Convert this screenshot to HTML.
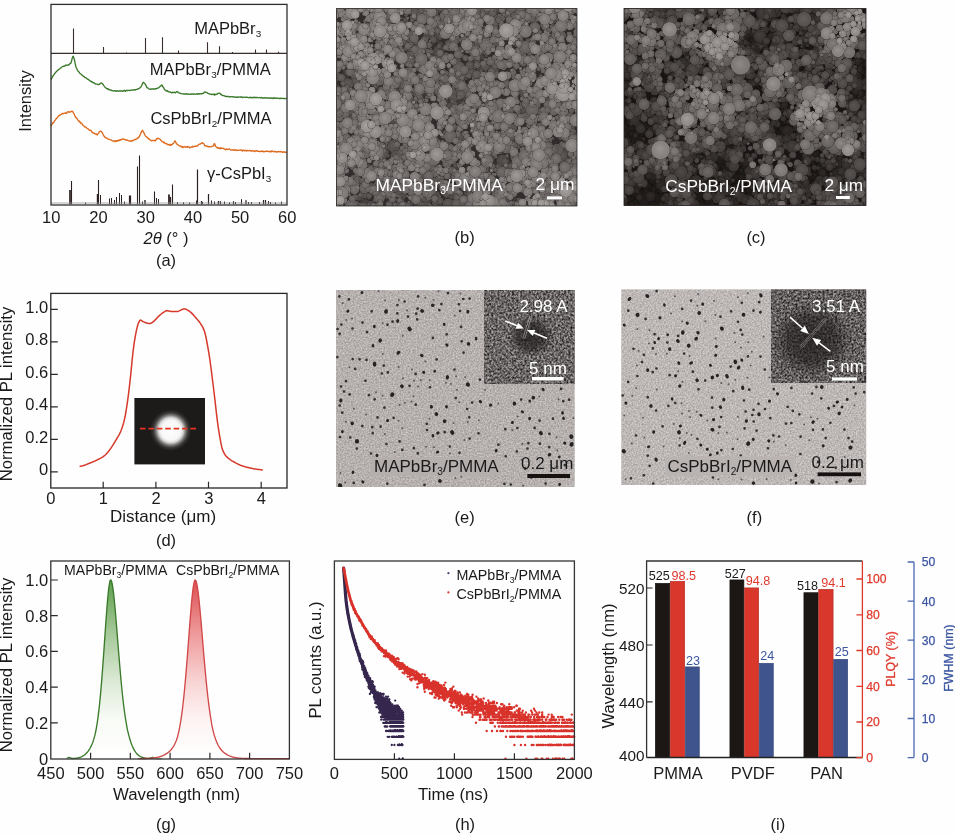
<!DOCTYPE html>
<html lang="en"><head><meta charset="utf-8"><title>Figure</title>
<style>html,body{margin:0;padding:0;background:#fefefe;overflow:hidden}svg{display:block}</style></head>
<body>
<svg width="955" height="835" viewBox="0 0 955 835" font-family='"Liberation Sans", Arial, sans-serif'>
<rect width="955" height="835" fill="#fefefe"/>
<g opacity="0.999">
<g id="a">
<path d="M73.5,53.4V28.5M103.5,53.4V47M145.5,53.4V38M162.5,53.4V37.3M178.5,53.4V50.4M207.5,53.4V42.2M219.5,53.4V46.2M232.5,53.4V52M255.5,53.4V49.5M266.5,53.4V49.5M278.5,53.4V51.8M126.5,53.4V52.4" stroke="#3a2e2c" stroke-width="1.1" fill="none"/>
<path d="M100.5,204.2V195M109.5,204.2V198.5M111.5,204.2V198M114.5,204.2V200M116.5,204.2V197M119.5,204.2V193M121.5,204.2V195M124.5,204.2V201.5M142.5,204.2V201.5M156.5,204.2V198M158.5,204.2V199M177.5,204.2V202M196.5,204.2V200.5M202.5,204.2V201.8M211.5,204.2V200.5M214.5,204.2V201.5M220.5,204.2V201.2M224.5,204.2V201.5M235.5,204.2V202M241.5,204.2V199.2M248.5,204.2V202M251.5,204.2V202M259.5,204.2V202M268.5,204.2V201M270.5,204.2V202M281.5,204.2V201.6M85.5,204.2V202.5M183.5,204.2V202.3M189.5,204.2V202.5M229.5,204.2V202.3M275.5,204.2V202.4" stroke="#2a2120" stroke-width="1.0" fill="none"/>
<path d="M71.5,204.2V181M98.5,204.2V180M137.5,204.2V166.4M139.5,204.2V155.4M154.5,204.2V191.6M172.5,204.2V184.4" stroke="#2a2120" stroke-width="1.1" fill="none"/>
<path d="M129.5,204.2V195.6M130.5,204.2V195.6M170.5,204.2V197M197.5,204.2V169.6M201.5,204.2V201M208.5,204.2V194M233.5,204.2V201.3M263.5,204.2V200M265.5,204.2V200" stroke="#2a2120" stroke-width="1.2" fill="none"/>
<path d="M246,204.2V200.3" stroke="#2a2120" stroke-width="1.3" fill="none"/>
<path d="M145,204.2V200M218.5,204.2V201" stroke="#2a2120" stroke-width="1.4" fill="none"/>
<path d="M97.6,204.2V194" stroke="#2a2120" stroke-width="1.6" fill="none"/>
<path d="M70,204.2V190" stroke="#2a2120" stroke-width="1.7" fill="none"/>
<path d="M169,204.2V194.6" stroke="#2a2120" stroke-width="1.8" fill="none"/>
<path d="M51.0,203H287.0" stroke="#9a9696" stroke-width="0.8"/>
<path d="M51,79.6 51.6,78.6 52.2,77.4 52.8,76 53.4,75.6 54,74.6 54.6,73.6 55.2,73 55.8,72.3 56.4,71.6 57,71 57.6,70.6 58.2,69.8 58.8,69.4 59.4,68.9 60,68.6 60.6,68.1 61.2,67.5 61.8,67 62.4,66.7 63,66.5 63.6,66.2 64.2,66.3 64.8,66.1 65.4,65.1 66,65.1 66.6,65.3 67.2,65.1 67.8,65 68.4,64.8 69,65 69.6,63.9 70.2,63.5 70.8,63.3 71.4,61.5 72,59.1 72.6,57 73.2,56.2 73.8,57.6 74.4,59.7 75,62.7 75.6,65.5 76.2,67.5 76.8,68.7 77.4,70.1 78,71 78.6,71.8 79.2,72.3 79.8,73.2 80.4,73.8 81,74.2 81.6,74.5 82.2,75.3 82.8,75.6 83.4,76.4 84,76.4 84.6,77.3 85.2,77.6 85.8,77.7 86.4,78.3 87,78.8 87.6,79.3 88.2,79.4 88.8,79.8 89.4,80.5 90,80.7 90.6,81.2 91.2,81.7 91.8,81.5 92.4,82.3 93,82.8 93.6,82.7 94.2,82.9 94.8,83.6 95.4,83.7 96,84.2 96.6,84.1 97.2,84.1 97.8,84.5 98.4,84.4 99,84.5 99.6,84.2 100.2,83.5 100.8,83 101.4,83 102,83.3 102.6,83.8 103.2,84.7 103.8,85.6 104.4,86.4 105,87.2 105.6,87.7 106.2,88.1 106.8,88.5 107.4,89.1 108,88.7 108.6,89.5 109.2,89.8 109.8,89.6 110.4,90.2 111,90.1 111.6,90.6 112.2,90.5 112.8,90.8 113.4,91 114,90.9 114.6,90.7 115.2,90.6 115.8,91.4 116.4,91 117,90.8 117.6,91 118.2,91 118.8,91.2 119.4,91 120,91 120.6,90.8 121.2,91.1 121.8,90.8 122.4,91.1 123,91.3 123.6,90.6 124.2,90.3 124.8,91 125.4,91.3 126,90.5 126.6,90.4 127.2,90.7 127.8,90.3 128.4,90.4 129,90.3 129.6,90.5 130.2,90.3 130.8,90.4 131.4,90.2 132,90 132.6,90.1 133.2,89.9 133.8,90 134.4,89.7 135,89.6 135.6,90 136.2,89.5 136.8,89.4 137.4,89.3 138,88.9 138.6,88.6 139.2,88.5 139.8,88 140.4,87.1 141,86.8 141.6,85.7 142.2,84.3 142.8,82.9 143.4,82.2 144,82.9 144.6,83.2 145.2,84.3 145.8,85 146.4,86.7 147,87.7 147.6,87.9 148.2,88.2 148.8,88.8 149.4,89.1 150,89.1 150.6,89.4 151.2,89 151.8,88.9 152.4,89 153,89 153.6,89 154.2,89 154.8,89 155.4,88.6 156,89 156.6,88.5 157.2,88.1 157.8,88.2 158.4,88.1 159,87.4 159.6,86.9 160.2,86.1 160.8,86.2 161.4,85.2 162,85 162.6,86.1 163.2,87.3 163.8,88 164.4,89.3 165,89.9 165.6,90.7 166.2,91 166.8,90.5 167.4,91.3 168,91.1 168.6,91.9 169.2,91.9 169.8,92.1 170.4,91.9 171,92.7 171.6,92.8 172.2,92.2 172.8,92.6 173.4,92.4 174,92.5 174.6,92.2 175.2,92.9 175.8,92.3 176.4,92.1 177,91.6 177.6,91.7 178.2,92.5 178.8,92.8 179.4,93.1 180,93.1 180.6,93.5 181.2,93.6 181.8,93.7 182.4,93.8 183,93.8 183.6,94.1 184.2,93.9 184.8,94 185.4,93.9 186,94 186.6,93.8 187.2,94.3 187.8,93.9 188.4,94 189,94.3 189.6,94.3 190.2,94.1 190.8,93.8 191.4,94.3 192,94.2 192.6,93.9 193.2,94.3 193.8,94 194.4,93.9 195,94.1 195.6,94.1 196.2,94.1 196.8,93.7 197.4,94.4 198,93.9 198.6,93.6 199.2,94.1 199.8,93.8 200.4,93.9 201,93.7 201.6,93.7 202.2,93.7 202.8,93.4 203.4,93.4 204,92.6 204.6,92 205.2,92 205.8,92.3 206.4,92.4 207,92.6 207.6,93.3 208.2,93.3 208.8,93.7 209.4,94.1 210,93.9 210.6,94.3 211.2,94.3 211.8,94.6 212.4,94.2 213,94.3 213.6,94.6 214.2,94 214.8,95.2 215.4,94.3 216,94.2 216.6,94.5 217.2,94.1 217.8,93.3 218.4,93.4 219,93.2 219.6,93.1 220.2,93.7 220.8,94.5 221.4,94.5 222,95.2 222.6,95.5 223.2,95.6 223.8,95.6 224.4,96 225,96 225.6,96.5 226.2,96.4 226.8,96.6 227.4,96.5 228,96.6 228.6,96.4 229.2,96.8 229.8,97 230.4,96.6 231,96.6 231.6,96.7 232.2,96.7 232.8,96.7 233.4,96.9 234,96.9 234.6,97.3 235.2,97 235.8,97.1 236.4,97.3 237,97 237.6,97.4 238.2,97 238.8,97 239.4,97.1 240,97.2 240.6,96.9 241.2,97.2 241.8,96.9 242.4,97.6 243,97.3 243.6,97.2 244.2,97.1 244.8,97.3 245.4,97.3 246,97.2 246.6,97.2 247.2,97.4 247.8,97.3 248.4,97.6 249,97.7 249.6,97.5 250.2,97.6 250.8,97.2 251.4,97.7 252,97.5 252.6,97.6 253.2,97.9 253.8,97.1 254.4,97.6 255,97.4 255.6,97.7 256.2,97.3 256.8,97.5 257.4,97.7 258,97.8 258.6,97.7 259.2,97.5 259.8,97.6 260.4,97.9 261,97.8 261.6,97.4 262.2,98 262.8,97.9 263.4,98 264,97.8 264.6,98 265.2,97.6 265.8,98 266.4,97.8 267,98.1 267.6,98.2 268.2,97.8 268.8,98 269.4,98 270,98.3 270.6,98.2 271.2,97.8 271.8,98.2 272.4,98.2 273,98.6 273.6,97.7 274.2,98 274.8,98.4 275.4,97.9 276,97.9 276.6,98.3 277.2,98.4 277.8,98.1 278.4,98.4 279,98.3 279.6,98.6 280.2,98.3 280.8,98.5 281.4,98.1 282,98.3 282.6,98.3 283.2,98.6 283.8,98.5 284.4,98.3 285,98.6 285.6,98.6 286.2,98.5 286.8,98.4" stroke="#3b7a2c" stroke-width="1.35" fill="none" stroke-linejoin="round"/>
<path d="M51,126.1 51.6,124.9 52.2,124 52.8,122.6 53.4,123 54,121.9 54.6,120.7 55.2,120.2 55.8,119.3 56.4,118.4 57,118.1 57.6,117.1 58.2,116.4 58.8,115.7 59.4,115.6 60,115 60.6,114.8 61.2,114.1 61.8,114 62.4,113.4 63,113.8 63.6,113.4 64.2,113.4 64.8,113.3 65.4,112.8 66,113.2 66.6,113.5 67.2,112.1 67.8,111.9 68.4,111.7 69,112.3 69.6,111.9 70.2,112 70.8,111.8 71.4,111.3 72,111.1 72.6,111.4 73.2,112.7 73.8,113.2 74.4,114.7 75,116.1 75.6,117.5 76.2,117.6 76.8,118.2 77.4,119.1 78,120.3 78.6,120.6 79.2,121.7 79.8,121.4 80.4,122.8 81,123.4 81.6,123.2 82.2,124.2 82.8,125.1 83.4,125.3 84,126.1 84.6,127 85.2,126.9 85.8,127.2 86.4,127.5 87,128.4 87.6,128.6 88.2,129.1 88.8,129.6 89.4,130.3 90,130.2 90.6,130.5 91.2,130.6 91.8,132.1 92.4,132.2 93,133 93.6,132.9 94.2,133.1 94.8,133.8 95.4,134 96,133.9 96.6,134.2 97.2,135 97.8,134.1 98.4,133.4 99,132.4 99.6,131.5 100.2,131.4 100.8,131.1 101.4,131.5 102,132.5 102.6,133.2 103.2,134.7 103.8,136.1 104.4,136.2 105,137.5 105.6,137.4 106.2,138 106.8,138.1 107.4,138.7 108,139.1 108.6,139.2 109.2,139.4 109.8,139.7 110.4,139.8 111,139.8 111.6,140.3 112.2,140.7 112.8,140.9 113.4,140.9 114,141.5 114.6,141 115.2,140.8 115.8,141.5 116.4,140.7 117,141.3 117.6,140.6 118.2,140.9 118.8,139.9 119.4,140.5 120,140 120.6,139.5 121.2,140 121.8,139.5 122.4,139.1 123,138.8 123.6,139.1 124.2,139.2 124.8,139.7 125.4,140 126,139.8 126.6,140 127.2,140.2 127.8,140.2 128.4,140.6 129,140.9 129.6,141.2 130.2,141.4 130.8,140.7 131.4,141 132,140.5 132.6,141.1 133.2,140.3 133.8,140.2 134.4,139.6 135,139.4 135.6,139.5 136.2,139 136.8,138.9 137.4,138 138,138.2 138.6,137.1 139.2,136.9 139.8,135.3 140.4,134.6 141,132.5 141.6,131.9 142.2,130.5 142.8,130.6 143.4,131.8 144,132.9 144.6,134.4 145.2,135.5 145.8,136.4 146.4,136.9 147,137.2 147.6,137.9 148.2,138.6 148.8,138.4 149.4,139.7 150,139.8 150.6,140.1 151.2,140.7 151.8,140.7 152.4,140.6 153,140.2 153.6,140.6 154.2,140.6 154.8,140.2 155.4,140.7 156,140 156.6,138.7 157.2,138.9 157.8,138.1 158.4,138.6 159,138.8 159.6,138.8 160.2,139.4 160.8,140.2 161.4,140.7 162,141.7 162.6,141.9 163.2,142 163.8,142.7 164.4,142.2 165,143.2 165.6,143.7 166.2,143.6 166.8,143.7 167.4,144.3 168,144.9 168.6,144.6 169.2,144.4 169.8,145.3 170.4,144.4 171,145.2 171.6,144.6 172.2,144.6 172.8,143.5 173.4,143.5 174,142.5 174.6,141.2 175.2,141 175.8,142.3 176.4,143.8 177,144 177.6,144.6 178.2,145 178.8,145.6 179.4,145.8 180,146 180.6,145.9 181.2,146.8 181.8,147 182.4,146.4 183,147.6 183.6,147.2 184.2,146.9 184.8,146.4 185.4,147.2 186,147.2 186.6,146.8 187.2,146.5 187.8,147.3 188.4,146.8 189,146.9 189.6,147.9 190.2,147.6 190.8,147.3 191.4,146.9 192,147.2 192.6,146.3 193.2,146.9 193.8,146.6 194.4,146.3 195,146.1 195.6,146.5 196.2,146.2 196.8,146 197.4,146 198,145.2 198.6,144.8 199.2,144.2 199.8,144.2 200.4,144.1 201,143.5 201.6,143.4 202.2,142.7 202.8,143 203.4,143.6 204,144.1 204.6,145.6 205.2,145.8 205.8,145.7 206.4,146.1 207,146.5 207.6,146.2 208.2,146.9 208.8,146.4 209.4,146.8 210,146.7 210.6,146.8 211.2,146.6 211.8,146.4 212.4,146.4 213,146.2 213.6,145.8 214.2,143.6 214.8,144 215.4,146 216,146.6 216.6,147.4 217.2,147.4 217.8,148.4 218.4,148.3 219,147.8 219.6,148.6 220.2,148.7 220.8,147.7 221.4,148.4 222,148.5 222.6,148.2 223.2,148.5 223.8,148.6 224.4,149.1 225,149.1 225.6,149.9 226.2,149 226.8,149.6 227.4,149.3 228,149.4 228.6,149.1 229.2,148.9 229.8,149.3 230.4,149.8 231,150.1 231.6,149.9 232.2,149.9 232.8,149.6 233.4,150.3 234,150.3 234.6,149.8 235.2,150 235.8,149.8 236.4,150.5 237,150.3 237.6,150.1 238.2,150.3 238.8,150.4 239.4,150.2 240,149.9 240.6,150 241.2,149.9 241.8,150.6 242.4,151.1 243,150 243.6,150.6 244.2,150.7 244.8,150.3 245.4,150.7 246,150.3 246.6,151 247.2,150.5 247.8,150.7 248.4,150.9 249,150.6 249.6,150.2 250.2,150.6 250.8,151.1 251.4,150.8 252,151 252.6,150.6 253.2,151 253.8,151.2 254.4,151 255,151.6 255.6,151 256.2,150.7 256.8,150.6 257.4,151.4 258,151.1 258.6,151.4 259.2,151.3 259.8,151.7 260.4,151.6 261,151.1 261.6,151.3 262.2,151.6 262.8,150.9 263.4,151.7 264,151.7 264.6,151.6 265.2,151.3 265.8,151.5 266.4,151.1 267,151.4 267.6,151.2 268.2,151.5 268.8,151.3 269.4,151.6 270,151.9 270.6,151.1 271.2,151.8 271.8,151 272.4,150.9 273,151.6 273.6,151.6 274.2,151.8 274.8,151.2 275.4,151.7 276,151.7 276.6,152.1 277.2,151.7 277.8,151.9 278.4,151.5 279,151.7 279.6,151.7 280.2,152 280.8,151.5 281.4,151.6 282,152 282.6,152.4 283.2,152 283.8,152 284.4,151.8 285,152.3 285.6,152.1 286.2,152.5 286.8,152.1" stroke="#de6a1c" stroke-width="1.35" fill="none" stroke-linejoin="round"/>
<path d="M51.0,53.4H287.0" stroke="#3a2e2c" stroke-width="1.2"/>
<rect x="51.0" y="4.4" width="236.0" height="200.6" fill="none" stroke="#2e2e2e" stroke-width="1.3"/>
<text x="194.2" y="33.6" font-size="16.5" fill="#1a1a1a">MAPbBr<tspan font-size="9.9" dy="3.2">3</tspan><tspan dy="-3.2">&#8203;</tspan></text>
<text x="149.7" y="75.2" font-size="16.5" fill="#1a1a1a">MAPbBr<tspan font-size="9.9" dy="3.2">3</tspan><tspan dy="-3.2">&#8203;</tspan>/PMMA</text>
<text x="150.4" y="124.2" font-size="16.5" fill="#1a1a1a">CsPbBrI<tspan font-size="9.9" dy="3.2">2</tspan><tspan dy="-3.2">&#8203;</tspan>/PMMA</text>
<text x="207" y="179.2" font-size="16.5" fill="#1a1a1a">γ-CsPbI<tspan font-size="9.9" dy="3.2">3</tspan><tspan dy="-3.2">&#8203;</tspan></text>
<text x="51.3" y="222.6" font-size="16.5" text-anchor="middle" fill="#1a1a1a">10</text>
<text x="98.5" y="222.6" font-size="16.5" text-anchor="middle" fill="#1a1a1a">20</text>
<text x="145.7" y="222.6" font-size="16.5" text-anchor="middle" fill="#1a1a1a">30</text>
<text x="192.9" y="222.6" font-size="16.5" text-anchor="middle" fill="#1a1a1a">40</text>
<text x="240.1" y="222.6" font-size="16.5" text-anchor="middle" fill="#1a1a1a">50</text>
<text x="287.3" y="222.6" font-size="16.5" text-anchor="middle" fill="#1a1a1a">60</text>
<text x="166" y="244.2" font-size="16.5" text-anchor="middle" fill="#1a1a1a"><tspan font-style="italic">2θ</tspan> (° )</text>
<text x="166" y="266.2" font-size="16.5" text-anchor="middle" fill="#1a1a1a">(a)</text>
<text transform="translate(30.5,101) rotate(-90)" font-size="16.5" text-anchor="middle" fill="#1a1a1a">Intensity</text>
</g>
<g id="d">
<defs><radialGradient id="dglow" cx="0.5" cy="0.5" r="0.5"><stop offset="0" stop-color="#ffffff"/><stop offset="0.48" stop-color="#f7f7f7"/><stop offset="0.60" stop-color="#d6d6d6"/><stop offset="0.72" stop-color="#7c7a79"/><stop offset="0.85" stop-color="#373534"/><stop offset="1" stop-color="#1d1b1a"/></radialGradient></defs>
<rect x="134.4" y="398" width="70.6" height="66.4" fill="#1d1b1a"/>
<ellipse cx="170.8" cy="430.2" rx="20.6" ry="20.8" fill="url(#dglow)"/>
<path d="M140,428.7H198.6" stroke="#e2331f" stroke-width="1.7" stroke-dasharray="5.6,2.8" fill="none"/>
<path d="M79.6,466.4 80.4,466.2 81.2,466.1 82,465.9 82.8,465.7 83.6,465.4 84.4,465.2 85.2,464.9 86,464.7 86.8,464.3 87.6,464 88.4,463.7 89.2,463.3 90,463 90.8,462.7 91.6,462.4 92.4,462 93.2,461.7 94,461.4 94.8,461 95.6,460.7 96.4,460.3 97.2,459.9 98,459.5 98.8,459.1 99.6,458.7 100.4,458.3 101.2,457.8 102,457.4 102.8,456.9 103.6,456.3 104.4,455.7 105.2,455 106,454.2 106.8,453.4 107.6,452.5 108.4,451.5 109.2,450.5 110,449.4 110.8,448.3 111.6,447.1 112.4,445.9 113.2,444.6 114,443.3 114.8,442 115.6,440.7 116.4,439.3 117.2,438 118,436.7 118.8,435.3 119.6,433.8 120.4,432.1 121.2,430.2 122,428 122.8,425.6 123.6,422.9 124.4,419.7 125.2,416 126,411.5 126.8,406.3 127.6,400.8 128.4,394.8 129.2,388.3 130,381.3 130.8,373.9 131.6,365.9 132.4,357.5 133.2,350.4 134,344.4 134.8,339.2 135.6,334.6 136.4,330.6 137.2,327.2 138,324.3 138.8,322.3 139.6,320.7 140.4,320 141.2,320.4 142,321 142.8,321.4 143.6,321.8 144.4,322.2 145.2,322.5 146,322.8 146.8,323.1 147.6,323.3 148.4,323.5 149.2,323.6 150,323.6 150.8,323.4 151.6,323 152.4,322.4 153.2,321.9 154,321.1 154.8,320.3 155.6,319.4 156.4,318.6 157.2,317.8 158,316.9 158.8,316.1 159.6,315.4 160.4,314.7 161.2,314 162,313.4 162.8,312.8 163.6,312.2 164.4,311.8 165.2,311.3 166,310.8 166.8,310.6 167.6,310.7 168.4,310.9 169.2,311 170,311.2 170.8,311.4 171.6,311.6 172.4,311.6 173.2,311.6 174,311.6 174.8,311.6 175.6,311.6 176.4,311.6 177.2,311.6 178,311.4 178.8,311.1 179.6,310.7 180.4,310.3 181.2,309.9 182,309.5 182.8,309.2 183.6,309.1 184.4,309 185.2,309.1 186,309.3 186.8,309.6 187.6,310.1 188.4,310.6 189.2,311.1 190,311.7 190.8,312.4 191.6,313.1 192.4,313.9 193.2,314.7 194,315.7 194.8,316.6 195.6,317.5 196.4,318.5 197.2,319.3 198,320.3 198.8,321.2 199.6,322.3 200.4,323.4 201.2,324.7 202,326 202.8,327.4 203.6,329.1 204.4,331.1 205.2,333.8 206,337.5 206.8,341.5 207.6,345.8 208.4,350.3 209.2,355.1 210,360.5 210.8,366.5 211.6,372.7 212.4,379.2 213.2,385.5 214,392 214.8,398.9 215.6,405.9 216.4,413 217.2,419.6 218,425.6 218.8,430.9 219.6,435.8 220.4,440.2 221.2,444.6 222,448 222.8,450.4 223.6,452.2 224.4,453.7 225.2,455 226,456 226.8,456.9 227.6,457.6 228.4,458.3 229.2,458.9 230,459.5 230.8,460.1 231.6,460.6 232.4,461.1 233.2,461.5 234,462 234.8,462.4 235.6,462.9 236.4,463.3 237.2,463.7 238,464.1 238.8,464.5 239.6,464.8 240.4,465.2 241.2,465.5 242,465.8 242.8,466 243.6,466.3 244.4,466.5 245.2,466.8 246,467 246.8,467.2 247.6,467.4 248.4,467.6 249.2,467.8 250,468 250.8,468.2 251.6,468.3 252.4,468.5 253.2,468.7 254,468.8 254.8,468.9 255.6,469.1 256.4,469.2 257.2,469.3 258,469.4 258.8,469.5 259.6,469.6 260.4,469.7 261.2,469.8 262,469.9 262.8,470" stroke="#d6392a" stroke-width="1.5" fill="none" stroke-linejoin="round"/>
<path d="M50.8,309.4h7M50.8,341.9h7M50.8,374.4h7M50.8,406.9h7M50.8,439.4h7M50.8,471.9h7M103.2,488.0v-6.2M155.9,488.0v-6.2M208.5,488.0v-6.2M261.2,488.0v-6.2" stroke="#2a2a2a" stroke-width="1.2" fill="none"/>
<rect x="50.8" y="293.4" width="236.2" height="194.6" fill="none" stroke="#262626" stroke-width="1.3"/>
<text x="48.3" y="312.8" font-size="16.5" text-anchor="end" fill="#1a1a1a">1.0</text>
<text x="48.3" y="345.3" font-size="16.5" text-anchor="end" fill="#1a1a1a">0.8</text>
<text x="48.3" y="377.8" font-size="16.5" text-anchor="end" fill="#1a1a1a">0.6</text>
<text x="48.3" y="410.3" font-size="16.5" text-anchor="end" fill="#1a1a1a">0.4</text>
<text x="48.3" y="442.8" font-size="16.5" text-anchor="end" fill="#1a1a1a">0.2</text>
<text x="48.3" y="475.3" font-size="16.5" text-anchor="end" fill="#1a1a1a">0</text>
<text x="50.8" y="504.4" font-size="16.5" text-anchor="middle" fill="#1a1a1a">0</text>
<text x="103.4" y="504.4" font-size="16.5" text-anchor="middle" fill="#1a1a1a">1</text>
<text x="156.1" y="504.4" font-size="16.5" text-anchor="middle" fill="#1a1a1a">2</text>
<text x="208.8" y="504.4" font-size="16.5" text-anchor="middle" fill="#1a1a1a">3</text>
<text x="261.4" y="504.4" font-size="16.5" text-anchor="middle" fill="#1a1a1a">4</text>
<text x="163" y="522.4" font-size="17" text-anchor="middle" fill="#1a1a1a">Distance (μm)</text>
<text x="166" y="546" font-size="16.5" text-anchor="middle" fill="#1a1a1a">(d)</text>
<text transform="translate(11.6,394) rotate(-90)" font-size="16.7" text-anchor="middle" fill="#1a1a1a">Normalized PL intensity</text>
</g>
<g id="g">
<defs><linearGradient id="gg" gradientUnits="userSpaceOnUse" x1="0" y1="580.0" x2="0" y2="758.6"><stop offset="0" stop-color="#5f9f4c"/><stop offset="0.3" stop-color="#a6c99a"/><stop offset="0.58" stop-color="#deebd8"/><stop offset="0.78" stop-color="#f8fbf6"/><stop offset="1" stop-color="#ffffff"/></linearGradient><linearGradient id="gr" gradientUnits="userSpaceOnUse" x1="0" y1="580.0" x2="0" y2="758.6"><stop offset="0" stop-color="#dc4f52"/><stop offset="0.3" stop-color="#ee9a9b"/><stop offset="0.58" stop-color="#f9d6d6"/><stop offset="0.78" stop-color="#fef3f3"/><stop offset="1" stop-color="#ffffff"/></linearGradient></defs>
<path d="M66.7,758.3 67.1,758.2 67.5,758 67.9,757.8 68.3,757.7 68.7,757.5 69.1,757.5 69.5,757.5 69.9,757.7 70.3,757.8 70.7,758 71.1,758.1 71.5,758.3 71.9,758.4 72.3,758.4 72.7,758.4 73.1,758.5 73.5,758.4 73.9,758.4 74.3,758.4 74.7,758.4 75.1,758.3 75.5,758.3 75.9,758.3 76.2,758.2 76.6,758.2 77,758.1 77.4,758 77.8,758 78.2,757.9 78.6,757.8 79,757.7 79.4,757.6 79.8,757.4 80.2,757.3 80.6,757.2 81,757 81.4,756.8 81.8,756.6 82.2,756.4 82.6,756.2 83,756 83.4,755.7 83.8,755.5 84.2,755.2 84.6,754.9 85,754.6 85.4,754.2 85.8,753.8 86.2,753.4 86.6,753 87,752.6 87.4,752.1 87.8,751.6 88.2,751.1 88.6,750.5 89,750 89.4,749.3 89.8,748.7 90.2,748 90.6,747.2 91,746.4 91.4,745.6 91.8,744.7 92.2,743.8 92.6,742.8 93,741.7 93.3,740.6 93.7,739.4 94.1,738.1 94.5,736.6 94.9,735.1 95.3,733.4 95.7,731.5 96.1,729.5 96.5,727.3 96.9,724.9 97.3,722.3 97.7,719.6 98.1,716.6 98.5,713.4 98.9,710.1 99.3,706.5 99.7,702.7 100.1,698.6 100.5,694.4 100.9,689.9 101.3,685.2 101.7,680.3 102.1,675.3 102.5,670 102.9,664.6 103.3,659.1 103.7,653.5 104.1,647.7 104.5,641.9 104.9,636.1 105.3,630.3 105.7,624.6 106.1,618.9 106.5,613.5 106.9,608.2 107.3,603.2 107.7,598.5 108.1,594.3 108.5,590.5 108.9,587.2 109.3,584.5 109.7,582.3 110,580.9 110.4,580.1 110.8,580 111.2,580.5 111.6,581.5 112,583 112.4,585 112.8,587.5 113.2,590.3 113.6,593.6 114,597.2 114.4,601.2 114.8,605.4 115.2,609.8 115.6,614.4 116,619.2 116.4,624.1 116.8,629.1 117.2,634.1 117.6,639.2 118,644.2 118.4,649.2 118.8,654.2 119.2,659.1 119.6,663.9 120,668.6 120.4,673.2 120.8,677.7 121.2,682.1 121.6,686.2 122,690.3 122.4,694.2 122.8,697.9 123.2,701.4 123.6,704.8 124,708 124.4,711.1 124.8,714 125.2,716.7 125.6,719.3 126,721.7 126.4,724 126.8,726.1 127.1,728.1 127.5,730 127.9,731.7 128.3,733.3 128.7,734.9 129.1,736.4 129.5,737.8 129.9,739.2 130.3,740.5 130.7,741.8 131.1,742.9 131.5,744 131.9,745.1 132.3,746.1 132.7,747 133.1,747.9 133.5,748.7 133.9,749.4 134.3,750.1 134.7,750.8 135.1,751.4 135.5,752 135.9,752.6 136.3,753.1 136.7,753.5 137.1,754 137.5,754.4 137.9,754.7 138.3,755.1 138.7,755.4 139.1,755.7 139.5,756 139.9,756.2 140.3,756.5 140.7,756.7 141.1,756.9 141.5,757.1 141.9,757.2 142.3,757.4 142.7,757.5 143.1,757.6 143.5,757.7 143.9,757.8 144.2,757.9 144.6,758 145,758.1 145.4,758.1 145.8,758.2 146.2,758.2 146.6,758.3 147,758.3 147.4,758.3 147.8,758.3 148.2,758.3 148.6,758.3 149,758.3 149.4,758.2 149.8,758.1 150.2,758 150.6,757.9 151,757.8 151.4,757.7 151.8,757.6 152.2,757.5 152.6,757.5 153,757.5 153.4,757.6 153.8,757.7 154.2,757.8 154.6,757.9 155,758.1 155.4,758.2 155.8,758.3 156.2,758.4 156.6,758.5 157,758.5 157.4,758.5 157.8,758.6 158.2,758.6 158.6,758.6 159,758.6 159.4,758.6 159.8,758.6 160.2,758.6 160.6,758.6 160.9,758.6 161.3,758.6 161.7,758.6 162.1,758.6L162.1,758.6L66.7,758.6Z" fill="url(#gg)" stroke="none"/>
<path d="M66.7,758.3 67.1,758.2 67.5,758 67.9,757.8 68.3,757.7 68.7,757.5 69.1,757.5 69.5,757.5 69.9,757.7 70.3,757.8 70.7,758 71.1,758.1 71.5,758.3 71.9,758.4 72.3,758.4 72.7,758.4 73.1,758.5 73.5,758.4 73.9,758.4 74.3,758.4 74.7,758.4 75.1,758.3 75.5,758.3 75.9,758.3 76.2,758.2 76.6,758.2 77,758.1 77.4,758 77.8,758 78.2,757.9 78.6,757.8 79,757.7 79.4,757.6 79.8,757.4 80.2,757.3 80.6,757.2 81,757 81.4,756.8 81.8,756.6 82.2,756.4 82.6,756.2 83,756 83.4,755.7 83.8,755.5 84.2,755.2 84.6,754.9 85,754.6 85.4,754.2 85.8,753.8 86.2,753.4 86.6,753 87,752.6 87.4,752.1 87.8,751.6 88.2,751.1 88.6,750.5 89,750 89.4,749.3 89.8,748.7 90.2,748 90.6,747.2 91,746.4 91.4,745.6 91.8,744.7 92.2,743.8 92.6,742.8 93,741.7 93.3,740.6 93.7,739.4 94.1,738.1 94.5,736.6 94.9,735.1 95.3,733.4 95.7,731.5 96.1,729.5 96.5,727.3 96.9,724.9 97.3,722.3 97.7,719.6 98.1,716.6 98.5,713.4 98.9,710.1 99.3,706.5 99.7,702.7 100.1,698.6 100.5,694.4 100.9,689.9 101.3,685.2 101.7,680.3 102.1,675.3 102.5,670 102.9,664.6 103.3,659.1 103.7,653.5 104.1,647.7 104.5,641.9 104.9,636.1 105.3,630.3 105.7,624.6 106.1,618.9 106.5,613.5 106.9,608.2 107.3,603.2 107.7,598.5 108.1,594.3 108.5,590.5 108.9,587.2 109.3,584.5 109.7,582.3 110,580.9 110.4,580.1 110.8,580 111.2,580.5 111.6,581.5 112,583 112.4,585 112.8,587.5 113.2,590.3 113.6,593.6 114,597.2 114.4,601.2 114.8,605.4 115.2,609.8 115.6,614.4 116,619.2 116.4,624.1 116.8,629.1 117.2,634.1 117.6,639.2 118,644.2 118.4,649.2 118.8,654.2 119.2,659.1 119.6,663.9 120,668.6 120.4,673.2 120.8,677.7 121.2,682.1 121.6,686.2 122,690.3 122.4,694.2 122.8,697.9 123.2,701.4 123.6,704.8 124,708 124.4,711.1 124.8,714 125.2,716.7 125.6,719.3 126,721.7 126.4,724 126.8,726.1 127.1,728.1 127.5,730 127.9,731.7 128.3,733.3 128.7,734.9 129.1,736.4 129.5,737.8 129.9,739.2 130.3,740.5 130.7,741.8 131.1,742.9 131.5,744 131.9,745.1 132.3,746.1 132.7,747 133.1,747.9 133.5,748.7 133.9,749.4 134.3,750.1 134.7,750.8 135.1,751.4 135.5,752 135.9,752.6 136.3,753.1 136.7,753.5 137.1,754 137.5,754.4 137.9,754.7 138.3,755.1 138.7,755.4 139.1,755.7 139.5,756 139.9,756.2 140.3,756.5 140.7,756.7 141.1,756.9 141.5,757.1 141.9,757.2 142.3,757.4 142.7,757.5 143.1,757.6 143.5,757.7 143.9,757.8 144.2,757.9 144.6,758 145,758.1 145.4,758.1 145.8,758.2 146.2,758.2 146.6,758.3 147,758.3 147.4,758.3 147.8,758.3 148.2,758.3 148.6,758.3 149,758.3 149.4,758.2 149.8,758.1 150.2,758 150.6,757.9 151,757.8 151.4,757.7 151.8,757.6 152.2,757.5 152.6,757.5 153,757.5 153.4,757.6 153.8,757.7 154.2,757.8 154.6,757.9 155,758.1 155.4,758.2 155.8,758.3 156.2,758.4 156.6,758.5 157,758.5 157.4,758.5 157.8,758.6 158.2,758.6 158.6,758.6 159,758.6 159.4,758.6 159.8,758.6 160.2,758.6 160.6,758.6 160.9,758.6 161.3,758.6 161.7,758.6 162.1,758.6" fill="none" stroke="#3a7a2b" stroke-width="1.35" stroke-linejoin="round"/>
<path d="M138.3,758.6 138.7,758.6 139.1,758.6 139.5,758.6 139.9,758.6 140.3,758.6 140.7,758.6 141.1,758.6 141.5,758.6 141.9,758.6 142.3,758.6 142.7,758.5 143.1,758.5 143.5,758.5 143.9,758.5 144.2,758.5 144.6,758.5 145,758.5 145.4,758.5 145.8,758.5 146.2,758.5 146.6,758.5 147,758.4 147.4,758.4 147.8,758.4 148.2,758.4 148.6,758.4 149,758.4 149.4,758.3 149.8,758.3 150.2,758.3 150.6,758.3 151,758.2 151.4,758.2 151.8,758.2 152.2,758.1 152.6,758.1 153,758 153.4,758 153.8,758 154.2,757.9 154.6,757.8 155,757.8 155.4,757.7 155.8,757.7 156.2,757.6 156.6,757.5 157,757.4 157.4,757.4 157.8,757.3 158.2,757.2 158.6,757.1 159,757 159.4,756.9 159.8,756.7 160.2,756.6 160.6,756.5 160.9,756.4 161.3,756.2 161.7,756.1 162.1,755.9 162.5,755.8 162.9,755.6 163.3,755.4 163.7,755.2 164.1,755 164.5,754.8 164.9,754.6 165.3,754.4 165.7,754.2 166.1,753.9 166.5,753.7 166.9,753.4 167.3,753.1 167.7,752.8 168.1,752.5 168.5,752.2 168.9,751.9 169.3,751.5 169.7,751.2 170.1,750.8 170.5,750.4 170.9,749.9 171.3,749.5 171.7,749 172.1,748.5 172.5,747.9 172.9,747.4 173.3,746.7 173.7,746.1 174.1,745.4 174.5,744.6 174.9,743.8 175.3,743 175.7,742 176.1,741.1 176.5,740 176.9,738.8 177.3,737.6 177.7,736.2 178,734.8 178.4,733.2 178.8,731.5 179.2,729.6 179.6,727.7 180,725.5 180.4,723.2 180.8,720.8 181.2,718.2 181.6,715.4 182,712.4 182.4,709.3 182.8,706 183.2,702.5 183.6,698.8 184,695 184.4,690.9 184.8,686.7 185.2,682.3 185.6,677.8 186,673.1 186.4,668.2 186.8,663.3 187.2,658.2 187.6,653 188,647.8 188.4,642.5 188.8,637.2 189.2,631.9 189.6,626.6 190,621.4 190.4,616.4 190.8,611.4 191.2,606.7 191.6,602.2 192,598 192.4,594.2 192.8,590.7 193.2,587.6 193.6,585 194,583 194.4,581.4 194.7,580.4 195.1,580 195.5,580.2 195.9,580.8 196.3,581.9 196.7,583.4 197.1,585.4 197.5,587.8 197.9,590.5 198.3,593.6 198.7,597.1 199.1,600.8 199.5,604.8 199.9,608.9 200.3,613.3 200.7,617.8 201.1,622.4 201.5,627.1 201.9,631.9 202.3,636.7 202.7,641.5 203.1,646.3 203.5,651 203.9,655.7 204.3,660.4 204.7,664.9 205.1,669.4 205.5,673.7 205.9,678 206.3,682.1 206.7,686.1 207.1,689.9 207.5,693.6 207.9,697.2 208.3,700.6 208.7,703.9 209.1,707 209.5,709.9 209.9,712.7 210.3,715.4 210.7,717.9 211.1,720.3 211.5,722.6 211.8,724.7 212.2,726.7 212.6,728.5 213,730.3 213.4,731.9 213.8,733.4 214.2,734.9 214.6,736.2 215,737.4 215.4,738.6 215.8,739.8 216.2,740.8 216.6,741.8 217,742.8 217.4,743.6 217.8,744.5 218.2,745.2 218.6,746 219,746.7 219.4,747.3 219.8,747.9 220.2,748.5 220.6,749 221,749.5 221.4,750 221.8,750.5 222.2,750.9 222.6,751.3 223,751.7 223.4,752.1 223.8,752.4 224.2,752.7 224.6,753.1 225,753.4 225.4,753.6 225.8,753.9 226.2,754.2 226.6,754.4 227,754.6 227.4,754.9 227.8,755.1 228.2,755.3 228.5,755.5 228.9,755.7 229.3,755.8 229.7,756 230.1,756.2 230.5,756.3 230.9,756.4 231.3,756.6 231.7,756.7 232.1,756.8 232.5,756.9 232.9,757.1 233.3,757.2 233.7,757.3 234.1,757.3 234.5,757.4 234.9,757.5 235.3,757.6 235.7,757.7 236.1,757.7 236.5,757.8 236.9,757.8 237.3,757.9 237.7,758 238.1,758 238.5,758.1 238.9,758.1 239.3,758.1 239.7,758.2 240.1,758.2 240.5,758.2 240.9,758.3 241.3,758.3 241.7,758.3 242.1,758.3 242.5,758.4 242.9,758.4 243.3,758.4 243.7,758.4 244.1,758.4 244.5,758.5 244.9,758.5 245.3,758.5 245.6,758.5 246,758.5 246.4,758.5 246.8,758.5 247.2,758.5 247.6,758.5 248,758.5 248.4,758.5 248.8,758.5 249.2,758.6 249.6,758.6 250,758.6 250.4,758.6 250.8,758.6 251.2,758.6 251.6,758.6 252,758.6 252.4,758.6 252.8,758.6 253.2,758.6 253.6,758.6 254,758.6 254.4,758.6 254.8,758.6 255.2,758.6 255.6,758.6 256,758.6 256.4,758.6 256.8,758.6 257.2,758.6 257.6,758.6 258,758.6 258.4,758.6 258.8,758.6 259.2,758.6 259.6,758.6 260,758.6 260.4,758.6 260.8,758.6 261.2,758.6 261.6,758.6 262,758.6 262.3,758.6 262.7,758.6 263.1,758.6 263.5,758.6 263.9,758.6 264.3,758.6 264.7,758.6 265.1,758.6 265.5,758.6 265.9,758.6 266.3,758.6 266.7,758.6 267.1,758.6 267.5,758.6 267.9,758.6 268.3,758.6 268.7,758.6 269.1,758.6 269.5,758.6 269.9,758.6 270.3,758.6 270.7,758.6 271.1,758.6 271.5,758.6 271.9,758.6 272.3,758.6 272.7,758.6 273.1,758.6 273.5,758.6 273.9,758.6 274.3,758.6 274.7,758.6 275.1,758.6 275.5,758.6 275.9,758.6 276.3,758.6 276.7,758.6 277.1,758.6 277.5,758.6 277.9,758.6 278.3,758.6 278.7,758.6 279.1,758.6 279.4,758.6 279.8,758.6 280.2,758.6 280.6,758.6 281,758.6 281.4,758.6 281.8,758.6 282.2,758.6 282.6,758.6 283,758.6 283.4,758.6 283.8,758.6 284.2,758.6 284.6,758.6 285,758.6 285.4,758.6 285.8,758.6 286.2,758.6 286.6,758.6 287,758.6 287.4,758.6 287.8,758.6 288.2,758.6 288.6,758.6 289,758.6 289.4,758.6L289.4,758.6L138.3,758.6Z" fill="url(#gr)" stroke="none"/>
<path d="M138.3,758.6 138.7,758.6 139.1,758.6 139.5,758.6 139.9,758.6 140.3,758.6 140.7,758.6 141.1,758.6 141.5,758.6 141.9,758.6 142.3,758.6 142.7,758.5 143.1,758.5 143.5,758.5 143.9,758.5 144.2,758.5 144.6,758.5 145,758.5 145.4,758.5 145.8,758.5 146.2,758.5 146.6,758.5 147,758.4 147.4,758.4 147.8,758.4 148.2,758.4 148.6,758.4 149,758.4 149.4,758.3 149.8,758.3 150.2,758.3 150.6,758.3 151,758.2 151.4,758.2 151.8,758.2 152.2,758.1 152.6,758.1 153,758 153.4,758 153.8,758 154.2,757.9 154.6,757.8 155,757.8 155.4,757.7 155.8,757.7 156.2,757.6 156.6,757.5 157,757.4 157.4,757.4 157.8,757.3 158.2,757.2 158.6,757.1 159,757 159.4,756.9 159.8,756.7 160.2,756.6 160.6,756.5 160.9,756.4 161.3,756.2 161.7,756.1 162.1,755.9 162.5,755.8 162.9,755.6 163.3,755.4 163.7,755.2 164.1,755 164.5,754.8 164.9,754.6 165.3,754.4 165.7,754.2 166.1,753.9 166.5,753.7 166.9,753.4 167.3,753.1 167.7,752.8 168.1,752.5 168.5,752.2 168.9,751.9 169.3,751.5 169.7,751.2 170.1,750.8 170.5,750.4 170.9,749.9 171.3,749.5 171.7,749 172.1,748.5 172.5,747.9 172.9,747.4 173.3,746.7 173.7,746.1 174.1,745.4 174.5,744.6 174.9,743.8 175.3,743 175.7,742 176.1,741.1 176.5,740 176.9,738.8 177.3,737.6 177.7,736.2 178,734.8 178.4,733.2 178.8,731.5 179.2,729.6 179.6,727.7 180,725.5 180.4,723.2 180.8,720.8 181.2,718.2 181.6,715.4 182,712.4 182.4,709.3 182.8,706 183.2,702.5 183.6,698.8 184,695 184.4,690.9 184.8,686.7 185.2,682.3 185.6,677.8 186,673.1 186.4,668.2 186.8,663.3 187.2,658.2 187.6,653 188,647.8 188.4,642.5 188.8,637.2 189.2,631.9 189.6,626.6 190,621.4 190.4,616.4 190.8,611.4 191.2,606.7 191.6,602.2 192,598 192.4,594.2 192.8,590.7 193.2,587.6 193.6,585 194,583 194.4,581.4 194.7,580.4 195.1,580 195.5,580.2 195.9,580.8 196.3,581.9 196.7,583.4 197.1,585.4 197.5,587.8 197.9,590.5 198.3,593.6 198.7,597.1 199.1,600.8 199.5,604.8 199.9,608.9 200.3,613.3 200.7,617.8 201.1,622.4 201.5,627.1 201.9,631.9 202.3,636.7 202.7,641.5 203.1,646.3 203.5,651 203.9,655.7 204.3,660.4 204.7,664.9 205.1,669.4 205.5,673.7 205.9,678 206.3,682.1 206.7,686.1 207.1,689.9 207.5,693.6 207.9,697.2 208.3,700.6 208.7,703.9 209.1,707 209.5,709.9 209.9,712.7 210.3,715.4 210.7,717.9 211.1,720.3 211.5,722.6 211.8,724.7 212.2,726.7 212.6,728.5 213,730.3 213.4,731.9 213.8,733.4 214.2,734.9 214.6,736.2 215,737.4 215.4,738.6 215.8,739.8 216.2,740.8 216.6,741.8 217,742.8 217.4,743.6 217.8,744.5 218.2,745.2 218.6,746 219,746.7 219.4,747.3 219.8,747.9 220.2,748.5 220.6,749 221,749.5 221.4,750 221.8,750.5 222.2,750.9 222.6,751.3 223,751.7 223.4,752.1 223.8,752.4 224.2,752.7 224.6,753.1 225,753.4 225.4,753.6 225.8,753.9 226.2,754.2 226.6,754.4 227,754.6 227.4,754.9 227.8,755.1 228.2,755.3 228.5,755.5 228.9,755.7 229.3,755.8 229.7,756 230.1,756.2 230.5,756.3 230.9,756.4 231.3,756.6 231.7,756.7 232.1,756.8 232.5,756.9 232.9,757.1 233.3,757.2 233.7,757.3 234.1,757.3 234.5,757.4 234.9,757.5 235.3,757.6 235.7,757.7 236.1,757.7 236.5,757.8 236.9,757.8 237.3,757.9 237.7,758 238.1,758 238.5,758.1 238.9,758.1 239.3,758.1 239.7,758.2 240.1,758.2 240.5,758.2 240.9,758.3 241.3,758.3 241.7,758.3 242.1,758.3 242.5,758.4 242.9,758.4 243.3,758.4 243.7,758.4 244.1,758.4 244.5,758.5 244.9,758.5 245.3,758.5 245.6,758.5 246,758.5 246.4,758.5 246.8,758.5 247.2,758.5 247.6,758.5 248,758.5 248.4,758.5 248.8,758.5 249.2,758.6 249.6,758.6 250,758.6 250.4,758.6 250.8,758.6 251.2,758.6 251.6,758.6 252,758.6 252.4,758.6 252.8,758.6 253.2,758.6 253.6,758.6 254,758.6 254.4,758.6 254.8,758.6 255.2,758.6 255.6,758.6 256,758.6 256.4,758.6 256.8,758.6 257.2,758.6 257.6,758.6 258,758.6 258.4,758.6 258.8,758.6 259.2,758.6 259.6,758.6 260,758.6 260.4,758.6 260.8,758.6 261.2,758.6 261.6,758.6 262,758.6 262.3,758.6 262.7,758.6 263.1,758.6 263.5,758.6 263.9,758.6 264.3,758.6 264.7,758.6 265.1,758.6 265.5,758.6 265.9,758.6 266.3,758.6 266.7,758.6 267.1,758.6 267.5,758.6 267.9,758.6 268.3,758.6 268.7,758.6 269.1,758.6 269.5,758.6 269.9,758.6 270.3,758.6 270.7,758.6 271.1,758.6 271.5,758.6 271.9,758.6 272.3,758.6 272.7,758.6 273.1,758.6 273.5,758.6 273.9,758.6 274.3,758.6 274.7,758.6 275.1,758.6 275.5,758.6 275.9,758.6 276.3,758.6 276.7,758.6 277.1,758.6 277.5,758.6 277.9,758.6 278.3,758.6 278.7,758.6 279.1,758.6 279.4,758.6 279.8,758.6 280.2,758.6 280.6,758.6 281,758.6 281.4,758.6 281.8,758.6 282.2,758.6 282.6,758.6 283,758.6 283.4,758.6 283.8,758.6 284.2,758.6 284.6,758.6 285,758.6 285.4,758.6 285.8,758.6 286.2,758.6 286.6,758.6 287,758.6 287.4,758.6 287.8,758.6 288.2,758.6 288.6,758.6 289,758.6 289.4,758.6" fill="none" stroke="#d24848" stroke-width="1.35" stroke-linejoin="round"/>
<path d="M50.8,580h7M50.8,615.7h7M50.8,651.4h7M50.8,687.1h7M50.8,722.8h7M90.6,759.0v-6.2M130.3,759.0v-6.2M170.1,759.0v-6.2M209.9,759.0v-6.2M249.6,759.0v-6.2" stroke="#2a2a2a" stroke-width="1.2" fill="none"/>
<rect x="50.8" y="561.0" width="238.6" height="198" fill="none" stroke="#333" stroke-width="1.3"/>
<text x="48.3" y="585.9" font-size="16.5" text-anchor="end" fill="#1a1a1a">1.0</text>
<text x="48.3" y="621.6" font-size="16.5" text-anchor="end" fill="#1a1a1a">0.8</text>
<text x="48.3" y="657.3" font-size="16.5" text-anchor="end" fill="#1a1a1a">0.6</text>
<text x="48.3" y="693" font-size="16.5" text-anchor="end" fill="#1a1a1a">0.4</text>
<text x="48.3" y="728.7" font-size="16.5" text-anchor="end" fill="#1a1a1a">0.2</text>
<text x="48.3" y="764.5" font-size="16.5" text-anchor="end" fill="#1a1a1a">0</text>
<text x="50.8" y="779.4" font-size="16.5" text-anchor="middle" fill="#1a1a1a">450</text>
<text x="90.6" y="779.4" font-size="16.5" text-anchor="middle" fill="#1a1a1a">500</text>
<text x="130.3" y="779.4" font-size="16.5" text-anchor="middle" fill="#1a1a1a">550</text>
<text x="170.1" y="779.4" font-size="16.5" text-anchor="middle" fill="#1a1a1a">600</text>
<text x="209.9" y="779.4" font-size="16.5" text-anchor="middle" fill="#1a1a1a">650</text>
<text x="249.6" y="779.4" font-size="16.5" text-anchor="middle" fill="#1a1a1a">700</text>
<text x="289.4" y="779.4" font-size="16.5" text-anchor="middle" fill="#1a1a1a">750</text>
<text x="176.6" y="800.4" font-size="16.8" text-anchor="middle" fill="#1a1a1a">Wavelength (nm)</text>
<text x="166" y="830" font-size="16.5" text-anchor="middle" fill="#1a1a1a">(g)</text>
<text transform="translate(11.6,665) rotate(-90)" font-size="16.7" text-anchor="middle" fill="#1a1a1a">Normalized PL intensity</text>
<text x="64" y="575.3" font-size="14.1" fill="#1a1a1a">MAPbBr<tspan font-size="8.5" dy="2.6">3</tspan><tspan dy="-2.6">&#8203;</tspan>/PMMA</text>
<text x="176" y="575.3" font-size="14.1" fill="#1a1a1a">CsPbBrI<tspan font-size="8.5" dy="2.6">2</tspan><tspan dy="-2.6">&#8203;</tspan>/PMMA</text>
</g>
<g id="h">
<path d="M343.6,568 344.1,574.7 344.6,581.4 345.1,588.7 345.6,595.6 346.1,600.9 346.6,604.9 347.1,608.5 347.6,611.7 348.1,614.6 348.6,617.3 349.1,619.8 349.6,622.1 350.1,624.5 350.6,626.7 351.1,628.8 351.6,630.8 352.1,632.7 352.6,634.6 353.1,636.3 353.6,638.1 354.1,639.8 354.6,641.4 355.1,643 355.6,644.7 356.1,646.3 356.6,648 357.1,649.6 357.6,651.1 358.1,652.7 358.6,654.2 359.1,655.7 359.6,657.2 360.1,658.7 360.6,660.1 361.1,661.5 361.6,662.9 362.1,664.3 362.6,665.6 363.1,666.9 363.6,668.3 364.1,669.5 364.6,670.8 365.1,672.1 365.6,673.3 366.1,674.5 366.6,675.7 367.1,676.9 367.6,678.1 368.1,679.2 368.6,680.4 369.1,681.5 369.6,682.7 370.1,683.8 370.6,684.9 371.1,686 371.6,687.1 372.1,688.2 372.6,689.2 373.1,690.3 373.6,691.2 374.1,692.2 374.6,693.1 375.1,694 375.6,694.9" stroke="#35264d" stroke-width="3.2" fill="none" stroke-linecap="round" stroke-linejoin="round"/>
<path d="M343.7,568.4h0M343.7,568.9h0M343.8,571.3h0M344.1,573.9h0M344.2,576.7h0M344.3,578.5h0M344.3,577h0M344.4,578.6h0M344.7,581.1h0M345.3,591.4h0M345.4,592.8h0M345.9,598.6h0M346,601.1h0M346.3,601.9h0M346.4,602.8h0M346.4,604.4h0M346.4,605.2h0M346.5,604.6h0M346.9,607.4h0M347.1,608.8h0M347.1,609.7h0M347.3,610.2h0M347.6,612h0M347.6,611.2h0M347.7,614h0M348,614.1h0M348,615h0M348.2,615.7h0M348.3,615.4h0M348.5,615.3h0M348.7,618.2h0M349.1,620.3h0M349.1,620.3h0M349.2,621h0M349.5,621.4h0M349.5,622h0M349.9,624.6h0M350.1,624h0M350.2,625.1h0M350.4,625.4h0M350.4,626.1h0M350.5,627.7h0M350.6,626.3h0M350.7,627.4h0M351,629.2h0M351.2,630.3h0M351.5,630.4h0M351.7,630.3h0M351.8,630.9h0M352.2,633.8h0M352.2,633.4h0M352.2,633.7h0M352.7,634.7h0M352.9,637.5h0M352.9,636.7h0M353,637.8h0M353.1,637.3h0M353.1,635.5h0M353.2,637.9h0M353.2,634.5h0M353.6,638.4h0M353.7,636.5h0M353.8,639.2h0M353.8,638.8h0M354.1,638.4h0M354.1,638.1h0M354.5,641.6h0M354.5,640.1h0M354.6,642.5h0M354.7,640.7h0M354.9,643.4h0M355,643.9h0M355.1,644.4h0M355.2,640.5h0M355.3,645.2h0M355.4,643.3h0M355.4,643h0M355.7,644.3h0M355.8,646.1h0M356,645.4h0M356,644.5h0M356.2,643.6h0M356.3,649.6h0M357.2,647.5h0M357.4,650.8h0M357.9,652.3h0M358.2,652.3h0M358.3,650.9h0M358.6,655.4h0M358.7,653.5h0M358.9,656.2h0M359.1,654.7h0M359.2,655.9h0M359.6,657.4h0M359.7,655.3h0M359.7,659.3h0M359.7,661h0M359.7,653.8h0M359.8,656.1h0M359.9,660.7h0M360.1,656h0M360.2,659h0M360.5,660.2h0M360.7,659h0M361,660.5h0M361.4,659.8h0M361.4,660.7h0M361.6,663.7h0M361.8,662.8h0M361.9,661.6h0M362.1,667.2h0M362.1,661.5h0M362.1,663.2h0M362.2,666.4h0M362.2,662.6h0M362.3,665.2h0M362.3,669.5h0M362.3,666h0M362.5,668.3h0M362.5,662.5h0M362.5,663.9h0M362.5,666.6h0M362.6,664.8h0M362.6,664.6h0M362.6,666.8h0M362.6,664.6h0M362.6,660.8h0M362.6,662.8h0M362.6,665.8h0M362.6,664.8h0M362.8,664.1h0M362.8,667h0M362.8,665h0M362.9,663.5h0M362.9,661.8h0M363,664.4h0M363.1,668.3h0M363.1,669.5h0M363.1,663.9h0M363.2,669.5h0M363.2,666.4h0M363.2,669h0M363.2,667.7h0M363.3,669.5h0M363.3,664.6h0M363.3,666h0M363.3,662.6h0M363.4,670.5h0M363.4,666h0M363.4,666.6h0M363.4,670.5h0M363.4,668.1h0M363.5,667.4h0M363.5,666.4h0M363.6,668.8h0M363.7,672.1h0M363.7,667.4h0M363.8,669.3h0M363.8,670.5h0M363.8,669.7h0M363.9,674.1h0M363.9,670.7h0M363.9,670.2h0M364.1,672.1h0M364.1,667h0M364.1,667.9h0M364.2,674.1h0M364.3,670h0M364.3,671h0M364.3,666.2h0M364.3,667.9h0M364.3,667.7h0M364.4,672.9h0M364.4,670.5h0M364.4,671h0M364.4,670.5h0M364.5,671h0M364.5,667.9h0M364.5,671.5h0M364.5,671.5h0M364.5,671.3h0M364.5,670.2h0M364.6,670.5h0M364.6,673.2h0M364.6,668.3h0M364.8,676h0M364.8,672.6h0M364.8,672.6h0M364.8,673.2h0M364.9,668.3h0M364.9,672.3h0M364.9,677h0M365,672.1h0M365,674.7h0M365,676h0M365.1,673.8h0M365.1,667.9h0M365.1,672.9h0M365.1,670.2h0M365.3,672.6h0M365.3,675.3h0M365.3,672.3h0M365.3,669.5h0M365.4,675.3h0M365.5,672.6h0M365.5,677.3h0M365.6,673.8h0M365.6,671.5h0M365.6,669.5h0M365.6,676h0M365.6,671h0M365.6,676.6h0M365.7,671.5h0M365.7,675.6h0M365.7,674.1h0M365.8,677.3h0M365.8,674.7h0M365.9,674.4h0M365.9,672.9h0M365.9,670.5h0M366,675.3h0M366.1,677h0M366.2,672.1h0M366.4,673.8h0M366.4,674.7h0M366.4,678.8h0M366.5,672.9h0M366.6,674.7h0M366.6,672.3h0M366.6,677.7h0M366.6,677h0M366.6,673.8h0M366.6,677.7h0M366.6,674.7h0M366.7,677.3h0M366.8,676h0M366.8,680.4h0M366.8,672.3h0M366.8,675.3h0M366.8,677h0M366.9,677h0M366.9,675.3h0M366.9,673.8h0M366.9,679.2h0M366.9,676.6h0M367,674.4h0M367,678.1h0M367,678.8h0M367.1,676h0M367.1,678.8h0M367.1,677h0M367.2,674.7h0M367.2,677.7h0M367.2,674.1h0M367.3,673.2h0M367.3,675h0M367.3,676.6h0M367.3,680.8h0M367.5,677.7h0M367.5,675.3h0M367.5,681.2h0M367.5,680h0M367.6,676.6h0M367.6,678.4h0M367.6,679.2h0M367.6,680.4h0M367.7,676h0M367.7,680h0M367.7,680h0M367.8,676.3h0M367.8,681.7h0M367.8,681.2h0M367.8,677.3h0M367.9,676.6h0M368,680h0M368,675.3h0M368,682.1h0M368,677.3h0M368,679.2h0M368,677h0M368,679.2h0M368,676.6h0M368.1,680.8h0M368.2,678.8h0M368.3,676.6h0M368.3,683h0M368.4,675.6h0M368.4,686.6h0M368.6,679.6h0M368.7,678.4h0M368.7,680.8h0M368.7,687.8h0M368.7,683.5h0M368.7,683h0M368.7,678.1h0M368.8,684h0M368.8,677.3h0M368.8,684h0M368.9,680.8h0M369,684.5h0M369,685.5h0M369,682.1h0M369.1,681.7h0M369.3,685h0M369.3,683.5h0M369.3,685h0M369.3,680h0M369.3,678.4h0M369.3,686.1h0M369.3,688.4h0M369.4,685h0M369.5,684.5h0M369.6,685.5h0M369.6,683h0M369.6,680.8h0M369.6,680.8h0M369.8,687.8h0M369.8,682.1h0M369.8,689h0M369.9,694h0M369.9,684h0M369.9,685h0M369.9,683h0M370,682.6h0M370.1,678.1h0M370.1,684h0M370.1,685.5h0M370.1,681.2h0M370.1,686.6h0M370.1,685h0M370.2,679.2h0M370.2,685.5h0M370.2,680.8h0M370.2,684h0M370.2,684.5h0M370.2,688.4h0M370.3,687.8h0M370.4,682.6h0M370.4,687.8h0M370.4,681.2h0M370.5,680.4h0M370.5,683.5h0M370.5,683h0M370.5,685.5h0M370.5,689h0M370.5,689h0M370.6,689.6h0M370.6,687.8h0M370.8,682.1h0M370.8,685h0M370.8,692.4h0M370.8,684h0M370.9,685.5h0M370.9,681.2h0M371.1,682.6h0M371.1,691.7h0M371.2,684h0M371.3,684h0M371.3,681.7h0M371.4,687.2h0M371.4,684.5h0M371.4,688.4h0M371.4,691.7h0M371.8,683.5h0M371.8,683h0M371.8,686.6h0M371.8,689h0M371.9,691.7h0M371.9,691h0M371.9,689.6h0M372,690.3h0M372.1,691.7h0M372.2,686.1h0M372.2,687.8h0M372.2,688.4h0M372.2,691.7h0M372.3,684.5h0M372.3,688.4h0M372.3,684.5h0M372.4,683h0M372.4,687.8h0M372.4,681.2h0M372.5,689.6h0M372.5,689.6h0M372.5,689h0M372.5,692.4h0M372.6,691.7h0M372.6,691h0M372.6,690.3h0M372.7,690.3h0M372.8,689h0M372.8,689h0M372.8,692.4h0M372.9,687.8h0M372.9,682.1h0M372.9,693.2h0M373,686.6h0M373,685h0M373,689.6h0M373.1,685h0M373.1,689h0M373.1,689.6h0M373.2,685.5h0M373.3,691h0M373.4,693.2h0M373.4,687.2h0M373.4,693.2h0M373.4,687.2h0M373.4,687.2h0M373.5,693.2h0M373.5,689.6h0M373.5,686.6h0M373.5,688.4h0M373.6,692.4h0M373.6,686.6h0M373.8,686.1h0M373.9,696.6h0M373.9,694h0M374,691.7h0M374,689h0M374,697.5h0M374.1,687.8h0M374.2,694h0M374.2,697.5h0M374.2,695.7h0M374.2,694h0M374.2,693.2h0M374.3,687.8h0M374.3,687.8h0M374.4,689h0M374.4,691.7h0M374.5,689.6h0M374.5,689h0M374.5,696.6h0M374.5,692.4h0M374.6,690.3h0M374.6,699.5h0M374.6,696.6h0M374.7,686.6h0M374.7,692.4h0M374.8,691h0M374.8,695.7h0M374.8,697.5h0M374.8,692.4h0M374.8,694.8h0M375,693.2h0M375,690.3h0M375.2,692.4h0M375.2,693.2h0M375.2,703h0M375.2,694.8h0M375.3,691h0M375.3,696.6h0M375.3,698.5h0M375.4,695.7h0M375.5,696.6h0M375.5,699.5h0M375.5,690.3h0M375.6,691.7h0M375.6,692.4h0M375.6,697.5h0M375.6,699.5h0M375.6,701.8h0M375.6,703h0M375.6,691.7h0M375.7,693.2h0M375.7,694h0M375.8,693.2h0M375.8,698.5h0M375.8,701.8h0M375.8,693.2h0M375.9,697.5h0M375.9,699.5h0M375.9,694.8h0M376.1,693.2h0M376.1,694h0M376.1,694.8h0M376.2,703h0M376.2,692.4h0M376.3,693.2h0M376.3,703h0M376.4,694h0M376.4,694.8h0M376.5,707.2h0M376.5,692.4h0M376.5,695.7h0M376.6,694h0M376.6,696.6h0M376.6,694.8h0M376.7,701.8h0M376.7,694h0M376.7,697.5h0M376.7,697.5h0M376.7,696.6h0M376.7,698.5h0M376.9,695.7h0M376.9,699.5h0M376.9,694.8h0M377,696.6h0M377.2,694.8h0M377.2,698.5h0M377.3,694.8h0M377.3,700.6h0M377.4,692.4h0M377.5,694h0M377.5,694.8h0M377.5,704.3h0M377.6,697.5h0M377.6,694.8h0M377.6,700.6h0M377.7,707.2h0M377.9,700.6h0M377.9,701.8h0M378,692.4h0M378,694h0M378,696.6h0M378,698.5h0M378.1,700.6h0M378.1,693.2h0M378.2,695.7h0M378.2,704.3h0M378.3,698.5h0M378.3,704.3h0M378.4,701.8h0M378.5,698.5h0M378.5,703h0M378.5,705.7h0M378.6,700.6h0M378.6,700.6h0M378.6,694.8h0M378.6,704.3h0M378.6,697.5h0M378.7,701.8h0M378.7,703h0M378.8,696.6h0M378.9,699.5h0M378.9,698.5h0M378.9,697.5h0M379,699.5h0M379,708.8h0M379.1,708.8h0M379.1,697.5h0M379.1,703h0M379.1,695.7h0M379.2,703h0M379.2,698.5h0M379.3,698.5h0M379.3,697.5h0M379.3,712.5h0M379.3,697.5h0M379.4,705.7h0M379.5,700.6h0M379.5,697.5h0M379.7,697.5h0M379.8,701.8h0M379.8,697.5h0M379.8,699.5h0M379.9,696.6h0M380,694h0M380,698.5h0M380,696.6h0M380,710.6h0M380,701.8h0M380,705.7h0M380.1,712.5h0M380.1,704.3h0M380.1,705.7h0M380.1,695.7h0M380.1,695.7h0M380.1,700.6h0M380.1,705.7h0M380.1,712.5h0M380.1,707.2h0M380.1,699.5h0M380.2,704.3h0M380.2,695.7h0M380.2,708.8h0M380.2,707.2h0M380.2,704.3h0M380.2,701.8h0M380.2,693.2h0M380.3,701.8h0M380.3,708.8h0M380.3,708.8h0M380.3,705.7h0M380.3,707.2h0M380.3,701.8h0M380.4,694.8h0M380.4,705.7h0M380.4,703h0M380.4,708.8h0M380.4,699.5h0M380.4,697.5h0M380.4,707.2h0M380.4,704.3h0M380.4,707.2h0M380.5,707.2h0M380.5,697.5h0M380.5,705.7h0M380.5,701.8h0M380.5,710.6h0M380.5,710.6h0M380.6,701.8h0M380.6,697.5h0M380.6,704.3h0M380.6,703h0M380.6,701.8h0M380.6,701.8h0M380.6,701.8h0M380.7,710.6h0M380.7,698.5h0M380.7,707.2h0M380.8,703h0M380.8,708.8h0M380.8,710.6h0M380.8,707.2h0M380.8,700.6h0M380.9,700.6h0M380.9,703h0M380.9,695.7h0M380.9,707.2h0M380.9,703h0M380.9,704.3h0M380.9,700.6h0M380.9,697.5h0M381,707.2h0M381,707.2h0M381,707.2h0M381,701.8h0M381,712.5h0M381,717h0M381,705.7h0M381,697.5h0M381.1,701.8h0M381.1,704.3h0M381.1,708.8h0M381.1,700.6h0M381.1,703h0M381.1,710.6h0M381.2,712.5h0M381.2,700.6h0M381.2,694.8h0M381.2,703h0M381.2,704.3h0M381.2,719.7h0M381.3,699.5h0M381.3,703h0M381.3,705.7h0M381.3,701.8h0M381.3,697.5h0M381.3,707.2h0M381.3,717h0M381.3,712.5h0M381.3,701.8h0M381.3,705.7h0M381.4,703h0M381.4,698.5h0M381.4,705.7h0M381.4,707.2h0M381.5,707.2h0M381.5,703h0M381.5,699.5h0M381.5,703h0M381.5,710.6h0M381.5,712.5h0M381.5,708.8h0M381.5,708.8h0M381.5,705.7h0M381.6,701.8h0M381.6,703h0M381.6,704.3h0M381.6,707.2h0M381.6,705.7h0M381.7,707.2h0M381.7,705.7h0M381.7,710.6h0M381.7,704.3h0M381.7,704.3h0M381.7,712.5h0M381.7,701.8h0M381.7,708.8h0M381.8,708.8h0M381.8,710.6h0M381.8,696.6h0M381.8,697.5h0M381.8,699.5h0M381.8,700.6h0M381.9,708.8h0M381.9,717h0M381.9,705.7h0M381.9,705.7h0M381.9,704.3h0M382,694h0M382,705.7h0M382,698.5h0M382,710.6h0M382,705.7h0M382,698.5h0M382,708.8h0M382.1,704.3h0M382.1,710.6h0M382.1,701.8h0M382.1,708.8h0M382.1,707.2h0M382.1,708.8h0M382.1,708.8h0M382.2,712.5h0M382.2,707.2h0M382.2,710.6h0M382.2,703h0M382.2,704.3h0M382.2,712.5h0M382.2,710.6h0M382.2,705.7h0M382.2,701.8h0M382.2,705.7h0M382.3,705.7h0M382.3,699.5h0M382.3,707.2h0M382.3,710.6h0M382.3,705.7h0M382.3,707.2h0M382.3,707.2h0M382.3,714.6h0M382.4,705.7h0M382.4,710.6h0M382.4,708.8h0M382.4,710.6h0M382.4,717h0M382.4,704.3h0M382.4,707.2h0M382.4,717h0M382.5,700.6h0M382.5,708.8h0M382.5,698.5h0M382.5,700.6h0M382.6,714.6h0M382.6,707.2h0M382.6,717h0M382.6,708.8h0M382.6,712.5h0M382.6,708.8h0M382.6,700.6h0M382.6,710.6h0M382.6,710.6h0M382.7,701.8h0M382.7,707.2h0M382.7,700.6h0M382.7,701.8h0M382.7,703h0M382.8,705.7h0M382.8,714.6h0M382.8,708.8h0M382.8,710.6h0M382.8,707.2h0M382.8,697.5h0M382.9,705.7h0M382.9,708.8h0M382.9,717h0M382.9,714.6h0M382.9,717h0M382.9,701.8h0M382.9,714.6h0M383,707.2h0M383,710.6h0M383,704.3h0M383.1,707.2h0M383.1,708.8h0M383.1,698.5h0M383.1,705.7h0M383.2,704.3h0M383.2,705.7h0M383.2,710.6h0M383.2,714.6h0M383.2,708.8h0M383.2,710.6h0M383.2,700.6h0M383.2,701.8h0M383.2,722.8h0M383.2,705.7h0M383.2,712.5h0M383.2,704.3h0M383.3,705.7h0M383.3,700.6h0M383.4,712.5h0M383.4,694.8h0M383.4,701.8h0M383.4,697.5h0M383.4,707.2h0M383.5,705.7h0M383.5,708.8h0M383.5,703h0M383.5,710.6h0M383.5,710.6h0M383.6,710.6h0M383.6,719.7h0M383.6,704.3h0M383.6,694h0M383.7,710.6h0M383.7,710.6h0M383.7,712.5h0M383.7,700.6h0M383.8,707.2h0M383.8,704.3h0M383.8,701.8h0M383.8,714.6h0M383.8,707.2h0M383.8,698.5h0M383.9,698.5h0M383.9,704.3h0M383.9,701.8h0M383.9,704.3h0M383.9,705.7h0M383.9,708.8h0M383.9,710.6h0M383.9,701.8h0M383.9,708.8h0M384,707.2h0M384,700.6h0M384,698.5h0M384,708.8h0M384,708.8h0M384,707.2h0M384.1,701.8h0M384.1,701.8h0M384.1,710.6h0M384.1,708.8h0M384.1,712.5h0M384.1,710.6h0M384.1,707.2h0M384.1,700.6h0M384.2,710.6h0M384.2,705.7h0M384.2,705.7h0M384.2,710.6h0M384.2,703h0M384.2,712.5h0M384.2,703h0M384.2,700.6h0M384.3,710.6h0M384.3,705.7h0M384.3,703h0M384.3,717h0M384.3,704.3h0M384.3,722.8h0M384.3,712.5h0M384.3,714.6h0M384.3,714.6h0M384.3,719.7h0M384.3,708.8h0M384.3,701.8h0M384.4,717h0M384.4,705.7h0M384.5,707.2h0M384.5,705.7h0M384.5,719.7h0M384.5,705.7h0M384.6,714.6h0M384.6,710.6h0M384.6,710.6h0M384.6,717h0M384.6,704.3h0M384.6,701.8h0M384.6,708.8h0M384.6,714.6h0M384.6,712.5h0M384.6,712.5h0M384.6,703h0M384.6,707.2h0M384.6,705.7h0M384.6,698.5h0M384.6,703h0M384.7,705.7h0M384.7,707.2h0M384.7,705.7h0M384.7,712.5h0M384.7,712.5h0M384.7,712.5h0M384.7,726.5h0M384.7,707.2h0M384.7,717h0M384.8,703h0M384.8,714.6h0M384.8,712.5h0M384.8,712.5h0M384.8,714.6h0M384.8,717h0M384.8,704.3h0M384.9,714.6h0M384.9,708.8h0M384.9,708.8h0M384.9,704.3h0M385,714.6h0M385,710.6h0M385,701.8h0M385,707.2h0M385,712.5h0M385,708.8h0M385,710.6h0M385,714.6h0M385.1,704.3h0M385.1,705.7h0M385.1,705.7h0M385.1,700.6h0M385.1,703h0M385.1,707.2h0M385.1,700.6h0M385.1,703h0M385.1,705.7h0M385.2,722.8h0M385.2,704.3h0M385.2,701.8h0M385.2,710.6h0M385.2,704.3h0M385.2,703h0M385.2,700.6h0M385.2,700.6h0M385.3,710.6h0M385.3,707.2h0M385.3,705.7h0M385.3,707.2h0M385.3,712.5h0M385.3,717h0M385.3,699.5h0M385.3,704.3h0M385.4,726.5h0M385.4,705.7h0M385.4,699.5h0M385.5,714.6h0M385.5,710.6h0M385.5,714.6h0M385.5,710.6h0M385.5,710.6h0M385.5,717h0M385.6,701.8h0M385.6,712.5h0M385.6,703h0M385.6,714.6h0M385.6,722.8h0M385.6,712.5h0M385.6,714.6h0M385.6,712.5h0M385.6,719.7h0M385.6,701.8h0M385.7,712.5h0M385.7,699.5h0M385.7,722.8h0M385.7,719.7h0M385.7,708.8h0M385.7,705.7h0M385.8,710.6h0M385.8,708.8h0M385.8,704.3h0M385.8,712.5h0M385.8,717h0M385.8,701.8h0M385.8,712.5h0M385.8,705.7h0M385.8,717h0M385.8,714.6h0M385.8,714.6h0M385.9,726.5h0M385.9,714.6h0M385.9,707.2h0M385.9,710.6h0M385.9,705.7h0M385.9,722.8h0M385.9,696.6h0M385.9,705.7h0M386,710.6h0M386,707.2h0M386,710.6h0M386,707.2h0M386,705.7h0M386,731h0M386,707.2h0M386,719.7h0M386.1,710.6h0M386.1,701.8h0M386.1,714.6h0M386.1,712.5h0M386.1,722.8h0M386.1,710.6h0M386.1,708.8h0M386.1,705.7h0M386.1,705.7h0M386.1,707.2h0M386.2,710.6h0M386.2,703h0M386.2,703h0M386.2,722.8h0M386.2,712.5h0M386.2,707.2h0M386.2,722.8h0M386.2,719.7h0M386.2,704.3h0M386.2,703h0M386.2,707.2h0M386.3,717h0M386.3,714.6h0M386.3,710.6h0M386.3,704.3h0M386.3,707.2h0M386.3,703h0M386.3,708.8h0M386.3,710.6h0M386.3,722.8h0M386.3,712.5h0M386.3,701.8h0M386.4,704.3h0M386.4,714.6h0M386.4,708.8h0M386.4,707.2h0M386.4,704.3h0M386.4,717h0M386.4,710.6h0M386.4,710.6h0M386.4,722.8h0M386.4,710.6h0M386.4,705.7h0M386.4,712.5h0M386.5,714.6h0M386.5,731h0M386.5,717h0M386.5,707.2h0M386.5,714.6h0M386.5,708.8h0M386.6,704.3h0M386.6,708.8h0M386.6,712.5h0M386.7,710.6h0M386.7,705.7h0M386.7,704.3h0M386.7,712.5h0M386.7,704.3h0M386.8,707.2h0M386.8,708.8h0M386.8,704.3h0M386.8,717h0M386.9,717h0M386.9,714.6h0M386.9,707.2h0M386.9,712.5h0M386.9,712.5h0M386.9,710.6h0M386.9,722.8h0M386.9,712.5h0M386.9,717h0M387,707.2h0M387,708.8h0M387,712.5h0M387,722.8h0M387,717h0M387,714.6h0M387.1,705.7h0M387.1,708.8h0M387.1,705.7h0M387.1,707.2h0M387.1,714.6h0M387.1,710.6h0M387.1,698.5h0M387.2,701.8h0M387.2,708.8h0M387.2,705.7h0M387.2,717h0M387.2,714.6h0M387.2,717h0M387.2,717h0M387.3,708.8h0M387.3,708.8h0M387.3,719.7h0M387.3,710.6h0M387.3,704.3h0M387.3,726.5h0M387.3,705.7h0M387.4,719.7h0M387.4,703h0M387.4,717h0M387.4,722.8h0M387.5,717h0M387.5,708.8h0M387.5,714.6h0M387.5,710.6h0M387.5,714.6h0M387.5,712.5h0M387.5,714.6h0M387.6,712.5h0M387.6,722.8h0M387.6,708.8h0M387.6,714.6h0M387.6,710.6h0M387.6,717h0M387.7,719.7h0M387.7,717h0M387.7,705.7h0M387.7,703h0M387.7,700.6h0M387.7,714.6h0M387.7,705.7h0M387.7,736.8h0M387.7,708.8h0M387.7,714.6h0M387.8,714.6h0M387.8,717h0M387.8,707.2h0M387.8,714.6h0M387.8,722.8h0M387.8,704.3h0M387.8,708.8h0M387.8,714.6h0M387.9,717h0M387.9,708.8h0M387.9,714.6h0M387.9,708.8h0M387.9,719.7h0M388,708.8h0M388,708.8h0M388,717h0M388,719.7h0M388,710.6h0M388,710.6h0M388,719.7h0M388.1,704.3h0M388.1,731h0M388.1,705.7h0M388.1,710.6h0M388.1,714.6h0M388.1,703h0M388.1,712.5h0M388.1,696.6h0M388.2,705.7h0M388.2,708.8h0M388.2,712.5h0M388.2,712.5h0M388.3,712.5h0M388.3,712.5h0M388.3,714.6h0M388.3,717h0M388.3,710.6h0M388.3,717h0M388.4,714.6h0M388.4,714.6h0M388.4,705.7h0M388.4,710.6h0M388.4,714.6h0M388.4,714.6h0M388.4,705.7h0M388.5,714.6h0M388.5,717h0M388.5,708.8h0M388.5,717h0M388.5,714.6h0M388.5,717h0M388.5,707.2h0M388.5,714.6h0M388.5,731h0M388.6,710.6h0M388.6,708.8h0M388.6,710.6h0M388.6,708.8h0M388.6,712.5h0M388.6,704.3h0M388.6,712.5h0M388.6,719.7h0M388.7,708.8h0M388.7,719.7h0M388.7,712.5h0M388.7,710.6h0M388.8,707.2h0M388.8,722.8h0M388.8,710.6h0M388.8,708.8h0M388.8,710.6h0M388.8,710.6h0M388.8,705.7h0M388.8,714.6h0M388.9,703h0M388.9,710.6h0M388.9,712.5h0M388.9,717h0M388.9,712.5h0M389,700.6h0M389,707.2h0M389,708.8h0M389,714.6h0M389,714.6h0M389,705.7h0M389,701.8h0M389,707.2h0M389,712.5h0M389,705.7h0M389,719.7h0M389.1,710.6h0M389.1,712.5h0M389.1,707.2h0M389.1,708.8h0M389.1,710.6h0M389.1,708.8h0M389.1,704.3h0M389.1,699.5h0M389.2,710.6h0M389.2,712.5h0M389.2,717h0M389.2,712.5h0M389.2,714.6h0M389.3,708.8h0M389.3,722.8h0M389.3,736.8h0M389.3,717h0M389.3,707.2h0M389.3,714.6h0M389.3,719.7h0M389.3,722.8h0M389.4,707.2h0M389.4,712.5h0M389.4,699.5h0M389.4,717h0M389.4,717h0M389.4,712.5h0M389.4,705.7h0M389.4,717h0M389.4,705.7h0M389.4,717h0M389.5,722.8h0M389.5,710.6h0M389.5,712.5h0M389.5,731h0M389.5,710.6h0M389.5,710.6h0M389.5,708.8h0M389.6,722.8h0M389.6,712.5h0M389.6,707.2h0M389.6,712.5h0M389.6,704.3h0M389.6,714.6h0M389.6,717h0M389.6,731h0M389.6,714.6h0M389.6,719.7h0M389.6,717h0M389.6,717h0M389.7,701.8h0M389.7,710.6h0M389.7,712.5h0M389.7,722.8h0M389.7,710.6h0M389.8,710.6h0M389.8,705.7h0M389.8,705.7h0M389.8,722.8h0M389.8,722.8h0M389.8,722.8h0M389.8,719.7h0M389.8,712.5h0M389.8,704.3h0M389.9,717h0M389.9,714.6h0M389.9,714.6h0M389.9,717h0M389.9,731h0M389.9,722.8h0M389.9,705.7h0M389.9,717h0M389.9,717h0M389.9,712.5h0M389.9,712.5h0M389.9,714.6h0M389.9,712.5h0M390,707.2h0M390,717h0M390,705.7h0M390,712.5h0M390,712.5h0M390,714.6h0M390,712.5h0M390.1,704.3h0M390.1,719.7h0M390.1,712.5h0M390.1,717h0M390.1,726.5h0M390.1,714.6h0M390.1,717h0M390.2,719.7h0M390.2,707.2h0M390.2,710.6h0M390.2,726.5h0M390.2,710.6h0M390.2,708.8h0M390.2,714.6h0M390.2,707.2h0M390.3,722.8h0M390.3,722.8h0M390.3,714.6h0M390.3,722.8h0M390.3,714.6h0M390.3,717h0M390.3,717h0M390.3,719.7h0M390.3,717h0M390.3,719.7h0M390.3,719.7h0M390.4,714.6h0M390.4,731h0M390.4,708.8h0M390.4,717h0M390.4,712.5h0M390.4,719.7h0M390.4,726.5h0M390.4,719.7h0M390.5,710.6h0M390.5,722.8h0M390.5,714.6h0M390.5,703h0M390.5,719.7h0M390.5,726.5h0M390.6,731h0M390.6,714.6h0M390.7,707.2h0M390.7,708.8h0M390.7,712.5h0M390.7,719.7h0M390.7,712.5h0M390.7,714.6h0M390.7,708.8h0M390.7,722.8h0M390.8,708.8h0M390.8,714.6h0M390.8,708.8h0M390.8,722.8h0M390.9,714.6h0M390.9,712.5h0M390.9,708.8h0M390.9,710.6h0M390.9,717h0M390.9,722.8h0M390.9,707.2h0M390.9,712.5h0M390.9,726.5h0M391,710.6h0M391,714.6h0M391,714.6h0M391,712.5h0M391,731h0M391,714.6h0M391,714.6h0M391.1,719.7h0M391.1,719.7h0M391.1,705.7h0M391.1,704.3h0M391.1,717h0M391.2,708.8h0M391.2,707.2h0M391.2,714.6h0M391.2,717h0M391.2,710.6h0M391.2,731h0M391.2,710.6h0M391.2,717h0M391.2,710.6h0M391.2,722.8h0M391.2,705.7h0M391.3,714.6h0M391.3,712.5h0M391.3,717h0M391.3,722.8h0M391.3,722.8h0M391.4,714.6h0M391.4,722.8h0M391.4,717h0M391.4,710.6h0M391.5,717h0M391.5,717h0M391.5,714.6h0M391.5,719.7h0M391.5,714.6h0M391.5,707.2h0M391.5,722.8h0M391.5,719.7h0M391.5,717h0M391.5,712.5h0M391.6,722.8h0M391.6,717h0M391.6,719.7h0M391.6,708.8h0M391.6,710.6h0M391.6,719.7h0M391.7,707.2h0M391.7,736.8h0M391.7,710.6h0M391.8,745h0M391.8,714.6h0M391.8,726.5h0M391.8,719.7h0M391.8,719.7h0M391.8,714.6h0M391.8,714.6h0M391.9,712.5h0M391.9,710.6h0M391.9,726.5h0M391.9,717h0M391.9,710.6h0M391.9,731h0M391.9,717h0M392,726.5h0M392,722.8h0M392,714.6h0M392,710.6h0M392,717h0M392,712.5h0M392,712.5h0M392.1,722.8h0M392.1,736.8h0M392.1,712.5h0M392.1,714.6h0M392.1,717h0M392.1,710.6h0M392.1,722.8h0M392.1,717h0M392.1,714.6h0M392.1,714.6h0M392.2,707.2h0M392.3,717h0M392.3,704.3h0M392.3,714.6h0M392.3,708.8h0M392.3,712.5h0M392.4,722.8h0M392.4,731h0M392.4,710.6h0M392.4,717h0M392.4,710.6h0M392.4,719.7h0M392.4,710.6h0M392.5,722.8h0M392.5,717h0M392.5,722.8h0M392.5,719.7h0M392.5,710.6h0M392.5,710.6h0M392.6,736.8h0M392.6,710.6h0M392.6,726.5h0M392.6,710.6h0M392.6,712.5h0M392.6,710.6h0M392.6,717h0M392.6,726.5h0M392.6,708.8h0M392.6,710.6h0M392.7,726.5h0M392.7,705.7h0M392.7,717h0M392.7,717h0M392.7,717h0M392.8,714.6h0M392.8,726.5h0M392.8,722.8h0M392.9,708.8h0M392.9,717h0M392.9,710.6h0M392.9,731h0M392.9,712.5h0M392.9,712.5h0M392.9,722.8h0M392.9,714.6h0M392.9,710.6h0M392.9,714.6h0M392.9,712.5h0M393,712.5h0M393,714.6h0M393,722.8h0M393,714.6h0M393,712.5h0M393,731h0M393.1,710.6h0M393.1,710.6h0M393.1,719.7h0M393.1,714.6h0M393.1,717h0M393.1,710.6h0M393.1,736.8h0M393.1,712.5h0M393.2,708.8h0M393.2,710.6h0M393.2,722.8h0M393.2,712.5h0M393.2,719.7h0M393.3,719.7h0M393.3,714.6h0M393.3,712.5h0M393.3,717h0M393.3,722.8h0M393.3,717h0M393.3,719.7h0M393.3,731h0M393.3,710.6h0M393.5,722.8h0M393.5,726.5h0M393.5,710.6h0M393.5,717h0M393.5,714.6h0M393.5,719.7h0M393.5,710.6h0M393.5,736.8h0M393.6,726.5h0M393.6,722.8h0M393.6,712.5h0M393.6,717h0M393.6,714.6h0M393.6,717h0M393.7,712.5h0M393.7,726.5h0M393.7,712.5h0M393.7,726.5h0M393.7,722.8h0M393.7,719.7h0M393.7,717h0M393.8,722.8h0M393.8,726.5h0M393.8,719.7h0M393.8,712.5h0M393.9,712.5h0M393.9,717h0M393.9,712.5h0M393.9,717h0M393.9,719.7h0M393.9,717h0M393.9,714.6h0M393.9,712.5h0M393.9,722.8h0M394,731h0M394,722.8h0M394,722.8h0M394,722.8h0M394,710.6h0M394.1,714.6h0M394.1,707.2h0M394.1,736.8h0M394.1,710.6h0M394.1,714.6h0M394.1,717h0M394.2,717h0M394.2,717h0M394.2,712.5h0M394.2,714.6h0M394.2,722.8h0M394.2,719.7h0M394.2,714.6h0M394.2,719.7h0M394.2,722.8h0M394.2,726.5h0M394.2,708.8h0M394.3,712.5h0M394.3,722.8h0M394.3,731h0M394.3,714.6h0M394.3,714.6h0M394.3,731h0M394.3,717h0M394.4,710.6h0M394.4,722.8h0M394.4,731h0M394.4,708.8h0M394.4,714.6h0M394.4,710.6h0M394.4,745h0M394.4,710.6h0M394.4,710.6h0M394.5,712.5h0M394.5,712.5h0M394.5,714.6h0M394.5,710.6h0M394.5,717h0M394.5,736.8h0M394.5,717h0M394.6,708.8h0M394.6,719.7h0M394.6,722.8h0M394.6,719.7h0M394.6,714.6h0M394.6,719.7h0M394.6,731h0M394.7,710.6h0M394.7,726.5h0M394.7,717h0M394.7,714.6h0M394.7,714.6h0M394.7,714.6h0M394.7,712.5h0M394.7,714.6h0M394.7,719.7h0M394.7,719.7h0M394.7,731h0M394.7,717h0M394.7,731h0M394.7,731h0M394.8,726.5h0M394.8,717h0M394.8,708.8h0M394.8,707.2h0M394.8,722.8h0M394.8,717h0M394.8,719.7h0M394.9,705.7h0M394.9,726.5h0M394.9,719.7h0M395,710.6h0M395,712.5h0M395,722.8h0M395,719.7h0M395,717h0M395,717h0M395,722.8h0M395,712.5h0M395.1,731h0M395.1,719.7h0M395.1,708.8h0M395.1,722.8h0M395.1,731h0M395.1,731h0M395.2,700.6h0M395.2,726.5h0M395.2,726.5h0M395.2,712.5h0M395.2,714.6h0M395.2,719.7h0M395.3,736.8h0M395.3,726.5h0M395.3,710.6h0M395.3,722.8h0M395.3,731h0M395.3,736.8h0M395.3,714.6h0M395.3,707.2h0M395.3,717h0M395.4,707.2h0M395.4,719.7h0M395.4,719.7h0M395.4,731h0M395.4,710.6h0M395.4,714.6h0M395.4,712.5h0M395.4,722.8h0M395.4,731h0M395.5,712.5h0M395.5,712.5h0M395.5,722.8h0M395.5,726.5h0M395.5,714.6h0M395.5,714.6h0M395.5,714.6h0M395.5,731h0M395.6,717h0M395.6,726.5h0M395.6,719.7h0M395.6,731h0M395.6,719.7h0M395.6,722.8h0M395.6,712.5h0M395.6,712.5h0M395.6,722.8h0M395.7,731h0M395.7,717h0M395.7,722.8h0M395.7,717h0M395.7,717h0M395.7,731h0M395.7,719.7h0M395.7,714.6h0M395.7,714.6h0M395.7,710.6h0M395.8,717h0M395.8,712.5h0M395.8,719.7h0M395.8,719.7h0M395.8,719.7h0M395.9,719.7h0M395.9,719.7h0M395.9,717h0M395.9,717h0M395.9,722.8h0M395.9,719.7h0M395.9,714.6h0M395.9,717h0M396,717h0M396,722.8h0M396,717h0M396,726.5h0M396.1,710.6h0M396.1,712.5h0M396.1,712.5h0M396.1,717h0M396.1,717h0M396.1,717h0M396.2,717h0M396.2,712.5h0M396.2,722.8h0M396.2,722.8h0M396.2,731h0M396.2,717h0M396.3,719.7h0M396.3,726.5h0M396.3,717h0M396.3,707.2h0M396.3,717h0M396.3,719.7h0M396.3,717h0M396.3,736.8h0M396.3,719.7h0M396.3,712.5h0M396.3,722.8h0M396.4,712.5h0M396.4,717h0M396.4,726.5h0M396.4,719.7h0M396.4,710.6h0M396.5,722.8h0M396.5,726.5h0M396.5,726.5h0M396.5,717h0M396.5,736.8h0M396.5,712.5h0M396.5,717h0M396.5,726.5h0M396.5,717h0M396.5,712.5h0M396.5,717h0M396.6,722.8h0M396.6,731h0M396.6,712.5h0M396.6,717h0M396.6,726.5h0M396.6,714.6h0M396.6,710.6h0M396.6,726.5h0M396.6,717h0M396.6,714.6h0M396.7,717h0M396.7,717h0M396.7,731h0M396.7,717h0M396.7,719.7h0M396.7,722.8h0M396.7,714.6h0M396.7,717h0M396.7,710.6h0M396.8,719.7h0M396.8,705.7h0M396.8,719.7h0M396.8,722.8h0M396.8,717h0M396.9,722.8h0M396.9,722.8h0M396.9,719.7h0M396.9,726.5h0M397,714.6h0M397,722.8h0M397,722.8h0M397,736.8h0M397,726.5h0M397.1,731h0M397.1,731h0M397.1,705.7h0M397.1,719.7h0M397.2,722.8h0M397.2,710.6h0M397.2,726.5h0M397.2,717h0M397.3,717h0M397.3,719.7h0M397.3,722.8h0M397.3,722.8h0M397.3,708.8h0M397.4,717h0M397.4,731h0M397.4,719.7h0M397.4,719.7h0M397.4,726.5h0M397.4,722.8h0M397.5,719.7h0M397.5,726.5h0M397.5,726.5h0M397.6,731h0M397.6,731h0M397.6,714.6h0M397.6,726.5h0M397.7,719.7h0M397.7,731h0M397.7,731h0M397.7,726.5h0M397.7,714.6h0M397.7,726.5h0M397.7,719.7h0M397.8,719.7h0M397.8,712.5h0M397.8,712.5h0M397.8,726.5h0M397.8,722.8h0M397.8,719.7h0M397.8,714.6h0M397.9,722.8h0M397.9,731h0M397.9,722.8h0M397.9,726.5h0M397.9,745h0M397.9,719.7h0M397.9,705.7h0M397.9,726.5h0M398,719.7h0M398,714.6h0M398,726.5h0M398,726.5h0M398,722.8h0M398,710.6h0M398,731h0M398,717h0M398.1,717h0M398.1,736.8h0M398.1,719.7h0M398.1,707.2h0M398.2,726.5h0M398.2,745h0M398.2,719.7h0M398.3,714.6h0M398.3,712.5h0M398.3,726.5h0M398.3,719.7h0M398.3,722.8h0M398.3,717h0M398.3,726.5h0M398.4,719.7h0M398.4,736.8h0M398.4,717h0M398.4,722.8h0M398.4,719.7h0M398.4,719.7h0M398.4,719.7h0M398.5,722.8h0M398.5,710.6h0M398.5,717h0M398.5,736.8h0M398.5,710.6h0M398.5,736.8h0M398.5,722.8h0M398.6,717h0M398.6,722.8h0M398.6,717h0M398.7,712.5h0M398.7,717h0M398.7,717h0M398.7,707.2h0M398.7,712.5h0M398.8,722.8h0M398.8,708.8h0M398.8,726.5h0M398.8,736.8h0M398.8,726.5h0M398.8,731h0M398.8,710.6h0M398.8,722.8h0M398.8,726.5h0M398.9,714.6h0M398.9,712.5h0M398.9,731h0M398.9,717h0M398.9,726.5h0M398.9,722.8h0M398.9,722.8h0M398.9,736.8h0M398.9,722.8h0M399,726.5h0M399,719.7h0M399,719.7h0M399,719.7h0M399,707.2h0M399,719.7h0M399,726.5h0M399,712.5h0M399.1,736.8h0M399.1,726.5h0M399.1,736.8h0M399.1,726.5h0M399.1,719.7h0M399.1,719.7h0M399.1,707.2h0M399.1,726.5h0M399.1,726.5h0M399.2,726.5h0M399.2,758.7h0M399.2,736.8h0M399.2,726.5h0M399.2,712.5h0M399.2,722.8h0M399.3,719.7h0M399.3,731h0M399.3,745h0M399.3,722.8h0M399.3,722.8h0M399.3,726.5h0M399.3,717h0M399.3,722.8h0M399.3,719.7h0M399.4,719.7h0M399.4,717h0M399.4,731h0M399.4,722.8h0M399.4,719.7h0M399.4,731h0M399.4,722.8h0M399.4,722.8h0M399.5,712.5h0M399.5,726.5h0M399.5,719.7h0M399.5,712.5h0M399.5,712.5h0M399.5,736.8h0M399.5,722.8h0M399.5,712.5h0M399.5,722.8h0M399.5,726.5h0M399.5,710.6h0M399.6,745h0M399.6,708.8h0M399.6,726.5h0M399.7,726.5h0M399.7,717h0M399.7,745h0M399.7,719.7h0M399.7,726.5h0M399.7,726.5h0M399.7,731h0M399.7,722.8h0M399.8,714.6h0M399.8,717h0M399.8,745h0M399.8,719.7h0M399.8,719.7h0M399.8,731h0M399.8,712.5h0M399.8,719.7h0M399.8,722.8h0M399.9,731h0M399.9,714.6h0M399.9,726.5h0M399.9,719.7h0M399.9,719.7h0M399.9,736.8h0M400,731h0M400,710.6h0M400,726.5h0M400.1,726.5h0M400.1,712.5h0M400.1,717h0M400.1,717h0M400.1,719.7h0M400.1,722.8h0M400.1,722.8h0M400.2,736.8h0M400.2,717h0M400.2,722.8h0M400.2,726.5h0M400.2,722.8h0M400.2,719.7h0M400.2,714.6h0M400.2,714.6h0M400.2,708.8h0M400.3,719.7h0M400.3,731h0M400.3,722.8h0M400.3,719.7h0M400.3,731h0M400.3,722.8h0M400.4,726.5h0M400.4,719.7h0M400.4,726.5h0M400.4,726.5h0M400.4,722.8h0M400.4,717h0M400.4,714.6h0M400.5,719.7h0M400.5,719.7h0M400.5,726.5h0M400.5,726.5h0M400.5,731h0M400.5,712.5h0M400.5,714.6h0M400.5,722.8h0M400.5,717h0M400.6,717h0M400.6,722.8h0M400.6,717h0M400.6,719.7h0M400.6,722.8h0M400.6,726.5h0M400.6,712.5h0M400.6,736.8h0M400.6,736.8h0M400.6,719.7h0M400.6,726.5h0M400.6,712.5h0M400.7,726.5h0M400.7,736.8h0M400.7,722.8h0M400.7,717h0M400.7,722.8h0M400.7,726.5h0M400.7,719.7h0M400.7,731h0M400.7,726.5h0M400.8,726.5h0M400.8,719.7h0M400.8,719.7h0M400.8,719.7h0M400.9,717h0M400.9,722.8h0M400.9,731h0M400.9,726.5h0M400.9,726.5h0M400.9,719.7h0M401,722.8h0M401,717h0M401,736.8h0M401,714.6h0M401,719.7h0M401,736.8h0M401,719.7h0M401,731h0M401,726.5h0M401,717h0M401.1,731h0M401.1,717h0M401.1,719.7h0M401.1,726.5h0M401.1,731h0M401.2,736.8h0M401.2,731h0M401.2,726.5h0M401.2,714.6h0M401.2,722.8h0M401.3,719.7h0M401.3,726.5h0M401.3,722.8h0M401.3,719.7h0M401.3,717h0M401.3,719.7h0M401.3,726.5h0M401.3,731h0M401.3,726.5h0M401.3,726.5h0M401.3,717h0M401.3,719.7h0M401.4,731h0M401.4,745h0M401.4,722.8h0M401.4,726.5h0M401.4,719.7h0M401.4,726.5h0M401.4,712.5h0M401.4,731h0M401.4,714.6h0M401.4,714.6h0M401.4,717h0M401.4,719.7h0M401.5,719.7h0M401.5,726.5h0M401.5,726.5h0M401.5,736.8h0M401.5,745h0M401.5,722.8h0M401.6,731h0M401.6,722.8h0M401.6,719.7h0M401.6,726.5h0M401.6,722.8h0M401.6,745h0M401.7,722.8h0M401.7,722.8h0M401.7,726.5h0M401.7,717h0M401.8,710.6h0M401.8,745h0M401.8,717h0M401.8,717h0M401.8,717h0M401.8,717h0M401.8,712.5h0M401.9,745h0M401.9,731h0M401.9,731h0M401.9,731h0M401.9,726.5h0M401.9,726.5h0M401.9,722.8h0M401.9,736.8h0M401.9,722.8h0M401.9,722.8h0M402,717h0M402,726.5h0M402,731h0M402,714.6h0M402.1,731h0M402.1,722.8h0M402.1,731h0M402.1,719.7h0M402.1,745h0M402.1,736.8h0M402.1,719.7h0M402.1,714.6h0M402.2,719.7h0M402.2,717h0M402.2,722.8h0M402.2,719.7h0M402.2,731h0M402.2,722.8h0M402.2,714.6h0M402.2,722.8h0M402.2,717h0M402.3,736.8h0M402.3,745h0M402.3,731h0M402.3,714.6h0M402.3,712.5h0M402.3,717h0M402.3,726.5h0M402.3,726.5h0M402.4,726.5h0M402.4,726.5h0M402.4,731h0M402.4,736.8h0M402.4,726.5h0M402.4,719.7h0M402.5,722.8h0M402.5,731h0M402.5,717h0M402.5,745h0M402.5,722.8h0M402.5,736.8h0M402.6,717h0M402.6,736.8h0M402.6,719.7h0M402.6,712.5h0M402.6,717h0M402.6,736.8h0M402.6,712.5h0M402.6,731h0M402.6,758.7h0M402.7,717h0M402.7,758.7h0M402.7,726.5h0M402.7,736.8h0M402.7,736.8h0M402.7,717h0M402.7,736.8h0M402.8,722.8h0M402.8,736.8h0M402.8,719.7h0M402.8,731h0M402.8,731h0M402.9,726.5h0M402.9,731h0M402.9,714.6h0M402.9,758.7h0M402.9,726.5h0M402.9,719.7h0M402.9,726.5h0M403,736.8h0M403,726.5h0M403,722.8h0M403,726.5h0M403,722.8h0M403.1,722.8h0M403.1,714.6h0M403.1,717h0M403.1,712.5h0M403.1,731h0M403.1,714.6h0M403.1,726.5h0M403.2,719.7h0M403.2,719.7h0M403.2,719.7h0M403.2,719.7h0M403.2,726.5h0M403.2,714.6h0M403.2,717h0M403.3,726.5h0M403.3,726.5h0M403.3,731h0M403.3,726.5h0M403.3,722.8h0M403.3,736.8h0M403.3,719.7h0M403.3,719.7h0M403.3,731h0M403.4,726.5h0M403.4,719.7h0M403.4,736.8h0" stroke="#35264d" stroke-width="2.3" stroke-linecap="round" fill="none"/>
<path d="M343.6,568 344.3,571.5 345,575 345.7,578.6 346.4,582.3 347.1,585.9 347.8,589.1 348.5,592 349.2,594.8 349.9,597.4 350.6,599.8 351.3,602 352,604 352.7,605.8 353.4,607.5 354.1,609.1 354.8,610.6 355.5,612 356.2,613.4 356.9,614.7 357.6,616 358.3,617.2 359,618.3 359.7,619.5 360.4,620.7 361.1,621.9 361.8,623 362.5,624.2 363.2,625.4 363.9,626.6 364.6,627.7 365.3,628.9 366,630 366.7,631.1 367.4,632.2 368.1,633.3 368.8,634.3 369.5,635.3 370.2,636.3 370.9,637.2 371.6,638.2 372.3,639.1 373,640 373.7,640.8 374.4,641.7 375.1,642.5 375.8,643.4 376.5,644.2 377.2,645 377.9,645.8 378.6,646.5 379.3,647.3 380,648 380.7,648.7 381.4,649.4 382.1,650.1 382.8,650.7 383.5,651.4 384.2,652 384.9,652.6 385.6,653.3 386.3,653.9 387,654.5 387.7,655.1 388.4,655.6 389.1,656.2 389.8,656.8 390.5,657.4 391.2,658 391.9,658.6 392.6,659.2 393.3,659.7 394,660.3 394.7,660.9 395.4,661.4 396.1,662 396.8,662.6 397.5,663.1 398.2,663.6 398.9,664.2 399.6,664.7 400.3,665.2 401,665.7 401.7,666.2 402.4,666.7 403.1,667.2 403.8,667.7 404.5,668.2" stroke="#d9322b" stroke-width="2.7" fill="none" stroke-linecap="round" stroke-linejoin="round"/>
<path d="M344,569.7h0M344.3,570.8h0M344.5,572.6h0M345.8,579.8h0M347.9,588.6h0M348,590.3h0M348.8,592.9h0M349.1,593.5h0M349.1,594.1h0M349.6,596.1h0M350.3,599.8h0M350.8,600.6h0M351.4,601.3h0M351.6,602.9h0M351.8,605h0M352.5,604.5h0M353.3,606.8h0M353.4,607.4h0M353.7,608.2h0M353.8,609.9h0M354,608.6h0M354.1,609.9h0M354.5,609.2h0M354.6,609h0M355.2,613h0M355.3,611.5h0M355.6,611.4h0M355.6,611.7h0M355.7,612h0M356.1,613.7h0M357.2,615.6h0M358.1,616.1h0M358.5,617h0M358.8,616.6h0M359.2,618.2h0M359.4,620.6h0M359.6,618.7h0M361.1,620.3h0M361.3,621.6h0M362.2,623.8h0M362.5,625.5h0M363.1,624.5h0M364.2,626.8h0M364.2,626.8h0M364.2,627.6h0M364.4,627.3h0M366.1,628.9h0M366.1,630.1h0M366.4,631.3h0M366.5,630.9h0M367.2,631.4h0M367.4,631.3h0M367.6,631.7h0M368.1,632.7h0M368.3,634.2h0M369,634.6h0M369.2,636.2h0M369.5,637.3h0M369.6,635.1h0M370.9,639.1h0M371.7,636.5h0M372.6,638.4h0M372.9,639h0M373.3,640.6h0M373.4,640.8h0M373.5,640.3h0M373.6,641.4h0M374,641.8h0M374.7,640.2h0M375.5,643.3h0M375.7,643.4h0M376,644.1h0M376.3,644.2h0M376.6,643.1h0M376.7,645.4h0M376.8,645.2h0M376.9,645h0M376.9,643.6h0M377.2,645.2h0M377.7,645h0M377.8,643.4h0M377.8,643.8h0M377.9,645.4h0M377.9,646.9h0M378.4,648.1h0M378.4,646.2h0M378.9,647.1h0M378.9,647.8h0M379,645h0M379.1,649.1h0M380,646.9h0M380.1,647.4h0M380.6,649.9h0M380.6,647.5h0M380.9,648.1h0M381,650.1h0M381.3,649.8h0M381.6,651.4h0M381.6,649.9h0M381.6,650.7h0M381.9,648.5h0M382.2,648.9h0M382.2,650h0M382.4,650.2h0M382.7,650.1h0M383.2,649.7h0M383.6,649.9h0M383.7,651.7h0M383.9,652.1h0M383.9,656.1h0M384,653.1h0M384.5,650.7h0M384.9,652.1h0M385.1,652.4h0M385.1,652.4h0M385.3,656.1h0M385.5,656.6h0M385.5,655h0M385.8,652.5h0M385.9,650.4h0M385.9,652.4h0M386.1,652.8h0M386.2,652.2h0M386.3,656.4h0M386.3,654h0M386.4,654.1h0M386.5,652.5h0M386.6,654h0M386.7,654.3h0M386.9,656.2h0M387.2,653.3h0M387.4,655.7h0M387.5,653.5h0M387.5,653.8h0M387.6,656.5h0M387.9,656.1h0M387.9,657h0M388.3,653.8h0M388.3,655h0M388.4,654.8h0M388.5,656.9h0M388.6,655.9h0M388.8,655.1h0M388.8,653.8h0M389,656.9h0M389.1,656.6h0M389.2,656.6h0M389.4,654h0M389.6,654.7h0M389.7,655.7h0M389.7,657.7h0M390.2,656.4h0M390.3,658.2h0M390.3,659.6h0M390.3,657.1h0M390.3,657h0M390.5,660.1h0M390.6,655.6h0M390.6,657.4h0M391.1,656h0M391.2,657.4h0M391.3,658.1h0M391.5,657.9h0M391.5,657.8h0M391.6,658.2h0M391.6,657.3h0M391.8,655.6h0M391.9,658.5h0M392.3,661.5h0M392.3,659.2h0M392.3,657h0M392.4,659.5h0M392.4,656.6h0M393.2,659.2h0M393.2,659.8h0M393.3,661.6h0M393.3,661.3h0M393.4,660.5h0M393.5,658.5h0M393.7,657h0M394.1,663h0M394.3,660.8h0M394.5,661.5h0M394.6,660.7h0M394.7,661.5h0M394.7,661.6h0M394.7,662.5h0M395.1,664.6h0M395.2,661.1h0M395.3,659h0M395.5,660.5h0M395.5,662h0M395.7,662.8h0M395.8,661.8h0M395.9,661.1h0M395.9,662.6h0M396.1,662h0M396.1,661.6h0M396.7,658.6h0M396.9,665.4h0M396.9,664.8h0M397,664.8h0M397,666.4h0M397.2,665h0M397.3,663.5h0M397.3,662.3h0M397.4,664.2h0M397.5,666h0M397.7,663.7h0M397.8,658.3h0M398.1,662.3h0M398.3,665h0M398.3,662.6h0M398.4,663.3h0M398.4,664.6h0M398.6,659.3h0M398.6,662.1h0M399.1,667h0M399.1,666h0M399.1,663.5h0M399.4,669h0M399.6,665.4h0M399.9,664.8h0M400.1,666h0M400.2,664.6h0M400.3,668.1h0M400.6,664.1h0M400.6,663.2h0M401,666.4h0M401.2,668.8h0M401.4,667.7h0M401.6,666.4h0M401.6,665.2h0M402.1,664.2h0M402.2,667h0M402.2,666.8h0M402.3,666.6h0M402.3,663.3h0M402.4,663.2h0M402.5,665.2h0M402.6,667.4h0M402.6,672.6h0M402.6,668.1h0M402.7,665.8h0M402.9,666.6h0M403,668.3h0M403,667.2h0M403.1,666.6h0M403.2,666.8h0M403.2,668.3h0M403.5,665.2h0M403.7,664.8h0M403.9,667.7h0M404.1,669.3h0M404.2,666h0M404.3,665.8h0M404.3,666.4h0M404.4,667.7h0M404.5,673.5h0M404.7,666.6h0M404.7,665.4h0M404.8,668.1h0M404.8,670.7h0M404.9,671.8h0M405,670.2h0M405.1,667h0M405.3,670.2h0M405.3,669.3h0M405.7,669h0M405.9,671.3h0M406.5,667.4h0M406.7,671h0M406.8,669.5h0M406.9,667.9h0M407,672.9h0M407.1,669.3h0M407.2,667h0M407.6,676.6h0M407.7,667.9h0M407.8,673.8h0M407.8,671h0M408,673.5h0M408.1,672.9h0M408.3,673.5h0M408.4,670.7h0M409,671.5h0M409.3,669h0M409.3,674.1h0M409.6,676.6h0M409.7,671h0M409.8,669.7h0M409.8,672.6h0M409.9,676.3h0M409.9,669h0M409.9,674.4h0M410,672.1h0M410,670.2h0M410.2,679.2h0M410.2,674.4h0M410.5,670h0M410.5,672.6h0M410.8,671.5h0M411.4,673.2h0M411.4,680.4h0M411.5,673.5h0M411.5,670.7h0M411.6,671.3h0M411.8,669.7h0M412,671h0M412,674.4h0M412.2,675.3h0M412.2,678.8h0M412.2,675h0M412.6,673.8h0M412.6,673.2h0M413,673.5h0M413,674.4h0M413.3,673.2h0M413.3,674.4h0M413.5,670.5h0M414,678.4h0M414.2,674.1h0M414.4,676h0M414.4,676h0M414.4,672.3h0M414.6,677.7h0M414.9,671.8h0M415.1,674.4h0M415.2,679.6h0M415.4,675.3h0M415.5,675.3h0M415.8,678.8h0M415.9,679.6h0M416,677.7h0M416,677.7h0M416.3,671.5h0M416.4,671.8h0M416.5,677h0M416.9,677h0M416.9,673.5h0M417,677h0M417.1,675.3h0M417.2,679.2h0M417.4,678.4h0M417.4,687.2h0M417.5,684h0M417.5,687.2h0M417.6,677.3h0M417.6,677.7h0M417.6,677h0M417.7,673.8h0M417.7,673.2h0M417.9,673.8h0M418,677h0M418.3,673.8h0M418.3,678.1h0M418.3,679.2h0M418.5,677.3h0M418.5,678.8h0M418.8,676.3h0M418.8,675.3h0M419,681.2h0M419.1,674.1h0M419.1,678.4h0M419.2,677.3h0M419.2,678.8h0M419.3,683h0M419.5,678.8h0M419.6,676h0M419.8,679.6h0M419.9,678.8h0M420,677.3h0M420.1,679.2h0M420.3,680h0M420.4,675.3h0M420.7,677.7h0M420.7,682.6h0M420.7,678.8h0M420.9,678.1h0M421.1,678.8h0M421.2,680.8h0M421.4,682.1h0M421.5,677h0M421.9,677.7h0M422.1,680h0M422.4,680.4h0M422.4,674.1h0M422.5,680.4h0M422.6,678.1h0M422.9,681.7h0M423,680h0M423.1,682.6h0M423.3,682.1h0M423.5,682.6h0M423.8,685h0M423.9,680.8h0M424,686.6h0M424.1,682.1h0M424.2,689h0M424.2,687.2h0M424.3,678.1h0M424.4,683h0M424.8,691.7h0M424.9,674.7h0M425,677.7h0M425.3,678.8h0M425.3,682.6h0M425.3,684.5h0M425.4,679.6h0M425.5,682.6h0M425.7,686.1h0M426,687.2h0M426.3,678.1h0M426.3,687.8h0M426.4,680.4h0M426.5,682.6h0M426.5,685.5h0M426.6,685.5h0M426.6,683.5h0M426.7,682.1h0M426.8,680.4h0M427,685.5h0M427.1,682.1h0M427.2,678.1h0M427.8,684.5h0M427.8,682.1h0M428,686.6h0M428.2,682.1h0M428.6,687.8h0M428.7,686.1h0M428.7,689h0M428.8,687.2h0M428.9,683h0M428.9,685h0M428.9,681.2h0M429,680h0M429.3,686.1h0M429.5,685h0M429.5,687.8h0M429.8,685h0M430,693.2h0M430.1,687.2h0M430.2,684.5h0M430.3,685.5h0M430.3,687.8h0M430.3,685h0M430.4,687.2h0M430.6,683h0M430.9,684h0M431.1,684h0M431.1,682.6h0M431.3,686.1h0M431.3,689h0M431.4,682.6h0M431.5,685.5h0M431.7,687.8h0M431.8,685.5h0M432,694h0M432.1,686.6h0M432.2,692.4h0M432.2,689h0M432.3,685h0M432.6,689.6h0M432.9,690.3h0M432.9,689.6h0M432.9,686.1h0M433.3,681.2h0M433.3,682.6h0M433.4,683h0M433.4,691h0M433.5,682.1h0M433.5,685h0M433.5,682.6h0M433.5,689.6h0M433.6,690.3h0M433.7,683.5h0M433.7,687.2h0M433.8,691h0M433.8,689.6h0M433.9,684.5h0M434,689.6h0M434.1,686.6h0M434.1,683h0M434.1,687.2h0M434.1,684.5h0M434.2,686.1h0M434.2,687.8h0M434.3,683.5h0M434.3,690.3h0M434.5,697.5h0M434.6,692.4h0M434.6,689.6h0M434.8,689.6h0M435,689.6h0M435.3,681.7h0M435.4,690.3h0M435.4,689.6h0M435.5,686.6h0M435.6,697.5h0M435.6,694.8h0M435.6,686.6h0M435.6,686.6h0M435.7,684h0M436,685.5h0M436,686.1h0M436.3,687.2h0M436.4,690.3h0M436.5,692.4h0M436.6,682.6h0M436.7,693.2h0M436.7,683.5h0M436.7,687.8h0M436.8,691h0M436.9,685.5h0M437.1,694.8h0M437.2,689h0M437.3,693.2h0M437.4,686.1h0M437.4,690.3h0M437.4,692.4h0M437.5,694.8h0M437.5,695.7h0M437.7,694.8h0M437.8,693.2h0M437.8,691h0M437.9,694h0M438.1,682.6h0M438.1,693.2h0M438.1,683.5h0M438.2,685h0M438.2,687.2h0M438.3,689h0M438.3,695.7h0M438.4,688.4h0M438.5,689h0M438.6,689h0M438.7,691.7h0M438.7,689h0M438.8,691.7h0M438.8,698.5h0M438.9,688.4h0M439,690.3h0M439.1,695.7h0M439.2,692.4h0M439.2,692.4h0M439.2,687.2h0M439.3,689h0M439.4,696.6h0M439.5,696.6h0M439.5,689.6h0M439.8,685h0M439.8,693.2h0M440,687.2h0M440,697.5h0M440.1,696.6h0M440.1,686.1h0M440.2,687.2h0M440.2,693.2h0M440.4,691.7h0M440.4,689h0M440.6,693.2h0M440.8,693.2h0M440.8,693.2h0M440.9,691.7h0M441.1,689.6h0M441.2,687.2h0M441.2,689.6h0M441.3,694h0M441.3,691.7h0M441.4,686.6h0M441.4,690.3h0M441.4,687.2h0M441.4,697.5h0M441.6,685.5h0M441.8,686.6h0M442,691.7h0M442,688.4h0M442,691.7h0M442,689h0M442.1,689.6h0M442.1,693.2h0M442.2,693.2h0M442.2,688.4h0M442.2,689.6h0M442.4,691h0M442.5,696.6h0M442.5,689h0M442.6,694.8h0M442.7,693.2h0M442.9,691.7h0M443,687.8h0M443,691.7h0M443,688.4h0M443,698.5h0M443.2,692.4h0M443.2,690.3h0M443.2,696.6h0M443.4,694h0M443.4,694.8h0M443.6,691.7h0M443.8,691.7h0M443.9,695.7h0M443.9,688.4h0M444,698.5h0M444.1,685h0M444.1,690.3h0M444.2,694h0M444.2,700.6h0M444.4,695.7h0M444.5,691.7h0M444.6,694.8h0M444.6,693.2h0M444.8,687.8h0M444.9,692.4h0M444.9,690.3h0M445,694h0M445.1,697.5h0M445.1,693.2h0M445.2,699.5h0M445.2,688.4h0M445.3,682.6h0M445.3,690.3h0M445.4,695.7h0M445.4,699.5h0M445.4,689.6h0M445.5,694h0M445.6,696.6h0M445.6,692.4h0M445.7,691.7h0M445.9,689h0M445.9,690.3h0M446.1,696.6h0M446.1,694h0M446.2,696.6h0M446.3,694.8h0M446.3,696.6h0M446.6,694.8h0M446.8,694h0M447,694h0M447,694h0M447,695.7h0M447,694h0M447,696.6h0M447.1,695.7h0M447.4,694h0M447.5,697.5h0M447.5,694h0M447.6,691.7h0M447.7,696.6h0M447.7,695.7h0M447.8,692.4h0M447.8,693.2h0M447.9,692.4h0M448.1,694h0M448.1,694.8h0M448.2,693.2h0M448.2,691.7h0M448.3,693.2h0M448.4,693.2h0M448.5,692.4h0M448.7,695.7h0M448.7,695.7h0M448.9,691.7h0M449.1,695.7h0M449.1,691.7h0M449.1,695.7h0M449.2,694h0M449.4,693.2h0M449.5,701.8h0M449.6,691.7h0M450,693.2h0M450.1,691h0M450.1,699.5h0M450.3,691.7h0M450.4,694h0M450.4,694h0M450.4,689h0M450.6,697.5h0M450.6,694h0M450.6,697.5h0M450.7,696.6h0M450.8,697.5h0M450.8,694.8h0M450.8,694.8h0M450.9,693.2h0M450.9,701.8h0M450.9,696.6h0M450.9,695.7h0M451,693.2h0M451,697.5h0M451.1,695.7h0M451.2,705.7h0M451.3,691h0M451.4,691.7h0M451.5,703h0M451.5,694h0M451.5,691.7h0M451.6,691.7h0M451.8,703h0M451.9,690.3h0M452,688.4h0M452.3,699.5h0M452.4,695.7h0M452.5,698.5h0M452.5,700.6h0M452.6,701.8h0M452.8,697.5h0M452.9,697.5h0M452.9,697.5h0M453,699.5h0M453,707.2h0M453.1,707.2h0M453.2,698.5h0M453.4,699.5h0M453.4,693.2h0M453.4,707.2h0M453.4,686.6h0M453.5,693.2h0M453.5,697.5h0M453.6,694.8h0M453.7,700.6h0M453.7,696.6h0M453.8,698.5h0M453.8,694.8h0M453.8,696.6h0M453.9,691.7h0M454.1,693.2h0M454.2,694h0M454.3,696.6h0M454.3,694h0M454.3,707.2h0M454.4,693.2h0M454.4,693.2h0M454.4,698.5h0M454.7,699.5h0M454.8,691h0M454.8,696.6h0M454.8,697.5h0M455,695.7h0M455,700.6h0M455.1,694.8h0M455.2,694.8h0M455.2,696.6h0M455.4,701.8h0M455.5,691h0M455.5,703h0M455.5,700.6h0M455.5,700.6h0M455.5,691h0M455.6,696.6h0M455.7,700.6h0M455.7,699.5h0M456,697.5h0M456,697.5h0M456,698.5h0M456.1,700.6h0M456.1,695.7h0M456.2,693.2h0M456.3,694.8h0M456.4,694h0M456.6,705.7h0M456.7,703h0M456.8,697.5h0M456.9,695.7h0M456.9,696.6h0M457,707.2h0M457.1,698.5h0M457.1,693.2h0M457.2,703h0M457.4,700.6h0M457.7,694.8h0M457.7,703h0M457.7,692.4h0M457.7,699.5h0M457.7,696.6h0M457.7,699.5h0M457.8,695.7h0M457.8,697.5h0M457.8,695.7h0M458.1,703h0M458.2,704.3h0M458.3,694.8h0M458.3,698.5h0M458.3,701.8h0M458.5,699.5h0M458.6,697.5h0M458.7,710.6h0M458.8,700.6h0M458.9,703h0M458.9,701.8h0M458.9,695.7h0M458.9,700.6h0M459.1,704.3h0M459.1,701.8h0M459.2,697.5h0M459.3,697.5h0M459.4,704.3h0M459.5,705.7h0M459.7,704.3h0M459.7,703h0M459.7,696.6h0M459.8,698.5h0M459.8,697.5h0M459.9,704.3h0M459.9,692.4h0M460,703h0M460,699.5h0M460.1,704.3h0M460.2,708.8h0M460.2,697.5h0M460.3,703h0M460.3,703h0M460.3,705.7h0M460.4,696.6h0M460.5,701.8h0M460.5,697.5h0M460.5,699.5h0M460.7,701.8h0M460.8,699.5h0M460.9,707.2h0M461,694.8h0M461,698.5h0M461,698.5h0M461.3,700.6h0M461.4,698.5h0M461.4,699.5h0M461.8,712.5h0M461.8,712.5h0M462.1,700.6h0M462.2,714.6h0M462.3,695.7h0M462.4,701.8h0M462.5,703h0M462.5,699.5h0M462.6,697.5h0M462.7,701.8h0M462.9,703h0M463,696.6h0M463,704.3h0M463.1,703h0M463.2,703h0M463.3,700.6h0M463.6,698.5h0M463.8,707.2h0M463.9,699.5h0M463.9,707.2h0M463.9,708.8h0M464.2,700.6h0M464.2,708.8h0M464.3,703h0M464.3,699.5h0M464.3,701.8h0M464.6,703h0M464.7,703h0M464.7,703h0M464.8,705.7h0M464.9,697.5h0M464.9,712.5h0M465.2,701.8h0M465.3,701.8h0M465.3,701.8h0M465.3,695.7h0M465.4,703h0M465.7,700.6h0M465.8,697.5h0M465.8,704.3h0M465.8,701.8h0M465.8,705.7h0M465.9,703h0M466.2,705.7h0M466.2,698.5h0M466.2,708.8h0M466.3,699.5h0M466.4,699.5h0M466.4,698.5h0M466.4,701.8h0M466.5,705.7h0M466.6,697.5h0M466.6,701.8h0M466.9,712.5h0M466.9,697.5h0M467,696.6h0M467.1,694h0M467.1,701.8h0M467.2,699.5h0M467.3,703h0M467.3,701.8h0M467.4,703h0M467.4,704.3h0M467.7,707.2h0M467.8,707.2h0M467.8,712.5h0M467.8,703h0M467.9,707.2h0M468,703h0M468.2,705.7h0M468.2,705.7h0M468.3,694.8h0M468.3,698.5h0M468.3,704.3h0M468.4,710.6h0M468.4,708.8h0M468.4,705.7h0M468.6,701.8h0M468.6,696.6h0M468.7,701.8h0M468.9,700.6h0M468.9,701.8h0M468.9,699.5h0M468.9,698.5h0M469.1,707.2h0M469.2,703h0M469.2,704.3h0M469.2,699.5h0M469.2,707.2h0M469.3,705.7h0M469.3,700.6h0M469.4,700.6h0M469.4,701.8h0M469.5,704.3h0M469.6,710.6h0M469.7,707.2h0M469.8,707.2h0M469.8,698.5h0M469.9,707.2h0M470.1,712.5h0M470.2,698.5h0M470.3,708.8h0M470.3,703h0M470.4,697.5h0M470.5,704.3h0M470.5,707.2h0M470.5,703h0M470.7,697.5h0M470.8,699.5h0M470.9,708.8h0M471,704.3h0M471,699.5h0M471.2,707.2h0M471.2,703h0M471.2,707.2h0M471.3,708.8h0M471.3,707.2h0M471.4,707.2h0M471.4,712.5h0M471.4,699.5h0M471.5,704.3h0M471.6,704.3h0M471.7,697.5h0M471.8,700.6h0M471.8,696.6h0M471.9,701.8h0M472,696.6h0M472,701.8h0M472,710.6h0M472.1,698.5h0M472.2,705.7h0M472.3,701.8h0M472.3,701.8h0M472.5,704.3h0M472.5,717h0M472.5,704.3h0M472.5,712.5h0M472.5,701.8h0M472.6,698.5h0M472.6,704.3h0M472.6,699.5h0M472.6,694.8h0M472.7,714.6h0M472.7,699.5h0M472.7,705.7h0M472.7,710.6h0M472.7,703h0M472.7,705.7h0M472.9,705.7h0M473.2,700.6h0M473.2,701.8h0M473.2,705.7h0M473.4,708.8h0M473.5,707.2h0M473.8,704.3h0M474.2,714.6h0M474.3,700.6h0M474.4,708.8h0M474.4,703h0M474.5,701.8h0M474.9,707.2h0M475,710.6h0M475.1,712.5h0M475.2,707.2h0M475.6,703h0M475.6,701.8h0M475.6,714.6h0M475.7,712.5h0M475.9,712.5h0M476,703h0M476,722.8h0M476.1,714.6h0M476.2,707.2h0M476.2,712.5h0M476.3,701.8h0M476.4,696.6h0M476.5,704.3h0M476.5,705.7h0M476.5,710.6h0M476.6,714.6h0M476.7,704.3h0M476.8,707.2h0M477,708.8h0M477,707.2h0M477.3,714.6h0M477.4,707.2h0M477.4,700.6h0M477.4,704.3h0M477.5,708.8h0M477.6,705.7h0M477.6,703h0M477.6,714.6h0M477.6,707.2h0M477.6,705.7h0M477.7,705.7h0M477.8,712.5h0M478.1,708.8h0M478.1,698.5h0M478.1,714.6h0M478.2,705.7h0M478.2,701.8h0M478.2,701.8h0M478.3,710.6h0M478.6,708.8h0M478.6,714.6h0M478.6,708.8h0M478.7,699.5h0M478.8,700.6h0M478.9,704.3h0M479,704.3h0M479.1,710.6h0M479.2,710.6h0M479.2,707.2h0M479.2,714.6h0M479.5,719.7h0M479.5,704.3h0M479.6,705.7h0M479.6,707.2h0M479.7,705.7h0M479.8,705.7h0M479.8,705.7h0M479.9,710.6h0M480,717h0M480,719.7h0M480.1,700.6h0M480.1,708.8h0M480.1,704.3h0M480.2,719.7h0M480.2,704.3h0M480.2,704.3h0M480.3,708.8h0M480.4,708.8h0M480.5,717h0M480.6,703h0M480.6,714.6h0M480.7,710.6h0M480.7,699.5h0M480.8,708.8h0M480.8,707.2h0M480.9,704.3h0M481.1,700.6h0M481.1,699.5h0M481.2,708.8h0M481.3,710.6h0M481.4,705.7h0M481.5,710.6h0M481.6,703h0M481.7,705.7h0M481.8,708.8h0M481.8,710.6h0M481.9,708.8h0M482,701.8h0M482.2,710.6h0M482.2,708.8h0M482.2,710.6h0M482.3,703h0M482.5,705.7h0M482.5,701.8h0M482.6,708.8h0M482.6,708.8h0M482.6,704.3h0M482.7,701.8h0M482.7,703h0M482.8,719.7h0M482.9,705.7h0M483.1,712.5h0M483.2,710.6h0M483.3,707.2h0M483.3,703h0M483.4,708.8h0M483.5,714.6h0M483.7,698.5h0M483.8,707.2h0M483.9,707.2h0M483.9,705.7h0M483.9,712.5h0M483.9,712.5h0M484,712.5h0M484.2,708.8h0M484.2,719.7h0M484.3,707.2h0M484.5,712.5h0M484.6,717h0M485,719.7h0M485.5,714.6h0M485.6,712.5h0M485.6,708.8h0M485.6,712.5h0M485.6,717h0M485.7,705.7h0M485.7,719.7h0M485.9,714.6h0M486,708.8h0M486.1,703h0M486.2,705.7h0M486.3,704.3h0M486.4,710.6h0M486.4,719.7h0M486.6,719.7h0M486.7,731h0M486.8,707.2h0M486.9,710.6h0M487.1,707.2h0M487.1,710.6h0M487.1,714.6h0M487.2,714.6h0M487.3,714.6h0M487.4,708.8h0M487.6,714.6h0M487.7,712.5h0M487.8,710.6h0M487.8,717h0M487.9,714.6h0M487.9,707.2h0M488,712.5h0M488.1,714.6h0M488.1,708.8h0M488.2,700.6h0M488.2,707.2h0M488.4,710.6h0M488.4,705.7h0M488.4,712.5h0M488.4,700.6h0M488.4,708.8h0M488.6,704.3h0M488.7,705.7h0M488.7,707.2h0M488.7,717h0M488.8,714.6h0M488.8,717h0M488.8,714.6h0M488.9,710.6h0M489,717h0M489.1,717h0M489.1,703h0M489.3,717h0M489.3,710.6h0M489.3,712.5h0M489.4,707.2h0M489.4,705.7h0M489.4,703h0M489.4,705.7h0M489.6,710.6h0M489.7,705.7h0M489.8,719.7h0M490,712.5h0M490.2,719.7h0M490.2,714.6h0M490.2,714.6h0M490.2,710.6h0M490.3,703h0M490.3,705.7h0M490.3,712.5h0M490.3,710.6h0M490.3,722.8h0M490.5,703h0M490.6,708.8h0M490.6,710.6h0M490.7,710.6h0M490.7,712.5h0M490.9,710.6h0M491.2,712.5h0M491.3,712.5h0M491.5,714.6h0M491.7,722.8h0M491.8,719.7h0M491.9,710.6h0M491.9,707.2h0M492,731h0M492.2,708.8h0M492.2,705.7h0M492.4,708.8h0M492.5,710.6h0M492.5,703h0M492.6,714.6h0M492.6,717h0M492.7,714.6h0M492.7,712.5h0M492.8,722.8h0M492.9,701.8h0M492.9,710.6h0M492.9,701.8h0M493,710.6h0M493,714.6h0M493.1,705.7h0M493.2,707.2h0M493.2,707.2h0M493.3,717h0M493.4,712.5h0M493.4,710.6h0M493.5,714.6h0M493.7,708.8h0M493.8,712.5h0M494,712.5h0M494,703h0M494,719.7h0M494.1,701.8h0M494.1,710.6h0M494.1,707.2h0M494.4,719.7h0M494.4,705.7h0M494.5,708.8h0M494.7,710.6h0M494.9,726.5h0M495,714.6h0M495.1,710.6h0M495.2,719.7h0M495.3,705.7h0M495.3,717h0M495.4,714.6h0M495.5,707.2h0M495.7,710.6h0M496,714.6h0M496.1,707.2h0M496.3,708.8h0M496.6,717h0M496.7,708.8h0M496.7,710.6h0M496.9,703h0M497,731h0M497.2,714.6h0M497.3,719.7h0M497.3,714.6h0M497.6,719.7h0M497.7,714.6h0M497.8,722.8h0M497.8,708.8h0M498.2,714.6h0M498.5,714.6h0M498.5,714.6h0M498.6,712.5h0M498.7,717h0M498.8,717h0M498.8,726.5h0M498.9,719.7h0M498.9,717h0M499,714.6h0M499,712.5h0M499,712.5h0M499.1,726.5h0M499.4,714.6h0M499.4,719.7h0M499.5,719.7h0M499.6,717h0M499.6,707.2h0M499.6,719.7h0M499.7,708.8h0M499.8,719.7h0M500,719.7h0M500.1,722.8h0M500.1,722.8h0M500.2,717h0M500.4,722.8h0M500.4,710.6h0M500.4,731h0M500.5,708.8h0M500.6,719.7h0M500.7,712.5h0M500.9,731h0M501,712.5h0M501,719.7h0M501.1,704.3h0M501.1,722.8h0M501.2,712.5h0M501.4,712.5h0M501.5,708.8h0M501.6,719.7h0M501.6,708.8h0M501.7,726.5h0M501.8,717h0M501.9,726.5h0M501.9,719.7h0M502,719.7h0M502.1,719.7h0M502.1,722.8h0M502.2,714.6h0M502.3,708.8h0M502.3,717h0M502.3,710.6h0M502.4,704.3h0M502.4,722.8h0M502.4,722.8h0M502.5,708.8h0M502.5,717h0M502.5,712.5h0M502.8,726.5h0M502.9,714.6h0M503,731h0M503,722.8h0M503.2,722.8h0M503.3,722.8h0M503.4,719.7h0M503.7,712.5h0M503.7,710.6h0M503.7,707.2h0M503.7,726.5h0M503.8,714.6h0M503.8,722.8h0M503.8,717h0M503.9,710.6h0M504,712.5h0M504.2,705.7h0M504.4,719.7h0M504.5,712.5h0M504.6,714.6h0M504.6,717h0M504.9,708.8h0M505.1,722.8h0M505.1,712.5h0M505.2,712.5h0M505.3,726.5h0M505.5,726.5h0M505.5,758.7h0M505.7,708.8h0M505.7,714.6h0M505.8,719.7h0M505.8,726.5h0M505.9,726.5h0M505.9,714.6h0M506,722.8h0M506,722.8h0M506,714.6h0M506,736.8h0M506.1,719.7h0M506.3,708.8h0M506.4,710.6h0M506.4,717h0M506.4,726.5h0M506.5,712.5h0M506.5,714.6h0M506.5,707.2h0M506.5,712.5h0M506.5,717h0M506.6,719.7h0M506.6,712.5h0M506.6,714.6h0M506.6,722.8h0M506.6,707.2h0M506.7,710.6h0M506.8,710.6h0M506.8,717h0M506.9,708.8h0M507.1,717h0M507.3,726.5h0M507.3,731h0M507.3,717h0M507.4,719.7h0M507.7,708.8h0M507.7,714.6h0M507.8,712.5h0M507.9,722.8h0M507.9,714.6h0M507.9,717h0M508,708.8h0M508.1,712.5h0M508.2,712.5h0M508.4,710.6h0M508.5,722.8h0M508.8,726.5h0M508.8,719.7h0M508.8,707.2h0M508.9,714.6h0M508.9,712.5h0M509.1,719.7h0M509.1,726.5h0M509.1,726.5h0M509.1,712.5h0M509.2,712.5h0M509.3,704.3h0M509.3,722.8h0M509.5,722.8h0M509.6,708.8h0M509.6,707.2h0M509.6,726.5h0M509.7,712.5h0M509.8,726.5h0M510.1,736.8h0M510.1,712.5h0M510.3,707.2h0M510.3,712.5h0M510.4,708.8h0M510.4,731h0M510.4,717h0M510.6,726.5h0M510.7,714.6h0M510.7,722.8h0M510.7,726.5h0M510.7,714.6h0M511,714.6h0M511.1,719.7h0M511.2,714.6h0M511.4,714.6h0M511.5,719.7h0M511.7,707.2h0M511.7,712.5h0M511.8,736.8h0M511.8,708.8h0M511.8,726.5h0M512,726.5h0M512.1,717h0M512.2,714.6h0M512.3,719.7h0M512.3,731h0M512.3,714.6h0M512.3,722.8h0M512.6,717h0M512.6,717h0M512.8,722.8h0M512.9,722.8h0M512.9,714.6h0M512.9,722.8h0M513,736.8h0M513.1,714.6h0M513.2,726.5h0M513.5,726.5h0M513.6,714.6h0M513.6,717h0M513.6,731h0M513.9,717h0M514,722.8h0M514.1,726.5h0M514.1,707.2h0M514.2,722.8h0M514.3,717h0M514.4,736.8h0M514.4,717h0M514.4,722.8h0M514.4,745h0M514.6,717h0M514.7,712.5h0M514.7,726.5h0M514.9,726.5h0M515,722.8h0M515,712.5h0M515,726.5h0M515.1,717h0M515.2,719.7h0M515.3,722.8h0M515.4,731h0M515.5,722.8h0M515.6,719.7h0M515.6,722.8h0M515.7,714.6h0M516,731h0M516.1,717h0M516.2,722.8h0M516.3,714.6h0M516.3,705.7h0M516.5,726.5h0M516.7,717h0M516.7,710.6h0M516.8,705.7h0M516.9,722.8h0M517,719.7h0M517.1,710.6h0M517.1,714.6h0M517.2,736.8h0M517.3,717h0M517.5,722.8h0M517.8,726.5h0M517.9,731h0M518,714.6h0M518.1,731h0M518.2,717h0M518.3,736.8h0M518.3,736.8h0M518.4,712.5h0M518.5,710.6h0M518.5,726.5h0M518.5,719.7h0M518.5,717h0M518.6,736.8h0M518.6,717h0M518.7,719.7h0M518.8,712.5h0M518.9,719.7h0M519,708.8h0M519.1,714.6h0M519.2,717h0M519.3,722.8h0M519.3,710.6h0M519.5,726.5h0M519.6,719.7h0M519.6,722.8h0M519.6,726.5h0M519.7,719.7h0M519.8,714.6h0M519.8,736.8h0M519.8,726.5h0M519.9,712.5h0M520,708.8h0M520.1,719.7h0M520.2,717h0M520.3,731h0M520.4,714.6h0M520.5,717h0M520.6,722.8h0M520.7,722.8h0M520.8,736.8h0M520.8,726.5h0M520.9,745h0M520.9,731h0M520.9,722.8h0M521,719.7h0M521.1,714.6h0M521.1,719.7h0M521.2,719.7h0M521.8,726.5h0M521.8,719.7h0M521.9,731h0M522,731h0M522,712.5h0M522.1,712.5h0M522.2,717h0M522.5,719.7h0M522.5,719.7h0M522.7,726.5h0M522.7,714.6h0M522.7,722.8h0M522.8,710.6h0M522.9,736.8h0M522.9,719.7h0M523,719.7h0M523.1,719.7h0M523.2,726.5h0M523.6,731h0M523.6,722.8h0M523.7,717h0M523.8,714.6h0M523.9,726.5h0M523.9,714.6h0M524,719.7h0M524.1,726.5h0M524.1,726.5h0M524.1,726.5h0M524.3,722.8h0M524.4,719.7h0M524.5,719.7h0M524.6,726.5h0M524.6,717h0M524.7,726.5h0M524.7,722.8h0M524.8,714.6h0M524.8,719.7h0M524.9,722.8h0M525,717h0M525.1,745h0M525.1,722.8h0M525.2,717h0M525.3,722.8h0M525.3,717h0M525.4,731h0M525.6,719.7h0M525.7,717h0M525.7,719.7h0M525.9,712.5h0M526.2,719.7h0M526.4,758.7h0M526.4,731h0M526.6,717h0M526.6,719.7h0M526.6,726.5h0M526.7,726.5h0M527,722.8h0M527,726.5h0M527.1,726.5h0M527.3,731h0M527.3,726.5h0M527.3,719.7h0M527.6,719.7h0M527.6,736.8h0M527.6,736.8h0M527.6,726.5h0M527.7,722.8h0M527.7,731h0M527.8,717h0M528,726.5h0M528,722.8h0M528.1,731h0M528.2,722.8h0M528.2,726.5h0M528.2,722.8h0M528.2,719.7h0M528.3,717h0M528.3,736.8h0M528.4,714.6h0M528.4,722.8h0M528.5,722.8h0M528.5,731h0M528.6,726.5h0M528.9,719.7h0M529,722.8h0M529.1,719.7h0M529.2,722.8h0M529.2,736.8h0M529.3,714.6h0M529.5,719.7h0M529.6,722.8h0M529.7,731h0M529.7,731h0M529.8,736.8h0M529.9,726.5h0M530,722.8h0M530.4,722.8h0M530.6,717h0M530.6,736.8h0M530.6,722.8h0M530.7,719.7h0M530.9,717h0M530.9,722.8h0M531,722.8h0M531,731h0M531.1,710.6h0M531.1,736.8h0M531.2,736.8h0M531.3,731h0M531.3,722.8h0M531.3,731h0M531.4,726.5h0M531.7,745h0M531.7,722.8h0M531.7,726.5h0M531.7,745h0M532,726.5h0M532.1,712.5h0M532.2,722.8h0M532.3,714.6h0M532.4,722.8h0M532.5,714.6h0M532.5,736.8h0M532.7,731h0M532.9,722.8h0M533,722.8h0M533,731h0M533,731h0M533.1,731h0M533.1,726.5h0M533.1,731h0M533.2,722.8h0M533.2,722.8h0M533.3,719.7h0M533.5,745h0M533.7,722.8h0M533.7,726.5h0M533.9,719.7h0M534,726.5h0M534,708.8h0M534.1,719.7h0M534.1,717h0M534.4,719.7h0M534.5,722.8h0M534.8,726.5h0M534.8,719.7h0M534.8,722.8h0M534.8,714.6h0M534.9,722.8h0M535,710.6h0M535.2,719.7h0M535.2,731h0M535.3,722.8h0M535.5,758.7h0M535.5,726.5h0M535.5,736.8h0M535.5,722.8h0M535.6,714.6h0M535.6,722.8h0M535.8,736.8h0M535.9,731h0M535.9,719.7h0M535.9,722.8h0M536.1,726.5h0M536.5,712.5h0M536.5,731h0M536.6,731h0M536.6,722.8h0M536.8,726.5h0M536.8,745h0M536.9,726.5h0M536.9,726.5h0M536.9,731h0M536.9,717h0M537,722.8h0M537,736.8h0M537.2,731h0M537.2,719.7h0M537.3,758.7h0M537.4,726.5h0M537.5,722.8h0M537.6,714.6h0M537.6,731h0M537.7,731h0M537.7,731h0M537.7,717h0M537.8,717h0M537.9,722.8h0M537.9,714.6h0M538,722.8h0M538.1,719.7h0M538.1,736.8h0M538.2,736.8h0M538.3,745h0M538.4,719.7h0M538.5,731h0M538.5,736.8h0M538.7,722.8h0M538.8,745h0M539.2,726.5h0M539.2,717h0M539.3,731h0M539.3,712.5h0M539.3,722.8h0M539.5,722.8h0M539.6,731h0M539.6,719.7h0M539.7,731h0M539.8,726.5h0M539.8,719.7h0M540.1,719.7h0M540.1,726.5h0M540.1,726.5h0M540.3,731h0M540.5,726.5h0M540.5,736.8h0M540.7,731h0M540.7,736.8h0M540.7,731h0M540.7,726.5h0M540.7,731h0M540.8,745h0M540.9,731h0M540.9,726.5h0M541,731h0M541.1,745h0M541.1,722.8h0M541.2,726.5h0M541.3,726.5h0M541.4,717h0M541.5,736.8h0M541.5,758.7h0M541.5,731h0M541.6,736.8h0M541.6,731h0M541.7,717h0M541.9,717h0M542.1,717h0M542.2,712.5h0M542.2,731h0M542.2,719.7h0M542.2,714.6h0M542.3,736.8h0M542.4,758.7h0M542.5,722.8h0M542.6,717h0M542.6,726.5h0M542.7,726.5h0M542.8,726.5h0M542.8,722.8h0M542.9,745h0M542.9,722.8h0M543.2,722.8h0M543.3,717h0M543.3,745h0M543.3,736.8h0M543.3,736.8h0M543.4,722.8h0M543.4,722.8h0M543.4,731h0M543.6,731h0M543.6,726.5h0M543.6,722.8h0M543.7,731h0M543.7,722.8h0M543.8,736.8h0M543.9,731h0M543.9,726.5h0M544.1,731h0M544.1,722.8h0M544.3,717h0M544.3,731h0M544.4,736.8h0M544.4,726.5h0M544.6,736.8h0M544.8,722.8h0M544.8,736.8h0M544.9,731h0M545.1,736.8h0M545.4,726.5h0M545.4,726.5h0M545.5,726.5h0M545.5,731h0M545.5,731h0M545.5,745h0M545.8,719.7h0M545.9,726.5h0M545.9,722.8h0M546,719.7h0M546,722.8h0M546,719.7h0M546,719.7h0M546.2,731h0M546.2,719.7h0M546.2,731h0M546.4,719.7h0M546.5,731h0M546.7,758.7h0M546.8,736.8h0M546.8,736.8h0M546.8,736.8h0M547.1,731h0M547.3,731h0M547.4,722.8h0M547.4,731h0M547.4,736.8h0M547.5,717h0M547.7,745h0M547.8,731h0M547.9,731h0M547.9,726.5h0M548,736.8h0M548.1,722.8h0M548.2,722.8h0M548.2,726.5h0M548.2,726.5h0M548.3,758.7h0M548.4,736.8h0M548.4,745h0M548.5,736.8h0M548.6,714.6h0M548.7,722.8h0M548.7,736.8h0M548.8,731h0M548.8,731h0M548.8,736.8h0M549.1,731h0M549.1,726.5h0M549.2,745h0M549.4,722.8h0M549.4,722.8h0M549.4,731h0M549.5,719.7h0M549.6,731h0M549.6,731h0M549.7,745h0M549.7,731h0M549.7,731h0M549.8,726.5h0M549.8,736.8h0M549.9,745h0M549.9,731h0M549.9,745h0M550,731h0M550,722.8h0M550,722.8h0M550.1,731h0M550.3,722.8h0M550.3,736.8h0M550.4,722.8h0M550.6,719.7h0M550.7,726.5h0M550.8,731h0M550.9,719.7h0M551,736.8h0M551,745h0M551.1,731h0M551.2,745h0M551.2,731h0M551.2,736.8h0M551.2,745h0M551.3,726.5h0M551.5,745h0M551.5,745h0M551.5,722.8h0M551.6,719.7h0M551.6,736.8h0M551.7,717h0M551.7,719.7h0M551.7,731h0M551.7,714.6h0M551.7,726.5h0M552,722.8h0M552.2,717h0M552.4,726.5h0M552.5,745h0M552.6,736.8h0M552.7,717h0M552.8,726.5h0M552.8,758.7h0M552.9,726.5h0M553,726.5h0M553,726.5h0M553,717h0M553,719.7h0M553,726.5h0M553.3,726.5h0M553.4,726.5h0M553.4,719.7h0M553.4,736.8h0M553.5,736.8h0M553.5,731h0M553.7,736.8h0M553.7,731h0M553.7,717h0M553.8,736.8h0M553.9,726.5h0M554,736.8h0M554,745h0M554.2,722.8h0M554.2,736.8h0M554.3,726.5h0M554.5,726.5h0M554.6,719.7h0M554.7,731h0M554.7,731h0M554.7,726.5h0M554.8,719.7h0M555,736.8h0M555,731h0M555.1,731h0M555.1,731h0M555.2,726.5h0M555.2,731h0M555.2,758.7h0M555.5,758.7h0M555.5,722.8h0M555.6,722.8h0M555.6,736.8h0M555.7,758.7h0M555.8,726.5h0M556,736.8h0M556,736.8h0M556.1,726.5h0M556.1,745h0M556.2,719.7h0M556.3,726.5h0M556.4,726.5h0M556.4,726.5h0M556.5,758.7h0M556.5,745h0M556.6,731h0M556.6,745h0M556.7,736.8h0M556.7,736.8h0M556.7,726.5h0M556.7,736.8h0M556.9,726.5h0M557.2,726.5h0M557.3,731h0M557.5,726.5h0M557.5,722.8h0M557.5,745h0M557.7,726.5h0M557.9,722.8h0M557.9,726.5h0M558.1,758.7h0M558.1,717h0M558.2,736.8h0M558.4,745h0M558.5,736.8h0M558.5,745h0M558.5,745h0M558.6,758.7h0M558.9,731h0M558.9,745h0M559,722.8h0M559.3,719.7h0M559.3,731h0M559.3,731h0M559.5,758.7h0M559.5,726.5h0M559.5,758.7h0M559.7,736.8h0M559.7,745h0M559.7,726.5h0M559.7,736.8h0M559.9,726.5h0M559.9,758.7h0M560.4,731h0M560.4,745h0M560.6,745h0M560.6,717h0M560.8,731h0M560.8,731h0M560.8,731h0M561,736.8h0M561,745h0M561,726.5h0M561.2,731h0M561.2,736.8h0M561.4,731h0M561.6,726.5h0M561.6,726.5h0M561.6,736.8h0M561.6,731h0M561.7,726.5h0M561.8,731h0M561.9,726.5h0M562,722.8h0M562.1,736.8h0M562.3,719.7h0M562.3,731h0M562.5,717h0M562.5,722.8h0M562.7,758.7h0M563,736.8h0M563.1,722.8h0M563.1,726.5h0M563.2,731h0M563.2,719.7h0M563.5,726.5h0M563.5,736.8h0M563.5,736.8h0M563.5,745h0M563.6,731h0M563.7,731h0M563.7,736.8h0M563.9,731h0M564,745h0M564,736.8h0M564.1,719.7h0M564.3,758.7h0M564.4,722.8h0M564.5,745h0M564.5,731h0M564.6,722.8h0M564.6,736.8h0M564.7,726.5h0M564.7,726.5h0M564.8,745h0M564.8,731h0M564.9,731h0M565.2,736.8h0M565.2,736.8h0M565.2,731h0M565.4,722.8h0M565.5,736.8h0M565.5,731h0M565.5,722.8h0M565.5,722.8h0M565.5,726.5h0M565.6,722.8h0M565.7,736.8h0M565.8,731h0M565.8,731h0M565.9,726.5h0M566,745h0M566,745h0M566.2,731h0M566.3,731h0M566.4,726.5h0M566.4,745h0M566.4,726.5h0M566.5,736.8h0M566.5,736.8h0M566.6,726.5h0M566.7,731h0M566.7,719.7h0M566.9,726.5h0M567,745h0M567.1,731h0M567.1,731h0M567.2,731h0M567.2,736.8h0M567.2,731h0M567.4,731h0M567.5,722.8h0M567.6,722.8h0M567.6,726.5h0M567.7,736.8h0M567.9,736.8h0M567.9,726.5h0M568,722.8h0M568,736.8h0M568.1,745h0M568.1,736.8h0M568.3,736.8h0M568.4,736.8h0M568.5,745h0M568.6,726.5h0M568.6,731h0M568.6,719.7h0M568.7,731h0M568.9,726.5h0M568.9,726.5h0M569.1,719.7h0M569.1,731h0M569.1,726.5h0M569.3,719.7h0M569.3,736.8h0M569.5,736.8h0M569.5,745h0M569.5,736.8h0M569.7,736.8h0M569.7,745h0M569.8,736.8h0M570,731h0M570,719.7h0M570.1,722.8h0M570.2,745h0M570.2,731h0M570.3,722.8h0M570.5,745h0M570.5,736.8h0M570.6,745h0M570.7,722.8h0M570.7,726.5h0M570.9,745h0M571,731h0M571,726.5h0M571,731h0M571,722.8h0M571.1,731h0M571.2,731h0M571.3,758.7h0M571.4,719.7h0M571.5,736.8h0M571.8,714.6h0M571.8,731h0M571.9,731h0M572,731h0M572.1,736.8h0M572.1,726.5h0M572.1,736.8h0M572.2,731h0M572.3,731h0M572.4,726.5h0M572.4,758.7h0M572.5,758.7h0M572.6,726.5h0M572.7,736.8h0M572.7,731h0M572.9,745h0M573,745h0M573,722.8h0M573.1,722.8h0M573.2,731h0M573.3,736.8h0M573.4,745h0M573.8,736.8h0M573.8,722.8h0M573.9,745h0M574,736.8h0M574,726.5h0M574,736.8h0M574.2,736.8h0" stroke="#d9322b" stroke-width="2.4" stroke-linecap="round" fill="none"/>
<path d="M394.4,759.4v-6.2M454.4,759.4v-6.2M514.4,759.4v-6.2" stroke="#2a2a2a" stroke-width="1.2" fill="none"/>
<rect x="334.4" y="561.0" width="240" height="198.4" fill="none" stroke="#333" stroke-width="1.3"/>
<text x="334.4" y="779.4" font-size="16.5" text-anchor="middle" fill="#1a1a1a">0</text>
<text x="394.4" y="779.4" font-size="16.5" text-anchor="middle" fill="#1a1a1a">500</text>
<text x="454.4" y="779.4" font-size="16.5" text-anchor="middle" fill="#1a1a1a">1000</text>
<text x="514.4" y="779.4" font-size="16.5" text-anchor="middle" fill="#1a1a1a">1500</text>
<text x="574.4" y="779.4" font-size="16.5" text-anchor="middle" fill="#1a1a1a">2000</text>
<text x="453.2" y="800.4" font-size="16.8" text-anchor="middle" fill="#1a1a1a">Time (ns)</text>
<text x="465" y="830" font-size="16.5" text-anchor="middle" fill="#1a1a1a">(h)</text>
<text transform="translate(321.2,660) rotate(-90)" font-size="16.7" text-anchor="middle" fill="#1a1a1a">PL counts (a.u.)</text>
<circle cx="448.4" cy="573.2" r="1.1" fill="#4a3a78"/><circle cx="448.4" cy="592.4" r="1.1" fill="#d9322b"/>
<text x="456.4" y="579.8" font-size="14.3" fill="#1a1a1a">MAPbBr<tspan font-size="8.6" dy="2.7">3</tspan><tspan dy="-2.7">&#8203;</tspan>/PMMA</text>
<text x="456.4" y="599.2" font-size="14.3" fill="#1a1a1a">CsPbBrI<tspan font-size="8.6" dy="2.7">2</tspan><tspan dy="-2.7">&#8203;</tspan>/PMMA</text>
</g>
<g id="i">
<rect x="655.3" y="583.3" width="14.4" height="174.3" fill="#1c1715" stroke="#14100f" stroke-width="0.6"/>
<rect x="670.3" y="581.3" width="14.4" height="176.3" fill="#d9362c" stroke="#b02a22" stroke-width="0.6"/>
<rect x="685.3" y="666.9" width="14" height="90.7" fill="#3f538c" stroke="#33457a" stroke-width="0.6"/>
<rect x="729.9" y="579.9" width="14" height="177.7" fill="#1c1715" stroke="#14100f" stroke-width="0.6"/>
<rect x="744.5" y="587.9" width="14.2" height="169.7" fill="#d9362c" stroke="#b02a22" stroke-width="0.6"/>
<rect x="759.3" y="663.3" width="14" height="94.3" fill="#3f538c" stroke="#33457a" stroke-width="0.6"/>
<rect x="803.9" y="592.7" width="14.2" height="164.9" fill="#1c1715" stroke="#14100f" stroke-width="0.6"/>
<rect x="818.7" y="589.3" width="14.4" height="168.3" fill="#d9362c" stroke="#b02a22" stroke-width="0.6"/>
<rect x="833.7" y="659.3" width="14" height="98.3" fill="#3f538c" stroke="#33457a" stroke-width="0.6"/>
<path d="M646.6,757.6V561.0H862.4" stroke="#333" stroke-width="1.3" fill="none"/>
<path d="M646.6,757.6H862.4" stroke="#222" stroke-width="1.5" fill="none"/>
<path d="M646.6,588h6M646.6,645h6M646.6,701.8h6" stroke="#2a2a2a" stroke-width="1.2" fill="none"/>
<path d="M862.4,561.0V757.6M862.4,579h-6M862.4,614.8h-6M862.4,650.5h-6M862.4,686.3h-6M862.4,722h-6M862.4,757.6h-6" stroke="#e0382c" stroke-width="1.3" fill="none"/>
<path d="M914.0,562V757.6M914.0,562h-6.4M914.0,601.1h-6.4M914.0,640.2h-6.4M914.0,679.4h-6.4M914.0,718.5h-6.4M914.0,757.6h-6.4" stroke="#4a68b0" stroke-width="1.3" fill="none"/>
<text x="644.6" y="594" font-size="15.3" text-anchor="end" fill="#1a1a1a">520</text>
<text x="644.6" y="651" font-size="15.3" text-anchor="end" fill="#1a1a1a">480</text>
<text x="644.6" y="707.8" font-size="15.3" text-anchor="end" fill="#1a1a1a">440</text>
<text x="644.6" y="761.2" font-size="15.3" text-anchor="end" fill="#1a1a1a">400</text>
<text x="866.2" y="583.2" font-size="12.2" fill="#e0382c" stroke="#e0382c" stroke-width="0.25">100</text>
<text x="866.2" y="619" font-size="12.2" fill="#e0382c" stroke="#e0382c" stroke-width="0.25">80</text>
<text x="866.2" y="654.7" font-size="12.2" fill="#e0382c" stroke="#e0382c" stroke-width="0.25">60</text>
<text x="866.2" y="690.5" font-size="12.2" fill="#e0382c" stroke="#e0382c" stroke-width="0.25">40</text>
<text x="866.2" y="726.2" font-size="12.2" fill="#e0382c" stroke="#e0382c" stroke-width="0.25">20</text>
<text x="866.2" y="761.8" font-size="12.2" fill="#e0382c" stroke="#e0382c" stroke-width="0.25">0</text>
<text x="921.8" y="566.4" font-size="12.2" fill="#3b55a0" stroke="#3b55a0" stroke-width="0.25">50</text>
<text x="921.8" y="605.5" font-size="12.2" fill="#3b55a0" stroke="#3b55a0" stroke-width="0.25">40</text>
<text x="921.8" y="644.6" font-size="12.2" fill="#3b55a0" stroke="#3b55a0" stroke-width="0.25">30</text>
<text x="921.8" y="683.8" font-size="12.2" fill="#3b55a0" stroke="#3b55a0" stroke-width="0.25">20</text>
<text x="921.8" y="722.9" font-size="12.2" fill="#3b55a0" stroke="#3b55a0" stroke-width="0.25">10</text>
<text x="921.8" y="762" font-size="12.2" fill="#3b55a0" stroke="#3b55a0" stroke-width="0.25">0</text>
<text transform="translate(895.4,659) rotate(-90)" font-size="12.4" text-anchor="middle" fill="#e0382c" stroke="#e0382c" stroke-width="0.3">PLQY (%)</text>
<text transform="translate(952.6,658) rotate(-90)" font-size="12.4" text-anchor="middle" fill="#3b55a0" stroke="#3b55a0" stroke-width="0.3">FWHM (nm)</text>
<text transform="translate(614.2,666) rotate(-90)" font-size="16.5" text-anchor="middle" fill="#1a1a1a">Wavelength (nm)</text>
<text x="659.3" y="580.4" font-size="12.6" text-anchor="middle" fill="#1a1a1a">525</text>
<text x="683.7" y="579.6" font-size="12.6" text-anchor="middle" fill="#e0382c">98.5</text>
<text x="693.1" y="665" font-size="12.6" text-anchor="middle" fill="#3b55a0">23</text>
<text x="735.3" y="577.6" font-size="12.6" text-anchor="middle" fill="#1a1a1a">527</text>
<text x="757.9" y="585" font-size="12.6" text-anchor="middle" fill="#e0382c">94.8</text>
<text x="767.3" y="660.4" font-size="12.6" text-anchor="middle" fill="#3b55a0">24</text>
<text x="807.6" y="589.6" font-size="12.6" text-anchor="middle" fill="#1a1a1a">518</text>
<text x="833.5" y="586.6" font-size="12.6" text-anchor="middle" fill="#e0382c">94.1</text>
<text x="841.7" y="656" font-size="12.6" text-anchor="middle" fill="#3b55a0">25</text>
<text x="678.1" y="779" font-size="16.5" text-anchor="middle" fill="#1a1a1a">PMMA</text>
<text x="752.8" y="779" font-size="16.5" text-anchor="middle" fill="#1a1a1a">PVDF</text>
<text x="826.5" y="779" font-size="16.5" text-anchor="middle" fill="#1a1a1a">PAN</text>
<text x="777.8" y="830" font-size="16.5" text-anchor="middle" fill="#1a1a1a">(i)</text>
</g>
<g id="b">
<defs><radialGradient id="b0" cx="0.5" cy="0.5" r="0.5" fx="0.44" fy="0.42"><stop offset="0.1" stop-color="#433e3c"/><stop offset="0.7" stop-color="#3b3634"/><stop offset="0.9" stop-color="#3b3634"/><stop offset="1" stop-color="#231e1c"/></radialGradient><radialGradient id="b1" cx="0.5" cy="0.5" r="0.5" fx="0.44" fy="0.42"><stop offset="0.1" stop-color="#4c4745"/><stop offset="0.7" stop-color="#433e3c"/><stop offset="0.9" stop-color="#433e3c"/><stop offset="1" stop-color="#272220"/></radialGradient><radialGradient id="b2" cx="0.5" cy="0.5" r="0.5" fx="0.44" fy="0.42"><stop offset="0.1" stop-color="#55504e"/><stop offset="0.7" stop-color="#4c4745"/><stop offset="0.9" stop-color="#4c4745"/><stop offset="1" stop-color="#2c2725"/></radialGradient><radialGradient id="b3" cx="0.5" cy="0.5" r="0.5" fx="0.44" fy="0.42"><stop offset="0.1" stop-color="#5e5957"/><stop offset="0.7" stop-color="#544f4d"/><stop offset="0.9" stop-color="#544f4d"/><stop offset="1" stop-color="#312c2a"/></radialGradient><radialGradient id="b4" cx="0.5" cy="0.5" r="0.5" fx="0.44" fy="0.42"><stop offset="0.1" stop-color="#676260"/><stop offset="0.7" stop-color="#5c5755"/><stop offset="0.9" stop-color="#5c5755"/><stop offset="1" stop-color="#35302e"/></radialGradient><radialGradient id="b5" cx="0.5" cy="0.5" r="0.5" fx="0.44" fy="0.42"><stop offset="0.1" stop-color="#706b69"/><stop offset="0.7" stop-color="#65605e"/><stop offset="0.9" stop-color="#65605e"/><stop offset="1" stop-color="#3a3533"/></radialGradient><radialGradient id="b6" cx="0.5" cy="0.5" r="0.5" fx="0.44" fy="0.42"><stop offset="0.1" stop-color="#7a7573"/><stop offset="0.7" stop-color="#6d6866"/><stop offset="0.9" stop-color="#6d6866"/><stop offset="1" stop-color="#3e3937"/></radialGradient><radialGradient id="b7" cx="0.5" cy="0.5" r="0.5" fx="0.44" fy="0.42"><stop offset="0.1" stop-color="#837e7c"/><stop offset="0.7" stop-color="#76716f"/><stop offset="0.9" stop-color="#76716f"/><stop offset="1" stop-color="#433e3c"/></radialGradient><radialGradient id="b8" cx="0.5" cy="0.5" r="0.5" fx="0.44" fy="0.42"><stop offset="0.1" stop-color="#8c8785"/><stop offset="0.7" stop-color="#7e7977"/><stop offset="0.9" stop-color="#7e7977"/><stop offset="1" stop-color="#474240"/></radialGradient><radialGradient id="b9" cx="0.5" cy="0.5" r="0.5" fx="0.44" fy="0.42"><stop offset="0.1" stop-color="#95908e"/><stop offset="0.7" stop-color="#86817f"/><stop offset="0.9" stop-color="#86817f"/><stop offset="1" stop-color="#4c4745"/></radialGradient><radialGradient id="b10" cx="0.5" cy="0.5" r="0.5" fx="0.44" fy="0.42"><stop offset="0.1" stop-color="#9e9997"/><stop offset="0.7" stop-color="#8f8a88"/><stop offset="0.9" stop-color="#8f8a88"/><stop offset="1" stop-color="#514c4a"/></radialGradient><radialGradient id="b11" cx="0.5" cy="0.5" r="0.5" fx="0.44" fy="0.42"><stop offset="0.1" stop-color="#a7a2a0"/><stop offset="0.7" stop-color="#979290"/><stop offset="0.9" stop-color="#979290"/><stop offset="1" stop-color="#55504e"/></radialGradient><clipPath id="bc"><rect x="336.4" y="8.6" width="240.6" height="197.4"/></clipPath><filter id="bf" x="0" y="0" width="1" height="1"><feGaussianBlur stdDeviation="0.7"/></filter></defs>
<g clip-path="url(#bc)"><rect x="336.4" y="8.6" width="240.6" height="197.4" fill="#322d2c"/><g filter="url(#bf)" stroke="#1e1a19" stroke-opacity="0.0" stroke-width="0.7"><g fill="url(#b0)"><circle cx="342.3" cy="79" r="3.6"/><circle cx="428.3" cy="7.8" r="2.5"/><circle cx="345.1" cy="76.3" r="4.4"/><circle cx="495.2" cy="14.8" r="2.8"/><circle cx="387.9" cy="202.1" r="2.2"/><circle cx="430.2" cy="15.3" r="4.3"/><circle cx="343.3" cy="84.7" r="2.1"/><circle cx="450.4" cy="96.4" r="4.4"/><circle cx="423.2" cy="209.2" r="2"/><circle cx="508" cy="160.9" r="2.4"/><circle cx="397.4" cy="152.1" r="2.3"/><circle cx="408.9" cy="208.8" r="2.7"/><circle cx="341.9" cy="87.5" r="1.8"/><circle cx="424.1" cy="94.9" r="2"/><circle cx="567.3" cy="156.4" r="2.6"/><circle cx="522" cy="36.5" r="3.1"/><circle cx="393.9" cy="151.5" r="4.6"/><circle cx="458" cy="207.6" r="2.9"/><circle cx="432.7" cy="44.5" r="2.2"/><circle cx="410.7" cy="13.6" r="2.2"/><circle cx="460.2" cy="103.1" r="6.5"/><circle cx="450.5" cy="173.5" r="3.5"/><circle cx="494.5" cy="163.6" r="1.5"/><circle cx="519.2" cy="3.7" r="2.5"/><circle cx="502.3" cy="17.2" r="3.9"/><circle cx="451.2" cy="200.9" r="5"/><circle cx="520" cy="3.6" r="2.6"/><circle cx="376.7" cy="87.6" r="3"/><circle cx="515.9" cy="199.6" r="2.8"/></g><g fill="url(#b1)"><circle cx="457.8" cy="103" r="2"/><circle cx="479.4" cy="62.4" r="2.6"/><circle cx="435.3" cy="39.1" r="4.8"/><circle cx="433.1" cy="199.7" r="3"/><circle cx="333.1" cy="73.4" r="4.8"/><circle cx="355" cy="86.1" r="1.8"/><circle cx="455.7" cy="167.5" r="3.6"/><circle cx="392.9" cy="191.1" r="2.5"/><circle cx="369.1" cy="195.2" r="2.8"/><circle cx="377.9" cy="201.9" r="2.1"/><circle cx="442.7" cy="45.5" r="2.6"/><circle cx="442.9" cy="204.6" r="1.8"/><circle cx="420.6" cy="67.2" r="2.1"/><circle cx="471.2" cy="60.7" r="3.3"/><circle cx="448.1" cy="101.5" r="1.4"/><circle cx="407.9" cy="48.9" r="3.4"/><circle cx="440.5" cy="44.2" r="3.1"/><circle cx="474.6" cy="62.9" r="2.8"/><circle cx="344.3" cy="80.7" r="2.7"/><circle cx="416.8" cy="204.8" r="3.3"/><circle cx="482.9" cy="37.2" r="2.4"/><circle cx="440.5" cy="206.2" r="2.6"/><circle cx="478.2" cy="71.4" r="2.8"/><circle cx="364.5" cy="199.5" r="5"/><circle cx="559.4" cy="145.6" r="2.2"/><circle cx="410.3" cy="200" r="1.7"/><circle cx="456.5" cy="75.6" r="2.3"/><circle cx="519.7" cy="63.8" r="1.8"/><circle cx="438.2" cy="209.7" r="2.5"/><circle cx="365.3" cy="202.2" r="3.4"/><circle cx="441.9" cy="49.3" r="3.6"/><circle cx="513.7" cy="13.9" r="2.9"/><circle cx="535.4" cy="114.2" r="1.8"/><circle cx="393.8" cy="151.1" r="3"/><circle cx="361.8" cy="199" r="2.8"/><circle cx="456.8" cy="99.9" r="1.7"/><circle cx="555.5" cy="144.9" r="1.7"/><circle cx="509.7" cy="201.1" r="2.7"/><circle cx="519.8" cy="210.9" r="2.2"/><circle cx="346" cy="72" r="3.5"/><circle cx="517.8" cy="206.2" r="3.4"/><circle cx="581.9" cy="164.1" r="4"/><circle cx="488.5" cy="12.9" r="3.2"/><circle cx="433.4" cy="55.8" r="2.3"/><circle cx="414" cy="99.7" r="3.5"/><circle cx="444.9" cy="8.3" r="2.4"/><circle cx="402.4" cy="206.1" r="3.1"/><circle cx="434.1" cy="33.8" r="3.9"/><circle cx="451.6" cy="95" r="3.4"/><circle cx="346.8" cy="184.6" r="2.5"/><circle cx="467.6" cy="207.4" r="3.7"/><circle cx="347.3" cy="92" r="2.3"/><circle cx="354.4" cy="192.7" r="2.2"/><circle cx="513.7" cy="209.2" r="3.7"/><circle cx="410.3" cy="210.9" r="1.3"/><circle cx="537.3" cy="111.4" r="3.5"/><circle cx="468" cy="94.5" r="2.7"/><circle cx="425" cy="37.5" r="2"/><circle cx="498.7" cy="9.7" r="2.6"/><circle cx="481.6" cy="57" r="3.3"/><circle cx="463.1" cy="208.3" r="4.6"/><circle cx="450" cy="68.9" r="2.6"/></g><g fill="url(#b2)"><circle cx="451.7" cy="120.9" r="4.8"/><circle cx="463" cy="107.1" r="5"/><circle cx="431.7" cy="5.8" r="3"/><circle cx="517.1" cy="31.6" r="2.4"/><circle cx="412.8" cy="205.9" r="1.3"/><circle cx="567.5" cy="139" r="4.8"/><circle cx="436.8" cy="185.3" r="2.6"/><circle cx="479.7" cy="17.3" r="1.5"/><circle cx="443" cy="206.5" r="2.3"/><circle cx="468.4" cy="68.6" r="5.6"/><circle cx="460.5" cy="209" r="2.5"/><circle cx="384.9" cy="111" r="2.1"/><circle cx="403.6" cy="4.1" r="2.8"/><circle cx="453.6" cy="200.2" r="1.3"/><circle cx="417.8" cy="10.8" r="1.9"/><circle cx="372.8" cy="84.1" r="2"/><circle cx="438.9" cy="200.9" r="3.4"/><circle cx="464.2" cy="96.1" r="3.9"/><circle cx="490.6" cy="154.4" r="4.7"/><circle cx="414.6" cy="58.8" r="2.2"/><circle cx="533.6" cy="34.5" r="2"/><circle cx="504.8" cy="17.5" r="2.3"/><circle cx="439.9" cy="34.4" r="5.8"/><circle cx="425.7" cy="35.5" r="2.6"/><circle cx="439" cy="10.8" r="2.1"/><circle cx="368.7" cy="167.4" r="3.5"/><circle cx="452.6" cy="194.8" r="4.7"/><circle cx="451" cy="176" r="2.8"/><circle cx="455.4" cy="90.1" r="3.1"/><circle cx="426.3" cy="202.5" r="4.5"/><circle cx="575.3" cy="31.8" r="2.4"/><circle cx="484.1" cy="26.8" r="1.4"/><circle cx="437.3" cy="194.1" r="2.8"/><circle cx="465.1" cy="66.2" r="1.9"/><circle cx="337.9" cy="87.5" r="2.6"/><circle cx="333" cy="58.8" r="2.3"/><circle cx="409.9" cy="205.2" r="3.4"/><circle cx="556.4" cy="38.2" r="3.2"/><circle cx="386.8" cy="151.2" r="2.6"/><circle cx="440.3" cy="206.8" r="3"/><circle cx="466.7" cy="73.9" r="3.3"/><circle cx="435.3" cy="51.8" r="3.6"/><circle cx="460.8" cy="96.2" r="3.6"/><circle cx="414" cy="43.3" r="1.9"/><circle cx="460.1" cy="202.7" r="3"/><circle cx="469.9" cy="194.5" r="6.4"/><circle cx="506.5" cy="73.2" r="2.3"/><circle cx="496.5" cy="12.8" r="2.3"/><circle cx="463" cy="199.5" r="5.4"/><circle cx="549.7" cy="101.2" r="6.5"/><circle cx="506" cy="158.6" r="3.3"/><circle cx="406.9" cy="203.7" r="2.1"/><circle cx="354.2" cy="77.9" r="3.8"/><circle cx="392.5" cy="120.3" r="4.2"/><circle cx="577.5" cy="42.8" r="3.4"/><circle cx="489.1" cy="67.7" r="3.2"/><circle cx="401.7" cy="18.5" r="1.4"/><circle cx="529.3" cy="56.3" r="3.1"/><circle cx="431.5" cy="177.3" r="4"/><circle cx="410.8" cy="9.4" r="2.4"/><circle cx="413.2" cy="92.1" r="4.1"/><circle cx="391.8" cy="203.3" r="4.4"/><circle cx="505.7" cy="164.4" r="4.8"/><circle cx="505.1" cy="167.9" r="5.2"/><circle cx="492.9" cy="156.8" r="3.3"/><circle cx="508.6" cy="10.7" r="2.8"/><circle cx="346.6" cy="65.2" r="2.2"/><circle cx="452.7" cy="174" r="3.4"/><circle cx="571.1" cy="210.6" r="3"/><circle cx="563.1" cy="152" r="5.3"/><circle cx="385.9" cy="208.5" r="2.4"/><circle cx="437.7" cy="49.6" r="4.2"/><circle cx="397.8" cy="91.4" r="2.5"/><circle cx="416.6" cy="191" r="3.4"/><circle cx="487.8" cy="170.5" r="1.8"/><circle cx="466" cy="78.3" r="2.1"/><circle cx="387.3" cy="148.5" r="2.3"/><circle cx="440.2" cy="26.6" r="3.2"/><circle cx="478.6" cy="37.3" r="2.3"/><circle cx="511.1" cy="126.3" r="1.7"/><circle cx="414.2" cy="198.3" r="3.6"/><circle cx="505.5" cy="4.3" r="2.5"/><circle cx="405.5" cy="20.4" r="3.2"/><circle cx="419.2" cy="198.9" r="5.2"/><circle cx="451.2" cy="179.2" r="2.6"/><circle cx="401.2" cy="195.5" r="5.3"/><circle cx="449.8" cy="106" r="3.7"/><circle cx="490.4" cy="160.4" r="3.5"/><circle cx="556.8" cy="155.1" r="2.9"/><circle cx="479.1" cy="67.3" r="3.1"/><circle cx="380" cy="186.2" r="6.1"/><circle cx="521.5" cy="90.8" r="4.7"/><circle cx="571.2" cy="166.7" r="2.7"/><circle cx="486.4" cy="55.6" r="1.8"/><circle cx="413.9" cy="104.3" r="3.9"/><circle cx="427" cy="4.9" r="3.1"/><circle cx="515.1" cy="208.2" r="2.5"/><circle cx="436.9" cy="53.8" r="2.9"/><circle cx="410.7" cy="42.4" r="2.5"/><circle cx="420.8" cy="77.2" r="2.1"/><circle cx="496.7" cy="24.3" r="2.2"/><circle cx="522" cy="105.5" r="2.2"/><circle cx="524.3" cy="110.9" r="4.8"/><circle cx="345.6" cy="116.7" r="2.7"/><circle cx="435.8" cy="199" r="2.7"/><circle cx="375.9" cy="80.8" r="3.3"/><circle cx="421.7" cy="180.1" r="2.4"/><circle cx="399.4" cy="181.5" r="2.8"/><circle cx="447.9" cy="121.3" r="1.4"/><circle cx="418.8" cy="178.3" r="4.8"/><circle cx="386.9" cy="5" r="3.5"/><circle cx="503.9" cy="12.9" r="3.9"/><circle cx="358.8" cy="167.9" r="2.8"/><circle cx="500.1" cy="17.5" r="3.8"/><circle cx="543.9" cy="125.4" r="3.3"/><circle cx="469.6" cy="107" r="3.2"/><circle cx="502.6" cy="160.7" r="6.5"/><circle cx="495.6" cy="70.4" r="3.6"/><circle cx="479.5" cy="187" r="3"/><circle cx="370.6" cy="204.1" r="3.5"/><circle cx="354.3" cy="209.4" r="1.9"/><circle cx="465.8" cy="197.4" r="1.6"/><circle cx="359.4" cy="198.2" r="2.6"/><circle cx="373.5" cy="191.9" r="3.8"/><circle cx="415" cy="52.2" r="3"/><circle cx="414.4" cy="46.7" r="2.3"/></g><g fill="url(#b3)"><circle cx="454.4" cy="103.9" r="3.1"/><circle cx="453.8" cy="209.1" r="3.6"/><circle cx="462.6" cy="82" r="2.8"/><circle cx="454.7" cy="138" r="2.8"/><circle cx="437" cy="168.2" r="3.9"/><circle cx="419.4" cy="48.2" r="5"/><circle cx="374.9" cy="46.1" r="1.6"/><circle cx="498" cy="167.7" r="3.8"/><circle cx="500.7" cy="153" r="1.4"/><circle cx="363.9" cy="193.5" r="4.7"/><circle cx="436.6" cy="180.7" r="4.5"/><circle cx="439.7" cy="29.9" r="4.4"/><circle cx="387.1" cy="12.9" r="2.3"/><circle cx="454.9" cy="192.5" r="3.5"/><circle cx="339.6" cy="92.2" r="3.2"/><circle cx="471.5" cy="111.9" r="2.1"/><circle cx="414.9" cy="10.9" r="3.3"/><circle cx="435.5" cy="204.1" r="3.9"/><circle cx="457.8" cy="59.3" r="3"/><circle cx="439.4" cy="196.5" r="1.7"/><circle cx="482.3" cy="51.4" r="2.8"/><circle cx="477.7" cy="46.1" r="6.5"/><circle cx="431" cy="35.1" r="2.7"/><circle cx="485.8" cy="72.9" r="1.8"/><circle cx="415" cy="93.4" r="2.7"/><circle cx="379.9" cy="189.5" r="4.5"/><circle cx="420.6" cy="203.9" r="3.1"/><circle cx="440.8" cy="56.9" r="5.2"/><circle cx="398.2" cy="123.4" r="2.6"/><circle cx="354.8" cy="201.5" r="1.8"/><circle cx="405.4" cy="40.9" r="3.3"/><circle cx="377.7" cy="200.4" r="2.9"/><circle cx="387.7" cy="155.6" r="2.2"/><circle cx="420.6" cy="191.1" r="3.8"/><circle cx="448" cy="48.1" r="3.4"/><circle cx="355.2" cy="81.6" r="4.4"/><circle cx="474.1" cy="57.7" r="2.5"/><circle cx="429.1" cy="24.4" r="2"/><circle cx="515.2" cy="68" r="2.4"/><circle cx="431.1" cy="48.8" r="1.3"/><circle cx="424.7" cy="173.5" r="6.4"/><circle cx="463.2" cy="103.4" r="2.3"/><circle cx="371.4" cy="186.8" r="3.8"/><circle cx="418.6" cy="57.7" r="5.6"/><circle cx="414.8" cy="208.2" r="2.4"/><circle cx="401.8" cy="203.8" r="1.8"/><circle cx="332.7" cy="114.8" r="6"/><circle cx="431" cy="9.1" r="4"/><circle cx="402.4" cy="202" r="2.3"/><circle cx="363.4" cy="170.5" r="2"/><circle cx="480.6" cy="76.2" r="2"/><circle cx="448.5" cy="144.9" r="2.9"/><circle cx="402" cy="31.8" r="2.7"/><circle cx="469.5" cy="194.3" r="3.5"/><circle cx="354.6" cy="179.7" r="1.6"/><circle cx="342.2" cy="62.3" r="1.4"/><circle cx="472.2" cy="45.2" r="2.4"/><circle cx="511.5" cy="142.5" r="3.3"/><circle cx="428.1" cy="105.7" r="3.1"/><circle cx="533.1" cy="123" r="3.4"/><circle cx="446.4" cy="194.6" r="3.3"/><circle cx="331.8" cy="45.5" r="2.6"/><circle cx="389.3" cy="140.4" r="2.2"/><circle cx="366.3" cy="195.3" r="3.3"/><circle cx="517.5" cy="114.1" r="1.7"/><circle cx="455" cy="164.5" r="2.4"/><circle cx="358.3" cy="176.3" r="2.6"/><circle cx="481.1" cy="71.1" r="2"/><circle cx="458.8" cy="49.8" r="3.2"/><circle cx="413.8" cy="58.6" r="2.5"/><circle cx="486.2" cy="99" r="4.3"/><circle cx="426.5" cy="199.5" r="1.8"/><circle cx="439" cy="46.2" r="2.5"/><circle cx="387.5" cy="146.5" r="3.3"/><circle cx="525.1" cy="28.8" r="4.3"/><circle cx="504.9" cy="161.2" r="3.1"/><circle cx="451.3" cy="209" r="2.9"/><circle cx="518.9" cy="199.8" r="2.4"/><circle cx="568.9" cy="50.9" r="2.9"/><circle cx="423.1" cy="204.4" r="2.1"/><circle cx="409.3" cy="100.8" r="2.7"/><circle cx="471.6" cy="72.6" r="4.8"/><circle cx="439.2" cy="17.5" r="2.9"/><circle cx="510.8" cy="166.1" r="3"/><circle cx="335.5" cy="90.1" r="1.6"/><circle cx="423.6" cy="185.3" r="3.1"/><circle cx="435.3" cy="206.5" r="3.3"/><circle cx="391.1" cy="171.6" r="2.3"/><circle cx="462.5" cy="106.2" r="2"/><circle cx="562.1" cy="161" r="4"/><circle cx="453.1" cy="93.1" r="5.3"/><circle cx="404.4" cy="85.9" r="3.8"/><circle cx="573.9" cy="39.2" r="4.3"/><circle cx="450.8" cy="128.8" r="4.1"/><circle cx="459" cy="79.2" r="5.2"/><circle cx="359.4" cy="183.4" r="2"/><circle cx="552.6" cy="25.4" r="2.3"/><circle cx="359.2" cy="110.4" r="5.1"/><circle cx="500.7" cy="91.5" r="2.2"/><circle cx="411.3" cy="94.5" r="2.4"/><circle cx="453.4" cy="98.1" r="4.4"/><circle cx="424.7" cy="48.7" r="2.3"/><circle cx="361.9" cy="141.2" r="1.3"/><circle cx="398.2" cy="189.9" r="5.2"/><circle cx="562.6" cy="147.1" r="2.2"/><circle cx="562.9" cy="103.1" r="3.1"/><circle cx="562.4" cy="156.1" r="5.2"/><circle cx="539.5" cy="55.7" r="2.7"/><circle cx="512.3" cy="137.9" r="2.8"/><circle cx="450" cy="173.3" r="2.9"/><circle cx="527.3" cy="29.8" r="4.3"/><circle cx="379.8" cy="170.7" r="5.1"/><circle cx="448.2" cy="43.8" r="3.8"/><circle cx="352.7" cy="112.8" r="4.2"/><circle cx="388.6" cy="194.6" r="4.9"/><circle cx="433.7" cy="12.8" r="5.1"/><circle cx="575.1" cy="137.5" r="2.9"/><circle cx="439.6" cy="200.8" r="3.9"/><circle cx="510.3" cy="88" r="2.7"/><circle cx="545.9" cy="163.2" r="4.8"/><circle cx="345.1" cy="131.7" r="3.4"/><circle cx="452.5" cy="101.2" r="2.7"/><circle cx="425.4" cy="184.8" r="2.4"/><circle cx="579" cy="198.5" r="2.6"/><circle cx="484.6" cy="15.9" r="4.4"/><circle cx="425" cy="169" r="5.3"/><circle cx="556.1" cy="166.1" r="2.8"/><circle cx="442.6" cy="52.4" r="1.7"/><circle cx="518.2" cy="30.7" r="2.6"/><circle cx="523.6" cy="138.4" r="2.9"/><circle cx="415.2" cy="56.6" r="2"/><circle cx="522.4" cy="4.1" r="2.9"/><circle cx="463.9" cy="137.7" r="2.7"/><circle cx="375.8" cy="185.8" r="3.3"/><circle cx="345.7" cy="203.9" r="1.4"/><circle cx="483.5" cy="90.4" r="1.8"/><circle cx="458.3" cy="89.7" r="2.9"/><circle cx="375.1" cy="193.9" r="2.9"/><circle cx="514" cy="69.8" r="2.6"/><circle cx="393.8" cy="146.1" r="6.5"/><circle cx="409.7" cy="38.1" r="4.7"/><circle cx="524" cy="15" r="5.4"/><circle cx="375.8" cy="86" r="2.5"/><circle cx="411.5" cy="50.2" r="3.4"/><circle cx="506.1" cy="78.7" r="1.7"/><circle cx="521.1" cy="143.4" r="2.9"/><circle cx="426.4" cy="63.3" r="2.2"/><circle cx="435.2" cy="66.9" r="2.5"/><circle cx="437.4" cy="94.6" r="1.4"/><circle cx="498.5" cy="77.3" r="1.3"/><circle cx="521.2" cy="103.7" r="1.8"/><circle cx="474.3" cy="67" r="2.6"/><circle cx="481.9" cy="36.1" r="2.4"/><circle cx="347.8" cy="119.4" r="2.7"/><circle cx="453.9" cy="162.4" r="2.2"/><circle cx="378.6" cy="102.9" r="3"/><circle cx="575.9" cy="46.1" r="3.1"/><circle cx="469.7" cy="65.3" r="4.3"/><circle cx="513.3" cy="127.7" r="4.1"/><circle cx="524.9" cy="17" r="3.6"/><circle cx="579.6" cy="193.4" r="2.7"/><circle cx="486.2" cy="53.5" r="2.3"/><circle cx="482.9" cy="12.1" r="2.8"/><circle cx="425.4" cy="7.4" r="2.1"/><circle cx="440.5" cy="29" r="2.6"/><circle cx="477.7" cy="60.5" r="2.7"/><circle cx="463.4" cy="107.2" r="3.1"/><circle cx="412.2" cy="207.6" r="2.1"/><circle cx="399.9" cy="207.4" r="2.9"/><circle cx="456.3" cy="84.6" r="3.7"/><circle cx="362.3" cy="174.3" r="2.3"/><circle cx="494.9" cy="17.2" r="4.1"/><circle cx="406.1" cy="207.2" r="3"/><circle cx="516.8" cy="45.7" r="1.8"/><circle cx="427.8" cy="37.7" r="2.1"/><circle cx="582" cy="161.7" r="2.4"/><circle cx="433.2" cy="39.6" r="3.6"/><circle cx="528.8" cy="102.8" r="3.2"/><circle cx="355.8" cy="71.4" r="4.1"/><circle cx="552.8" cy="138.2" r="1.7"/><circle cx="447.9" cy="203.7" r="5.4"/><circle cx="517.4" cy="146" r="3.5"/><circle cx="424" cy="199.4" r="2.3"/><circle cx="352.2" cy="116.9" r="2.7"/><circle cx="516" cy="143.3" r="2.2"/><circle cx="406.3" cy="4.4" r="2.1"/><circle cx="556.4" cy="37" r="2.9"/><circle cx="526.2" cy="120.4" r="3"/><circle cx="397.4" cy="46.3" r="3.3"/><circle cx="429.4" cy="115.5" r="3.1"/><circle cx="444.9" cy="132.3" r="2.2"/><circle cx="524.6" cy="68.2" r="1.3"/><circle cx="458.9" cy="136.9" r="5"/><circle cx="480.8" cy="102.2" r="1.9"/><circle cx="370.8" cy="193.2" r="2.4"/><circle cx="404.1" cy="210.4" r="2.7"/><circle cx="396.8" cy="156.8" r="6.5"/><circle cx="513.5" cy="57.2" r="2.3"/><circle cx="516.6" cy="41.6" r="3.4"/><circle cx="528.3" cy="40.8" r="2.6"/><circle cx="335.3" cy="93.3" r="2.9"/><circle cx="347.5" cy="84.1" r="6"/><circle cx="495" cy="43.6" r="3"/><circle cx="382.7" cy="153.6" r="5.9"/><circle cx="415.6" cy="188" r="2.4"/><circle cx="463" cy="75.1" r="3.2"/><circle cx="576.1" cy="36.9" r="3"/><circle cx="401.1" cy="89.6" r="2.6"/><circle cx="558.6" cy="30.5" r="6.1"/><circle cx="406.8" cy="85.9" r="5.7"/><circle cx="485.6" cy="185.7" r="4.3"/><circle cx="448.1" cy="141.8" r="2.9"/><circle cx="520.8" cy="26.5" r="2.5"/><circle cx="427.8" cy="79.3" r="1.9"/><circle cx="458.8" cy="61.4" r="2.2"/><circle cx="568.4" cy="161.8" r="4"/><circle cx="425.5" cy="55.9" r="1.8"/><circle cx="428.4" cy="187.1" r="5.6"/><circle cx="576" cy="53.3" r="1.6"/><circle cx="560.3" cy="138" r="1.9"/><circle cx="516.4" cy="11.2" r="6.1"/><circle cx="522.4" cy="95.9" r="2.1"/><circle cx="399.5" cy="202.9" r="3"/><circle cx="333.6" cy="49" r="2.9"/><circle cx="571.2" cy="127.1" r="3.7"/><circle cx="504.7" cy="79.8" r="2.5"/><circle cx="485.4" cy="66.6" r="4.4"/><circle cx="550" cy="97.7" r="1.4"/><circle cx="459.2" cy="95.3" r="3"/><circle cx="448.5" cy="46.8" r="2.1"/><circle cx="369.2" cy="196.1" r="2.9"/><circle cx="406.1" cy="15.1" r="2.1"/><circle cx="502.6" cy="60.7" r="1.9"/><circle cx="553.8" cy="20.6" r="2.5"/></g><g fill="url(#b4)"><circle cx="551.8" cy="181.3" r="6.3"/><circle cx="522.9" cy="118.1" r="2.6"/><circle cx="451.7" cy="170.6" r="3.9"/><circle cx="379.1" cy="158.9" r="2.1"/><circle cx="501.6" cy="17.8" r="4"/><circle cx="428.4" cy="51.5" r="3.1"/><circle cx="356.8" cy="175.5" r="3"/><circle cx="476.7" cy="63.4" r="2.4"/><circle cx="528.1" cy="106.5" r="2.8"/><circle cx="355.1" cy="197.1" r="3.1"/><circle cx="368.4" cy="207" r="3.9"/><circle cx="423.4" cy="100.7" r="2.6"/><circle cx="485.6" cy="14" r="4.3"/><circle cx="508.1" cy="199.2" r="1.9"/><circle cx="517.3" cy="148.9" r="1.3"/><circle cx="409.4" cy="54.7" r="3.3"/><circle cx="566.6" cy="49.6" r="2.4"/><circle cx="541.3" cy="123.4" r="2.1"/><circle cx="484" cy="31.4" r="3.1"/><circle cx="411.2" cy="70.4" r="3.2"/><circle cx="406.7" cy="147.3" r="4.2"/><circle cx="507.1" cy="155.8" r="1.8"/><circle cx="547.1" cy="55.1" r="2.8"/><circle cx="481.7" cy="7.5" r="4"/><circle cx="383.2" cy="191.7" r="1.6"/><circle cx="364.5" cy="13.3" r="2.9"/><circle cx="360.7" cy="206.2" r="3.9"/><circle cx="579.4" cy="205.9" r="3.5"/><circle cx="397.3" cy="200.3" r="1.5"/><circle cx="476" cy="43.9" r="1.3"/><circle cx="578.1" cy="49.4" r="2.5"/><circle cx="423" cy="28.3" r="2.7"/><circle cx="435.9" cy="198.9" r="2.8"/><circle cx="569.9" cy="115.8" r="3.8"/><circle cx="411.3" cy="82.6" r="1.4"/><circle cx="581.3" cy="172.2" r="2"/><circle cx="490.7" cy="60.1" r="3.7"/><circle cx="432.6" cy="168.8" r="3.6"/><circle cx="418.8" cy="97.3" r="4.2"/><circle cx="563.7" cy="28.2" r="3.3"/><circle cx="507" cy="79" r="1.8"/><circle cx="402.5" cy="153.1" r="2.2"/><circle cx="440.2" cy="171.6" r="4"/><circle cx="449" cy="44.7" r="3.6"/><circle cx="510.3" cy="11.8" r="2.6"/><circle cx="544.3" cy="146" r="5.2"/><circle cx="360.1" cy="195.2" r="2.2"/><circle cx="475.8" cy="190.4" r="2.3"/><circle cx="427.2" cy="97.3" r="2.3"/><circle cx="514.9" cy="17.4" r="4.9"/><circle cx="336.2" cy="76.5" r="4.8"/><circle cx="352.9" cy="177.2" r="2.3"/><circle cx="490.6" cy="184.6" r="4.4"/><circle cx="435.9" cy="142.3" r="4.7"/><circle cx="489.8" cy="9.2" r="5.5"/><circle cx="439.3" cy="68.4" r="2.4"/><circle cx="428" cy="207.1" r="4.5"/><circle cx="555.6" cy="107.5" r="2.9"/><circle cx="400" cy="197.2" r="1.5"/><circle cx="518.2" cy="111.7" r="2.6"/><circle cx="453.3" cy="127.2" r="3.9"/><circle cx="374.6" cy="170.1" r="6.2"/><circle cx="349.5" cy="194.8" r="1.9"/><circle cx="570.1" cy="164.6" r="3.2"/><circle cx="573" cy="131.8" r="3.1"/><circle cx="427.4" cy="207.6" r="3"/><circle cx="492" cy="88.7" r="1.8"/><circle cx="519.1" cy="80.4" r="2.5"/><circle cx="513.9" cy="77.1" r="2.7"/><circle cx="518.1" cy="39.9" r="1.3"/><circle cx="576.7" cy="204.7" r="3.7"/><circle cx="353" cy="90.9" r="2.6"/><circle cx="375.6" cy="206.1" r="3.5"/><circle cx="496.5" cy="144.2" r="3.3"/><circle cx="503.8" cy="196.5" r="4.9"/><circle cx="414.2" cy="62.9" r="3.4"/><circle cx="371.7" cy="207" r="2.4"/><circle cx="506.6" cy="14" r="3.3"/><circle cx="413.5" cy="17.1" r="3.5"/><circle cx="496.7" cy="74.8" r="3.7"/><circle cx="333.8" cy="22.6" r="3.1"/><circle cx="409" cy="202.2" r="1.6"/><circle cx="458.6" cy="205.1" r="3.8"/><circle cx="408.8" cy="60.5" r="6.5"/><circle cx="394.9" cy="209.4" r="4.7"/><circle cx="541.8" cy="53.5" r="2.1"/><circle cx="358.6" cy="129.8" r="4.5"/><circle cx="420.6" cy="60.3" r="6.5"/><circle cx="490.5" cy="188.9" r="5.1"/><circle cx="457.5" cy="198" r="4.3"/><circle cx="400.4" cy="153.2" r="3.7"/><circle cx="559.6" cy="117.9" r="3.8"/><circle cx="410.3" cy="44.8" r="2.9"/><circle cx="335.5" cy="73.9" r="2.3"/><circle cx="440.8" cy="36.2" r="2.2"/><circle cx="544" cy="56.8" r="3.1"/><circle cx="461.7" cy="55.9" r="2.6"/><circle cx="389.6" cy="88.4" r="2.4"/><circle cx="460.9" cy="83.1" r="3.4"/><circle cx="460.8" cy="40.2" r="2.5"/><circle cx="478.7" cy="10.6" r="3"/><circle cx="499.7" cy="133.7" r="2.4"/><circle cx="440.9" cy="178.4" r="3.1"/><circle cx="423" cy="162.2" r="3.2"/><circle cx="405.8" cy="48.3" r="2.4"/><circle cx="356.8" cy="203.1" r="2.1"/><circle cx="427.1" cy="89.8" r="4.3"/><circle cx="412.3" cy="83.2" r="1.5"/><circle cx="499.4" cy="15.5" r="2"/><circle cx="510" cy="205.6" r="4"/><circle cx="390.9" cy="211" r="3"/><circle cx="449.5" cy="185.6" r="3.1"/><circle cx="540.8" cy="76" r="1.8"/><circle cx="515.7" cy="156.7" r="5.6"/><circle cx="581" cy="101" r="2.1"/><circle cx="536.5" cy="78.8" r="1.7"/><circle cx="434.7" cy="141.7" r="2.9"/><circle cx="492.7" cy="13" r="3.9"/><circle cx="507.5" cy="21.9" r="1.9"/><circle cx="429" cy="45.1" r="3.1"/><circle cx="579.2" cy="55.2" r="1.7"/><circle cx="419.9" cy="42" r="2.1"/><circle cx="491.2" cy="26.6" r="2.2"/><circle cx="365.3" cy="168.5" r="2.3"/><circle cx="513.7" cy="29.3" r="4.7"/><circle cx="552.8" cy="172" r="3"/><circle cx="564.5" cy="21.1" r="2.3"/><circle cx="549.3" cy="140.2" r="3.1"/><circle cx="462.8" cy="127.8" r="1.8"/><circle cx="415.9" cy="42.6" r="2.1"/><circle cx="423.9" cy="28.7" r="2.4"/><circle cx="509.3" cy="87.1" r="3.1"/><circle cx="396.6" cy="8.4" r="3.9"/><circle cx="402.6" cy="157.3" r="4.6"/><circle cx="341.8" cy="117.2" r="1.6"/><circle cx="485.9" cy="60.2" r="2.7"/><circle cx="374.9" cy="200.2" r="2.1"/><circle cx="454.9" cy="74.8" r="3.5"/><circle cx="448.8" cy="147.4" r="3.6"/><circle cx="341.2" cy="120.1" r="1.8"/><circle cx="573.7" cy="108.2" r="3.4"/><circle cx="389.1" cy="204.9" r="3.7"/><circle cx="580.4" cy="210.7" r="3.8"/><circle cx="492.5" cy="166.8" r="3"/><circle cx="506.7" cy="84" r="4.1"/><circle cx="511.8" cy="92.8" r="2.5"/><circle cx="397.7" cy="45.4" r="1.9"/><circle cx="581.2" cy="126.9" r="2.4"/><circle cx="357.2" cy="179.8" r="3.9"/><circle cx="394.8" cy="204.8" r="2.4"/><circle cx="534.5" cy="17.4" r="3.3"/><circle cx="397.7" cy="7.8" r="2.2"/><circle cx="400.4" cy="44.2" r="2.7"/><circle cx="413.1" cy="196.7" r="2.8"/><circle cx="480.5" cy="185.9" r="3.5"/><circle cx="412" cy="20.2" r="1.8"/><circle cx="466.9" cy="90.1" r="6.1"/><circle cx="333.4" cy="55" r="3.3"/><circle cx="350.7" cy="90.6" r="2.5"/><circle cx="443.7" cy="193.8" r="1.8"/><circle cx="477" cy="65.2" r="3.5"/><circle cx="573.6" cy="156.2" r="4.6"/><circle cx="460.8" cy="94.7" r="4.5"/><circle cx="410.1" cy="4.8" r="1.8"/><circle cx="332.7" cy="125.4" r="4.5"/><circle cx="553" cy="36.1" r="3.2"/><circle cx="418.9" cy="13.9" r="3.9"/><circle cx="403.4" cy="84.2" r="5.1"/><circle cx="360.3" cy="81.4" r="4.3"/><circle cx="468.8" cy="75.9" r="2.8"/><circle cx="410" cy="99.7" r="1.9"/><circle cx="480.6" cy="37" r="2.3"/><circle cx="444.3" cy="70.8" r="1.8"/><circle cx="449.6" cy="77.2" r="4.8"/><circle cx="411.8" cy="60.9" r="2"/><circle cx="465.6" cy="58.1" r="3.1"/><circle cx="396.9" cy="85" r="3.8"/><circle cx="364.3" cy="177.1" r="2.8"/><circle cx="524.1" cy="92.9" r="2.9"/><circle cx="553.8" cy="154.7" r="5.6"/><circle cx="514.8" cy="145.5" r="2.6"/><circle cx="437.4" cy="91.9" r="3.3"/><circle cx="477.3" cy="167.3" r="2.8"/><circle cx="407.9" cy="167.3" r="2.1"/><circle cx="424.4" cy="40.1" r="3.9"/><circle cx="359.1" cy="4.6" r="2.9"/><circle cx="542.1" cy="150.4" r="1.8"/><circle cx="493.8" cy="25.4" r="4.5"/><circle cx="337.9" cy="55.3" r="1.7"/><circle cx="337.1" cy="129.4" r="5.7"/><circle cx="509.4" cy="16.8" r="2.1"/><circle cx="526.5" cy="94.2" r="1.8"/><circle cx="501.2" cy="189.2" r="6.5"/><circle cx="441.2" cy="84.1" r="3.4"/><circle cx="512.5" cy="116.3" r="3.5"/><circle cx="416.1" cy="99.6" r="2.4"/><circle cx="550.2" cy="116.1" r="2.2"/><circle cx="390.4" cy="19.5" r="4.4"/><circle cx="369.6" cy="171.1" r="2.8"/><circle cx="528.4" cy="112.7" r="3.2"/><circle cx="365.1" cy="21.1" r="1.9"/><circle cx="462" cy="203.5" r="4.9"/><circle cx="535.8" cy="20" r="2.7"/><circle cx="450.4" cy="49.8" r="1.5"/><circle cx="418.4" cy="165.2" r="5.8"/><circle cx="436.4" cy="79.5" r="2.8"/><circle cx="503.1" cy="185" r="3.2"/><circle cx="474.9" cy="121.6" r="3.9"/><circle cx="507.2" cy="11.5" r="1.8"/><circle cx="396" cy="195.2" r="2.4"/><circle cx="494.3" cy="145.5" r="3.3"/><circle cx="331.7" cy="95.1" r="3.2"/><circle cx="417.3" cy="182" r="1.7"/><circle cx="521.1" cy="38.7" r="2"/><circle cx="533.3" cy="13" r="3.7"/><circle cx="492.1" cy="123.1" r="2.1"/><circle cx="336.9" cy="116" r="4.1"/><circle cx="399.5" cy="205.7" r="2.1"/><circle cx="414.1" cy="11.7" r="4.1"/><circle cx="539.6" cy="32.1" r="2.3"/><circle cx="452.3" cy="190" r="4.3"/><circle cx="459" cy="97.5" r="2.3"/><circle cx="372.7" cy="20.7" r="1.6"/><circle cx="414" cy="13.4" r="2.9"/><circle cx="484.2" cy="168.6" r="4.8"/><circle cx="457.6" cy="129.5" r="2.1"/><circle cx="453.4" cy="21.5" r="2.5"/><circle cx="560.1" cy="47.5" r="2.6"/><circle cx="443.2" cy="30.1" r="3.3"/><circle cx="491.5" cy="71.6" r="3.8"/><circle cx="520.3" cy="171.5" r="1.9"/><circle cx="543.1" cy="25.2" r="2.9"/><circle cx="538.8" cy="68.5" r="2.6"/><circle cx="454.6" cy="39.4" r="5.6"/><circle cx="403.8" cy="177.1" r="3.7"/><circle cx="409.7" cy="151.3" r="2"/><circle cx="411.9" cy="53.7" r="2.4"/><circle cx="495.2" cy="65.1" r="4"/><circle cx="512.2" cy="205.2" r="4.8"/><circle cx="357.2" cy="90.6" r="3"/><circle cx="352.5" cy="166.6" r="3.5"/><circle cx="446.3" cy="55" r="2.7"/><circle cx="363.2" cy="207.9" r="5.3"/><circle cx="377.5" cy="165.8" r="4.1"/><circle cx="510.8" cy="110.3" r="3.2"/><circle cx="479.3" cy="100.3" r="1.6"/><circle cx="394" cy="57.9" r="3.6"/><circle cx="335.3" cy="114.6" r="2.8"/><circle cx="523.1" cy="78.1" r="4.1"/><circle cx="333.8" cy="120.6" r="5.7"/><circle cx="522.7" cy="18.5" r="3.9"/><circle cx="443.4" cy="136" r="2.7"/><circle cx="484.8" cy="10.7" r="4.2"/><circle cx="346.7" cy="87.6" r="3"/><circle cx="495.7" cy="169.8" r="2.3"/><circle cx="333.2" cy="34" r="1.7"/><circle cx="434" cy="28.7" r="3.4"/><circle cx="523.3" cy="51.3" r="3.6"/><circle cx="556.8" cy="19" r="2"/><circle cx="527.8" cy="20.8" r="1.9"/><circle cx="543" cy="111.9" r="5.3"/><circle cx="564" cy="61" r="2.3"/><circle cx="404.7" cy="204.2" r="2.5"/><circle cx="377.7" cy="181.8" r="3"/><circle cx="377.1" cy="208.8" r="2.9"/><circle cx="456.4" cy="203.7" r="4.7"/><circle cx="355" cy="74" r="4.9"/><circle cx="379.5" cy="162.3" r="2.8"/><circle cx="342.8" cy="83.4" r="2.5"/><circle cx="348.5" cy="117.9" r="1.8"/><circle cx="574.9" cy="60.6" r="1.4"/><circle cx="417.9" cy="67.8" r="3.5"/><circle cx="580" cy="8.2" r="2.1"/><circle cx="446.9" cy="99.1" r="1.5"/><circle cx="362" cy="180.9" r="3"/><circle cx="341.3" cy="77.6" r="3.9"/><circle cx="446.9" cy="82" r="3.3"/><circle cx="532" cy="19.3" r="3.5"/><circle cx="458.6" cy="142.2" r="3.8"/><circle cx="464.1" cy="38.9" r="3.3"/><circle cx="510.1" cy="41.1" r="2.6"/><circle cx="559.1" cy="43.8" r="2.3"/><circle cx="442.3" cy="10.4" r="1.8"/><circle cx="378.4" cy="84.7" r="1.9"/><circle cx="361.8" cy="60.6" r="2.3"/><circle cx="474.1" cy="77.8" r="2.7"/><circle cx="426.8" cy="29.5" r="2.1"/><circle cx="557.2" cy="150.1" r="6.4"/><circle cx="523.3" cy="63.5" r="3.3"/><circle cx="540.4" cy="63.7" r="3.2"/><circle cx="381.9" cy="160.8" r="2.8"/><circle cx="437.5" cy="30.8" r="3.1"/><circle cx="535.4" cy="86" r="2.1"/><circle cx="456" cy="41.4" r="2.4"/><circle cx="391.5" cy="190.6" r="3.4"/><circle cx="495.3" cy="193.6" r="3.8"/><circle cx="376.7" cy="182.9" r="1.9"/><circle cx="511.3" cy="208.6" r="4"/><circle cx="398.5" cy="195.6" r="1.5"/><circle cx="445.9" cy="73.5" r="3.1"/><circle cx="394.3" cy="185.9" r="6.5"/><circle cx="345" cy="96.5" r="4.5"/><circle cx="401.5" cy="98.8" r="1.5"/><circle cx="447.6" cy="76.8" r="2"/><circle cx="433.4" cy="86" r="1.5"/><circle cx="393.9" cy="40" r="2.2"/><circle cx="403.2" cy="42.6" r="2.7"/><circle cx="407.3" cy="196.1" r="1.5"/><circle cx="486.5" cy="39.5" r="3.8"/><circle cx="572.9" cy="139.8" r="5.2"/><circle cx="575.4" cy="154.5" r="4.5"/><circle cx="502.8" cy="129.9" r="2.5"/><circle cx="421.2" cy="10.7" r="3"/><circle cx="411.1" cy="97.8" r="2.5"/><circle cx="495.2" cy="22.8" r="3.2"/><circle cx="422" cy="83.2" r="4.6"/><circle cx="408.3" cy="3.9" r="2.5"/><circle cx="344.6" cy="99.4" r="5.9"/><circle cx="473" cy="47.3" r="2.4"/><circle cx="525.1" cy="115.9" r="3.6"/><circle cx="362" cy="182.5" r="1.7"/><circle cx="385" cy="169.6" r="2.5"/><circle cx="487.2" cy="166.9" r="1.8"/><circle cx="473.6" cy="16.7" r="4.2"/><circle cx="507.7" cy="94.8" r="1.5"/><circle cx="491.8" cy="60.3" r="3"/><circle cx="527.4" cy="24.8" r="1.5"/><circle cx="540" cy="125.8" r="3.2"/><circle cx="548.3" cy="30.4" r="3.2"/><circle cx="525.2" cy="13.3" r="4.9"/><circle cx="417" cy="75.8" r="1.5"/><circle cx="577.3" cy="160.6" r="1.7"/><circle cx="437.7" cy="176.7" r="2.3"/><circle cx="580.2" cy="128.6" r="3.2"/><circle cx="494.1" cy="210.3" r="2.3"/><circle cx="544.8" cy="141.2" r="4.7"/><circle cx="561.7" cy="143.7" r="2.5"/><circle cx="381.9" cy="90.4" r="4.1"/><circle cx="429.8" cy="57" r="2.5"/><circle cx="495.3" cy="8.6" r="3.3"/><circle cx="388.5" cy="170.3" r="3.2"/><circle cx="521.6" cy="42.3" r="2.3"/><circle cx="477.8" cy="13.9" r="2.9"/><circle cx="515" cy="133.4" r="1.6"/><circle cx="553.8" cy="149.7" r="4.8"/><circle cx="522.7" cy="142.2" r="4.6"/><circle cx="549.7" cy="180.1" r="3.7"/><circle cx="506.6" cy="176.6" r="1.9"/><circle cx="342.9" cy="60.4" r="2.6"/><circle cx="443.9" cy="78.4" r="4.5"/><circle cx="431.1" cy="51.7" r="2.1"/><circle cx="379.1" cy="186.4" r="4.2"/><circle cx="365.6" cy="4.8" r="1.5"/><circle cx="498.6" cy="20.2" r="3.2"/><circle cx="457.4" cy="76" r="2.4"/><circle cx="476.4" cy="74.5" r="4.2"/><circle cx="341.9" cy="90.9" r="2.9"/><circle cx="495.6" cy="28.2" r="2.5"/><circle cx="500.1" cy="106.8" r="1.8"/><circle cx="545.2" cy="148.5" r="4.3"/><circle cx="530" cy="51.1" r="4.1"/><circle cx="561.8" cy="35.3" r="4.4"/><circle cx="437.6" cy="83.1" r="2.1"/><circle cx="466.5" cy="30.6" r="2.3"/><circle cx="443" cy="23.5" r="4.9"/><circle cx="502" cy="150.3" r="2.4"/><circle cx="546.7" cy="69.2" r="1.9"/><circle cx="411.5" cy="35.3" r="4.9"/><circle cx="471.5" cy="144.7" r="2.4"/><circle cx="533.3" cy="42" r="3.2"/><circle cx="577.4" cy="69.1" r="1.8"/><circle cx="520.3" cy="205.1" r="5.7"/><circle cx="415.2" cy="23.1" r="2.4"/><circle cx="420.9" cy="86.7" r="3.3"/><circle cx="459.1" cy="68" r="6.5"/><circle cx="352.3" cy="109.1" r="2.8"/><circle cx="509.6" cy="25" r="3.7"/><circle cx="453.6" cy="87" r="1.7"/><circle cx="576.7" cy="141.4" r="1.6"/><circle cx="572" cy="134.6" r="3.2"/><circle cx="412.6" cy="89.9" r="2.3"/><circle cx="488" cy="187.8" r="1.4"/><circle cx="426.8" cy="69.8" r="4.7"/><circle cx="571.3" cy="110.4" r="2.9"/><circle cx="551.6" cy="26.8" r="2.2"/></g><g fill="url(#b5)"><circle cx="489.6" cy="80.2" r="2.9"/><circle cx="570.4" cy="153.9" r="3.1"/><circle cx="397" cy="144.3" r="3.1"/><circle cx="437.8" cy="117" r="3.3"/><circle cx="402.1" cy="50.7" r="2.7"/><circle cx="580.8" cy="154.4" r="5.8"/><circle cx="490.4" cy="61.7" r="3.9"/><circle cx="553.7" cy="37.8" r="2.3"/><circle cx="456.2" cy="83.7" r="4.3"/><circle cx="496.2" cy="156.9" r="1.4"/><circle cx="551" cy="158.6" r="2"/><circle cx="517.6" cy="209.6" r="2.8"/><circle cx="405.2" cy="92.3" r="1.6"/><circle cx="442.8" cy="95.9" r="2.6"/><circle cx="489.7" cy="58.3" r="1.9"/><circle cx="457.3" cy="134.1" r="3.1"/><circle cx="447.7" cy="185.1" r="2.1"/><circle cx="549.9" cy="122.9" r="2.1"/><circle cx="428.6" cy="197" r="3.2"/><circle cx="504.3" cy="6.6" r="3.9"/><circle cx="475.4" cy="52" r="6.3"/><circle cx="522.3" cy="162.3" r="2.4"/><circle cx="369.4" cy="5.4" r="1.9"/><circle cx="496.1" cy="185.1" r="2.9"/><circle cx="356.9" cy="182.6" r="2.6"/><circle cx="447" cy="163.6" r="4.8"/><circle cx="407.7" cy="46.1" r="3.4"/><circle cx="480.6" cy="40.7" r="2.8"/><circle cx="451.6" cy="185" r="1.9"/><circle cx="502.3" cy="114.1" r="3.4"/><circle cx="350" cy="72.3" r="4.3"/><circle cx="571" cy="117.6" r="2.2"/><circle cx="514.8" cy="37.4" r="1.9"/><circle cx="523.8" cy="118.7" r="2.4"/><circle cx="331.9" cy="47.7" r="3.6"/><circle cx="342.9" cy="65.4" r="2.6"/><circle cx="536" cy="104.2" r="4.8"/><circle cx="497.9" cy="61.9" r="3.7"/><circle cx="529.5" cy="78" r="2.7"/><circle cx="509.4" cy="109.5" r="1.6"/><circle cx="456.2" cy="108" r="3.7"/><circle cx="514" cy="105.5" r="2.3"/><circle cx="563.4" cy="56.3" r="6.2"/><circle cx="507.8" cy="190.6" r="3.2"/><circle cx="408.9" cy="64.1" r="2.8"/><circle cx="499.6" cy="119.3" r="4.6"/><circle cx="501.5" cy="23.3" r="2.5"/><circle cx="551.7" cy="18.4" r="2.7"/><circle cx="415.7" cy="4.5" r="4.3"/><circle cx="449.4" cy="124.4" r="4.2"/><circle cx="520.1" cy="107.5" r="2.4"/><circle cx="550.4" cy="39.2" r="2.7"/><circle cx="506.8" cy="111.3" r="3.1"/><circle cx="344.5" cy="113" r="5.4"/><circle cx="381.5" cy="158.2" r="1.7"/><circle cx="554.4" cy="182.5" r="2.7"/><circle cx="486.1" cy="4.5" r="4.6"/><circle cx="362.9" cy="141.4" r="2"/><circle cx="569.2" cy="34.1" r="2.6"/><circle cx="482.1" cy="84.7" r="4.4"/><circle cx="494.8" cy="57.2" r="2.9"/><circle cx="529" cy="21.8" r="1.5"/><circle cx="440.4" cy="4.5" r="6.4"/><circle cx="496.7" cy="132" r="1.6"/><circle cx="333.3" cy="62.2" r="3.2"/><circle cx="447.2" cy="176" r="3.5"/><circle cx="378.1" cy="112.9" r="2.1"/><circle cx="362.5" cy="185.3" r="2.7"/><circle cx="450.7" cy="148.2" r="4.1"/><circle cx="405.8" cy="84.8" r="3.4"/><circle cx="509.7" cy="195.5" r="4"/><circle cx="542.4" cy="185.2" r="4"/><circle cx="439.2" cy="177.4" r="1.6"/><circle cx="534.8" cy="27.5" r="5.5"/><circle cx="522.9" cy="56.3" r="3.6"/><circle cx="442.1" cy="77.4" r="3.7"/><circle cx="389.6" cy="16" r="3.7"/><circle cx="434.7" cy="198.6" r="3.5"/><circle cx="384.5" cy="48.3" r="2"/><circle cx="510" cy="203.9" r="2.6"/><circle cx="363.1" cy="77.3" r="5.5"/><circle cx="563.4" cy="129.9" r="2.5"/><circle cx="519.5" cy="51.8" r="5.1"/><circle cx="455.2" cy="177.1" r="4"/><circle cx="445" cy="78.8" r="4.1"/><circle cx="377.4" cy="178.3" r="3"/><circle cx="479.7" cy="105.9" r="3.4"/><circle cx="400.3" cy="74.3" r="1.7"/><circle cx="420.8" cy="66" r="1.7"/><circle cx="368.9" cy="26.5" r="3.7"/><circle cx="399.7" cy="200.3" r="2.2"/><circle cx="386.8" cy="84.3" r="3.4"/><circle cx="392.5" cy="36.3" r="4.3"/><circle cx="424.4" cy="185.5" r="2.1"/><circle cx="574.6" cy="50.5" r="3.1"/><circle cx="494.6" cy="101.7" r="2.4"/><circle cx="511" cy="202.9" r="2.1"/><circle cx="527.2" cy="10.5" r="1.6"/><circle cx="515.4" cy="123.8" r="1.8"/><circle cx="509.2" cy="19.8" r="3.6"/><circle cx="488.4" cy="34.4" r="3.3"/><circle cx="467.1" cy="123.2" r="2.3"/><circle cx="403.9" cy="85.8" r="3.1"/><circle cx="380.9" cy="147" r="4.9"/><circle cx="415" cy="110.8" r="4"/><circle cx="353.6" cy="118.7" r="2.6"/><circle cx="361" cy="112.4" r="6.5"/><circle cx="362.3" cy="148.5" r="3.1"/><circle cx="577.8" cy="115.3" r="2.5"/><circle cx="498.8" cy="187.5" r="2"/><circle cx="446" cy="47.7" r="2.9"/><circle cx="334.2" cy="111.4" r="3.4"/><circle cx="416.6" cy="186.9" r="2"/><circle cx="402.5" cy="91.7" r="2.8"/><circle cx="416.1" cy="188" r="2.2"/><circle cx="423.6" cy="91" r="1.3"/><circle cx="480.8" cy="33.5" r="2.7"/><circle cx="512.4" cy="89.5" r="4.2"/><circle cx="452.4" cy="116.9" r="1.6"/><circle cx="352.3" cy="106.7" r="3.2"/><circle cx="424.4" cy="45.9" r="3.1"/><circle cx="417.1" cy="208.2" r="2.8"/><circle cx="541.5" cy="55.5" r="1.9"/><circle cx="380.4" cy="53.7" r="4.1"/><circle cx="462" cy="156.3" r="1.4"/><circle cx="550.1" cy="107.6" r="5.1"/><circle cx="373.4" cy="205.1" r="2.6"/><circle cx="575.9" cy="137.4" r="3.4"/><circle cx="547.8" cy="104.8" r="4.5"/><circle cx="578.4" cy="112.3" r="3.5"/><circle cx="477.8" cy="57.9" r="2.6"/><circle cx="452.4" cy="4.7" r="2.9"/><circle cx="428.1" cy="18.4" r="4.8"/><circle cx="427.7" cy="31.7" r="3.6"/><circle cx="402" cy="150.9" r="3.4"/><circle cx="450.3" cy="136.4" r="6.4"/><circle cx="346.5" cy="137.1" r="3.7"/><circle cx="570.7" cy="176" r="4.8"/><circle cx="497.3" cy="4.7" r="4.8"/><circle cx="407.9" cy="157.9" r="3"/><circle cx="353.2" cy="138.6" r="3.5"/><circle cx="433.7" cy="59.6" r="4.2"/><circle cx="492.4" cy="148.3" r="4.9"/><circle cx="464.2" cy="133.7" r="2.6"/><circle cx="334.9" cy="27.5" r="4.5"/><circle cx="454.8" cy="116.1" r="4.1"/><circle cx="416.5" cy="105.9" r="2.6"/><circle cx="400.9" cy="47.5" r="1.8"/><circle cx="350" cy="65.5" r="4.1"/><circle cx="434.3" cy="173.7" r="3.5"/><circle cx="557.8" cy="110" r="3.9"/><circle cx="364.6" cy="187.9" r="5.5"/><circle cx="553.1" cy="53" r="2.4"/><circle cx="401.9" cy="188" r="4.1"/><circle cx="554.1" cy="56.5" r="3.2"/><circle cx="370" cy="109.4" r="2.5"/><circle cx="399.4" cy="156.8" r="1.5"/><circle cx="513.3" cy="43.1" r="2.6"/><circle cx="548.6" cy="155.7" r="3.6"/><circle cx="479.8" cy="207.8" r="5.5"/><circle cx="541.3" cy="52.1" r="3"/><circle cx="381.1" cy="41" r="4.9"/><circle cx="554.3" cy="34.2" r="2.7"/><circle cx="392.4" cy="199.1" r="3.5"/><circle cx="464.3" cy="70" r="4.4"/><circle cx="482.2" cy="43.9" r="4"/><circle cx="483.4" cy="63.7" r="3.3"/><circle cx="531.2" cy="188.2" r="3.8"/><circle cx="529.7" cy="83.3" r="3"/><circle cx="525.2" cy="103.8" r="3.7"/><circle cx="511.9" cy="5.7" r="6.5"/><circle cx="418.5" cy="51.4" r="6.5"/><circle cx="436.9" cy="19.1" r="3.4"/><circle cx="474.9" cy="124.2" r="4.2"/><circle cx="466.8" cy="132.6" r="2.1"/><circle cx="368.3" cy="188.7" r="3.8"/><circle cx="528.3" cy="125.4" r="2.1"/><circle cx="534.7" cy="123" r="2.5"/><circle cx="384" cy="128.6" r="2.9"/><circle cx="522.4" cy="98.8" r="2.5"/><circle cx="414.3" cy="27.9" r="2.9"/><circle cx="472.5" cy="167.2" r="2.5"/><circle cx="479.2" cy="209.8" r="1.8"/><circle cx="470.4" cy="58.5" r="2.8"/><circle cx="388.3" cy="16.1" r="2.4"/><circle cx="473.9" cy="85.4" r="1.8"/><circle cx="407.4" cy="64.8" r="1.9"/><circle cx="430.1" cy="189.9" r="6.4"/><circle cx="424.6" cy="65.2" r="3"/><circle cx="425.6" cy="12.8" r="2.5"/><circle cx="382.5" cy="155.5" r="1.7"/><circle cx="402.7" cy="148.4" r="3.2"/><circle cx="430.1" cy="41" r="1.3"/><circle cx="469.3" cy="94.7" r="3.7"/><circle cx="405" cy="144.8" r="2.6"/><circle cx="411.3" cy="192" r="4"/><circle cx="370.6" cy="170" r="4"/><circle cx="379.4" cy="197.5" r="5.8"/><circle cx="402.8" cy="159.3" r="1.6"/><circle cx="377.2" cy="42.1" r="2.2"/><circle cx="381" cy="169" r="3.5"/><circle cx="482.9" cy="14.6" r="2.8"/><circle cx="494.7" cy="154.2" r="2.6"/><circle cx="398" cy="125.4" r="2.5"/><circle cx="552" cy="167.1" r="3.2"/><circle cx="407.3" cy="26.8" r="2.1"/><circle cx="396.1" cy="158.2" r="3.8"/><circle cx="569.2" cy="22" r="2.2"/><circle cx="333.6" cy="6.4" r="5.2"/><circle cx="389.2" cy="193.5" r="4.5"/><circle cx="526.3" cy="107.6" r="1.7"/><circle cx="406.3" cy="170.1" r="2.8"/><circle cx="426.6" cy="100.7" r="2.1"/><circle cx="408.1" cy="187.4" r="2.2"/><circle cx="504.5" cy="136.9" r="3.3"/><circle cx="407.7" cy="18.1" r="1.6"/><circle cx="458" cy="54.4" r="4.3"/><circle cx="512.9" cy="207.4" r="1.9"/><circle cx="404.6" cy="156.9" r="3.3"/><circle cx="471.2" cy="25.5" r="4"/><circle cx="444.4" cy="159.7" r="3.3"/><circle cx="340.3" cy="131.3" r="1.9"/><circle cx="404" cy="165.6" r="3.1"/><circle cx="484.6" cy="100.1" r="2.2"/><circle cx="360.2" cy="136.5" r="3.6"/><circle cx="495.6" cy="189.9" r="1.9"/><circle cx="528.2" cy="6.1" r="4.3"/><circle cx="432.4" cy="63.5" r="3.8"/><circle cx="351.4" cy="205.6" r="6.5"/><circle cx="339.5" cy="117.9" r="3.6"/><circle cx="567.3" cy="58.3" r="1.3"/><circle cx="389.1" cy="25.3" r="2.4"/><circle cx="558.1" cy="104.9" r="3.5"/><circle cx="351" cy="99.4" r="1.9"/><circle cx="523.3" cy="22.8" r="3.2"/><circle cx="575.6" cy="162" r="3.7"/><circle cx="553.7" cy="111.3" r="4.5"/><circle cx="502.8" cy="52.4" r="4.5"/><circle cx="395" cy="173.5" r="5.9"/><circle cx="526.1" cy="100.8" r="3.4"/><circle cx="529.3" cy="126.8" r="1.5"/><circle cx="445.7" cy="15.7" r="6"/><circle cx="456.4" cy="149" r="3.3"/><circle cx="343.4" cy="5.5" r="3.1"/><circle cx="410.4" cy="65.6" r="2.4"/><circle cx="373" cy="115.5" r="2.9"/><circle cx="457" cy="173.5" r="4.1"/><circle cx="492.3" cy="135.9" r="2.2"/><circle cx="430.4" cy="183.1" r="4.8"/><circle cx="538" cy="55.1" r="1.9"/><circle cx="359.4" cy="111.1" r="2.6"/><circle cx="391.5" cy="163.8" r="1.9"/><circle cx="418.2" cy="180.2" r="2.3"/><circle cx="544.6" cy="173.9" r="2.9"/><circle cx="503.9" cy="14.3" r="1.5"/><circle cx="415.5" cy="98.2" r="1.9"/><circle cx="477.8" cy="97.7" r="2"/><circle cx="386.6" cy="45" r="5.1"/><circle cx="513.2" cy="61.1" r="5.5"/><circle cx="475.5" cy="105.4" r="3.7"/><circle cx="413.6" cy="27.9" r="2.8"/><circle cx="579.9" cy="137.6" r="4.5"/><circle cx="543.1" cy="70.8" r="2.6"/><circle cx="432.2" cy="33.6" r="2.2"/><circle cx="564.8" cy="102.3" r="2.2"/><circle cx="546.3" cy="175.8" r="3.5"/><circle cx="475.8" cy="130.5" r="5.3"/><circle cx="563.4" cy="169.4" r="3.7"/><circle cx="405.8" cy="151.7" r="3.7"/><circle cx="581.2" cy="36.6" r="2.3"/><circle cx="563.4" cy="137.2" r="2.8"/><circle cx="526.4" cy="170.5" r="2.6"/><circle cx="515.4" cy="98" r="3.1"/><circle cx="520.8" cy="181.8" r="2.6"/><circle cx="414.6" cy="49.6" r="3.8"/><circle cx="454.1" cy="106.3" r="1.9"/><circle cx="530.5" cy="97.6" r="3.1"/><circle cx="469.7" cy="145.5" r="2.4"/><circle cx="429.5" cy="30.4" r="4.2"/><circle cx="339" cy="112.9" r="4.6"/><circle cx="426.9" cy="26.9" r="2.6"/><circle cx="521.9" cy="178.9" r="4.3"/><circle cx="463.7" cy="147.3" r="3"/><circle cx="455.2" cy="189" r="4.3"/><circle cx="549.2" cy="145.8" r="3.7"/><circle cx="579.7" cy="194.7" r="2"/><circle cx="465.5" cy="119.5" r="4.9"/><circle cx="352.4" cy="198.7" r="3.4"/><circle cx="525.9" cy="90.4" r="4.1"/><circle cx="425" cy="78.3" r="3.5"/><circle cx="546.6" cy="110.2" r="3.7"/><circle cx="548.8" cy="182.6" r="4"/><circle cx="388.1" cy="180.5" r="5.8"/><circle cx="375.7" cy="192" r="3.8"/><circle cx="350.7" cy="89.1" r="1.6"/><circle cx="420.6" cy="101.5" r="2.9"/><circle cx="421.7" cy="190.6" r="2.8"/><circle cx="485.7" cy="93.9" r="3.9"/><circle cx="468.3" cy="7.6" r="5.4"/><circle cx="544.7" cy="27.3" r="2.9"/><circle cx="466.5" cy="4.8" r="3.7"/><circle cx="408.8" cy="73.7" r="6.5"/><circle cx="553.3" cy="35.5" r="1.7"/><circle cx="525.3" cy="47.3" r="6.5"/><circle cx="463.9" cy="16.6" r="4.5"/><circle cx="462.1" cy="77.9" r="2.3"/><circle cx="417" cy="164.4" r="5.9"/><circle cx="562.5" cy="41.3" r="2.6"/><circle cx="379.5" cy="79.8" r="5.8"/><circle cx="341.1" cy="89.7" r="2.6"/><circle cx="476.5" cy="40.9" r="2.5"/><circle cx="520.7" cy="10.3" r="4"/><circle cx="555.1" cy="207.5" r="3"/><circle cx="385.6" cy="184" r="3.6"/><circle cx="382.1" cy="149.4" r="2.5"/><circle cx="501.7" cy="25.7" r="3"/><circle cx="356.4" cy="116.9" r="5.1"/><circle cx="430.2" cy="205.5" r="1.6"/><circle cx="393.5" cy="168.9" r="3.9"/><circle cx="490.5" cy="130.1" r="5"/><circle cx="467.4" cy="200.1" r="4.1"/><circle cx="419.3" cy="195.3" r="5"/><circle cx="451.9" cy="73.7" r="3.2"/><circle cx="563.4" cy="174.7" r="3.6"/><circle cx="380" cy="181.9" r="1.8"/><circle cx="495" cy="112.4" r="3.6"/><circle cx="411.9" cy="109.5" r="3.1"/><circle cx="448.6" cy="14.1" r="5"/><circle cx="459.2" cy="165.3" r="2.8"/><circle cx="492.4" cy="86.6" r="2"/><circle cx="537.1" cy="57.5" r="3.2"/><circle cx="408.7" cy="104" r="2.5"/><circle cx="380.8" cy="120.5" r="2.9"/><circle cx="506.1" cy="188.9" r="2.9"/><circle cx="536.9" cy="14.3" r="3.7"/><circle cx="486.6" cy="134.7" r="2.7"/><circle cx="417.7" cy="86.9" r="4.1"/><circle cx="462.4" cy="150.1" r="4.2"/><circle cx="496.7" cy="110.6" r="5.3"/><circle cx="473.9" cy="34.3" r="3.7"/><circle cx="512.9" cy="72.6" r="3.4"/><circle cx="567" cy="119.7" r="4.3"/><circle cx="547.4" cy="75.1" r="3.7"/><circle cx="397.2" cy="71.1" r="2.8"/><circle cx="360.1" cy="38.7" r="3.5"/><circle cx="513.3" cy="90.2" r="2.8"/><circle cx="520.6" cy="117.2" r="3.7"/><circle cx="495.8" cy="148.5" r="2.8"/><circle cx="512.5" cy="144.3" r="2.5"/><circle cx="530.3" cy="115.6" r="3.2"/><circle cx="522.4" cy="161.3" r="2.9"/><circle cx="556.5" cy="165.4" r="2.3"/><circle cx="447.6" cy="113.7" r="2.4"/><circle cx="491.7" cy="189.2" r="3.3"/><circle cx="367.5" cy="26.1" r="3.4"/><circle cx="548.3" cy="148.9" r="3.9"/><circle cx="428.7" cy="175.9" r="4.9"/><circle cx="408.8" cy="33.3" r="2"/><circle cx="556.6" cy="117.4" r="1.7"/><circle cx="407.6" cy="205.9" r="2.5"/><circle cx="486.2" cy="105.6" r="2.5"/><circle cx="550.2" cy="129.7" r="3.1"/><circle cx="517.8" cy="169.3" r="3.6"/><circle cx="482.3" cy="98" r="1.8"/><circle cx="436" cy="174" r="2.4"/><circle cx="495.4" cy="35.5" r="4.1"/><circle cx="384.2" cy="150.6" r="2.2"/><circle cx="383.6" cy="176.5" r="4.9"/><circle cx="526.4" cy="4.5" r="2.5"/><circle cx="440.2" cy="53" r="3.4"/><circle cx="379.4" cy="49.1" r="5.2"/><circle cx="492.5" cy="47.5" r="3.1"/><circle cx="508.4" cy="177.9" r="3"/><circle cx="389.4" cy="50.5" r="4.6"/><circle cx="454.5" cy="23.1" r="2.2"/><circle cx="513.4" cy="188.8" r="4.5"/><circle cx="352.9" cy="62.3" r="2.4"/><circle cx="565.5" cy="49.9" r="3"/><circle cx="414.2" cy="38.1" r="4.7"/><circle cx="504.3" cy="77.8" r="3.3"/><circle cx="342.3" cy="106.9" r="2.8"/><circle cx="569.2" cy="167.3" r="4.1"/><circle cx="562.2" cy="200.9" r="6.3"/><circle cx="460.1" cy="193.2" r="2.8"/><circle cx="342.8" cy="124.4" r="2.7"/><circle cx="339.8" cy="95" r="3.5"/><circle cx="447" cy="152.6" r="4.1"/><circle cx="569.2" cy="160.8" r="2.4"/><circle cx="454.5" cy="112.8" r="3.9"/><circle cx="518.1" cy="12.6" r="2.4"/><circle cx="380.1" cy="201.4" r="2.6"/><circle cx="516.6" cy="66" r="3.2"/><circle cx="388.1" cy="91.6" r="4.2"/><circle cx="493.8" cy="181.6" r="4.6"/><circle cx="366" cy="154" r="4.5"/><circle cx="506.4" cy="147.6" r="6.1"/><circle cx="468.4" cy="40" r="2.9"/><circle cx="581.4" cy="123.5" r="2.1"/><circle cx="568.8" cy="15.6" r="3.6"/><circle cx="419.9" cy="75.5" r="2.5"/><circle cx="456.6" cy="81.3" r="2.4"/><circle cx="522.9" cy="150.1" r="3.2"/><circle cx="352" cy="60.3" r="2.6"/><circle cx="442.8" cy="183.5" r="4.2"/><circle cx="533.5" cy="5.9" r="2.7"/><circle cx="344.9" cy="197.6" r="2.4"/><circle cx="564" cy="145.3" r="2.9"/><circle cx="456.8" cy="152.1" r="4.2"/><circle cx="437.9" cy="23" r="3"/><circle cx="504.5" cy="175.4" r="3.4"/><circle cx="460.6" cy="111.4" r="4.6"/><circle cx="581.9" cy="203.8" r="5.6"/><circle cx="522.9" cy="188.6" r="4.1"/><circle cx="540.6" cy="40.9" r="1.5"/><circle cx="495.8" cy="50.6" r="2.2"/><circle cx="543.1" cy="110.1" r="3"/><circle cx="488.9" cy="174.4" r="2.4"/><circle cx="547.6" cy="146.8" r="4.6"/><circle cx="532.3" cy="110" r="6.5"/><circle cx="533.2" cy="186.2" r="3.1"/><circle cx="519.2" cy="46.2" r="2.3"/><circle cx="534.4" cy="74.5" r="2.2"/><circle cx="338.9" cy="98" r="3.8"/><circle cx="407.7" cy="84.2" r="5.2"/><circle cx="386.3" cy="141.7" r="2.3"/><circle cx="526.5" cy="206.6" r="1.8"/><circle cx="509.4" cy="61.7" r="2.9"/><circle cx="501.8" cy="172.3" r="5.7"/><circle cx="335.3" cy="107.7" r="4.6"/><circle cx="375.2" cy="49.3" r="1.3"/><circle cx="566.6" cy="138.6" r="3"/></g><g fill="url(#b6)"><circle cx="387" cy="34.7" r="3.4"/><circle cx="414.6" cy="33.8" r="2.1"/><circle cx="439.7" cy="166.7" r="2.4"/><circle cx="452.4" cy="110.1" r="3"/><circle cx="366.4" cy="77.8" r="2"/><circle cx="439.8" cy="61.5" r="3.9"/><circle cx="393.7" cy="195.3" r="2.6"/><circle cx="520.8" cy="179.1" r="1.5"/><circle cx="455.3" cy="180.1" r="2.5"/><circle cx="518.1" cy="167.4" r="1.7"/><circle cx="566.9" cy="127.2" r="4.6"/><circle cx="453.8" cy="83" r="2.5"/><circle cx="431.6" cy="31.2" r="3.2"/><circle cx="436.7" cy="169.8" r="2.9"/><circle cx="461" cy="108" r="4.1"/><circle cx="400.5" cy="124.7" r="2.4"/><circle cx="383.5" cy="193.8" r="2.6"/><circle cx="353.7" cy="146.8" r="2.7"/><circle cx="364.2" cy="160.2" r="2.2"/><circle cx="507.9" cy="13.2" r="2.4"/><circle cx="384" cy="42.3" r="3.2"/><circle cx="392.7" cy="91.4" r="4.1"/><circle cx="564.8" cy="167.4" r="5.7"/><circle cx="573.2" cy="139.5" r="4.9"/><circle cx="527" cy="16.5" r="4.4"/><circle cx="399.8" cy="72" r="2.1"/><circle cx="463.5" cy="199.6" r="3.9"/><circle cx="343.9" cy="126.3" r="2.1"/><circle cx="393.1" cy="158.9" r="2.4"/><circle cx="548.1" cy="178.3" r="2.6"/><circle cx="455.5" cy="140.8" r="3.3"/><circle cx="442.5" cy="142.3" r="2.2"/><circle cx="475.3" cy="117.4" r="4.6"/><circle cx="555.1" cy="193.2" r="1.9"/><circle cx="522.2" cy="190.2" r="2.5"/><circle cx="485.3" cy="82" r="3.7"/><circle cx="453.5" cy="46.6" r="4.6"/><circle cx="382" cy="10" r="2.7"/><circle cx="479.6" cy="185.2" r="3"/><circle cx="434.9" cy="136.3" r="2.7"/><circle cx="519" cy="36.3" r="2.3"/><circle cx="560.2" cy="193" r="2.9"/><circle cx="553" cy="165.5" r="3.1"/><circle cx="376.4" cy="163.4" r="3.4"/><circle cx="538.7" cy="102" r="2.4"/><circle cx="337.3" cy="124.3" r="3"/><circle cx="435" cy="209.3" r="2.9"/><circle cx="532.3" cy="39.2" r="2.3"/><circle cx="334.6" cy="206.8" r="3.2"/><circle cx="354.2" cy="115.2" r="2.7"/><circle cx="454.4" cy="170.4" r="2.1"/><circle cx="355.3" cy="94.2" r="2.4"/><circle cx="451" cy="158.1" r="6.2"/><circle cx="521.8" cy="14.4" r="4.1"/><circle cx="557.5" cy="125.6" r="2.8"/><circle cx="577.8" cy="44.9" r="1.9"/><circle cx="444.7" cy="150.5" r="3.7"/><circle cx="495" cy="124.8" r="1.3"/><circle cx="574.1" cy="42.3" r="4.7"/><circle cx="520.5" cy="68.5" r="1.8"/><circle cx="480.9" cy="50.2" r="2.8"/><circle cx="467.7" cy="121.2" r="3.4"/><circle cx="354.6" cy="186" r="4.5"/><circle cx="346.3" cy="170.8" r="2.9"/><circle cx="484" cy="192" r="3.2"/><circle cx="415.8" cy="199.4" r="4.9"/><circle cx="429.1" cy="112" r="2.6"/><circle cx="567.6" cy="83.5" r="2.2"/><circle cx="458.3" cy="73.6" r="2.8"/><circle cx="385.6" cy="18.6" r="1.3"/><circle cx="464.4" cy="42.6" r="3.1"/><circle cx="493.2" cy="142.6" r="3.8"/><circle cx="517.1" cy="101.7" r="2.7"/><circle cx="521.7" cy="59.8" r="4.3"/><circle cx="356.7" cy="74" r="2.8"/><circle cx="420.6" cy="180.4" r="2.7"/><circle cx="385.9" cy="172.5" r="4"/><circle cx="538.2" cy="118.3" r="3.3"/><circle cx="386" cy="15.8" r="1.5"/><circle cx="491.5" cy="8.4" r="2.6"/><circle cx="575.9" cy="194.8" r="2.2"/><circle cx="373" cy="119.4" r="2.6"/><circle cx="421.4" cy="59.2" r="6.3"/><circle cx="476.9" cy="124.6" r="1.8"/><circle cx="373.4" cy="188.7" r="3.4"/><circle cx="426.7" cy="27.9" r="1.8"/><circle cx="551.5" cy="193.8" r="2.7"/><circle cx="534.3" cy="124.7" r="1.3"/><circle cx="459.6" cy="25.5" r="3.3"/><circle cx="489.1" cy="138.7" r="3.8"/><circle cx="520.7" cy="71.3" r="1.3"/><circle cx="412.5" cy="107.6" r="2"/><circle cx="553.4" cy="48.5" r="5.4"/><circle cx="548.8" cy="42.5" r="3.3"/><circle cx="556.2" cy="158.9" r="5.2"/><circle cx="406.8" cy="101.4" r="4.4"/><circle cx="410.5" cy="148.4" r="2.6"/><circle cx="419.3" cy="189.7" r="5.3"/><circle cx="545.7" cy="177.7" r="2.2"/><circle cx="549.1" cy="185.5" r="4.1"/><circle cx="573.7" cy="157.6" r="2"/><circle cx="526.9" cy="183.5" r="4.9"/><circle cx="479.5" cy="178.1" r="4.8"/><circle cx="562.9" cy="111.7" r="5.4"/><circle cx="405" cy="166.4" r="2.4"/><circle cx="544.2" cy="48" r="5.1"/><circle cx="498.3" cy="33.9" r="3.5"/><circle cx="445.6" cy="11.9" r="3"/><circle cx="512.6" cy="65" r="1.6"/><circle cx="459.5" cy="122" r="3.4"/><circle cx="524.9" cy="130.4" r="4"/><circle cx="524.6" cy="70.6" r="2.4"/><circle cx="471.3" cy="51.9" r="1.5"/><circle cx="499.5" cy="46.1" r="2.4"/><circle cx="467.6" cy="123.3" r="1.9"/><circle cx="574" cy="46.4" r="2.7"/><circle cx="432.8" cy="152.2" r="4.3"/><circle cx="534.9" cy="119.8" r="2.7"/><circle cx="370.2" cy="37.4" r="2"/><circle cx="551.4" cy="9.2" r="5.3"/><circle cx="481.4" cy="190.8" r="3.7"/><circle cx="560.5" cy="199.4" r="1.7"/><circle cx="426.2" cy="84.3" r="4.7"/><circle cx="377.7" cy="113.9" r="3"/><circle cx="453.4" cy="61.4" r="3.5"/><circle cx="400.5" cy="96.7" r="3"/><circle cx="495" cy="174.3" r="1.7"/><circle cx="335.9" cy="67.2" r="6.1"/><circle cx="547.1" cy="39.7" r="2.1"/><circle cx="522.8" cy="73.7" r="2.8"/><circle cx="336.9" cy="158.9" r="2.1"/><circle cx="368.6" cy="139.6" r="5.3"/><circle cx="500.5" cy="103.2" r="5"/><circle cx="578.6" cy="188.9" r="2.5"/><circle cx="453.9" cy="154.3" r="3.6"/><circle cx="553.4" cy="100.7" r="4.4"/><circle cx="432.8" cy="162.5" r="4.4"/><circle cx="460" cy="128.4" r="3.5"/><circle cx="396.8" cy="118.4" r="3.6"/><circle cx="443.3" cy="116.9" r="1.9"/><circle cx="399.9" cy="111.5" r="4.6"/><circle cx="332.6" cy="53.7" r="3.5"/><circle cx="578.2" cy="201.7" r="1.5"/><circle cx="497.8" cy="192.8" r="3.1"/><circle cx="440.9" cy="124.6" r="4.5"/><circle cx="565.6" cy="21.3" r="3.2"/><circle cx="578" cy="153.7" r="4.6"/><circle cx="338.5" cy="210.6" r="1.4"/><circle cx="437" cy="86.6" r="3.5"/><circle cx="475.8" cy="184" r="3.2"/><circle cx="393.8" cy="82.4" r="6.5"/><circle cx="349.6" cy="56.5" r="4.2"/><circle cx="425.3" cy="125.9" r="2.2"/><circle cx="340.9" cy="172.4" r="4.1"/><circle cx="499.3" cy="42.3" r="1.6"/><circle cx="405.1" cy="174.8" r="4.8"/><circle cx="415.7" cy="125.6" r="5"/><circle cx="530.4" cy="10.8" r="3.5"/><circle cx="402.7" cy="204.5" r="2.8"/><circle cx="441.4" cy="90.5" r="4.1"/><circle cx="440.2" cy="111.8" r="6.5"/><circle cx="475.9" cy="15.1" r="2.5"/><circle cx="462.2" cy="51" r="1.7"/><circle cx="343.3" cy="67.4" r="2.4"/><circle cx="433.2" cy="23.7" r="4.3"/><circle cx="462.8" cy="124" r="4.5"/><circle cx="465.6" cy="132.7" r="2.1"/><circle cx="481.4" cy="128" r="3.6"/><circle cx="379.4" cy="43.4" r="3.8"/><circle cx="550.8" cy="66.8" r="2.7"/><circle cx="441.2" cy="128.6" r="1.7"/><circle cx="502.2" cy="185.4" r="1.8"/><circle cx="503.6" cy="132.2" r="2.6"/><circle cx="423.8" cy="51.5" r="1.7"/><circle cx="481.9" cy="169.3" r="4.5"/><circle cx="398.7" cy="11.9" r="3.7"/><circle cx="407.6" cy="10.7" r="4.1"/><circle cx="477" cy="17.4" r="3.8"/><circle cx="541" cy="180.6" r="4.1"/><circle cx="425" cy="88.9" r="2.8"/><circle cx="577.5" cy="166.1" r="2.9"/><circle cx="495.1" cy="182.5" r="3.6"/><circle cx="442.5" cy="72.1" r="2.6"/><circle cx="386.6" cy="86.5" r="4.1"/><circle cx="417.8" cy="23.9" r="3.7"/><circle cx="356.1" cy="170.7" r="3.2"/><circle cx="516" cy="183.5" r="2.2"/><circle cx="573.4" cy="24" r="4.5"/><circle cx="530.4" cy="120.8" r="4.6"/><circle cx="504.3" cy="134.4" r="1.8"/><circle cx="500.2" cy="49.9" r="4.8"/><circle cx="566.6" cy="24.5" r="2.2"/><circle cx="394.8" cy="166.2" r="2"/><circle cx="442.8" cy="103.1" r="4.2"/><circle cx="505.8" cy="165.3" r="2.1"/><circle cx="445.8" cy="58.9" r="4.4"/><circle cx="517.2" cy="204.4" r="2.8"/><circle cx="493.1" cy="197.6" r="2.6"/><circle cx="530.7" cy="70.2" r="5.6"/><circle cx="439.4" cy="145.4" r="4.3"/><circle cx="501" cy="54.6" r="4.6"/><circle cx="507.8" cy="130" r="3.6"/><circle cx="428.6" cy="54.8" r="2.2"/><circle cx="458.5" cy="191.9" r="2.5"/><circle cx="414.2" cy="76.4" r="2.9"/><circle cx="467.8" cy="49.9" r="3.4"/><circle cx="491.6" cy="108" r="6.5"/><circle cx="543.9" cy="117.3" r="5.4"/><circle cx="401.8" cy="189.4" r="1.3"/><circle cx="407.5" cy="142.5" r="1.8"/><circle cx="507.1" cy="205.7" r="3.8"/><circle cx="391.5" cy="173.4" r="3.2"/><circle cx="377.1" cy="143.7" r="3.1"/><circle cx="571.1" cy="10.9" r="4.2"/><circle cx="519.1" cy="44.8" r="3"/><circle cx="394.4" cy="46.2" r="3.3"/><circle cx="385.9" cy="83.8" r="2.4"/><circle cx="367.2" cy="149.9" r="3.3"/><circle cx="416.8" cy="6.3" r="2.1"/><circle cx="513.1" cy="40.2" r="2.8"/><circle cx="377.7" cy="111.7" r="2"/><circle cx="493.1" cy="174.4" r="1.4"/><circle cx="532.1" cy="104.5" r="2.9"/><circle cx="455.7" cy="48.7" r="2.3"/><circle cx="441.7" cy="61.7" r="2.6"/><circle cx="406.2" cy="24.7" r="2.4"/><circle cx="491.3" cy="83" r="4.9"/><circle cx="463.8" cy="21.4" r="4.8"/><circle cx="487.3" cy="124.6" r="3"/><circle cx="530.4" cy="149" r="6.3"/><circle cx="380.3" cy="204.1" r="3.2"/><circle cx="442.4" cy="77.9" r="2.3"/><circle cx="461.8" cy="85.9" r="4.8"/><circle cx="546.9" cy="77" r="3.4"/><circle cx="474.7" cy="86.5" r="2.8"/><circle cx="380" cy="48.8" r="1.9"/><circle cx="511.9" cy="70.3" r="1.9"/><circle cx="410.3" cy="197.7" r="2.4"/><circle cx="395.5" cy="116.4" r="3"/><circle cx="497" cy="84.4" r="4.2"/><circle cx="535.1" cy="101" r="3.4"/><circle cx="405.2" cy="189.7" r="4.2"/><circle cx="407.2" cy="30.4" r="2.5"/><circle cx="344.8" cy="193.9" r="4.5"/><circle cx="551" cy="161.7" r="2.4"/><circle cx="509.1" cy="125.4" r="2.2"/><circle cx="469.8" cy="207.3" r="3.9"/><circle cx="417.2" cy="184.6" r="3"/><circle cx="537.8" cy="87.1" r="3.2"/><circle cx="483.1" cy="74.5" r="3"/><circle cx="430.7" cy="94.9" r="3.5"/><circle cx="495.1" cy="180.3" r="2.7"/><circle cx="550.9" cy="186.8" r="2.2"/><circle cx="523.8" cy="76" r="2"/><circle cx="572.2" cy="202.3" r="3.8"/><circle cx="433.6" cy="137.8" r="3.5"/><circle cx="388.3" cy="163.7" r="4.3"/><circle cx="419.4" cy="89.6" r="5.6"/><circle cx="531.9" cy="61.5" r="6.4"/><circle cx="558.6" cy="111.4" r="2.6"/><circle cx="474.7" cy="188.4" r="4.4"/><circle cx="486.1" cy="177.9" r="2.4"/><circle cx="354.8" cy="123.3" r="4.2"/><circle cx="569.2" cy="182.8" r="1.3"/><circle cx="574.2" cy="189.3" r="4.1"/><circle cx="448" cy="167.3" r="1.7"/><circle cx="578.7" cy="128.3" r="2"/><circle cx="543.4" cy="3.7" r="3.2"/><circle cx="426.4" cy="166.4" r="4.6"/><circle cx="487.4" cy="128.8" r="3.3"/><circle cx="572.1" cy="178.3" r="3.3"/><circle cx="494.7" cy="121" r="3.1"/><circle cx="576.4" cy="60.3" r="2.1"/><circle cx="548.5" cy="152" r="4.6"/><circle cx="356.4" cy="65.4" r="3.1"/><circle cx="485.9" cy="44.8" r="6.5"/><circle cx="343.5" cy="144.2" r="5.2"/><circle cx="497.4" cy="126.1" r="3.8"/><circle cx="400.5" cy="58.9" r="4.9"/><circle cx="429.2" cy="118.6" r="3.2"/><circle cx="579.5" cy="4.8" r="3.6"/><circle cx="493.4" cy="39.9" r="3.7"/><circle cx="397.9" cy="79.6" r="4.1"/><circle cx="549.6" cy="181.2" r="3.4"/><circle cx="543" cy="136.4" r="3"/><circle cx="472.5" cy="127.1" r="2.3"/><circle cx="516.7" cy="108.3" r="3.8"/><circle cx="472.8" cy="210.6" r="4.7"/><circle cx="363.5" cy="77.3" r="3.4"/><circle cx="392.6" cy="127.7" r="4"/><circle cx="358.9" cy="27.2" r="4.4"/><circle cx="500.5" cy="207.5" r="2.8"/><circle cx="517.4" cy="162" r="6.1"/><circle cx="491.8" cy="41.2" r="2"/><circle cx="390.2" cy="52.8" r="3.1"/><circle cx="486.2" cy="42.3" r="2"/><circle cx="532.1" cy="90.8" r="4.2"/><circle cx="473" cy="4.4" r="3.2"/><circle cx="447.6" cy="85.9" r="3.2"/><circle cx="365.4" cy="184.6" r="3.8"/><circle cx="392.6" cy="87.5" r="2.1"/><circle cx="412.2" cy="161.8" r="4"/><circle cx="499.7" cy="197.4" r="5.6"/><circle cx="532.8" cy="93.8" r="3.6"/><circle cx="553.1" cy="131.7" r="2.6"/><circle cx="359.4" cy="35.1" r="3.1"/><circle cx="445.6" cy="182.7" r="2.8"/><circle cx="504.9" cy="117.7" r="6.5"/><circle cx="505.3" cy="26.1" r="3.3"/><circle cx="344.2" cy="89.9" r="3.5"/><circle cx="539.7" cy="89.1" r="2.7"/><circle cx="355.4" cy="28.7" r="2.5"/><circle cx="382.5" cy="77.6" r="4.3"/><circle cx="393.9" cy="180.4" r="3.7"/><circle cx="509.3" cy="142.6" r="3.2"/><circle cx="453.1" cy="3.8" r="3.3"/><circle cx="435.8" cy="63.1" r="2.8"/><circle cx="503.1" cy="137" r="3.2"/><circle cx="339.2" cy="56" r="2.5"/><circle cx="569" cy="207.2" r="2.6"/><circle cx="345.3" cy="62.7" r="2.9"/><circle cx="341.1" cy="175.7" r="4.3"/><circle cx="414.1" cy="70.1" r="2.5"/><circle cx="581.4" cy="59.5" r="3.5"/><circle cx="450.5" cy="17.6" r="2.7"/><circle cx="354.4" cy="189.1" r="5.2"/><circle cx="427.8" cy="192.6" r="5.4"/><circle cx="458.3" cy="8.5" r="1.6"/><circle cx="384.4" cy="160.7" r="2"/><circle cx="360.8" cy="24.8" r="2"/><circle cx="450" cy="32" r="2.4"/><circle cx="447.1" cy="156.7" r="4"/><circle cx="335.7" cy="98.5" r="3.4"/><circle cx="404.6" cy="126" r="3"/><circle cx="574.8" cy="34.6" r="1.7"/><circle cx="555.1" cy="29.6" r="4.2"/><circle cx="538.2" cy="188.3" r="3.1"/><circle cx="412.5" cy="78.5" r="4.1"/><circle cx="391.6" cy="161" r="3.1"/><circle cx="347.5" cy="99.6" r="3.5"/><circle cx="426.4" cy="9.4" r="2.3"/><circle cx="385.5" cy="136.5" r="6.5"/><circle cx="545.9" cy="156.9" r="2.9"/><circle cx="533.8" cy="14.3" r="2.7"/><circle cx="422.2" cy="41.2" r="2.5"/><circle cx="482.5" cy="175.7" r="3.4"/><circle cx="338.2" cy="89.8" r="3.3"/><circle cx="489.9" cy="189.2" r="2.3"/><circle cx="421.9" cy="19.4" r="5.6"/><circle cx="386.6" cy="97.7" r="2.5"/><circle cx="488.3" cy="49" r="2.2"/><circle cx="570.2" cy="47.9" r="4.6"/><circle cx="400.2" cy="161.8" r="2.7"/><circle cx="539.6" cy="19.2" r="2.4"/><circle cx="486.9" cy="160.8" r="6.5"/><circle cx="579.5" cy="113.7" r="2.1"/><circle cx="342.6" cy="26.5" r="4.8"/><circle cx="488.8" cy="153" r="2.4"/><circle cx="471" cy="117.3" r="4.9"/><circle cx="569.8" cy="207.8" r="1.4"/><circle cx="467.1" cy="150.3" r="4.6"/><circle cx="401.1" cy="173.5" r="2.4"/><circle cx="365.8" cy="56.4" r="5.2"/><circle cx="428.9" cy="27.5" r="3.1"/><circle cx="547.9" cy="163.3" r="2.2"/><circle cx="388.9" cy="173.4" r="2.7"/><circle cx="333.8" cy="162.4" r="2.8"/><circle cx="347" cy="209" r="3.2"/><circle cx="499.3" cy="87.7" r="3.5"/><circle cx="558.6" cy="185.2" r="4.3"/><circle cx="332.1" cy="146.1" r="3.9"/><circle cx="345.3" cy="13" r="2.6"/><circle cx="460.5" cy="14.4" r="4"/><circle cx="406.2" cy="182.3" r="4.9"/><circle cx="355.9" cy="21.5" r="2.4"/><circle cx="539.9" cy="80.3" r="3.7"/><circle cx="467" cy="136.8" r="3.1"/><circle cx="436.1" cy="65.4" r="1.9"/><circle cx="411.8" cy="135.2" r="1.8"/><circle cx="544.1" cy="191.7" r="4.6"/><circle cx="467.5" cy="33.5" r="3.2"/><circle cx="575.3" cy="107.8" r="2"/><circle cx="545.6" cy="183.8" r="2.5"/><circle cx="548.6" cy="197.1" r="4.6"/><circle cx="467.4" cy="11.2" r="2.9"/><circle cx="387.4" cy="59.5" r="2.6"/><circle cx="429.3" cy="94.4" r="2.1"/><circle cx="392" cy="96.6" r="5.6"/><circle cx="492.8" cy="134.5" r="3.4"/><circle cx="363.1" cy="133" r="5.2"/><circle cx="542.8" cy="195.9" r="2.1"/><circle cx="384.3" cy="42" r="1.9"/><circle cx="513.4" cy="192.9" r="4.3"/><circle cx="371.1" cy="191.7" r="1.5"/><circle cx="530.7" cy="152.3" r="2.4"/><circle cx="363.4" cy="82.9" r="4.1"/><circle cx="530.4" cy="208.2" r="1.6"/><circle cx="447.6" cy="155.2" r="5.1"/><circle cx="447.6" cy="20.3" r="4.3"/><circle cx="398.1" cy="75.5" r="2.1"/><circle cx="487.4" cy="7.7" r="4"/><circle cx="386.4" cy="113.6" r="2.7"/><circle cx="342.2" cy="125.4" r="3.6"/><circle cx="469.3" cy="205.3" r="4.2"/><circle cx="432" cy="33.5" r="2"/><circle cx="439.1" cy="99.2" r="2.7"/><circle cx="353.3" cy="182.6" r="3.1"/><circle cx="454.3" cy="11.3" r="5.2"/><circle cx="495.7" cy="31.6" r="3.6"/><circle cx="503.4" cy="67.5" r="2.7"/><circle cx="548.5" cy="190" r="3.6"/><circle cx="406.3" cy="74.8" r="5.7"/><circle cx="338.5" cy="50.8" r="4.9"/><circle cx="383.8" cy="106.7" r="4.1"/><circle cx="504.8" cy="64.4" r="4.5"/><circle cx="385.5" cy="171.7" r="3.4"/><circle cx="580.3" cy="32.1" r="6.5"/><circle cx="391.9" cy="109.2" r="5"/><circle cx="485.6" cy="120.5" r="2.6"/><circle cx="458" cy="146.8" r="3.1"/><circle cx="446.1" cy="24.1" r="1.6"/><circle cx="466.3" cy="88" r="1.3"/><circle cx="480" cy="41.2" r="2.5"/><circle cx="554" cy="121.7" r="2.8"/><circle cx="467" cy="47.5" r="3.7"/><circle cx="419.3" cy="109.1" r="1.8"/><circle cx="381.3" cy="164.8" r="3"/><circle cx="371.1" cy="155.6" r="2.4"/><circle cx="422.1" cy="76" r="2.5"/><circle cx="360" cy="97.8" r="5.7"/><circle cx="510.8" cy="133" r="4.9"/><circle cx="399.7" cy="36" r="4.6"/><circle cx="524.9" cy="156" r="6.5"/><circle cx="341.8" cy="204" r="2"/><circle cx="433.4" cy="159.2" r="6.5"/><circle cx="343.1" cy="164.4" r="6.3"/><circle cx="491.5" cy="178.7" r="3.9"/><circle cx="430.9" cy="109.8" r="2.8"/><circle cx="425.7" cy="31.7" r="2.6"/><circle cx="536.3" cy="185.1" r="2"/><circle cx="461" cy="163.6" r="2.6"/><circle cx="442.3" cy="173.3" r="3"/><circle cx="513.7" cy="116.7" r="3.8"/><circle cx="566" cy="10.7" r="3.1"/><circle cx="370.4" cy="26.8" r="3.6"/><circle cx="537.2" cy="192.1" r="2"/><circle cx="359.3" cy="22.6" r="1.3"/><circle cx="426.7" cy="193.6" r="2"/><circle cx="415.3" cy="131.5" r="3.4"/><circle cx="435.3" cy="75.6" r="4.7"/><circle cx="335" cy="141.6" r="3.8"/><circle cx="562.1" cy="177.3" r="1.9"/><circle cx="395.6" cy="24.9" r="1.5"/><circle cx="522.2" cy="21" r="2.6"/><circle cx="396.1" cy="171.2" r="3.6"/><circle cx="488.2" cy="51.9" r="3"/><circle cx="363.1" cy="36.1" r="4.2"/><circle cx="338.2" cy="157.9" r="1.9"/><circle cx="575.1" cy="167" r="2.7"/><circle cx="522.8" cy="187" r="2.7"/><circle cx="455.3" cy="117.4" r="4.2"/><circle cx="357.1" cy="135.3" r="3.2"/><circle cx="440.7" cy="95.7" r="3.5"/><circle cx="454.7" cy="158.2" r="3.6"/><circle cx="555.9" cy="209.6" r="3.2"/><circle cx="541.3" cy="61" r="4.9"/><circle cx="539" cy="51.2" r="2.4"/><circle cx="458.2" cy="9.2" r="1.9"/><circle cx="450.5" cy="56.8" r="3.5"/><circle cx="505" cy="100.8" r="2.4"/><circle cx="501.1" cy="65" r="4.3"/><circle cx="451.5" cy="33.1" r="2.9"/><circle cx="522.7" cy="75.1" r="1.6"/><circle cx="561" cy="10.8" r="6.5"/><circle cx="534.4" cy="61.3" r="2.6"/><circle cx="580.1" cy="39.5" r="3.6"/></g><g fill="url(#b7)"><circle cx="515.3" cy="135.2" r="1.5"/><circle cx="573.2" cy="47.2" r="3.1"/><circle cx="332.4" cy="84.9" r="4.6"/><circle cx="363.7" cy="139" r="2.6"/><circle cx="532.9" cy="116.7" r="3.2"/><circle cx="481.4" cy="132.3" r="1.5"/><circle cx="357.7" cy="187.9" r="2"/><circle cx="575.3" cy="173" r="6.5"/><circle cx="472.7" cy="174.4" r="6.2"/><circle cx="419.4" cy="175.9" r="1.9"/><circle cx="432.6" cy="71.4" r="5.2"/><circle cx="335.1" cy="25.4" r="2.1"/><circle cx="490.4" cy="164.7" r="2.3"/><circle cx="545.8" cy="12.9" r="4.8"/><circle cx="530.4" cy="64" r="2.2"/><circle cx="443.3" cy="98.5" r="1.6"/><circle cx="492.3" cy="116.7" r="4"/><circle cx="394.6" cy="66.3" r="2.4"/><circle cx="502.4" cy="203.1" r="4.8"/><circle cx="348.2" cy="184.7" r="1.3"/><circle cx="396.5" cy="134" r="6.5"/><circle cx="469" cy="189.6" r="2.4"/><circle cx="514.5" cy="166" r="3.1"/><circle cx="398.3" cy="161.5" r="1.4"/><circle cx="492.5" cy="4.6" r="3.1"/><circle cx="463.1" cy="180.1" r="5"/><circle cx="409.4" cy="80" r="1.9"/><circle cx="407.3" cy="95.8" r="4.9"/><circle cx="476.4" cy="178.9" r="2.6"/><circle cx="446.5" cy="117.1" r="2.3"/><circle cx="491.2" cy="84.7" r="2"/><circle cx="346.4" cy="3.6" r="2.1"/><circle cx="436.6" cy="119" r="1.8"/><circle cx="552.8" cy="118.9" r="2.4"/><circle cx="471.9" cy="130.7" r="1.9"/><circle cx="439.3" cy="127.4" r="2.4"/><circle cx="431.6" cy="11.8" r="5.2"/><circle cx="407.1" cy="108.7" r="3.6"/><circle cx="502" cy="9.5" r="3.6"/><circle cx="341.1" cy="133.9" r="2.9"/><circle cx="348.5" cy="129" r="3.5"/><circle cx="443.7" cy="188.1" r="4.5"/><circle cx="546.9" cy="34.6" r="3"/><circle cx="550.1" cy="84.9" r="3"/><circle cx="425.3" cy="128.1" r="2.1"/><circle cx="501.8" cy="39.1" r="2.9"/><circle cx="339.6" cy="64.2" r="3.7"/><circle cx="369.7" cy="18.3" r="4.3"/><circle cx="518.3" cy="76.9" r="3.3"/><circle cx="572.3" cy="17.3" r="2.8"/><circle cx="440.7" cy="169.6" r="2.8"/><circle cx="462.7" cy="11.7" r="3.4"/><circle cx="546.1" cy="24.9" r="3.3"/><circle cx="403.6" cy="7.3" r="3.8"/><circle cx="505.5" cy="180.2" r="2.5"/><circle cx="386.7" cy="164" r="3.5"/><circle cx="420.5" cy="28.2" r="4.9"/><circle cx="371.7" cy="110.5" r="4.2"/><circle cx="452.4" cy="25.3" r="2.2"/><circle cx="342.5" cy="162.7" r="4.4"/><circle cx="539.4" cy="47.9" r="3"/><circle cx="445.7" cy="170.4" r="3.1"/><circle cx="461.6" cy="177.1" r="3.9"/><circle cx="430.2" cy="133.7" r="1.9"/><circle cx="513.2" cy="182.2" r="3.2"/><circle cx="542.7" cy="139.1" r="3.5"/><circle cx="391.8" cy="90.5" r="1.4"/><circle cx="391.7" cy="59" r="2.6"/><circle cx="527.3" cy="59.9" r="4"/><circle cx="438.6" cy="61.7" r="3.6"/><circle cx="550.7" cy="21.2" r="2.8"/><circle cx="401.5" cy="127.8" r="3.7"/><circle cx="415.4" cy="163.9" r="1.7"/><circle cx="509.6" cy="195.5" r="3.1"/><circle cx="360.8" cy="159.9" r="2.8"/><circle cx="377.6" cy="52.7" r="2.4"/><circle cx="510.1" cy="187.5" r="4.5"/><circle cx="581.5" cy="27.6" r="4.2"/><circle cx="395.7" cy="161.9" r="2.4"/><circle cx="348.6" cy="129.3" r="2.7"/><circle cx="475.6" cy="142.4" r="2.9"/><circle cx="581.9" cy="117.5" r="1.3"/><circle cx="490.9" cy="103.7" r="3"/><circle cx="390.7" cy="126" r="2.5"/><circle cx="503.9" cy="126" r="4.4"/><circle cx="420.8" cy="70.2" r="2.5"/><circle cx="536.1" cy="95" r="3.2"/><circle cx="568.6" cy="69.4" r="4.8"/><circle cx="491.6" cy="170.6" r="2.1"/><circle cx="475.4" cy="52.4" r="4.3"/><circle cx="413.3" cy="121.4" r="3"/><circle cx="560.8" cy="38.6" r="3.8"/><circle cx="501.3" cy="85.5" r="3.7"/><circle cx="535.3" cy="191.3" r="2.8"/><circle cx="429.9" cy="88.8" r="5.1"/><circle cx="347" cy="187.9" r="3.8"/><circle cx="477.8" cy="24.3" r="5.7"/><circle cx="430.3" cy="82.8" r="5.1"/><circle cx="437.2" cy="161.3" r="2.5"/><circle cx="422.2" cy="44.3" r="4.5"/><circle cx="539.3" cy="197.1" r="3.3"/><circle cx="551.2" cy="80.7" r="1.9"/><circle cx="504.7" cy="182.2" r="2.1"/><circle cx="578.8" cy="149.7" r="2.6"/><circle cx="412.1" cy="76.1" r="4.2"/><circle cx="479.1" cy="82.3" r="4"/><circle cx="497.5" cy="40.3" r="2.5"/><circle cx="439.4" cy="132.5" r="2.5"/><circle cx="533.4" cy="198.8" r="1.8"/><circle cx="508.9" cy="173.1" r="4.7"/><circle cx="380.1" cy="74.1" r="4.2"/><circle cx="549.4" cy="196.1" r="1.9"/><circle cx="532.3" cy="45.7" r="4"/><circle cx="355.7" cy="39.1" r="3.7"/><circle cx="481.4" cy="116.8" r="4.7"/><circle cx="367.1" cy="173.7" r="6.1"/><circle cx="373.9" cy="37.1" r="2.8"/><circle cx="383.4" cy="49.1" r="2.1"/><circle cx="383" cy="124.2" r="2.7"/><circle cx="560.5" cy="179.9" r="2"/><circle cx="467.2" cy="111.3" r="4.8"/><circle cx="422.5" cy="170.3" r="3.7"/><circle cx="525.5" cy="31.4" r="6.5"/><circle cx="413.4" cy="28.2" r="3.1"/><circle cx="477.4" cy="163.2" r="3.3"/><circle cx="373.9" cy="122.4" r="3.6"/><circle cx="403.4" cy="100.1" r="3"/><circle cx="473.2" cy="209" r="1.9"/><circle cx="515" cy="93.4" r="3.9"/><circle cx="438.4" cy="172.6" r="1.9"/><circle cx="374.1" cy="140.3" r="3"/><circle cx="493.7" cy="208.1" r="4"/><circle cx="552.9" cy="16.9" r="3.9"/><circle cx="548.4" cy="172.7" r="5.4"/><circle cx="442.5" cy="110.1" r="4.2"/><circle cx="489.9" cy="89.2" r="2.4"/><circle cx="489.9" cy="20.5" r="5"/><circle cx="517.3" cy="28.1" r="4.8"/><circle cx="505.2" cy="108.8" r="2.8"/><circle cx="355.3" cy="35.7" r="2.6"/><circle cx="464.1" cy="118.9" r="1.8"/><circle cx="537.6" cy="133.4" r="5"/><circle cx="424.9" cy="69.5" r="5.3"/><circle cx="333.6" cy="8.4" r="1.9"/><circle cx="388.4" cy="128.4" r="2.6"/><circle cx="404.2" cy="36.1" r="2.8"/><circle cx="341.6" cy="142.1" r="2.2"/><circle cx="506.2" cy="92.1" r="4"/><circle cx="345.7" cy="108" r="5"/><circle cx="493.6" cy="96.2" r="2.9"/><circle cx="351.9" cy="4.9" r="2.2"/><circle cx="479.9" cy="187.2" r="2.4"/><circle cx="483.8" cy="151.8" r="3.4"/><circle cx="501" cy="182.4" r="1.5"/><circle cx="530" cy="160.1" r="2.8"/><circle cx="445.6" cy="33.3" r="5.8"/><circle cx="433.3" cy="98.4" r="3.2"/><circle cx="365.5" cy="59.2" r="3.4"/><circle cx="568.2" cy="100.4" r="2.8"/><circle cx="401.1" cy="11" r="2.3"/><circle cx="530.2" cy="10" r="3.5"/><circle cx="509.9" cy="123.2" r="2.2"/><circle cx="505.3" cy="36.9" r="3.7"/><circle cx="508.3" cy="4" r="4.4"/><circle cx="512.5" cy="91" r="2"/><circle cx="468.1" cy="14.5" r="3.9"/><circle cx="486" cy="175.4" r="2.8"/><circle cx="532.2" cy="156.1" r="2.9"/><circle cx="402.9" cy="180.9" r="3.2"/><circle cx="575.2" cy="9.5" r="3.4"/><circle cx="450.3" cy="190.7" r="3.7"/><circle cx="464.6" cy="186.8" r="4.3"/><circle cx="531.7" cy="76.7" r="5"/><circle cx="369.7" cy="48.7" r="1.7"/><circle cx="527.4" cy="199" r="2.5"/><circle cx="467.3" cy="162.5" r="2"/><circle cx="558.5" cy="173.2" r="2.8"/><circle cx="497.3" cy="151.1" r="3.5"/><circle cx="470.2" cy="22.2" r="2.6"/><circle cx="387.8" cy="8.3" r="4.5"/><circle cx="538.1" cy="52.9" r="2.3"/><circle cx="371.6" cy="31.9" r="1.3"/><circle cx="473.5" cy="89.2" r="3.6"/><circle cx="346.4" cy="166" r="1.8"/><circle cx="551.9" cy="96.1" r="3.2"/><circle cx="392.2" cy="41.7" r="3.3"/><circle cx="362.1" cy="164.5" r="5.5"/><circle cx="458.8" cy="176.6" r="4.2"/><circle cx="386.9" cy="188.1" r="5"/><circle cx="365.9" cy="19.6" r="1.4"/><circle cx="502.4" cy="192.4" r="4.9"/><circle cx="356.2" cy="140.2" r="5"/><circle cx="419.4" cy="88.2" r="5"/><circle cx="472.5" cy="198.1" r="5.1"/><circle cx="470.7" cy="85.6" r="3"/><circle cx="480.5" cy="125.5" r="4.3"/><circle cx="483.2" cy="104.6" r="1.3"/><circle cx="332.9" cy="136.5" r="3.9"/><circle cx="455" cy="7.6" r="3"/><circle cx="356.6" cy="7.6" r="3.2"/><circle cx="558.3" cy="177.3" r="2"/><circle cx="492.8" cy="49.8" r="2.4"/><circle cx="378" cy="95.5" r="3.7"/><circle cx="396.1" cy="43" r="3.2"/><circle cx="355.7" cy="96.9" r="4.7"/><circle cx="543.4" cy="199.7" r="1.8"/><circle cx="571.9" cy="208.5" r="1.3"/><circle cx="459.1" cy="16.6" r="3.2"/><circle cx="400.2" cy="43.5" r="3.3"/><circle cx="352" cy="31.3" r="4.5"/><circle cx="535.9" cy="142" r="3.8"/><circle cx="343.6" cy="45.9" r="7"/><circle cx="356.6" cy="131.9" r="3"/><circle cx="534.5" cy="37.7" r="2.9"/><circle cx="400.7" cy="24.9" r="4.1"/><circle cx="519.9" cy="138.9" r="5.3"/><circle cx="359.8" cy="103.2" r="6.5"/><circle cx="354.3" cy="65.6" r="3.9"/><circle cx="570.7" cy="102.1" r="2.8"/><circle cx="545.7" cy="85.3" r="2.4"/><circle cx="510.4" cy="196.8" r="3.2"/><circle cx="548.1" cy="161.4" r="3.1"/><circle cx="384.6" cy="77.6" r="1.4"/><circle cx="552.4" cy="197.5" r="4.1"/><circle cx="483.7" cy="81.1" r="1.9"/><circle cx="381.5" cy="113.9" r="3.1"/><circle cx="480.5" cy="21.6" r="3.4"/><circle cx="377.9" cy="46.1" r="3.6"/><circle cx="362.7" cy="88.9" r="6.2"/><circle cx="501.5" cy="91.5" r="3"/><circle cx="344.8" cy="5.2" r="1.3"/><circle cx="471.9" cy="83.1" r="3.3"/><circle cx="494.3" cy="185.3" r="3.4"/><circle cx="522.5" cy="188.9" r="1.6"/><circle cx="542.7" cy="8.8" r="4.1"/><circle cx="411.1" cy="128.1" r="3"/><circle cx="349.5" cy="181" r="4.4"/><circle cx="415" cy="80" r="4.7"/><circle cx="367.3" cy="180.4" r="2.9"/><circle cx="500.2" cy="57" r="3.3"/><circle cx="402.4" cy="138.5" r="5"/><circle cx="368.2" cy="5.3" r="1.8"/><circle cx="463" cy="148.5" r="2.5"/><circle cx="413" cy="127" r="2.5"/><circle cx="504.2" cy="126.8" r="4.2"/><circle cx="487.2" cy="87.4" r="2.6"/><circle cx="470.4" cy="181.3" r="2.9"/><circle cx="339.8" cy="25.2" r="2.2"/><circle cx="354.2" cy="151.9" r="4.9"/><circle cx="546.2" cy="58.5" r="3.6"/><circle cx="476.7" cy="30.3" r="5.5"/><circle cx="353.9" cy="149.7" r="3.5"/><circle cx="394.6" cy="4.2" r="5.3"/><circle cx="363.2" cy="71.7" r="5.6"/><circle cx="569.9" cy="101" r="2.5"/><circle cx="451.8" cy="120.4" r="3.8"/><circle cx="387.6" cy="139.1" r="2.1"/><circle cx="387.7" cy="105.5" r="4.7"/><circle cx="569.9" cy="38.7" r="3.9"/><circle cx="466.7" cy="107.2" r="3.7"/><circle cx="367.7" cy="180.3" r="3.1"/><circle cx="351.4" cy="131.3" r="2.5"/><circle cx="525.9" cy="95.1" r="2.6"/><circle cx="520.8" cy="209.3" r="3.6"/><circle cx="578.8" cy="110.6" r="3.9"/><circle cx="574.3" cy="210" r="2.6"/><circle cx="386.3" cy="125.8" r="2.4"/><circle cx="492.1" cy="142.1" r="4.7"/><circle cx="520.5" cy="23" r="2.6"/><circle cx="481.9" cy="128.1" r="2.2"/><circle cx="513.8" cy="152" r="4.6"/><circle cx="540.9" cy="46.4" r="2"/><circle cx="536.6" cy="178" r="5.9"/><circle cx="348.2" cy="19.9" r="2.6"/><circle cx="357.3" cy="67.8" r="2.3"/><circle cx="337" cy="195.6" r="2.9"/><circle cx="359.9" cy="123.7" r="2.4"/><circle cx="564.6" cy="71.5" r="2.9"/><circle cx="513.9" cy="175.1" r="6.5"/><circle cx="369.3" cy="160.5" r="2.8"/><circle cx="484" cy="139.4" r="3.6"/><circle cx="333.8" cy="22" r="3.6"/><circle cx="362.3" cy="156.2" r="2.4"/><circle cx="560.4" cy="127.7" r="5.2"/><circle cx="580.6" cy="42.2" r="2.1"/><circle cx="563.1" cy="108.4" r="3.5"/><circle cx="362.8" cy="55.2" r="4.3"/><circle cx="371.8" cy="30.4" r="1.9"/><circle cx="488.1" cy="113" r="3.7"/><circle cx="555.3" cy="60.8" r="2.2"/><circle cx="344.1" cy="200.4" r="3"/><circle cx="496.1" cy="141.4" r="3.5"/><circle cx="343.8" cy="18.8" r="3.3"/><circle cx="580.9" cy="157.7" r="3.5"/><circle cx="409.1" cy="105.4" r="3.8"/><circle cx="479.5" cy="135.2" r="4.2"/><circle cx="545.1" cy="31.9" r="1.7"/><circle cx="362.3" cy="36.6" r="2.8"/><circle cx="337" cy="208.6" r="1.9"/><circle cx="345" cy="130.8" r="3.8"/><circle cx="486.4" cy="131.6" r="2.8"/><circle cx="361.8" cy="106.5" r="4.1"/><circle cx="382.5" cy="25.4" r="2.6"/><circle cx="480.2" cy="89" r="3.8"/><circle cx="415.2" cy="172.5" r="1.6"/><circle cx="475.9" cy="208" r="1.5"/><circle cx="472.5" cy="179.4" r="2.7"/><circle cx="548.7" cy="46.8" r="4.1"/><circle cx="369.1" cy="34" r="2.4"/><circle cx="475.3" cy="165.1" r="2.6"/><circle cx="569.6" cy="59.6" r="2.6"/><circle cx="386.9" cy="179.9" r="3.8"/><circle cx="580.5" cy="95.2" r="5.3"/><circle cx="468.1" cy="142.9" r="2.8"/><circle cx="575" cy="178.7" r="3.4"/><circle cx="405.6" cy="139.2" r="4.3"/><circle cx="375" cy="13" r="4.5"/><circle cx="338.5" cy="93.7" r="1.7"/><circle cx="346.2" cy="95.8" r="4.2"/><circle cx="419.6" cy="143" r="4.1"/><circle cx="509.2" cy="64.7" r="3.3"/><circle cx="337.7" cy="13.1" r="3.7"/><circle cx="576.7" cy="178.5" r="1.3"/><circle cx="527" cy="175.6" r="4.2"/><circle cx="557.6" cy="196.1" r="2.4"/><circle cx="567.2" cy="55.7" r="2.9"/><circle cx="381.3" cy="103.4" r="4"/><circle cx="383.6" cy="44.3" r="2.9"/><circle cx="581.8" cy="200.6" r="3"/><circle cx="452.7" cy="38.1" r="2.8"/><circle cx="433.1" cy="146.3" r="6.5"/><circle cx="410" cy="158.5" r="3.5"/><circle cx="569.7" cy="26.1" r="4.1"/><circle cx="346.6" cy="15.5" r="4"/><circle cx="512.3" cy="148.1" r="1.9"/><circle cx="418.5" cy="187" r="2.8"/><circle cx="384.9" cy="6.3" r="2.9"/><circle cx="340.5" cy="46.6" r="3.1"/><circle cx="334.6" cy="151.9" r="4.7"/><circle cx="338.4" cy="148.1" r="2.7"/><circle cx="506.6" cy="54.4" r="4.6"/><circle cx="492" cy="111" r="2.3"/><circle cx="335.9" cy="186.9" r="3.6"/><circle cx="498.4" cy="116.2" r="6.5"/><circle cx="530.9" cy="177" r="2.8"/><circle cx="557.5" cy="34.9" r="3"/><circle cx="580.7" cy="176.8" r="4.3"/><circle cx="354.4" cy="53.7" r="1.8"/><circle cx="372.3" cy="16" r="3.4"/><circle cx="542.4" cy="65.6" r="3.5"/><circle cx="358.3" cy="86.6" r="4.3"/><circle cx="555.6" cy="183" r="2.1"/><circle cx="573.6" cy="67.9" r="3.6"/><circle cx="481.5" cy="32.6" r="1.9"/><circle cx="526.5" cy="75" r="2.3"/><circle cx="374.1" cy="112.2" r="1.8"/><circle cx="557.1" cy="66.6" r="5.4"/><circle cx="395.6" cy="125.7" r="2.4"/><circle cx="381.9" cy="42.8" r="2.6"/><circle cx="414" cy="16.1" r="2.4"/><circle cx="469.7" cy="169" r="3.3"/><circle cx="553.8" cy="125.7" r="5.3"/><circle cx="539.2" cy="140.4" r="3.2"/><circle cx="342.8" cy="180.8" r="6.1"/><circle cx="567.8" cy="118.8" r="3.5"/><circle cx="420.1" cy="143.1" r="2.4"/><circle cx="550.6" cy="45.6" r="2.7"/><circle cx="407.5" cy="163" r="3.4"/><circle cx="467.5" cy="114" r="3.6"/><circle cx="526.7" cy="154.1" r="1.6"/><circle cx="411.8" cy="186.3" r="4"/><circle cx="365.9" cy="54.3" r="5.3"/><circle cx="365.3" cy="89.1" r="2.7"/><circle cx="478" cy="141.3" r="2"/><circle cx="377.6" cy="171.4" r="3.9"/><circle cx="544.7" cy="169.8" r="4.1"/><circle cx="349.9" cy="31.3" r="5.8"/><circle cx="395.8" cy="73.8" r="2.6"/><circle cx="420" cy="162.9" r="4.6"/><circle cx="482.8" cy="124" r="2.8"/><circle cx="400" cy="166.8" r="4"/><circle cx="469.9" cy="113" r="2"/><circle cx="403" cy="113.8" r="2.6"/><circle cx="518.8" cy="121.8" r="4.9"/><circle cx="536.2" cy="89.7" r="4"/><circle cx="487.5" cy="93.3" r="2.1"/><circle cx="360.4" cy="37" r="4.2"/><circle cx="552.1" cy="41.9" r="3.8"/><circle cx="428" cy="123" r="3.2"/><circle cx="526.7" cy="132.6" r="3.2"/><circle cx="548.6" cy="57.2" r="4.8"/><circle cx="405.7" cy="38.2" r="2.4"/><circle cx="402.1" cy="171.2" r="2.5"/><circle cx="362.3" cy="131.7" r="4.3"/><circle cx="459.5" cy="155.8" r="3.1"/><circle cx="481" cy="93.8" r="2.7"/><circle cx="481.9" cy="181.7" r="2.7"/><circle cx="333.3" cy="156.3" r="3.1"/><circle cx="579.7" cy="164.9" r="1.8"/><circle cx="360.3" cy="171.8" r="4.4"/><circle cx="557.1" cy="110.1" r="3.1"/><circle cx="490" cy="95.4" r="3.5"/><circle cx="486.9" cy="88.1" r="2.6"/><circle cx="459.3" cy="144.8" r="1.9"/><circle cx="531.8" cy="103.1" r="2.3"/><circle cx="461.9" cy="182.1" r="6.3"/><circle cx="365.4" cy="70.7" r="2"/><circle cx="543.1" cy="163.1" r="5.7"/><circle cx="363.9" cy="57.8" r="2.8"/><circle cx="388.3" cy="65.2" r="2.4"/><circle cx="561.1" cy="25.9" r="6.2"/><circle cx="578.8" cy="170.8" r="2.1"/><circle cx="523.7" cy="210.6" r="4.7"/><circle cx="372.6" cy="158" r="2.6"/><circle cx="418.3" cy="27.8" r="2"/><circle cx="489.2" cy="94.1" r="1.3"/><circle cx="384.8" cy="24" r="3.3"/><circle cx="451.9" cy="70.7" r="2.8"/><circle cx="377.5" cy="152.3" r="6.4"/><circle cx="363.3" cy="117.7" r="6"/><circle cx="338.7" cy="39.6" r="1.8"/><circle cx="476.5" cy="81.5" r="2.4"/><circle cx="507.2" cy="75.4" r="4.1"/><circle cx="478.2" cy="103" r="3.4"/><circle cx="573.4" cy="72.9" r="3.5"/><circle cx="448.8" cy="65.6" r="2.5"/><circle cx="357.9" cy="110.9" r="3.7"/><circle cx="530.3" cy="137.8" r="2.9"/><circle cx="430.3" cy="21.1" r="4"/><circle cx="482.1" cy="79.2" r="2.8"/><circle cx="333.8" cy="210" r="2"/><circle cx="455.2" cy="154.5" r="2.3"/><circle cx="358.4" cy="153.4" r="3.4"/><circle cx="389.7" cy="100.1" r="1.7"/><circle cx="540.8" cy="95.1" r="5.8"/><circle cx="335" cy="103.7" r="6.5"/><circle cx="347.4" cy="161.8" r="4.9"/><circle cx="565.4" cy="105.6" r="3.5"/><circle cx="416.8" cy="65" r="2.7"/><circle cx="541.2" cy="129.9" r="4.5"/><circle cx="395.5" cy="53.2" r="5.8"/><circle cx="540.1" cy="14.7" r="2.2"/><circle cx="518.1" cy="16.9" r="2.4"/><circle cx="417.9" cy="150.9" r="4.8"/><circle cx="382.9" cy="73.4" r="4.6"/><circle cx="455" cy="148.9" r="2.7"/><circle cx="543.9" cy="37.6" r="4.8"/><circle cx="355" cy="107.8" r="3.5"/><circle cx="534.9" cy="10.8" r="4.2"/><circle cx="531.9" cy="145" r="2.1"/><circle cx="502.2" cy="208.9" r="3.2"/><circle cx="332.8" cy="166.1" r="3.6"/><circle cx="464.9" cy="126.5" r="3"/><circle cx="488.9" cy="81.2" r="1.3"/><circle cx="539.1" cy="7.2" r="3.1"/><circle cx="365" cy="57.7" r="1.3"/><circle cx="395.1" cy="136.3" r="3.3"/><circle cx="378.6" cy="38.1" r="2.7"/><circle cx="406.1" cy="58.3" r="2.4"/><circle cx="548.9" cy="200.6" r="5.5"/><circle cx="334.1" cy="127.9" r="3.1"/><circle cx="354.2" cy="9.5" r="4.4"/><circle cx="551.9" cy="5.5" r="4.9"/><circle cx="482.3" cy="138.4" r="3.2"/><circle cx="473.6" cy="110.6" r="2.8"/><circle cx="402.6" cy="137.4" r="1.4"/><circle cx="523.8" cy="179.2" r="2.8"/></g><g fill="url(#b8)"><circle cx="559" cy="122.8" r="2.8"/><circle cx="417.4" cy="166" r="2.7"/><circle cx="510.6" cy="131.1" r="2.5"/><circle cx="550.7" cy="60.4" r="1.5"/><circle cx="433.1" cy="60.6" r="3.8"/><circle cx="487.1" cy="18.5" r="4"/><circle cx="561" cy="204.5" r="4.7"/><circle cx="333.7" cy="180.6" r="1.8"/><circle cx="478" cy="118.8" r="2.7"/><circle cx="515" cy="85.5" r="6.5"/><circle cx="533.2" cy="80.4" r="1.8"/><circle cx="392.7" cy="10.9" r="5.3"/><circle cx="370.1" cy="117.2" r="2.2"/><circle cx="365.2" cy="59.2" r="1.4"/><circle cx="425.2" cy="78.8" r="2.8"/><circle cx="480.9" cy="155.6" r="2.5"/><circle cx="472.8" cy="119.2" r="1.3"/><circle cx="564.7" cy="132.9" r="5.2"/><circle cx="388.5" cy="30.6" r="4.2"/><circle cx="381" cy="176.3" r="2.4"/><circle cx="426.5" cy="118.8" r="3.2"/><circle cx="468.2" cy="20.3" r="4.3"/><circle cx="566.8" cy="182.2" r="2"/><circle cx="552.8" cy="79.9" r="2.3"/><circle cx="339.9" cy="12.3" r="5.3"/><circle cx="480.6" cy="133.6" r="1.4"/><circle cx="462.1" cy="35.5" r="1.9"/><circle cx="426.6" cy="185.4" r="3.3"/><circle cx="368.3" cy="66.2" r="2.1"/><circle cx="452.1" cy="79.7" r="4"/><circle cx="562.2" cy="123.4" r="2.6"/><circle cx="420" cy="134.8" r="6.3"/><circle cx="470.2" cy="101.6" r="5.1"/><circle cx="376.4" cy="118.5" r="4.3"/><circle cx="555" cy="168.8" r="3.8"/><circle cx="364.8" cy="23.5" r="1.3"/><circle cx="580.2" cy="23.5" r="3.5"/><circle cx="486.7" cy="33.7" r="3.4"/><circle cx="358" cy="59.6" r="5.7"/><circle cx="377" cy="123.1" r="3.3"/><circle cx="491.9" cy="131.1" r="1.3"/><circle cx="382.3" cy="139" r="2.9"/><circle cx="573.6" cy="4.8" r="4.1"/><circle cx="375.9" cy="25.2" r="6.5"/><circle cx="353.3" cy="25.9" r="4.1"/><circle cx="569.3" cy="105.2" r="4"/><circle cx="340.6" cy="141.7" r="1.3"/><circle cx="522.1" cy="167.9" r="2.8"/><circle cx="510" cy="179.1" r="3.5"/><circle cx="343.1" cy="39.8" r="3.1"/><circle cx="559.7" cy="62.5" r="2.9"/><circle cx="371.5" cy="41" r="1.5"/><circle cx="449.4" cy="5.8" r="4.3"/><circle cx="339.4" cy="51.7" r="3.7"/><circle cx="558" cy="98.3" r="4.1"/><circle cx="402.2" cy="66.1" r="2.4"/><circle cx="567.1" cy="197.4" r="6.3"/><circle cx="579.6" cy="11.5" r="3.9"/><circle cx="528.3" cy="169.3" r="2.2"/><circle cx="562.4" cy="203.5" r="1.3"/><circle cx="504.9" cy="105.5" r="2.1"/><circle cx="398.8" cy="168.8" r="2.4"/><circle cx="561.4" cy="65.1" r="1.8"/><circle cx="350.1" cy="65.9" r="3.8"/><circle cx="335.7" cy="210.4" r="1.3"/><circle cx="334.3" cy="175.1" r="3.4"/><circle cx="484.2" cy="160.2" r="2.7"/><circle cx="442.1" cy="120.4" r="4.4"/><circle cx="336.2" cy="37.2" r="2.8"/><circle cx="581.4" cy="141.7" r="4.8"/><circle cx="408.6" cy="154.6" r="3.3"/><circle cx="369.6" cy="142.7" r="5.1"/><circle cx="557.6" cy="9.9" r="2.6"/><circle cx="432.6" cy="141.5" r="4.8"/><circle cx="427.1" cy="157.9" r="4.7"/><circle cx="510.6" cy="101.9" r="5.7"/><circle cx="571" cy="106.5" r="2.1"/><circle cx="508.7" cy="47.9" r="3.8"/><circle cx="434.7" cy="106.8" r="4.5"/><circle cx="363.7" cy="111.5" r="5.6"/><circle cx="394.3" cy="116" r="2.9"/><circle cx="338.2" cy="7.8" r="5.7"/><circle cx="533.2" cy="160.5" r="2.5"/><circle cx="474" cy="98.5" r="5.3"/><circle cx="399.5" cy="130" r="3.2"/><circle cx="415.3" cy="133.4" r="1.9"/><circle cx="417.9" cy="147.3" r="6.5"/><circle cx="407.9" cy="88.5" r="4.2"/><circle cx="479.8" cy="37.2" r="2.8"/><circle cx="454.5" cy="28.1" r="3.6"/><circle cx="569.1" cy="52.1" r="2.9"/><circle cx="529.2" cy="148.2" r="3.7"/><circle cx="524.2" cy="84.4" r="6.5"/><circle cx="367.8" cy="85.2" r="2.5"/><circle cx="334.9" cy="182.1" r="3.5"/><circle cx="406.4" cy="32.2" r="3.2"/><circle cx="527" cy="172.4" r="2.4"/><circle cx="344.5" cy="39.2" r="1.4"/><circle cx="545.5" cy="87.9" r="1.4"/><circle cx="501.8" cy="179.4" r="3"/><circle cx="528" cy="192.2" r="4.9"/><circle cx="374" cy="110.5" r="2"/><circle cx="413.7" cy="102.2" r="1.8"/><circle cx="541.9" cy="100" r="3.6"/><circle cx="573.2" cy="86.1" r="2"/><circle cx="395.7" cy="36.6" r="2.9"/><circle cx="477.6" cy="203.8" r="5.3"/><circle cx="396.1" cy="174.4" r="3.8"/><circle cx="505.9" cy="194.4" r="2.3"/><circle cx="534.5" cy="129.7" r="4.7"/><circle cx="383.8" cy="96.7" r="3"/><circle cx="495.4" cy="92.5" r="6.1"/><circle cx="537.7" cy="37" r="3.8"/><circle cx="417.3" cy="169.8" r="2.5"/><circle cx="421.1" cy="119.5" r="6.2"/><circle cx="371.8" cy="45.8" r="1.7"/><circle cx="516.6" cy="133.3" r="1.9"/><circle cx="418" cy="191.2" r="4.3"/><circle cx="545.9" cy="121.9" r="4.2"/><circle cx="410.6" cy="57.6" r="1.4"/><circle cx="553.3" cy="81.3" r="3.3"/><circle cx="399.9" cy="108.5" r="4.3"/><circle cx="544.7" cy="19.3" r="5.8"/><circle cx="456.4" cy="32.3" r="4.1"/><circle cx="385.7" cy="39.8" r="3.2"/><circle cx="449.2" cy="128.1" r="4.1"/><circle cx="347.4" cy="122.9" r="5.5"/><circle cx="404.3" cy="97.2" r="1.9"/><circle cx="366.9" cy="144.4" r="4.7"/><circle cx="354.4" cy="103.5" r="4.7"/><circle cx="386.7" cy="24.5" r="1.9"/><circle cx="444.7" cy="156.1" r="2.5"/><circle cx="383" cy="36.2" r="2.6"/><circle cx="382.8" cy="128.2" r="2.6"/><circle cx="483.6" cy="86.1" r="2.2"/><circle cx="394.9" cy="115.2" r="2.7"/><circle cx="339.7" cy="30.5" r="3.3"/><circle cx="401.7" cy="57.8" r="6.3"/><circle cx="449.1" cy="19" r="1.5"/><circle cx="472.1" cy="154" r="3.3"/><circle cx="552.5" cy="83.2" r="1.3"/><circle cx="341.6" cy="33.2" r="3.8"/><circle cx="333.2" cy="16.8" r="2.9"/><circle cx="406.6" cy="117" r="3.4"/><circle cx="563.3" cy="119.1" r="4"/><circle cx="362.2" cy="42" r="5.7"/><circle cx="490.9" cy="145.6" r="3.2"/><circle cx="369.5" cy="40.2" r="2.4"/><circle cx="573" cy="21.3" r="2.6"/><circle cx="489.9" cy="76.7" r="5.2"/><circle cx="388.4" cy="81.1" r="5"/><circle cx="526.3" cy="162.3" r="4.6"/><circle cx="364.6" cy="111.8" r="3.2"/><circle cx="469.7" cy="140.3" r="3.7"/><circle cx="441.5" cy="134.8" r="1.8"/><circle cx="520.4" cy="121.5" r="4.2"/><circle cx="535.4" cy="30.5" r="2.8"/><circle cx="532.6" cy="183.6" r="4"/><circle cx="561.6" cy="210.7" r="4.6"/><circle cx="536.4" cy="84.5" r="2"/><circle cx="519.5" cy="128.1" r="2"/><circle cx="509.3" cy="118.6" r="5.8"/><circle cx="372.6" cy="143.3" r="4.9"/><circle cx="565.2" cy="67.3" r="3.5"/><circle cx="346.7" cy="190.2" r="4"/><circle cx="345.1" cy="31.2" r="4.4"/><circle cx="464.9" cy="177.8" r="5.2"/><circle cx="574.4" cy="185.8" r="2"/><circle cx="390.7" cy="68.9" r="3.8"/><circle cx="424.2" cy="149.8" r="2.6"/><circle cx="345.8" cy="178.4" r="2.9"/><circle cx="366.8" cy="45.9" r="3.6"/><circle cx="554.9" cy="45.6" r="2.3"/><circle cx="348.1" cy="58.6" r="2.8"/><circle cx="560.5" cy="80.3" r="3.2"/><circle cx="443.8" cy="145.9" r="4.6"/><circle cx="535.1" cy="200.4" r="3.8"/><circle cx="519.4" cy="131.6" r="2.5"/><circle cx="402.7" cy="112.5" r="2.6"/><circle cx="567.6" cy="205.1" r="3.4"/><circle cx="496.6" cy="136.4" r="4"/><circle cx="368" cy="116.3" r="1.5"/><circle cx="466.8" cy="44.8" r="5.9"/><circle cx="563" cy="131.8" r="1.4"/><circle cx="571" cy="65" r="1.5"/><circle cx="499.4" cy="146.4" r="6"/><circle cx="333.5" cy="202.7" r="2.5"/><circle cx="501.6" cy="140.3" r="3.9"/><circle cx="462.3" cy="161.8" r="3.2"/><circle cx="350.1" cy="35.2" r="2.6"/><circle cx="351.2" cy="5.6" r="1.3"/><circle cx="365.8" cy="12.8" r="3.3"/><circle cx="536.4" cy="164.9" r="6.5"/><circle cx="333.7" cy="174.8" r="3.4"/><circle cx="383.6" cy="132.6" r="2.7"/><circle cx="552.6" cy="104.1" r="4.2"/><circle cx="547.8" cy="64.5" r="3.6"/><circle cx="506.4" cy="140.2" r="4.1"/><circle cx="414.3" cy="143.3" r="6.5"/><circle cx="490.6" cy="206.9" r="2.8"/><circle cx="461.7" cy="6.7" r="1.5"/><circle cx="526.5" cy="23.9" r="2"/><circle cx="541.3" cy="145.4" r="5.1"/><circle cx="453.5" cy="28.5" r="2.9"/><circle cx="361" cy="3.8" r="2.2"/><circle cx="380.9" cy="94.5" r="4.6"/><circle cx="425.5" cy="109.2" r="6.5"/><circle cx="422.9" cy="131.4" r="4.1"/><circle cx="353.5" cy="128" r="2.8"/><circle cx="486.8" cy="134.1" r="2.7"/><circle cx="538.6" cy="210.6" r="2.3"/><circle cx="473" cy="110.8" r="2.4"/><circle cx="374.9" cy="27.2" r="1.7"/><circle cx="359.5" cy="144.6" r="4.5"/><circle cx="537.2" cy="177.3" r="6.1"/><circle cx="557.2" cy="179.1" r="3.5"/><circle cx="536.3" cy="147.1" r="6"/><circle cx="336.8" cy="206.1" r="2.5"/><circle cx="386.1" cy="42.6" r="1.4"/><circle cx="568.4" cy="60.6" r="2.8"/><circle cx="549.6" cy="197.8" r="1.8"/><circle cx="458.2" cy="21.7" r="3.7"/><circle cx="543.6" cy="134.5" r="4.4"/><circle cx="565.5" cy="121.9" r="2"/><circle cx="558.3" cy="188.9" r="5.2"/><circle cx="334.4" cy="42.1" r="4.5"/><circle cx="362.4" cy="8.9" r="3.5"/><circle cx="573.5" cy="7.3" r="2.9"/><circle cx="562.7" cy="47.2" r="4.7"/><circle cx="353.2" cy="93" r="3.5"/><circle cx="474.5" cy="27" r="2.6"/><circle cx="515.8" cy="38.8" r="1.9"/><circle cx="458.1" cy="31.1" r="3.9"/><circle cx="559.9" cy="56.7" r="6.5"/><circle cx="389.2" cy="167.2" r="2.5"/><circle cx="408.4" cy="118.6" r="5"/><circle cx="571.7" cy="60.9" r="3.3"/><circle cx="562" cy="6.3" r="3.4"/><circle cx="351.1" cy="141.7" r="4.6"/><circle cx="333.1" cy="131.2" r="5.7"/><circle cx="445" cy="122.9" r="2.6"/><circle cx="380.9" cy="121.1" r="3"/><circle cx="571.5" cy="192.6" r="3.6"/><circle cx="339.4" cy="138.4" r="4.3"/><circle cx="496.4" cy="206.1" r="4.5"/><circle cx="557.2" cy="95.3" r="4.2"/><circle cx="572.4" cy="197.9" r="5.1"/><circle cx="336.3" cy="44.9" r="3.2"/><circle cx="421" cy="131" r="4.5"/><circle cx="559.9" cy="48.1" r="2.2"/><circle cx="502.9" cy="51.5" r="2.7"/><circle cx="338.1" cy="154.2" r="1.4"/><circle cx="359.2" cy="77.4" r="3.1"/><circle cx="527.6" cy="137" r="5.3"/><circle cx="444.4" cy="110.1" r="4.2"/><circle cx="423.6" cy="30.3" r="2.8"/><circle cx="336.3" cy="138.1" r="3.2"/><circle cx="455.9" cy="22.8" r="3"/><circle cx="529" cy="163.7" r="2.2"/><circle cx="368.3" cy="6.2" r="2.4"/><circle cx="411" cy="119.6" r="2.5"/><circle cx="380.5" cy="5.4" r="1.5"/><circle cx="518.5" cy="43.2" r="2.8"/><circle cx="579.2" cy="19.3" r="4.3"/><circle cx="475.4" cy="171.6" r="5.8"/><circle cx="342.2" cy="193" r="6.5"/><circle cx="411.5" cy="167.7" r="3.8"/><circle cx="392.9" cy="29.5" r="6"/><circle cx="388.6" cy="132.7" r="3.9"/><circle cx="429.7" cy="65.9" r="5.1"/><circle cx="432.9" cy="68.8" r="2"/><circle cx="384.4" cy="70.7" r="3.4"/><circle cx="503.6" cy="184.4" r="1.8"/><circle cx="441.3" cy="26.6" r="2.4"/><circle cx="414.9" cy="119.6" r="1.5"/><circle cx="336.1" cy="175.1" r="3.4"/><circle cx="340.2" cy="165.6" r="5.4"/><circle cx="529.8" cy="90.1" r="3.3"/><circle cx="548.2" cy="133.5" r="4.9"/><circle cx="569.7" cy="173.4" r="3"/><circle cx="383.8" cy="146.2" r="1.6"/><circle cx="371.5" cy="10.2" r="2.5"/><circle cx="373" cy="152.8" r="3.5"/><circle cx="554.6" cy="186.5" r="3.4"/><circle cx="359.5" cy="154.3" r="3.6"/><circle cx="408" cy="122.7" r="5.2"/><circle cx="438.7" cy="107.2" r="1.6"/><circle cx="354.5" cy="144.3" r="3.4"/><circle cx="544.7" cy="185" r="1.9"/><circle cx="375.9" cy="148.6" r="3.5"/><circle cx="414.7" cy="177" r="5.2"/><circle cx="421.2" cy="105.2" r="2.3"/><circle cx="478.3" cy="196.4" r="6.5"/><circle cx="575" cy="98.4" r="2.3"/><circle cx="333.3" cy="184.6" r="3"/><circle cx="576" cy="120.3" r="6.5"/><circle cx="551.7" cy="201.6" r="1.6"/><circle cx="486.4" cy="193.6" r="4"/><circle cx="473.5" cy="161.7" r="4.6"/></g><g fill="url(#b9)"><circle cx="371.4" cy="176" r="5.5"/><circle cx="572" cy="145.6" r="7"/><circle cx="501.6" cy="43.4" r="3.2"/><circle cx="344.8" cy="57.5" r="3.7"/><circle cx="349.5" cy="33.9" r="2.8"/><circle cx="579.2" cy="90.9" r="4.3"/><circle cx="339.3" cy="169.6" r="5.4"/><circle cx="368.5" cy="8.2" r="2.6"/><circle cx="373.1" cy="65.6" r="4.8"/><circle cx="358.1" cy="148.9" r="3"/><circle cx="573.2" cy="57.6" r="3.7"/><circle cx="442" cy="65.4" r="3.7"/><circle cx="389.8" cy="113.3" r="4.7"/><circle cx="484.5" cy="99.4" r="2.6"/><circle cx="463.1" cy="116.9" r="3.9"/><circle cx="470.3" cy="19.6" r="3.6"/><circle cx="580.4" cy="14.8" r="2"/><circle cx="363.8" cy="39.1" r="3.9"/><circle cx="535.2" cy="49.1" r="5.1"/><circle cx="540.6" cy="206.6" r="2.8"/><circle cx="523.3" cy="166.7" r="1.8"/><circle cx="502.9" cy="116.5" r="2.4"/><circle cx="576.7" cy="189.2" r="3.5"/><circle cx="473" cy="19.6" r="2.5"/><circle cx="540.7" cy="83.2" r="5"/><circle cx="449" cy="21.7" r="1.6"/><circle cx="349" cy="46.1" r="3.8"/><circle cx="336.6" cy="28.4" r="1.9"/><circle cx="529.3" cy="200.4" r="2.1"/><circle cx="508" cy="107.6" r="2.4"/><circle cx="381.2" cy="56.9" r="3.9"/><circle cx="373.4" cy="29" r="2.1"/><circle cx="398.7" cy="40.2" r="3.9"/><circle cx="343" cy="97.4" r="2.5"/><circle cx="372" cy="90.4" r="3.6"/><circle cx="545.9" cy="93.4" r="3.7"/><circle cx="491.2" cy="209.1" r="2.4"/><circle cx="377.2" cy="22.2" r="4.9"/><circle cx="548.6" cy="10.1" r="4.4"/><circle cx="398" cy="100.8" r="2.9"/><circle cx="381.1" cy="172.7" r="3.7"/><circle cx="385.4" cy="53.1" r="2"/><circle cx="412.2" cy="113.8" r="5.2"/><circle cx="343.9" cy="47.5" r="3"/><circle cx="379.9" cy="16.8" r="6.5"/><circle cx="401.7" cy="13" r="2.1"/><circle cx="429.6" cy="128" r="5.3"/><circle cx="490.3" cy="127.9" r="3.6"/><circle cx="555.3" cy="176.5" r="4.6"/><circle cx="481.8" cy="146.4" r="6.5"/><circle cx="456.3" cy="18.9" r="4.1"/><circle cx="381.2" cy="21.3" r="4.9"/><circle cx="390.1" cy="69" r="2.8"/><circle cx="525.6" cy="81.5" r="5"/><circle cx="339.8" cy="163.2" r="2.3"/><circle cx="465.1" cy="144.2" r="4.1"/><circle cx="338.3" cy="32.7" r="2.5"/><circle cx="367" cy="50.1" r="3.9"/><circle cx="576.7" cy="198.7" r="3.5"/><circle cx="578.3" cy="75.7" r="4.3"/><circle cx="464.7" cy="25.8" r="6.1"/><circle cx="360.2" cy="9.6" r="3.2"/><circle cx="341.2" cy="48.5" r="1.7"/><circle cx="364.1" cy="29.2" r="6.1"/><circle cx="568.1" cy="64" r="3.9"/><circle cx="515.4" cy="25" r="6.1"/><circle cx="390.4" cy="117.5" r="3.7"/><circle cx="541.3" cy="178" r="4"/><circle cx="549.7" cy="117.4" r="2.8"/><circle cx="365.4" cy="26.4" r="2.9"/><circle cx="562.7" cy="70.4" r="3.6"/><circle cx="466.2" cy="7.7" r="3"/><circle cx="535.4" cy="205.4" r="5.9"/><circle cx="337.6" cy="133.5" r="3.9"/><circle cx="558.1" cy="96.5" r="3.5"/><circle cx="489.2" cy="28.8" r="4.6"/><circle cx="401" cy="170.5" r="2.3"/><circle cx="476.2" cy="134.4" r="4"/><circle cx="376.5" cy="157.9" r="2.9"/><circle cx="359.3" cy="162" r="4.1"/><circle cx="357.7" cy="75.6" r="1.9"/><circle cx="535.2" cy="208.3" r="3.7"/><circle cx="402.8" cy="120" r="6.5"/><circle cx="569.8" cy="11.7" r="1.5"/><circle cx="467.6" cy="151.7" r="2.9"/><circle cx="392.2" cy="53.7" r="3.7"/><circle cx="387.8" cy="49.2" r="4.7"/><circle cx="576.4" cy="4.8" r="2"/><circle cx="574.8" cy="17.7" r="2"/><circle cx="335" cy="15.5" r="3.6"/><circle cx="362.1" cy="66.8" r="4.1"/><circle cx="399.4" cy="176.2" r="3.2"/><circle cx="560.2" cy="183" r="1.9"/><circle cx="517.4" cy="188" r="5"/><circle cx="377.4" cy="71.3" r="3.9"/><circle cx="371.2" cy="104" r="5.9"/><circle cx="367.6" cy="96.8" r="6.5"/><circle cx="390" cy="28.7" r="3"/><circle cx="426" cy="136.2" r="3"/><circle cx="467.4" cy="174.2" r="2.2"/><circle cx="380.6" cy="130.8" r="4.4"/><circle cx="504.2" cy="186.9" r="1.8"/><circle cx="509.9" cy="51.8" r="5.1"/><circle cx="560.5" cy="191.5" r="3.3"/><circle cx="545.1" cy="208.9" r="5.5"/><circle cx="541.9" cy="43.1" r="2.4"/><circle cx="334.5" cy="11.8" r="3.1"/><circle cx="409.4" cy="24.8" r="3.4"/><circle cx="565.4" cy="97.1" r="4.3"/><circle cx="398.2" cy="115.9" r="2.5"/><circle cx="351.5" cy="12.6" r="6.5"/><circle cx="529.1" cy="196.2" r="1.6"/><circle cx="402.8" cy="102.6" r="4.9"/><circle cx="516.7" cy="57.8" r="5.1"/><circle cx="478.2" cy="147.9" r="2.5"/><circle cx="378.7" cy="107.2" r="2.6"/><circle cx="367.5" cy="134.3" r="4.4"/><circle cx="549.4" cy="78.8" r="2.2"/><circle cx="486.1" cy="152.2" r="2.6"/><circle cx="349" cy="51.3" r="6.3"/><circle cx="364.7" cy="140.1" r="3.8"/><circle cx="581.4" cy="69.5" r="2.3"/><circle cx="535.9" cy="147.1" r="4.7"/><circle cx="547" cy="89.6" r="2"/><circle cx="513.2" cy="31.3" r="5.9"/><circle cx="360.6" cy="54.4" r="3.4"/><circle cx="567.5" cy="66.6" r="1.9"/><circle cx="531.8" cy="203" r="4.3"/><circle cx="567.7" cy="82.2" r="2.4"/><circle cx="563" cy="15.6" r="5.7"/><circle cx="544.2" cy="59.5" r="5.5"/><circle cx="371.8" cy="146.5" r="4"/><circle cx="394.7" cy="96.9" r="6.5"/><circle cx="545.1" cy="80.8" r="5.2"/><circle cx="419.8" cy="155.6" r="5.7"/><circle cx="562.7" cy="184.8" r="4.6"/><circle cx="463.5" cy="28.2" r="5.5"/><circle cx="467.3" cy="157" r="6.3"/><circle cx="532.8" cy="73.5" r="1.4"/><circle cx="453.7" cy="4" r="3.6"/><circle cx="357.1" cy="62.4" r="4.5"/><circle cx="356" cy="47.4" r="5.5"/><circle cx="354" cy="159" r="6.5"/><circle cx="351.3" cy="163.2" r="4.1"/><circle cx="349.8" cy="42.4" r="2.7"/><circle cx="431.8" cy="136.5" r="2.2"/><circle cx="548.3" cy="5.9" r="2.2"/><circle cx="353.6" cy="56.6" r="3.2"/><circle cx="477.7" cy="138.8" r="3.1"/><circle cx="370.4" cy="50.3" r="3.4"/><circle cx="578.6" cy="191.8" r="3.5"/><circle cx="566.3" cy="175.9" r="2.9"/><circle cx="533" cy="172.2" r="5.6"/><circle cx="341.2" cy="152" r="4.7"/><circle cx="382.4" cy="35.2" r="2.1"/><circle cx="400.3" cy="28" r="6.5"/><circle cx="420.2" cy="150.9" r="2.2"/><circle cx="571.1" cy="74.4" r="2.9"/><circle cx="385.3" cy="118.2" r="6.5"/><circle cx="566.8" cy="86.7" r="3.4"/><circle cx="409.4" cy="181.5" r="3.1"/><circle cx="522.6" cy="202.6" r="4"/><circle cx="533" cy="133.3" r="5.7"/><circle cx="482.2" cy="197.4" r="3.5"/><circle cx="395.8" cy="28.2" r="3.5"/><circle cx="557.5" cy="75.4" r="6.5"/><circle cx="403" cy="72.7" r="4.8"/><circle cx="549.2" cy="84.3" r="3.4"/><circle cx="386.4" cy="35.8" r="3"/><circle cx="378.6" cy="8.5" r="4.1"/><circle cx="333.9" cy="18.3" r="3"/><circle cx="551.2" cy="73.4" r="6.2"/><circle cx="473" cy="37.7" r="4"/><circle cx="346.1" cy="148.8" r="6.5"/><circle cx="357.9" cy="57.3" r="2.7"/><circle cx="372.7" cy="78.1" r="6.5"/><circle cx="468.1" cy="25.9" r="5.9"/><circle cx="543.4" cy="175.5" r="3.7"/><circle cx="331.6" cy="104.2" r="2.5"/><circle cx="558.4" cy="131.9" r="5.8"/><circle cx="580.5" cy="178.4" r="4.3"/><circle cx="462" cy="170.3" r="3.6"/><circle cx="493.6" cy="201.5" r="4.7"/><circle cx="529.3" cy="185.5" r="3"/><circle cx="424.3" cy="140.9" r="5.5"/><circle cx="460.4" cy="4.5" r="3.4"/><circle cx="458.6" cy="4.6" r="2.9"/><circle cx="387.3" cy="74.6" r="3.9"/><circle cx="361" cy="96.1" r="6.5"/><circle cx="576.2" cy="105" r="4.8"/><circle cx="416" cy="117.6" r="2.8"/><circle cx="415.2" cy="136.5" r="4.2"/><circle cx="475" cy="141.5" r="3.5"/><circle cx="418.6" cy="125.2" r="6.5"/><circle cx="410.8" cy="143.4" r="3.2"/><circle cx="538.9" cy="155" r="6.4"/><circle cx="573.8" cy="181.5" r="3.8"/><circle cx="374.9" cy="69.2" r="1.5"/><circle cx="422.5" cy="117.5" r="1.8"/><circle cx="567.4" cy="84.6" r="3"/><circle cx="448.1" cy="112.4" r="3.3"/><circle cx="580.5" cy="185" r="4.5"/><circle cx="372.3" cy="34.7" r="2.7"/></g><g fill="url(#b10)"><circle cx="425.6" cy="147.5" r="4.4"/><circle cx="512.3" cy="39.1" r="3.6"/><circle cx="332" cy="198.9" r="1.4"/><circle cx="532.2" cy="200.6" r="1.8"/><circle cx="484.9" cy="95.5" r="3.4"/><circle cx="527.5" cy="182.6" r="3.4"/><circle cx="576.1" cy="94.2" r="5.1"/><circle cx="349.2" cy="37.6" r="3.1"/><circle cx="573.8" cy="81.6" r="2.2"/><circle cx="385.9" cy="27.4" r="2"/><circle cx="529.6" cy="133.6" r="2.3"/><circle cx="472" cy="10.8" r="5.1"/><circle cx="429.7" cy="73.5" r="3.7"/><circle cx="532.9" cy="66.2" r="4.1"/><circle cx="549.3" cy="210.5" r="2"/><circle cx="535.3" cy="197.8" r="3"/><circle cx="382.4" cy="61.2" r="2.4"/><circle cx="488" cy="147.5" r="4.2"/><circle cx="483.9" cy="198.1" r="3.3"/><circle cx="537.6" cy="195.8" r="2.8"/><circle cx="395.3" cy="18.1" r="5.5"/><circle cx="437" cy="154.5" r="7"/><circle cx="445.8" cy="91.3" r="7"/><circle cx="483.7" cy="112.8" r="6.3"/><circle cx="502.7" cy="76.2" r="5"/><circle cx="334" cy="31" r="2.9"/><circle cx="378.4" cy="25.3" r="3"/><circle cx="578.1" cy="87.8" r="3.4"/><circle cx="337.5" cy="146.5" r="1.7"/><circle cx="364.6" cy="73.7" r="2.6"/><circle cx="542" cy="188.8" r="3.6"/><circle cx="557.5" cy="5.9" r="3.8"/><circle cx="348.4" cy="33" r="4.1"/><circle cx="342.1" cy="157.9" r="5.6"/><circle cx="421.6" cy="134.7" r="1.8"/><circle cx="537.8" cy="139.8" r="3.4"/><circle cx="356.8" cy="48.1" r="3.4"/><circle cx="561.4" cy="126.5" r="2.8"/><circle cx="386.2" cy="63.5" r="4.5"/><circle cx="401.4" cy="27.4" r="4.9"/><circle cx="372.2" cy="72" r="5.3"/><circle cx="350" cy="105.1" r="5.6"/><circle cx="434.8" cy="132.8" r="4.1"/><circle cx="575.8" cy="182.9" r="3"/><circle cx="498.3" cy="53.1" r="3.6"/><circle cx="367.9" cy="71.8" r="2.1"/><circle cx="550.9" cy="206" r="4.1"/><circle cx="352.4" cy="22.7" r="2.1"/><circle cx="357.4" cy="11.4" r="1.8"/><circle cx="521.6" cy="173.6" r="4"/><circle cx="527.7" cy="141.3" r="5"/><circle cx="418.4" cy="153.2" r="2.6"/><circle cx="333" cy="24.1" r="3.7"/><circle cx="375.7" cy="131.8" r="6.5"/><circle cx="360.8" cy="46.8" r="3.7"/><circle cx="366.5" cy="7.5" r="2"/><circle cx="396.6" cy="105.2" r="6.3"/><circle cx="405.4" cy="131.7" r="6.3"/><circle cx="337.4" cy="155.9" r="2.2"/><circle cx="373.3" cy="58.7" r="6.4"/><circle cx="339.5" cy="192.5" r="3.2"/><circle cx="552.7" cy="88.6" r="6.5"/><circle cx="353.4" cy="37.6" r="3.3"/><circle cx="574.6" cy="64.9" r="2.5"/><circle cx="554.7" cy="83.7" r="2.4"/><circle cx="337.6" cy="39.6" r="2.9"/><circle cx="483.2" cy="117.4" r="4.7"/><circle cx="370.2" cy="61.3" r="5.1"/><circle cx="377.7" cy="60.1" r="4.1"/><circle cx="471.1" cy="26.9" r="2.7"/><circle cx="559.9" cy="130.4" r="3.4"/><circle cx="428" cy="135.3" r="4.4"/><circle cx="449.2" cy="28.5" r="5.3"/><circle cx="340" cy="181.6" r="5.4"/><circle cx="437" cy="112.8" r="7"/><circle cx="511.2" cy="51.8" r="4.1"/><circle cx="488.8" cy="201.1" r="6.5"/><circle cx="337.2" cy="31.4" r="2.4"/><circle cx="379.9" cy="31.2" r="6.5"/><circle cx="388" cy="67.6" r="3"/><circle cx="483" cy="204" r="3.9"/><circle cx="516.7" cy="175.9" r="6.5"/><circle cx="568.8" cy="76.8" r="2.5"/><circle cx="562.1" cy="180.5" r="3.3"/><circle cx="337.2" cy="24.1" r="2.6"/><circle cx="580.9" cy="66.9" r="1.9"/><circle cx="331.5" cy="180.2" r="2.1"/></g><g fill="url(#b11)"><circle cx="390.2" cy="63.2" r="4"/><circle cx="412.9" cy="154.9" r="3.7"/><circle cx="510.5" cy="43.1" r="2.5"/><circle cx="332.5" cy="158.8" r="1.3"/><circle cx="545.5" cy="204.1" r="4.1"/><circle cx="361.1" cy="62.3" r="4"/><circle cx="472.2" cy="124.9" r="2.5"/><circle cx="340.1" cy="200.2" r="4.7"/><circle cx="352.8" cy="154.4" r="4"/><circle cx="354.5" cy="41.8" r="4.6"/><circle cx="537.5" cy="210.1" r="2.9"/><circle cx="334.2" cy="184.2" r="2.3"/><circle cx="565.9" cy="190.8" r="6.5"/><circle cx="489.8" cy="97.2" r="3.4"/><circle cx="399.6" cy="109.1" r="3.5"/><circle cx="375.6" cy="66.9" r="2.6"/><circle cx="565.2" cy="73" r="4"/><circle cx="375.9" cy="99.2" r="6.5"/><circle cx="506.5" cy="30.7" r="7.6"/><circle cx="334.7" cy="145.9" r="3"/><circle cx="380.7" cy="109.1" r="3.5"/><circle cx="570" cy="78.1" r="1.7"/><circle cx="366.9" cy="126.2" r="6.5"/><circle cx="565.9" cy="79.8" r="2.5"/><circle cx="562.6" cy="81.5" r="2.9"/><circle cx="579.8" cy="72.9" r="2.2"/><circle cx="365" cy="65.6" r="5"/><circle cx="563.3" cy="93.9" r="7.6"/><circle cx="373.1" cy="61.9" r="2.9"/><circle cx="485.5" cy="196.6" r="3.6"/><circle cx="568.1" cy="5.8" r="5.8"/><circle cx="540.5" cy="210.3" r="1.3"/><circle cx="418.7" cy="31" r="4.3"/><circle cx="347" cy="25.4" r="5.4"/><circle cx="563.8" cy="88.1" r="6"/><circle cx="403.9" cy="108.2" r="2.9"/><circle cx="371.3" cy="124.7" r="4"/><circle cx="348" cy="31.2" r="2.4"/><circle cx="564.8" cy="76.8" r="2.4"/><circle cx="570.5" cy="89.4" r="2.9"/><circle cx="571.9" cy="96.6" r="3.8"/><circle cx="579.2" cy="81.1" r="5.6"/><circle cx="561.8" cy="86" r="2.8"/><circle cx="355.2" cy="14.4" r="4.5"/><circle cx="391.8" cy="68.1" r="4.5"/><circle cx="333.9" cy="193.2" r="4.9"/><circle cx="534.7" cy="202.8" r="3.3"/><circle cx="541.2" cy="203" r="3.8"/><circle cx="576.8" cy="188" r="3.8"/><circle cx="424.6" cy="147.6" r="2.1"/><circle cx="581.9" cy="76" r="3.9"/></g></g></g>
<rect x="336.4" y="8.6" width="240.6" height="197.4" fill="none" stroke="#2a2625" stroke-width="0.8"/>
<text x="375.4" y="191.2" font-size="17.4" fill="#ffffff">MAPbBr<tspan font-size="10.4" dy="3.2">3</tspan><tspan dy="-3.2">&#8203;</tspan>/PMMA</text>
<text x="535.4" y="190" font-size="17.4" fill="#ffffff">2 μm</text>
<rect x="547" y="196.4" width="15" height="3" fill="#fff"/>
<text x="464.7" y="243" font-size="16.5" text-anchor="middle" fill="#1a1a1a">(b)</text>
</g>
<g id="c">
<defs><radialGradient id="c0" cx="0.5" cy="0.5" r="0.5" fx="0.44" fy="0.42"><stop offset="0.1" stop-color="#25201e"/><stop offset="0.7" stop-color="#1f1a18"/><stop offset="0.9" stop-color="#1f1a18"/><stop offset="1" stop-color="#130e0c"/></radialGradient><radialGradient id="c1" cx="0.5" cy="0.5" r="0.5" fx="0.44" fy="0.42"><stop offset="0.1" stop-color="#2f2a28"/><stop offset="0.7" stop-color="#292422"/><stop offset="0.9" stop-color="#292422"/><stop offset="1" stop-color="#171210"/></radialGradient><radialGradient id="c2" cx="0.5" cy="0.5" r="0.5" fx="0.44" fy="0.42"><stop offset="0.1" stop-color="#3a3533"/><stop offset="0.7" stop-color="#322d2b"/><stop offset="0.9" stop-color="#322d2b"/><stop offset="1" stop-color="#1c1715"/></radialGradient><radialGradient id="c3" cx="0.5" cy="0.5" r="0.5" fx="0.44" fy="0.42"><stop offset="0.1" stop-color="#443f3d"/><stop offset="0.7" stop-color="#3b3634"/><stop offset="0.9" stop-color="#3b3634"/><stop offset="1" stop-color="#211c1a"/></radialGradient><radialGradient id="c4" cx="0.5" cy="0.5" r="0.5" fx="0.44" fy="0.42"><stop offset="0.1" stop-color="#4e4947"/><stop offset="0.7" stop-color="#45403e"/><stop offset="0.9" stop-color="#45403e"/><stop offset="1" stop-color="#26211f"/></radialGradient><radialGradient id="c5" cx="0.5" cy="0.5" r="0.5" fx="0.44" fy="0.42"><stop offset="0.1" stop-color="#585351"/><stop offset="0.7" stop-color="#4f4a48"/><stop offset="0.9" stop-color="#4f4a48"/><stop offset="1" stop-color="#2b2624"/></radialGradient><radialGradient id="c6" cx="0.5" cy="0.5" r="0.5" fx="0.44" fy="0.42"><stop offset="0.1" stop-color="#635e5c"/><stop offset="0.7" stop-color="#585351"/><stop offset="0.9" stop-color="#585351"/><stop offset="1" stop-color="#302b29"/></radialGradient><radialGradient id="c7" cx="0.5" cy="0.5" r="0.5" fx="0.44" fy="0.42"><stop offset="0.1" stop-color="#6d6866"/><stop offset="0.7" stop-color="#615c5a"/><stop offset="0.9" stop-color="#615c5a"/><stop offset="1" stop-color="#35302e"/></radialGradient><radialGradient id="c8" cx="0.5" cy="0.5" r="0.5" fx="0.44" fy="0.42"><stop offset="0.1" stop-color="#777270"/><stop offset="0.7" stop-color="#6b6664"/><stop offset="0.9" stop-color="#6b6664"/><stop offset="1" stop-color="#3a3533"/></radialGradient><radialGradient id="c9" cx="0.5" cy="0.5" r="0.5" fx="0.44" fy="0.42"><stop offset="0.1" stop-color="#817c7a"/><stop offset="0.7" stop-color="#75706e"/><stop offset="0.9" stop-color="#75706e"/><stop offset="1" stop-color="#3f3a38"/></radialGradient><radialGradient id="c10" cx="0.5" cy="0.5" r="0.5" fx="0.44" fy="0.42"><stop offset="0.1" stop-color="#8c8785"/><stop offset="0.7" stop-color="#7e7977"/><stop offset="0.9" stop-color="#7e7977"/><stop offset="1" stop-color="#443f3d"/></radialGradient><radialGradient id="c11" cx="0.5" cy="0.5" r="0.5" fx="0.44" fy="0.42"><stop offset="0.1" stop-color="#96918f"/><stop offset="0.7" stop-color="#878280"/><stop offset="0.9" stop-color="#878280"/><stop offset="1" stop-color="#494442"/></radialGradient><radialGradient id="c12" cx="0.5" cy="0.5" r="0.5" fx="0.44" fy="0.42"><stop offset="0.1" stop-color="#a09b99"/><stop offset="0.7" stop-color="#918c8a"/><stop offset="0.9" stop-color="#918c8a"/><stop offset="1" stop-color="#4e4947"/></radialGradient><clipPath id="cc"><rect x="624.0" y="8.4" width="242" height="197.2"/></clipPath><filter id="cf" x="0" y="0" width="1" height="1"><feGaussianBlur stdDeviation="0.7"/></filter></defs>
<g clip-path="url(#cc)"><rect x="624.0" y="8.4" width="242" height="197.2" fill="#1a1514"/><g filter="url(#cf)" stroke="#141010" stroke-opacity="0.0" stroke-width="0.7"><g fill="url(#c0)"><circle cx="653.3" cy="193.4" r="2.5"/><circle cx="647" cy="209.4" r="1.6"/><circle cx="797.2" cy="43.1" r="3.8"/><circle cx="632.6" cy="202.4" r="2.9"/><circle cx="626.7" cy="134.9" r="3.3"/><circle cx="654.8" cy="187" r="2.6"/><circle cx="640.8" cy="134.8" r="2.4"/><circle cx="740.9" cy="173" r="2.6"/><circle cx="714.4" cy="205.5" r="2.2"/><circle cx="636.5" cy="129.3" r="4.6"/><circle cx="636.3" cy="198.1" r="1.5"/><circle cx="804.5" cy="154.1" r="3.2"/><circle cx="650.5" cy="209.6" r="2.6"/><circle cx="719.3" cy="210" r="3.2"/><circle cx="654.7" cy="182.3" r="2.4"/><circle cx="698.3" cy="199.1" r="3.2"/><circle cx="634.7" cy="205.4" r="5.9"/><circle cx="742.7" cy="202.4" r="2.6"/><circle cx="743.4" cy="207.8" r="1.7"/><circle cx="746.9" cy="183.3" r="1.4"/><circle cx="655.9" cy="182" r="2.4"/><circle cx="862.6" cy="100.3" r="2.9"/><circle cx="744.1" cy="173.1" r="3.9"/><circle cx="624.9" cy="133.6" r="2.4"/><circle cx="650.7" cy="190.8" r="2.5"/><circle cx="784" cy="3.6" r="2.2"/><circle cx="744.8" cy="194.8" r="2.1"/><circle cx="697.5" cy="192.7" r="2.3"/><circle cx="630.2" cy="199" r="2.5"/><circle cx="726.3" cy="209.5" r="3"/><circle cx="661.3" cy="194.3" r="2.5"/><circle cx="791.7" cy="44.3" r="1.5"/><circle cx="658" cy="197.9" r="3.4"/><circle cx="861.1" cy="89.1" r="3"/><circle cx="699.6" cy="201.1" r="3.3"/><circle cx="654" cy="190.4" r="3.3"/><circle cx="863" cy="89.1" r="1.5"/><circle cx="648.8" cy="185.3" r="2.5"/><circle cx="634.3" cy="124.7" r="3"/><circle cx="701.6" cy="192.9" r="2.4"/><circle cx="621.4" cy="123.7" r="2.1"/><circle cx="705.1" cy="203.6" r="1.7"/><circle cx="751.8" cy="177.2" r="1.8"/><circle cx="648" cy="135" r="3.9"/><circle cx="725.5" cy="181.5" r="2.4"/><circle cx="699.3" cy="202.3" r="2.5"/><circle cx="729.8" cy="186.8" r="2.4"/><circle cx="866.3" cy="69.8" r="1.5"/><circle cx="727.4" cy="167.8" r="3.9"/><circle cx="661.1" cy="190.6" r="3.4"/><circle cx="643.6" cy="185.8" r="2.6"/><circle cx="637.8" cy="132.4" r="3.1"/><circle cx="636.9" cy="138.4" r="3"/><circle cx="823.6" cy="176.9" r="5.8"/><circle cx="854.8" cy="94.4" r="2.2"/><circle cx="783.1" cy="139.6" r="2.9"/><circle cx="775.1" cy="28.4" r="5.5"/><circle cx="757.6" cy="34.4" r="4.5"/><circle cx="751.5" cy="85.6" r="1.9"/><circle cx="863.3" cy="66.8" r="1.8"/><circle cx="770.3" cy="20" r="3.7"/><circle cx="643.3" cy="133.6" r="2.6"/><circle cx="760.6" cy="3.7" r="2.5"/><circle cx="631.4" cy="198.8" r="2"/><circle cx="680.2" cy="57.8" r="1.4"/><circle cx="722.6" cy="171.6" r="2.3"/><circle cx="629.3" cy="135.5" r="3.7"/><circle cx="819.9" cy="171.9" r="3.6"/><circle cx="721.3" cy="171" r="1.3"/><circle cx="645.9" cy="196" r="6.5"/><circle cx="720.8" cy="204.4" r="3.7"/><circle cx="714.9" cy="161.9" r="1.6"/><circle cx="671" cy="205.7" r="2.6"/><circle cx="778.1" cy="132.6" r="1.6"/><circle cx="856.2" cy="68.6" r="4.1"/><circle cx="625.4" cy="136.4" r="4.3"/><circle cx="651.4" cy="127" r="3.1"/><circle cx="790.5" cy="152" r="1.3"/><circle cx="751.1" cy="37.1" r="3.4"/><circle cx="744.4" cy="171.4" r="1.5"/><circle cx="625.3" cy="127.1" r="2.9"/><circle cx="646.9" cy="133.4" r="3.6"/><circle cx="729.1" cy="195.9" r="2.3"/><circle cx="645.2" cy="124.6" r="2.5"/><circle cx="727" cy="195.1" r="3.1"/><circle cx="653.3" cy="189.4" r="3"/><circle cx="745.8" cy="179.3" r="2.6"/><circle cx="700.1" cy="196" r="2.4"/><circle cx="639.8" cy="139.2" r="2.8"/><circle cx="638.4" cy="194.7" r="4.8"/><circle cx="697.6" cy="208.4" r="4.2"/><circle cx="753.5" cy="70.5" r="2.2"/><circle cx="838.1" cy="167.9" r="2.8"/><circle cx="636.1" cy="142.5" r="5.3"/><circle cx="722.1" cy="167.5" r="1.4"/><circle cx="629.2" cy="130.2" r="4.2"/><circle cx="784.8" cy="122.6" r="1.9"/><circle cx="852.9" cy="91.2" r="2.2"/><circle cx="840.9" cy="183.8" r="4.4"/><circle cx="762" cy="7.1" r="4.2"/><circle cx="647.5" cy="128.7" r="3.7"/><circle cx="620.5" cy="103.6" r="1.8"/><circle cx="661.8" cy="203" r="3.6"/><circle cx="785.3" cy="45.3" r="2"/><circle cx="627.8" cy="131.9" r="1.7"/><circle cx="860.7" cy="103.9" r="3.6"/><circle cx="804" cy="47.8" r="2.3"/><circle cx="800.9" cy="43.2" r="1.3"/><circle cx="717.2" cy="155.8" r="1.5"/><circle cx="856.6" cy="66.9" r="2.3"/><circle cx="660.4" cy="190.2" r="2.9"/><circle cx="810.2" cy="4.6" r="1.7"/><circle cx="634" cy="193.1" r="2.9"/><circle cx="643.3" cy="128.7" r="3.1"/><circle cx="703.7" cy="66.1" r="2.8"/><circle cx="646.2" cy="172.7" r="4.1"/><circle cx="695.2" cy="209.6" r="2.2"/><circle cx="620.6" cy="127.5" r="2.5"/><circle cx="707.9" cy="202.5" r="3.4"/><circle cx="743" cy="180.2" r="4.2"/><circle cx="762.9" cy="21.5" r="1.7"/><circle cx="629.9" cy="204.9" r="3.1"/><circle cx="692.1" cy="186.1" r="2.2"/><circle cx="856.8" cy="69.3" r="4.1"/><circle cx="865.4" cy="63.5" r="4.3"/><circle cx="816.8" cy="182" r="4.5"/><circle cx="744.9" cy="207.8" r="1.3"/><circle cx="747.2" cy="38.8" r="4.1"/><circle cx="633" cy="135.6" r="2.6"/><circle cx="769.8" cy="197.1" r="3.6"/><circle cx="862.2" cy="60.9" r="2.2"/><circle cx="719.3" cy="164.6" r="2.5"/><circle cx="620.3" cy="132.1" r="2.3"/><circle cx="751.5" cy="187.2" r="2.9"/><circle cx="866.4" cy="72.3" r="3.2"/><circle cx="648.7" cy="187.2" r="2.3"/><circle cx="753.5" cy="41.4" r="4.9"/><circle cx="862.2" cy="72" r="2.9"/><circle cx="758.2" cy="87.3" r="1.4"/><circle cx="619.1" cy="108" r="5.8"/><circle cx="648.4" cy="140.1" r="1.3"/><circle cx="792.9" cy="17.5" r="4.5"/><circle cx="631.6" cy="128.6" r="3.5"/><circle cx="644.2" cy="202.7" r="6.5"/><circle cx="698.9" cy="202.5" r="2.2"/><circle cx="656.1" cy="179.9" r="2.6"/><circle cx="741.9" cy="170.4" r="3"/><circle cx="811.1" cy="177" r="3.3"/><circle cx="674.4" cy="170.4" r="3.2"/><circle cx="834.1" cy="169.6" r="2.2"/><circle cx="732.2" cy="147.4" r="3.6"/><circle cx="711.5" cy="202.4" r="3.1"/><circle cx="784.9" cy="133.3" r="6.5"/><circle cx="627.1" cy="199.6" r="4.5"/><circle cx="807" cy="77.8" r="1.5"/><circle cx="697" cy="193.7" r="1.5"/><circle cx="627.9" cy="207.8" r="2.4"/><circle cx="659" cy="202.2" r="2.5"/><circle cx="733.9" cy="174.8" r="2.1"/><circle cx="806.3" cy="34.5" r="5.3"/><circle cx="736.7" cy="177.3" r="2.9"/><circle cx="747.4" cy="169.6" r="4.1"/><circle cx="701.1" cy="205.5" r="4.6"/><circle cx="746.6" cy="176.9" r="3.8"/><circle cx="737.8" cy="185.6" r="3.4"/><circle cx="743.2" cy="209.6" r="1.3"/><circle cx="804.5" cy="202.7" r="1.9"/><circle cx="631.6" cy="133.6" r="3.2"/><circle cx="632.1" cy="203.8" r="2.6"/><circle cx="740.9" cy="163.8" r="2"/><circle cx="804.2" cy="195.4" r="3.7"/><circle cx="772.3" cy="33.7" r="3.2"/><circle cx="723.6" cy="167.4" r="2.5"/><circle cx="750.2" cy="185.1" r="4.1"/><circle cx="677.7" cy="140.8" r="3.1"/><circle cx="630.4" cy="119.8" r="3.4"/><circle cx="780.4" cy="143.5" r="4.9"/><circle cx="688.8" cy="189.3" r="5.3"/><circle cx="724.3" cy="163.3" r="2.4"/><circle cx="737.3" cy="185.9" r="3"/><circle cx="869.9" cy="71.8" r="4.6"/><circle cx="813.9" cy="151.6" r="2.1"/><circle cx="736.7" cy="189.3" r="2.9"/><circle cx="835.9" cy="169.4" r="1.4"/><circle cx="682.1" cy="159.3" r="3.7"/><circle cx="864.9" cy="77.2" r="1.5"/><circle cx="866.6" cy="75" r="2.8"/><circle cx="628.9" cy="79.2" r="5.1"/><circle cx="813.7" cy="158.8" r="2"/><circle cx="674.5" cy="139.4" r="2.7"/><circle cx="860.8" cy="65.3" r="3"/><circle cx="663" cy="202.1" r="3.8"/><circle cx="693.1" cy="161" r="2.5"/><circle cx="628.9" cy="122.5" r="2.7"/><circle cx="749.9" cy="194.8" r="2.5"/><circle cx="669.2" cy="74.4" r="3.2"/><circle cx="621.9" cy="82.4" r="2.8"/><circle cx="804.1" cy="158.8" r="3.9"/><circle cx="853.2" cy="100.2" r="5.2"/><circle cx="688.7" cy="171.1" r="3"/><circle cx="683.2" cy="52.7" r="2.9"/><circle cx="642" cy="87.8" r="1.3"/><circle cx="821.9" cy="167.9" r="6.5"/><circle cx="656.2" cy="195.4" r="2.5"/><circle cx="764.2" cy="35.8" r="4.5"/><circle cx="810.6" cy="174.7" r="2.9"/><circle cx="865.6" cy="59.9" r="2.1"/><circle cx="621.8" cy="98.6" r="3.2"/><circle cx="832.7" cy="82.1" r="1.3"/><circle cx="704.6" cy="158.2" r="3.4"/><circle cx="683.7" cy="210.3" r="3.4"/><circle cx="646.3" cy="190.7" r="3.1"/><circle cx="815.7" cy="154.3" r="4.2"/><circle cx="720.2" cy="152.3" r="3"/><circle cx="777.3" cy="135.2" r="1.5"/><circle cx="855.4" cy="177.5" r="1.7"/><circle cx="720.3" cy="159.9" r="4.6"/><circle cx="813.2" cy="163.4" r="2"/><circle cx="741.4" cy="177.3" r="3.8"/><circle cx="791" cy="40.3" r="2.7"/><circle cx="780.3" cy="104.7" r="3.3"/><circle cx="659.1" cy="206.5" r="2.1"/><circle cx="647.1" cy="142.9" r="2"/><circle cx="742.8" cy="193.1" r="3.2"/><circle cx="750.6" cy="48" r="3.3"/><circle cx="775.5" cy="17.7" r="3.2"/><circle cx="748.7" cy="190.4" r="3"/><circle cx="696.3" cy="186.6" r="5"/><circle cx="757.2" cy="85.3" r="2.1"/><circle cx="709.9" cy="148.9" r="1.3"/><circle cx="789.5" cy="154.9" r="1.8"/><circle cx="765.3" cy="35" r="2.1"/><circle cx="641.3" cy="126.3" r="4"/><circle cx="728.1" cy="161.6" r="5.1"/><circle cx="661" cy="209.7" r="2.9"/><circle cx="675.9" cy="59.7" r="3.2"/><circle cx="729.6" cy="148.1" r="2.9"/><circle cx="808.6" cy="64.7" r="2.1"/><circle cx="869.9" cy="61.8" r="3.6"/><circle cx="622.6" cy="74.5" r="1.7"/><circle cx="813.4" cy="177.7" r="1.8"/><circle cx="703.8" cy="182.2" r="3.6"/><circle cx="653.7" cy="206.8" r="5.7"/><circle cx="781.6" cy="128.9" r="3.1"/><circle cx="753.9" cy="79" r="1.4"/><circle cx="868.7" cy="58.1" r="3"/><circle cx="652.3" cy="179.5" r="4.5"/><circle cx="775.8" cy="4.5" r="1.6"/><circle cx="839.3" cy="156.8" r="2.6"/><circle cx="831.8" cy="175.5" r="2.5"/><circle cx="648.7" cy="206.5" r="1.7"/><circle cx="654.4" cy="204.1" r="1.4"/><circle cx="856.8" cy="85.8" r="5.1"/><circle cx="645.6" cy="187.1" r="2.8"/><circle cx="655" cy="123" r="2.7"/><circle cx="726" cy="199.2" r="3.4"/><circle cx="855.4" cy="176.9" r="2"/><circle cx="807.6" cy="29.7" r="3.3"/><circle cx="767.4" cy="5.8" r="2"/><circle cx="636.4" cy="116.7" r="2.6"/><circle cx="708" cy="208.5" r="3.7"/><circle cx="814.9" cy="174.8" r="2.3"/><circle cx="691.4" cy="175.2" r="2.9"/><circle cx="769.6" cy="7.4" r="2.2"/><circle cx="770.6" cy="193.3" r="1.4"/><circle cx="631.1" cy="142" r="5.3"/><circle cx="635.6" cy="187.7" r="2.2"/><circle cx="821.7" cy="9.9" r="2.8"/><circle cx="868.9" cy="50.5" r="3"/><circle cx="815.2" cy="170.5" r="1.7"/><circle cx="729.8" cy="182.6" r="2.5"/><circle cx="623.7" cy="81.8" r="2.5"/><circle cx="675" cy="184.3" r="2.5"/><circle cx="711.6" cy="183.3" r="4"/><circle cx="723.5" cy="173" r="1.9"/><circle cx="663.4" cy="196.8" r="2.9"/><circle cx="797.1" cy="19.2" r="4.8"/><circle cx="770.2" cy="7.5" r="2.6"/><circle cx="675.9" cy="69.1" r="3.8"/><circle cx="628.1" cy="102.2" r="3.7"/><circle cx="756.1" cy="11.3" r="1.7"/><circle cx="642.1" cy="122.1" r="3"/><circle cx="703.6" cy="58.8" r="2"/><circle cx="756" cy="179.7" r="5"/><circle cx="627.5" cy="140.3" r="4.5"/><circle cx="744.5" cy="165.1" r="4"/><circle cx="851" cy="119.7" r="2.6"/><circle cx="727.4" cy="201.8" r="2.3"/><circle cx="664.4" cy="180.8" r="2.6"/><circle cx="731.1" cy="198.6" r="5.3"/><circle cx="863.2" cy="96.4" r="6.5"/><circle cx="646.2" cy="90.2" r="3.1"/><circle cx="782.7" cy="134.3" r="2.8"/><circle cx="679.7" cy="179.7" r="2.5"/><circle cx="643.5" cy="141.4" r="1.3"/><circle cx="862.8" cy="158.4" r="6.5"/><circle cx="627.2" cy="198.6" r="1.4"/><circle cx="706.6" cy="181" r="2.7"/><circle cx="673.8" cy="202.4" r="1.7"/><circle cx="819.4" cy="71.7" r="3.2"/><circle cx="718.5" cy="152.5" r="2.8"/><circle cx="780.5" cy="159.9" r="1.8"/><circle cx="624" cy="184.2" r="2.5"/></g><g fill="url(#c1)"><circle cx="825.8" cy="160.7" r="4.1"/><circle cx="727.9" cy="147.2" r="1.5"/><circle cx="689.1" cy="198.4" r="4"/><circle cx="746.9" cy="196.1" r="2"/><circle cx="773.9" cy="17.7" r="1.7"/><circle cx="645" cy="165.8" r="2.7"/><circle cx="706.7" cy="210.2" r="3.2"/><circle cx="712.2" cy="189.8" r="3.8"/><circle cx="641.7" cy="58.8" r="2.3"/><circle cx="698.4" cy="157.3" r="3.3"/><circle cx="661.9" cy="177.3" r="3.4"/><circle cx="655.2" cy="133.2" r="2.1"/><circle cx="619.5" cy="208.7" r="4.2"/><circle cx="691.3" cy="196.1" r="3.1"/><circle cx="723.9" cy="140.4" r="2.7"/><circle cx="811.9" cy="209.3" r="1.5"/><circle cx="808.9" cy="168.4" r="2.9"/><circle cx="622" cy="110.9" r="1.8"/><circle cx="800.4" cy="200.5" r="2.1"/><circle cx="779.8" cy="13.3" r="2.6"/><circle cx="858.5" cy="203" r="2.5"/><circle cx="851.3" cy="181.8" r="3.6"/><circle cx="738.8" cy="188.9" r="2"/><circle cx="628.3" cy="140.4" r="2"/><circle cx="734.7" cy="188.1" r="2.4"/><circle cx="703.5" cy="189.3" r="1.6"/><circle cx="857.2" cy="113.6" r="2.3"/><circle cx="644.2" cy="180.8" r="3.5"/><circle cx="631.2" cy="79.6" r="2.4"/><circle cx="747.1" cy="35.5" r="3.1"/><circle cx="635.4" cy="135.8" r="2.8"/><circle cx="650.5" cy="196.4" r="5.2"/><circle cx="639.6" cy="197.6" r="3.5"/><circle cx="622" cy="91.9" r="2.4"/><circle cx="637.5" cy="186.8" r="3.8"/><circle cx="853.6" cy="100.3" r="2.7"/><circle cx="813.3" cy="5.5" r="2.3"/><circle cx="655.9" cy="53" r="2.6"/><circle cx="665.4" cy="194.3" r="1.7"/><circle cx="786.2" cy="41.4" r="3.7"/><circle cx="775.8" cy="138.8" r="2.4"/><circle cx="697.3" cy="191.1" r="2.4"/><circle cx="859.9" cy="68.9" r="2.8"/><circle cx="858" cy="79.2" r="4.2"/><circle cx="694" cy="187.2" r="2.4"/><circle cx="835.1" cy="160.1" r="2.5"/><circle cx="748.6" cy="182.3" r="1.8"/><circle cx="702.1" cy="4.3" r="2.8"/><circle cx="775.2" cy="181.3" r="3.6"/><circle cx="703.8" cy="163.7" r="2.1"/><circle cx="626.2" cy="150.2" r="5.9"/><circle cx="765.8" cy="46.7" r="2.6"/><circle cx="852.1" cy="87.5" r="2.6"/><circle cx="628.7" cy="119" r="1.8"/><circle cx="733.4" cy="172.8" r="2.3"/><circle cx="693.8" cy="172" r="3.7"/><circle cx="868.5" cy="81.8" r="5.3"/><circle cx="640.2" cy="163.9" r="2"/><circle cx="624.1" cy="104.7" r="2.4"/><circle cx="645.2" cy="77.8" r="2.7"/><circle cx="674.3" cy="5.9" r="4.2"/><circle cx="688.8" cy="184.2" r="2.6"/><circle cx="822.4" cy="172.7" r="4.1"/><circle cx="653.8" cy="131.8" r="1.6"/><circle cx="858.1" cy="204.5" r="1.3"/><circle cx="870.5" cy="56.5" r="1.8"/><circle cx="756.8" cy="55.7" r="5"/><circle cx="857.5" cy="111.9" r="2.5"/><circle cx="752.8" cy="33.3" r="4.1"/><circle cx="859.9" cy="105.5" r="2.4"/><circle cx="682.2" cy="156.6" r="2.1"/><circle cx="658.5" cy="111.3" r="4"/><circle cx="696.3" cy="56.1" r="2.1"/><circle cx="866.8" cy="170.9" r="3.3"/><circle cx="851.6" cy="185.4" r="4"/><circle cx="856.5" cy="90.9" r="4.4"/><circle cx="785.9" cy="110.1" r="2.5"/><circle cx="829.3" cy="195.7" r="3.1"/><circle cx="652.7" cy="174" r="6.5"/><circle cx="697" cy="166.9" r="3.2"/><circle cx="859.6" cy="70.1" r="2.3"/><circle cx="675.6" cy="197.5" r="1.7"/><circle cx="811.7" cy="196.5" r="1.9"/><circle cx="740.6" cy="26" r="1.8"/><circle cx="859.3" cy="96.2" r="2"/><circle cx="687.1" cy="55.4" r="3.1"/><circle cx="646.8" cy="4.6" r="2"/><circle cx="791.9" cy="119.7" r="3.6"/><circle cx="792.1" cy="188.5" r="3.4"/><circle cx="661.3" cy="205.1" r="2.9"/><circle cx="837.1" cy="174.5" r="6.5"/><circle cx="737.1" cy="112.9" r="3.9"/><circle cx="634.3" cy="189.3" r="3.6"/><circle cx="805.2" cy="34.8" r="4.7"/><circle cx="623.3" cy="93.2" r="3.2"/><circle cx="764.5" cy="184.3" r="3.5"/><circle cx="628.1" cy="106.2" r="3.5"/><circle cx="839.7" cy="159.3" r="3.6"/><circle cx="857.3" cy="75.4" r="3.6"/><circle cx="625.1" cy="100.6" r="2.2"/><circle cx="812.4" cy="201.9" r="2.1"/><circle cx="717.7" cy="178.2" r="2.8"/><circle cx="713.4" cy="131.1" r="2.1"/><circle cx="648.7" cy="173" r="2"/><circle cx="841.1" cy="164.2" r="4.5"/><circle cx="755.8" cy="47.2" r="6.5"/><circle cx="724.7" cy="171" r="2.6"/><circle cx="641.6" cy="71" r="3.5"/><circle cx="865.3" cy="116.8" r="1.5"/><circle cx="752.4" cy="181.6" r="3.3"/><circle cx="806.7" cy="41" r="5.6"/><circle cx="823.3" cy="161.5" r="4.5"/><circle cx="750.6" cy="95.5" r="2.9"/><circle cx="809" cy="157.1" r="1.8"/><circle cx="749.5" cy="160.2" r="2.5"/><circle cx="744.1" cy="37.3" r="2.6"/><circle cx="860.5" cy="93.4" r="3"/><circle cx="634.8" cy="164.1" r="1.9"/><circle cx="619.7" cy="200.8" r="3.6"/><circle cx="846.3" cy="166.3" r="5.1"/><circle cx="857.2" cy="174.1" r="2"/><circle cx="712.9" cy="169.8" r="3.5"/><circle cx="832.1" cy="177.1" r="2.9"/><circle cx="781.4" cy="114.9" r="2.3"/><circle cx="692.1" cy="203.4" r="3.7"/><circle cx="772.4" cy="157.5" r="3"/><circle cx="866.7" cy="93.2" r="2.1"/><circle cx="628.4" cy="74.4" r="6.2"/><circle cx="715.5" cy="168.2" r="3.9"/><circle cx="652.8" cy="127" r="1.3"/><circle cx="799.6" cy="12" r="4.4"/><circle cx="683.1" cy="208.4" r="2.3"/><circle cx="711.9" cy="209.2" r="5.4"/><circle cx="648.8" cy="176" r="3.6"/><circle cx="848.6" cy="99.3" r="4.5"/><circle cx="783.9" cy="187.8" r="2.7"/><circle cx="636.2" cy="86.5" r="3"/><circle cx="814.9" cy="42.7" r="4"/><circle cx="674.4" cy="206.5" r="4.2"/><circle cx="711.3" cy="71.3" r="1.7"/><circle cx="781.6" cy="137.5" r="2.5"/><circle cx="754.4" cy="62.9" r="5.7"/><circle cx="626.1" cy="86.5" r="5.9"/><circle cx="643.5" cy="139.1" r="2.2"/><circle cx="720.3" cy="140" r="2.6"/><circle cx="850.7" cy="73.1" r="6.1"/><circle cx="788.3" cy="121.8" r="2.3"/><circle cx="813.3" cy="13.9" r="2.4"/><circle cx="782.6" cy="110.6" r="1.3"/><circle cx="733.5" cy="196.1" r="4.6"/><circle cx="690.8" cy="180.8" r="1.9"/><circle cx="770.7" cy="36.9" r="3.9"/><circle cx="748" cy="83.7" r="3.4"/><circle cx="701.3" cy="189.1" r="3.4"/><circle cx="640.6" cy="83.8" r="1.5"/><circle cx="684.4" cy="78.4" r="2.1"/><circle cx="866.5" cy="179.6" r="3.1"/><circle cx="665.7" cy="7.5" r="2.2"/><circle cx="855.4" cy="56.4" r="1.4"/><circle cx="784.6" cy="105" r="3.5"/><circle cx="803.7" cy="180.4" r="4.6"/><circle cx="666.8" cy="117.3" r="2.9"/><circle cx="758.4" cy="112.5" r="2.5"/><circle cx="780.8" cy="15.2" r="1.5"/><circle cx="778.8" cy="160.2" r="1.6"/><circle cx="756.4" cy="148.1" r="2"/><circle cx="751.1" cy="82.4" r="3.7"/><circle cx="745.9" cy="162.1" r="4.1"/><circle cx="650.6" cy="130.2" r="3.4"/><circle cx="636.6" cy="190.6" r="3"/><circle cx="870" cy="53.7" r="1.6"/><circle cx="862.4" cy="174.9" r="5"/><circle cx="757.8" cy="82.7" r="2.3"/><circle cx="695.8" cy="3.9" r="4.8"/><circle cx="798.9" cy="135.2" r="4.3"/><circle cx="628.6" cy="146.2" r="4.4"/><circle cx="795.9" cy="128" r="3.2"/><circle cx="780.3" cy="144.5" r="3.9"/><circle cx="791.8" cy="140.8" r="2.4"/><circle cx="796.2" cy="13.4" r="2.9"/><circle cx="781.9" cy="107.4" r="1.3"/><circle cx="642.5" cy="80.8" r="2.3"/><circle cx="660.6" cy="184.8" r="5.4"/><circle cx="796.8" cy="60.6" r="2"/><circle cx="779.7" cy="34.4" r="4.6"/><circle cx="785.6" cy="10.1" r="4.5"/><circle cx="679" cy="203.7" r="4.1"/><circle cx="637.7" cy="62.7" r="6.5"/><circle cx="733.3" cy="202.4" r="6.5"/><circle cx="787.6" cy="130.9" r="5.8"/><circle cx="814.2" cy="148.7" r="2.7"/><circle cx="752.2" cy="180.3" r="2.9"/><circle cx="627.9" cy="67.5" r="4.9"/><circle cx="749.2" cy="49.8" r="3.8"/><circle cx="633" cy="72.3" r="2.2"/><circle cx="693.1" cy="165.1" r="2"/><circle cx="662.7" cy="170.1" r="1.7"/><circle cx="808.4" cy="77.2" r="1.3"/><circle cx="671.1" cy="173.2" r="2.5"/><circle cx="868.7" cy="137.6" r="4.7"/><circle cx="653.8" cy="79.8" r="3.1"/><circle cx="684.8" cy="71.9" r="2.2"/><circle cx="834.9" cy="116.5" r="6.1"/><circle cx="857.5" cy="61.3" r="3.8"/><circle cx="816.8" cy="80.2" r="3.2"/><circle cx="791.9" cy="130.3" r="2"/><circle cx="836.2" cy="161.6" r="2.5"/><circle cx="786.9" cy="12.9" r="2.1"/></g><g fill="url(#c2)"><circle cx="800.8" cy="193.4" r="3.2"/><circle cx="643.8" cy="99.4" r="1.5"/><circle cx="794" cy="199.7" r="5"/><circle cx="743" cy="143.3" r="3.6"/><circle cx="657.6" cy="181.4" r="2.3"/><circle cx="770.7" cy="4.8" r="4.1"/><circle cx="732.2" cy="159.3" r="3.4"/><circle cx="748.4" cy="167.1" r="1.3"/><circle cx="802" cy="46.4" r="2"/><circle cx="796.3" cy="206.5" r="3.2"/><circle cx="776.5" cy="184.6" r="3.2"/><circle cx="713" cy="157" r="5.4"/><circle cx="735.7" cy="148" r="2.4"/><circle cx="831.1" cy="174" r="2"/><circle cx="630.7" cy="72.1" r="3.2"/><circle cx="861.7" cy="112" r="2.1"/><circle cx="769" cy="202.8" r="2.3"/><circle cx="858.8" cy="84.7" r="5.9"/><circle cx="796" cy="166.3" r="3.1"/><circle cx="647.6" cy="161.2" r="4.1"/><circle cx="819.6" cy="180.1" r="4.5"/><circle cx="850.3" cy="102.9" r="2.6"/><circle cx="722.6" cy="178.8" r="4"/><circle cx="626.9" cy="146.8" r="1.3"/><circle cx="844.6" cy="160.8" r="3.3"/><circle cx="825.8" cy="187.6" r="1.4"/><circle cx="666" cy="10.5" r="2.3"/><circle cx="633.3" cy="165" r="1.6"/><circle cx="712" cy="160.2" r="1.4"/><circle cx="727.9" cy="175.5" r="4.8"/><circle cx="787.7" cy="159.6" r="3"/><circle cx="824.3" cy="199.9" r="1.7"/><circle cx="772.5" cy="194.6" r="1.8"/><circle cx="662.4" cy="6.3" r="2.4"/><circle cx="667.2" cy="198.3" r="5.3"/><circle cx="674" cy="74.5" r="3"/><circle cx="701.4" cy="182.5" r="4.4"/><circle cx="645.4" cy="146.9" r="2.7"/><circle cx="724.6" cy="64.9" r="1.6"/><circle cx="672.6" cy="185.3" r="2.9"/><circle cx="702.2" cy="185" r="4"/><circle cx="864.1" cy="171.1" r="2.7"/><circle cx="732.3" cy="65.1" r="3.4"/><circle cx="869.6" cy="113" r="5.4"/><circle cx="732.9" cy="180.2" r="2.2"/><circle cx="686.4" cy="171.2" r="2.6"/><circle cx="768.4" cy="196.6" r="2.1"/><circle cx="693.8" cy="196.1" r="3"/><circle cx="688.6" cy="178.2" r="3"/><circle cx="748.7" cy="199.4" r="3.7"/><circle cx="816.5" cy="185.7" r="5.2"/><circle cx="858.3" cy="154.7" r="3.1"/><circle cx="638.2" cy="104.8" r="3"/><circle cx="619.8" cy="33" r="2.6"/><circle cx="684.8" cy="167.1" r="4.1"/><circle cx="863.5" cy="102.6" r="3.4"/><circle cx="665.3" cy="121.5" r="3.5"/><circle cx="753.7" cy="83.7" r="2.7"/><circle cx="762.6" cy="31.5" r="4.2"/><circle cx="675.6" cy="55.4" r="3.8"/><circle cx="622.2" cy="199.6" r="5.7"/><circle cx="680.8" cy="200.3" r="2.9"/><circle cx="800.2" cy="4.7" r="2.9"/><circle cx="701.4" cy="156.7" r="1.8"/><circle cx="777.2" cy="124.1" r="3.4"/><circle cx="755.7" cy="76.1" r="2.2"/><circle cx="747.6" cy="43.7" r="2.4"/><circle cx="716.8" cy="179.5" r="1.5"/><circle cx="808.2" cy="186.5" r="2.2"/><circle cx="774.7" cy="34.8" r="2.6"/><circle cx="783.6" cy="16.4" r="2.6"/><circle cx="709.9" cy="188.6" r="2.6"/><circle cx="711.5" cy="15.1" r="5.5"/><circle cx="855.1" cy="77.5" r="3.1"/><circle cx="753" cy="68.6" r="3.7"/><circle cx="792.3" cy="209.1" r="3.3"/><circle cx="629.8" cy="95.2" r="3"/><circle cx="625.3" cy="207" r="3.2"/><circle cx="810.6" cy="19.6" r="6.1"/><circle cx="812.4" cy="158.6" r="2.7"/><circle cx="627.3" cy="74.9" r="4.1"/><circle cx="817.9" cy="168.1" r="2"/><circle cx="628" cy="178" r="4.3"/><circle cx="709.1" cy="183.2" r="2.2"/><circle cx="760.9" cy="200.2" r="4.3"/><circle cx="687.7" cy="63.8" r="2.6"/><circle cx="760.5" cy="19.2" r="4.4"/><circle cx="764.3" cy="43.4" r="3.6"/><circle cx="623.9" cy="208.2" r="2.3"/><circle cx="685.5" cy="164.7" r="2.4"/><circle cx="797.4" cy="171.8" r="4.4"/><circle cx="754.8" cy="53.6" r="2.3"/><circle cx="776.6" cy="197.1" r="4.7"/><circle cx="750.1" cy="92.9" r="2.2"/><circle cx="758.5" cy="75.6" r="2.8"/><circle cx="848.8" cy="101.9" r="1.4"/><circle cx="744.8" cy="42.4" r="3.2"/><circle cx="705.1" cy="7.6" r="2.2"/><circle cx="781.5" cy="5.6" r="1.9"/><circle cx="710.5" cy="180.4" r="2.4"/><circle cx="832.4" cy="75" r="3.7"/><circle cx="742.8" cy="25.4" r="2.4"/><circle cx="652.6" cy="9.8" r="4"/><circle cx="686.2" cy="69.3" r="2.1"/><circle cx="783.1" cy="118.6" r="2.9"/><circle cx="675.7" cy="200.2" r="2.8"/><circle cx="767.4" cy="199.8" r="2.4"/><circle cx="811" cy="70.7" r="1.5"/><circle cx="854.6" cy="181.5" r="3.7"/><circle cx="817.5" cy="19.5" r="4.6"/><circle cx="700.5" cy="152" r="1.9"/><circle cx="741.1" cy="197.3" r="5.1"/><circle cx="798.5" cy="191" r="5"/><circle cx="800.6" cy="22.8" r="3.8"/><circle cx="821.7" cy="182.5" r="3.6"/><circle cx="745.4" cy="141.5" r="3.1"/><circle cx="758.1" cy="79.3" r="1.8"/><circle cx="759.3" cy="43.8" r="3.2"/><circle cx="668.9" cy="189.1" r="1.9"/><circle cx="837.1" cy="178.1" r="3.7"/><circle cx="848.1" cy="60.8" r="4.8"/><circle cx="772.1" cy="130.9" r="3.4"/><circle cx="851.6" cy="156.9" r="2.3"/><circle cx="797.9" cy="182.4" r="3.3"/><circle cx="740.5" cy="130.8" r="6.5"/><circle cx="682.5" cy="63.5" r="5.9"/><circle cx="752.2" cy="187.2" r="1.9"/><circle cx="851.6" cy="109.8" r="6.1"/><circle cx="823" cy="162.8" r="1.7"/><circle cx="673.2" cy="81.9" r="1.6"/><circle cx="738.5" cy="153.8" r="2.7"/><circle cx="638" cy="124.9" r="3.4"/><circle cx="696.5" cy="11.2" r="3.6"/><circle cx="808.5" cy="16.3" r="3.1"/><circle cx="728.5" cy="164.4" r="3.2"/><circle cx="674.4" cy="72.5" r="2"/><circle cx="861.9" cy="202.6" r="1.3"/><circle cx="788.3" cy="115.6" r="2.7"/><circle cx="658.5" cy="116.4" r="3.4"/><circle cx="694.2" cy="190" r="2.6"/><circle cx="729.8" cy="152" r="4.5"/><circle cx="758.3" cy="57" r="4.2"/><circle cx="631.4" cy="123.6" r="2.2"/><circle cx="708.4" cy="159.2" r="2.6"/><circle cx="786.4" cy="17.7" r="1.4"/><circle cx="870.5" cy="93.1" r="4.2"/><circle cx="867.2" cy="83" r="5.4"/><circle cx="704" cy="73.2" r="2.4"/><circle cx="796.8" cy="166.1" r="3.1"/><circle cx="766.2" cy="50.8" r="3.7"/><circle cx="730.5" cy="174.5" r="3"/><circle cx="740.8" cy="148.5" r="2.2"/><circle cx="849.8" cy="154.8" r="2.1"/><circle cx="765.5" cy="22.9" r="3.1"/><circle cx="820.4" cy="15.7" r="1.5"/><circle cx="760.8" cy="41.5" r="2.6"/><circle cx="773.1" cy="27.8" r="4.4"/><circle cx="800.1" cy="184.2" r="2.6"/><circle cx="763.8" cy="12.1" r="5.6"/><circle cx="796.1" cy="7.8" r="4.9"/><circle cx="870.9" cy="100.7" r="2.5"/><circle cx="805.9" cy="155.3" r="3.7"/><circle cx="848.8" cy="66.4" r="2.2"/><circle cx="827.1" cy="165.7" r="2"/><circle cx="620.3" cy="193.2" r="4.5"/><circle cx="708.5" cy="177.2" r="1.3"/><circle cx="774.1" cy="21.6" r="3.7"/><circle cx="747.4" cy="155.6" r="2.8"/><circle cx="681.5" cy="185.6" r="3.5"/><circle cx="668.1" cy="78.2" r="1.7"/><circle cx="722.4" cy="184.2" r="1.9"/><circle cx="729.2" cy="66.9" r="2.9"/><circle cx="623.3" cy="133.1" r="2.4"/><circle cx="776" cy="11.6" r="6"/><circle cx="620.2" cy="85.9" r="6.2"/><circle cx="740" cy="41.7" r="3.6"/><circle cx="851.2" cy="162.4" r="1.3"/><circle cx="840.3" cy="180.9" r="3.4"/><circle cx="751.4" cy="97.5" r="2.8"/><circle cx="714.3" cy="140.3" r="1.5"/><circle cx="723.3" cy="174.7" r="2.8"/><circle cx="776.1" cy="121" r="2.5"/><circle cx="805.8" cy="53" r="3.3"/><circle cx="757" cy="180.5" r="2.6"/><circle cx="727.6" cy="141.3" r="4.2"/><circle cx="714.1" cy="196.8" r="4"/><circle cx="812.1" cy="80.3" r="3.6"/><circle cx="847" cy="165.1" r="5.5"/><circle cx="715.2" cy="185.3" r="2.4"/><circle cx="861.2" cy="118.5" r="3.5"/><circle cx="824" cy="164.9" r="2.4"/><circle cx="826.1" cy="185.1" r="2.4"/><circle cx="648.6" cy="168.5" r="4.8"/><circle cx="788.7" cy="45.1" r="2.5"/><circle cx="655" cy="7" r="4.8"/><circle cx="772.6" cy="127.5" r="1.3"/><circle cx="871" cy="169" r="4.8"/><circle cx="814.4" cy="167.4" r="2.7"/><circle cx="853.5" cy="75.4" r="3.6"/><circle cx="806.4" cy="199.3" r="3.4"/><circle cx="700.8" cy="149.2" r="2.2"/><circle cx="630.7" cy="65.1" r="1.3"/><circle cx="851.7" cy="158.7" r="1.6"/><circle cx="766.4" cy="202.9" r="3.1"/><circle cx="749.2" cy="5.4" r="3.2"/><circle cx="773.6" cy="122.9" r="3.2"/><circle cx="771.8" cy="49.4" r="3.4"/><circle cx="809.5" cy="174.2" r="2.5"/><circle cx="645.6" cy="146.5" r="2.7"/><circle cx="793.2" cy="135.9" r="3.4"/><circle cx="723.5" cy="154.5" r="4.4"/><circle cx="727.1" cy="157.5" r="3.8"/><circle cx="729.6" cy="198.8" r="2"/><circle cx="669.4" cy="139.4" r="3.5"/><circle cx="676.3" cy="208.1" r="2.6"/><circle cx="709.4" cy="155.4" r="2.7"/><circle cx="625.9" cy="70.9" r="2"/><circle cx="725.7" cy="5.8" r="1.6"/><circle cx="808.5" cy="194.1" r="3"/><circle cx="763.2" cy="194.8" r="4.2"/><circle cx="642.7" cy="158.7" r="1.9"/><circle cx="696" cy="180.8" r="5.8"/><circle cx="691.6" cy="192.8" r="2.2"/><circle cx="765" cy="29.7" r="4.1"/><circle cx="705" cy="159.8" r="1.8"/><circle cx="727.5" cy="137.9" r="3.3"/><circle cx="772.8" cy="189" r="4.2"/><circle cx="641" cy="22.6" r="3.7"/><circle cx="802.4" cy="72.3" r="1.7"/><circle cx="868.1" cy="98.2" r="4.3"/><circle cx="807.4" cy="45.6" r="1.7"/><circle cx="845.6" cy="175.2" r="4.6"/><circle cx="842" cy="174.8" r="1.6"/><circle cx="772" cy="156.5" r="2.7"/><circle cx="684.1" cy="142.5" r="1.8"/><circle cx="753.3" cy="141.7" r="2.2"/><circle cx="800.3" cy="31" r="1.8"/><circle cx="731.2" cy="201.1" r="2.4"/><circle cx="784.7" cy="201.1" r="2.9"/><circle cx="661.8" cy="125" r="6.5"/><circle cx="810.9" cy="187.8" r="4"/><circle cx="803.7" cy="185.2" r="3.6"/><circle cx="657.2" cy="118.5" r="4.2"/><circle cx="639.6" cy="117.7" r="2.7"/><circle cx="716" cy="174.3" r="3.6"/><circle cx="731.5" cy="136.1" r="4.1"/><circle cx="753.4" cy="46.7" r="2.2"/><circle cx="640.7" cy="128.7" r="5"/><circle cx="776.5" cy="45.9" r="6.5"/><circle cx="657.5" cy="10" r="2.7"/><circle cx="734.7" cy="197.5" r="1.3"/><circle cx="650.9" cy="82.6" r="3.7"/><circle cx="804.7" cy="182.1" r="3.4"/><circle cx="848.4" cy="180.1" r="4.3"/><circle cx="815.9" cy="12" r="2.9"/><circle cx="770.9" cy="164.4" r="2.6"/><circle cx="817.9" cy="50.4" r="5.2"/><circle cx="774.9" cy="109.8" r="4.7"/><circle cx="634.5" cy="120.3" r="4.9"/><circle cx="754.8" cy="192.8" r="3.4"/><circle cx="695.9" cy="7.6" r="4.5"/><circle cx="748.8" cy="171.3" r="4.6"/><circle cx="624.6" cy="20.2" r="1.6"/><circle cx="861.8" cy="210" r="4.3"/><circle cx="833" cy="155.4" r="4.4"/><circle cx="772" cy="200.6" r="1.7"/><circle cx="867.5" cy="132.8" r="4.7"/><circle cx="645.4" cy="150.2" r="3.1"/><circle cx="865.4" cy="50.3" r="3.5"/><circle cx="714.4" cy="196.7" r="2.2"/><circle cx="651.2" cy="155.7" r="4.2"/><circle cx="786.8" cy="139.3" r="4.5"/><circle cx="684" cy="207.5" r="3"/><circle cx="634.6" cy="147.6" r="3.8"/><circle cx="636.4" cy="176.6" r="6.5"/><circle cx="767.7" cy="17.8" r="3.8"/><circle cx="620.4" cy="189.4" r="1.3"/><circle cx="796.6" cy="147.5" r="3.7"/><circle cx="745.2" cy="200.2" r="4.2"/><circle cx="817.7" cy="159.3" r="2.9"/><circle cx="865.7" cy="97.8" r="2.5"/><circle cx="725.6" cy="189.7" r="6.2"/><circle cx="769.7" cy="113.5" r="1.4"/><circle cx="765" cy="45.5" r="1.9"/><circle cx="677.5" cy="203.5" r="4.7"/><circle cx="677.8" cy="129.1" r="4.3"/><circle cx="684" cy="52.1" r="2.9"/><circle cx="806.9" cy="190.3" r="3.4"/><circle cx="806" cy="182.6" r="3.7"/><circle cx="620.1" cy="175.4" r="5.6"/><circle cx="701.4" cy="69.7" r="4.8"/><circle cx="776.5" cy="152.4" r="3"/><circle cx="708.3" cy="191.6" r="3.2"/><circle cx="689.4" cy="61.1" r="2.8"/><circle cx="624.4" cy="162.1" r="1.9"/><circle cx="787.4" cy="27.6" r="6.5"/><circle cx="852" cy="64.7" r="2.4"/><circle cx="808" cy="70.9" r="4.2"/><circle cx="653.6" cy="172.7" r="1.9"/><circle cx="809.4" cy="153.9" r="2.5"/><circle cx="799.1" cy="26.4" r="6"/><circle cx="694.4" cy="204" r="5"/><circle cx="832.7" cy="164.2" r="4.6"/><circle cx="746.3" cy="30" r="4.6"/><circle cx="654.1" cy="101.1" r="4.4"/><circle cx="750.5" cy="108.6" r="1.6"/><circle cx="693" cy="156.2" r="3.1"/><circle cx="820.9" cy="198.2" r="2.5"/><circle cx="846.2" cy="86.7" r="6.1"/><circle cx="676.6" cy="37.1" r="4.8"/><circle cx="674.1" cy="138.4" r="3.3"/><circle cx="865.3" cy="206.8" r="4.7"/><circle cx="795.1" cy="204.3" r="3.8"/><circle cx="657" cy="165.9" r="1.5"/><circle cx="781.7" cy="205.8" r="3.3"/><circle cx="663.6" cy="198.9" r="2.8"/><circle cx="651.1" cy="145" r="1.6"/><circle cx="619.9" cy="113.8" r="3.3"/><circle cx="670.9" cy="199.1" r="3.8"/><circle cx="853.6" cy="62.3" r="1.9"/><circle cx="709.3" cy="158.1" r="3.9"/><circle cx="670.9" cy="94.1" r="3.6"/><circle cx="841.6" cy="171.5" r="4.1"/><circle cx="653.5" cy="29.7" r="2.4"/></g><g fill="url(#c3)"><circle cx="866.6" cy="175.2" r="3.3"/><circle cx="850.8" cy="96.3" r="2.5"/><circle cx="777.9" cy="156.7" r="3.4"/><circle cx="770.4" cy="156.1" r="1.7"/><circle cx="804.1" cy="175.4" r="2.5"/><circle cx="704.4" cy="133.1" r="3.1"/><circle cx="643.8" cy="75.3" r="4.4"/><circle cx="743.8" cy="134.7" r="2"/><circle cx="719.7" cy="154.3" r="2.4"/><circle cx="640" cy="3.7" r="1.7"/><circle cx="763.9" cy="89.6" r="2.6"/><circle cx="862.9" cy="123.1" r="4.3"/><circle cx="761" cy="46.8" r="2.3"/><circle cx="768.5" cy="191.9" r="1.9"/><circle cx="734.1" cy="105.9" r="3.7"/><circle cx="802" cy="44.2" r="1.5"/><circle cx="855.9" cy="101.6" r="3"/><circle cx="737.7" cy="154.4" r="2.4"/><circle cx="662.8" cy="94.4" r="4.2"/><circle cx="687.1" cy="57.6" r="2"/><circle cx="762.5" cy="13" r="6.5"/><circle cx="790.4" cy="118.8" r="1.6"/><circle cx="825.6" cy="149.9" r="2.6"/><circle cx="643.7" cy="183.3" r="4.1"/><circle cx="736.6" cy="193.1" r="4.2"/><circle cx="728" cy="154.6" r="2.2"/><circle cx="757.2" cy="135.1" r="3.7"/><circle cx="651.5" cy="4.2" r="4.5"/><circle cx="822.6" cy="160.6" r="2.8"/><circle cx="851.5" cy="68.6" r="2.3"/><circle cx="722" cy="13.4" r="3"/><circle cx="785.8" cy="146.4" r="3.3"/><circle cx="743.3" cy="149.1" r="3.3"/><circle cx="777.9" cy="25.3" r="6.5"/><circle cx="726.4" cy="199.5" r="2.9"/><circle cx="677.9" cy="35.2" r="6"/><circle cx="747.3" cy="58.4" r="2.7"/><circle cx="619.8" cy="70.3" r="3.1"/><circle cx="825.1" cy="13.3" r="2.2"/><circle cx="816.2" cy="73.6" r="3.4"/><circle cx="796.8" cy="24.2" r="2.7"/><circle cx="815.3" cy="141.9" r="2.5"/><circle cx="776.3" cy="175.3" r="3.2"/><circle cx="822.7" cy="33" r="2.9"/><circle cx="665.7" cy="15.4" r="3.1"/><circle cx="818.9" cy="66.3" r="4.8"/><circle cx="847.9" cy="89.2" r="2.5"/><circle cx="752.7" cy="58.8" r="3.9"/><circle cx="654.6" cy="85.9" r="1.3"/><circle cx="704.5" cy="62.7" r="2.4"/><circle cx="814" cy="197.1" r="3"/><circle cx="767.2" cy="119" r="1.3"/><circle cx="828.8" cy="163.3" r="4.1"/><circle cx="752.6" cy="174.7" r="3.2"/><circle cx="649.7" cy="111.4" r="6"/><circle cx="806.4" cy="171.1" r="4.5"/><circle cx="785.4" cy="20.8" r="2.8"/><circle cx="698.5" cy="185.6" r="3.2"/><circle cx="759.7" cy="36" r="6.5"/><circle cx="791.3" cy="9.2" r="4.2"/><circle cx="735" cy="71.4" r="4.9"/><circle cx="741.3" cy="134.7" r="2.8"/><circle cx="720.2" cy="192.4" r="3.1"/><circle cx="817.7" cy="57.6" r="2.9"/><circle cx="759" cy="115.4" r="1.9"/><circle cx="694.1" cy="170.2" r="2.7"/><circle cx="786" cy="182.6" r="2.1"/><circle cx="826.6" cy="68.5" r="1.8"/><circle cx="675.7" cy="174.4" r="2.9"/><circle cx="869.4" cy="175.8" r="3.1"/><circle cx="794.8" cy="9.1" r="2.2"/><circle cx="723.1" cy="14.9" r="1.3"/><circle cx="680.3" cy="164.6" r="3.6"/><circle cx="802.3" cy="52.4" r="4"/><circle cx="804.6" cy="52.3" r="3.6"/><circle cx="765.6" cy="156.6" r="3.3"/><circle cx="812.9" cy="33.3" r="4.1"/><circle cx="661.8" cy="11" r="3.7"/><circle cx="834.1" cy="60" r="2"/><circle cx="866.6" cy="108.2" r="5.2"/><circle cx="673.7" cy="15.9" r="4.1"/><circle cx="628.3" cy="36" r="6.5"/><circle cx="641.4" cy="154" r="5.4"/><circle cx="773.8" cy="14.8" r="2.9"/><circle cx="767.1" cy="129.5" r="6.5"/><circle cx="772.3" cy="204.4" r="4.1"/><circle cx="694.8" cy="49.5" r="2.4"/><circle cx="747.4" cy="136.9" r="2.6"/><circle cx="743.5" cy="33.6" r="3"/><circle cx="798.3" cy="194.6" r="4.6"/><circle cx="692.9" cy="58.3" r="3.2"/><circle cx="747.9" cy="49" r="3.2"/><circle cx="786.9" cy="177.7" r="2.6"/><circle cx="866" cy="46.8" r="3.4"/><circle cx="865.2" cy="153.6" r="1.4"/><circle cx="796.3" cy="27.6" r="3.6"/><circle cx="636" cy="96.2" r="3.4"/><circle cx="716.8" cy="199.5" r="4.1"/><circle cx="813.1" cy="44.1" r="2.1"/><circle cx="623.4" cy="67" r="3"/><circle cx="745.6" cy="129.8" r="4.5"/><circle cx="854.4" cy="71.6" r="3"/><circle cx="639.5" cy="144.8" r="4.4"/><circle cx="862.1" cy="53.9" r="4.6"/><circle cx="754.9" cy="7.1" r="3.5"/><circle cx="700.2" cy="7.2" r="2.8"/><circle cx="665" cy="86.7" r="3.9"/><circle cx="808.9" cy="67.9" r="3.9"/><circle cx="768.1" cy="128.8" r="3.8"/><circle cx="849.3" cy="104.5" r="2.1"/><circle cx="705.8" cy="150.9" r="3.3"/><circle cx="820.5" cy="184.3" r="2.1"/><circle cx="870.6" cy="135.7" r="3.6"/><circle cx="837.8" cy="145.2" r="4.6"/><circle cx="656.1" cy="27.9" r="1.7"/><circle cx="775.2" cy="105.4" r="4.9"/><circle cx="631" cy="182.1" r="5"/><circle cx="750.2" cy="74.6" r="5.1"/><circle cx="822.3" cy="68.6" r="2.4"/><circle cx="658.5" cy="104" r="4.7"/><circle cx="672.1" cy="204" r="2.1"/><circle cx="768.8" cy="79.7" r="3.3"/><circle cx="794.1" cy="185" r="1.8"/><circle cx="823.2" cy="81" r="5.1"/><circle cx="796.2" cy="62.4" r="2"/><circle cx="624.1" cy="191.6" r="3.2"/><circle cx="716.2" cy="143.2" r="2.2"/><circle cx="863.7" cy="117.7" r="2.9"/><circle cx="675.4" cy="144.2" r="4.3"/><circle cx="864.9" cy="87.5" r="2.4"/><circle cx="638.1" cy="173.4" r="2.6"/><circle cx="686.4" cy="80.1" r="1.9"/><circle cx="775.9" cy="193" r="3.3"/><circle cx="745.7" cy="110.6" r="3.1"/><circle cx="633.6" cy="115.8" r="2.4"/><circle cx="741.7" cy="159.9" r="2.7"/><circle cx="729.7" cy="128.6" r="3.7"/><circle cx="748.1" cy="51.7" r="2.9"/><circle cx="804" cy="193.9" r="1.4"/><circle cx="697.8" cy="17.2" r="3.7"/><circle cx="678.5" cy="48.5" r="2.8"/><circle cx="795.8" cy="111.2" r="1.8"/><circle cx="853.2" cy="74.4" r="2.7"/><circle cx="725.3" cy="123.1" r="3"/><circle cx="736.8" cy="110" r="2.4"/><circle cx="778.3" cy="203" r="2.6"/><circle cx="863.3" cy="120" r="3.6"/><circle cx="764.1" cy="58.2" r="5.5"/><circle cx="648.8" cy="103.7" r="3.4"/><circle cx="853.9" cy="160.4" r="3.3"/><circle cx="785.5" cy="113.4" r="2.6"/><circle cx="733.7" cy="166.2" r="5.6"/><circle cx="792.4" cy="146.7" r="6.5"/><circle cx="734.6" cy="74.2" r="3"/><circle cx="672.2" cy="170" r="3.8"/><circle cx="685.9" cy="141.9" r="1.5"/><circle cx="839.7" cy="86.3" r="2"/><circle cx="647.8" cy="114.9" r="2.8"/><circle cx="750.5" cy="100.3" r="2.3"/><circle cx="855" cy="67" r="2.2"/><circle cx="632" cy="154.2" r="3.7"/><circle cx="777.1" cy="8" r="3.1"/><circle cx="675.4" cy="10.1" r="2.6"/><circle cx="802.1" cy="144" r="2.5"/><circle cx="742" cy="47.1" r="2.8"/><circle cx="619.5" cy="145.4" r="4.3"/><circle cx="654.4" cy="11.9" r="4.5"/><circle cx="845.8" cy="74.5" r="4"/><circle cx="664.5" cy="189" r="3.5"/><circle cx="641.4" cy="97.5" r="2.6"/><circle cx="670.4" cy="202.9" r="3.2"/><circle cx="781.2" cy="182.9" r="2.1"/><circle cx="863.5" cy="38.5" r="1.6"/><circle cx="665.7" cy="207.5" r="3.6"/><circle cx="648.1" cy="152.6" r="2.5"/><circle cx="673.7" cy="134.4" r="2.5"/><circle cx="766.8" cy="188.8" r="4"/><circle cx="755.1" cy="3.4" r="1.9"/><circle cx="800.4" cy="197.1" r="4"/><circle cx="852.8" cy="125.8" r="2.9"/><circle cx="756.9" cy="56" r="2.7"/><circle cx="798.6" cy="137.5" r="2.6"/><circle cx="630.1" cy="158.7" r="4.1"/><circle cx="643.9" cy="72.1" r="1.5"/><circle cx="671.1" cy="52.3" r="3.9"/><circle cx="774.5" cy="13" r="1.9"/><circle cx="643" cy="91.3" r="2.9"/><circle cx="796.8" cy="201.8" r="4.7"/><circle cx="841.8" cy="87.3" r="2.7"/><circle cx="696.8" cy="160.9" r="2.4"/><circle cx="798" cy="149.7" r="1.9"/><circle cx="681.3" cy="143.6" r="3"/><circle cx="843.6" cy="103.7" r="4.9"/><circle cx="855" cy="167.9" r="5.7"/><circle cx="660.3" cy="109.4" r="3.8"/><circle cx="691.3" cy="187.9" r="2.5"/><circle cx="728.9" cy="137.9" r="1.3"/><circle cx="778.2" cy="140.8" r="4.9"/><circle cx="802.8" cy="53.6" r="2.1"/><circle cx="626.9" cy="17.9" r="1.4"/><circle cx="724.9" cy="132.6" r="6.5"/><circle cx="713.3" cy="180.7" r="2.2"/><circle cx="757.3" cy="150.4" r="2.9"/><circle cx="628.3" cy="177.6" r="3.7"/><circle cx="830.3" cy="66.3" r="3.9"/><circle cx="792.2" cy="204.9" r="1.3"/><circle cx="781.3" cy="9.6" r="1.7"/><circle cx="626.2" cy="188" r="2.4"/><circle cx="728.4" cy="152.1" r="3.1"/><circle cx="669.6" cy="8" r="4.8"/><circle cx="713.5" cy="143.7" r="2.1"/><circle cx="750.9" cy="70.7" r="3.1"/><circle cx="867.6" cy="79.3" r="1.6"/><circle cx="816.8" cy="8.9" r="5.5"/><circle cx="797.8" cy="36.2" r="1.5"/><circle cx="650.9" cy="112.5" r="1.6"/><circle cx="762.6" cy="189.5" r="3.4"/><circle cx="764.9" cy="41.1" r="2.5"/><circle cx="859" cy="122.9" r="3.3"/><circle cx="767.6" cy="115.9" r="2.8"/><circle cx="774.6" cy="158.3" r="2.8"/><circle cx="784.8" cy="184.8" r="1.6"/><circle cx="650.6" cy="27.7" r="2.6"/><circle cx="627.5" cy="92.8" r="3.7"/><circle cx="785.4" cy="205.5" r="2.4"/><circle cx="802.9" cy="190.6" r="3.3"/><circle cx="674" cy="209.3" r="1.9"/><circle cx="721.6" cy="11.8" r="3.8"/><circle cx="818.6" cy="53.6" r="1.6"/><circle cx="708.5" cy="71.2" r="3.6"/><circle cx="796.7" cy="39" r="3.4"/><circle cx="722.7" cy="83.7" r="4"/><circle cx="774.8" cy="53.9" r="5.5"/><circle cx="700.5" cy="57.5" r="3.1"/><circle cx="828.7" cy="72.5" r="4.3"/><circle cx="652.2" cy="162.6" r="2.6"/><circle cx="787.4" cy="99.6" r="3"/><circle cx="760.6" cy="144.4" r="4.8"/><circle cx="762.4" cy="30.5" r="1.3"/><circle cx="710.7" cy="164.7" r="5"/><circle cx="756.3" cy="196.3" r="2.5"/><circle cx="667.2" cy="5.8" r="1.3"/><circle cx="752" cy="138.2" r="4.5"/><circle cx="678.4" cy="9" r="4.5"/><circle cx="838.2" cy="195" r="2.8"/><circle cx="656.2" cy="127.5" r="3.9"/><circle cx="738.1" cy="143.3" r="2.9"/><circle cx="754.1" cy="155.7" r="3.1"/><circle cx="825.8" cy="121.7" r="3.3"/><circle cx="829.5" cy="166.9" r="4"/><circle cx="693.8" cy="8.4" r="2.6"/><circle cx="819.7" cy="73.7" r="2.5"/><circle cx="724.7" cy="133.7" r="2.7"/><circle cx="779" cy="138" r="3.1"/><circle cx="815.6" cy="28.7" r="6.5"/><circle cx="857.9" cy="54.7" r="2.8"/><circle cx="818" cy="207.4" r="3"/><circle cx="624.1" cy="40.3" r="3.4"/><circle cx="849.2" cy="84.5" r="1.9"/><circle cx="791.2" cy="25.2" r="1.8"/><circle cx="689.9" cy="191.5" r="2.3"/><circle cx="807.8" cy="204" r="3.5"/><circle cx="724.5" cy="183.6" r="2.7"/><circle cx="826" cy="150.7" r="3.2"/><circle cx="711.2" cy="80.2" r="5.8"/><circle cx="805.4" cy="27.4" r="3.4"/><circle cx="649.2" cy="134.1" r="4.1"/><circle cx="719.9" cy="197.4" r="5.5"/><circle cx="738.7" cy="151.2" r="5.2"/><circle cx="856.6" cy="159.6" r="3"/><circle cx="766.4" cy="40.9" r="3.6"/><circle cx="658.4" cy="176.8" r="2.7"/><circle cx="764.2" cy="117.3" r="3.2"/><circle cx="747.9" cy="122.7" r="2"/><circle cx="703.5" cy="161.9" r="3"/><circle cx="826.1" cy="179.6" r="3.6"/><circle cx="773.3" cy="136" r="3.5"/><circle cx="779.4" cy="186.8" r="5.4"/><circle cx="812.3" cy="36.2" r="6.2"/><circle cx="769.2" cy="12.1" r="6.5"/><circle cx="681.8" cy="8" r="6.1"/><circle cx="823.3" cy="146.1" r="5.4"/><circle cx="654.8" cy="90.9" r="4.6"/><circle cx="802.2" cy="85" r="1.5"/><circle cx="825" cy="80.7" r="2"/><circle cx="731.3" cy="140.5" r="4"/><circle cx="802.4" cy="38.9" r="3"/><circle cx="853.5" cy="121.4" r="3.4"/><circle cx="661.5" cy="14.7" r="4.7"/><circle cx="682.1" cy="39.6" r="5.9"/><circle cx="690.1" cy="181.2" r="1.6"/><circle cx="838.1" cy="185.6" r="2.5"/><circle cx="801.4" cy="141.8" r="3.9"/><circle cx="870.4" cy="76.3" r="2.2"/><circle cx="765.8" cy="104.4" r="2.4"/><circle cx="779.7" cy="33.8" r="4.8"/><circle cx="659.6" cy="118.8" r="5.2"/><circle cx="621.4" cy="95.6" r="3.1"/><circle cx="759.5" cy="121.3" r="4.2"/><circle cx="793.3" cy="61" r="2.7"/><circle cx="687.3" cy="159.1" r="6.5"/><circle cx="644.2" cy="116.2" r="3.5"/><circle cx="718.5" cy="193.2" r="2"/><circle cx="814.1" cy="77.8" r="5.1"/><circle cx="807" cy="206.5" r="2.6"/><circle cx="714.8" cy="165.8" r="2.8"/><circle cx="671.2" cy="14.8" r="6.5"/><circle cx="801.8" cy="144.9" r="2.6"/><circle cx="742.1" cy="38.5" r="2"/><circle cx="802.4" cy="81.4" r="2.5"/><circle cx="628.6" cy="173.2" r="2.1"/><circle cx="662.4" cy="166" r="1.9"/><circle cx="784.1" cy="52.9" r="5.4"/><circle cx="666.4" cy="62.7" r="3"/><circle cx="839.5" cy="178.7" r="2.7"/><circle cx="680.1" cy="35.4" r="3.7"/><circle cx="820.7" cy="202.8" r="4.9"/><circle cx="781.8" cy="163.6" r="3.3"/><circle cx="807.3" cy="161" r="4.2"/><circle cx="677.9" cy="26.4" r="3.4"/><circle cx="814.4" cy="11.6" r="1.3"/><circle cx="726.3" cy="81.1" r="3.6"/><circle cx="759" cy="204.7" r="1.6"/><circle cx="730.7" cy="203.3" r="2.7"/><circle cx="714.2" cy="66.5" r="4"/><circle cx="753.3" cy="31" r="1.9"/><circle cx="750.8" cy="139.4" r="3"/><circle cx="745.8" cy="137.2" r="1.8"/><circle cx="662.9" cy="20" r="2.6"/><circle cx="798.9" cy="65.6" r="2.2"/><circle cx="802.9" cy="89.3" r="2.6"/><circle cx="789.4" cy="193.4" r="2.1"/><circle cx="806.5" cy="72.8" r="2.3"/><circle cx="751" cy="198.2" r="2.1"/><circle cx="795.1" cy="42.3" r="3.5"/><circle cx="759.6" cy="180.7" r="3.1"/><circle cx="628.8" cy="100.9" r="2.9"/><circle cx="755.5" cy="173.4" r="5.7"/><circle cx="782.4" cy="160.8" r="2.4"/><circle cx="762.4" cy="122.8" r="3.9"/><circle cx="668.5" cy="110.4" r="3.1"/><circle cx="787.4" cy="191.8" r="2"/><circle cx="790.2" cy="191.5" r="2.4"/><circle cx="779.6" cy="143.6" r="3.3"/><circle cx="786.4" cy="189.4" r="2.3"/><circle cx="750.9" cy="52.1" r="3.2"/><circle cx="686.9" cy="156.2" r="4.7"/><circle cx="719.6" cy="188.1" r="3.3"/><circle cx="631.5" cy="69.4" r="3.9"/><circle cx="769.7" cy="185.4" r="3.1"/><circle cx="782.8" cy="98.9" r="3.7"/><circle cx="846" cy="103.3" r="1.3"/><circle cx="653.4" cy="13.5" r="1.9"/><circle cx="696.5" cy="138.1" r="4.8"/><circle cx="724.6" cy="87.5" r="2"/><circle cx="703" cy="18.7" r="1.6"/><circle cx="731.2" cy="72" r="4.2"/><circle cx="688.9" cy="12.3" r="4.3"/><circle cx="623" cy="191.8" r="2.9"/><circle cx="815" cy="63.7" r="4.8"/><circle cx="789.8" cy="111.9" r="3.1"/><circle cx="840.9" cy="153.3" r="3.1"/><circle cx="789.2" cy="20.3" r="3.2"/><circle cx="711.3" cy="67.6" r="3"/><circle cx="853" cy="80.8" r="5.1"/><circle cx="745.8" cy="49.6" r="2.7"/><circle cx="866.1" cy="120.5" r="2.5"/><circle cx="800.3" cy="39.5" r="3"/><circle cx="655.5" cy="119.1" r="3.8"/><circle cx="795.2" cy="183.3" r="3.5"/><circle cx="623.2" cy="166.4" r="3.4"/><circle cx="802.7" cy="10.8" r="3"/><circle cx="744.5" cy="52.7" r="1.7"/><circle cx="860" cy="102" r="3"/><circle cx="741.3" cy="97.3" r="3.3"/><circle cx="682.3" cy="146.5" r="2.1"/><circle cx="842.2" cy="87.4" r="2.8"/><circle cx="652.6" cy="167.4" r="5.6"/><circle cx="707" cy="137.4" r="4.6"/><circle cx="749.5" cy="9.1" r="3.3"/><circle cx="760.8" cy="84.1" r="2"/><circle cx="663.8" cy="162.1" r="2.7"/><circle cx="758.4" cy="137.4" r="2.2"/><circle cx="706.9" cy="9.3" r="3.8"/><circle cx="674.8" cy="5.7" r="2.3"/><circle cx="773.9" cy="206.5" r="3.7"/><circle cx="644.2" cy="94.9" r="2.3"/><circle cx="760.9" cy="162.4" r="2.2"/><circle cx="707.7" cy="162.4" r="2.8"/><circle cx="800.8" cy="33.2" r="2.2"/></g><g fill="url(#c4)"><circle cx="625.7" cy="153.9" r="6.3"/><circle cx="682.2" cy="66.5" r="2.7"/><circle cx="665.1" cy="117.5" r="1.3"/><circle cx="663.6" cy="140.6" r="4.8"/><circle cx="619.5" cy="6" r="2.4"/><circle cx="646.4" cy="82.9" r="5.5"/><circle cx="806.5" cy="163.2" r="1.9"/><circle cx="735.7" cy="142.9" r="2.6"/><circle cx="639.8" cy="94.3" r="3.3"/><circle cx="707.2" cy="58.1" r="2.9"/><circle cx="704.5" cy="76.6" r="2.5"/><circle cx="753.1" cy="55.6" r="2.7"/><circle cx="837.1" cy="198.4" r="1.7"/><circle cx="748.9" cy="64.8" r="3.1"/><circle cx="810.1" cy="75.6" r="2.6"/><circle cx="715.3" cy="67.9" r="2.8"/><circle cx="733.4" cy="154.3" r="5.3"/><circle cx="707.7" cy="23.6" r="3.9"/><circle cx="777.4" cy="53.7" r="1.3"/><circle cx="780.3" cy="40.6" r="3.8"/><circle cx="805.4" cy="178.2" r="2.5"/><circle cx="756.6" cy="21.6" r="2.3"/><circle cx="745.6" cy="124.6" r="2"/><circle cx="769.6" cy="10.5" r="2.8"/><circle cx="852.8" cy="199.4" r="3.3"/><circle cx="685.3" cy="150.8" r="6.5"/><circle cx="651.1" cy="141.5" r="3.1"/><circle cx="864.8" cy="195.8" r="2.4"/><circle cx="678.1" cy="148.4" r="4.9"/><circle cx="811.9" cy="37.3" r="1.9"/><circle cx="804.1" cy="87.7" r="2.4"/><circle cx="766.7" cy="16.6" r="2.8"/><circle cx="701.8" cy="149.7" r="2.5"/><circle cx="720" cy="146.4" r="6"/><circle cx="620.7" cy="147.6" r="3.7"/><circle cx="831.2" cy="155.1" r="2.3"/><circle cx="858.4" cy="120" r="3.4"/><circle cx="865.9" cy="56.2" r="3.6"/><circle cx="714.4" cy="72.2" r="1.3"/><circle cx="775.1" cy="196.3" r="2.1"/><circle cx="619.3" cy="149.3" r="3.4"/><circle cx="689.4" cy="173.6" r="3"/><circle cx="831.5" cy="10.1" r="4.8"/><circle cx="725.2" cy="10.3" r="1.7"/><circle cx="660.3" cy="120.8" r="1.5"/><circle cx="815.8" cy="43" r="4"/><circle cx="754" cy="65.1" r="2.4"/><circle cx="801" cy="162.9" r="1.9"/><circle cx="822.8" cy="29.5" r="3.1"/><circle cx="685.7" cy="138.5" r="2.3"/><circle cx="666.5" cy="172.4" r="4.2"/><circle cx="804" cy="197.9" r="2.6"/><circle cx="758.5" cy="4.7" r="3.8"/><circle cx="797.6" cy="71" r="1.9"/><circle cx="761.2" cy="113.8" r="4.4"/><circle cx="695.8" cy="144.6" r="4.7"/><circle cx="724.6" cy="21.5" r="2.2"/><circle cx="692.7" cy="69.8" r="6.5"/><circle cx="821.9" cy="18.8" r="2.6"/><circle cx="802.9" cy="208.2" r="4.5"/><circle cx="703.5" cy="15" r="3.3"/><circle cx="650.2" cy="15" r="2.6"/><circle cx="735.6" cy="22.4" r="2.5"/><circle cx="712.3" cy="74" r="3.1"/><circle cx="833.9" cy="67.5" r="2"/><circle cx="648.1" cy="7.4" r="2.8"/><circle cx="689.5" cy="200.5" r="4.8"/><circle cx="767.5" cy="59.1" r="1.9"/><circle cx="847.1" cy="105.9" r="2"/><circle cx="803.9" cy="78.8" r="2.5"/><circle cx="760.4" cy="23.2" r="4.2"/><circle cx="815.6" cy="83.4" r="2.7"/><circle cx="785.3" cy="8.5" r="5"/><circle cx="672.6" cy="163.9" r="3.3"/><circle cx="690.2" cy="207.1" r="2.9"/><circle cx="730.4" cy="21.2" r="1.8"/><circle cx="637.4" cy="93.2" r="2"/><circle cx="738.2" cy="125.3" r="6.5"/><circle cx="631.5" cy="160.6" r="2.8"/><circle cx="801.5" cy="136.9" r="2.1"/><circle cx="681.4" cy="160.4" r="3"/><circle cx="707.4" cy="196" r="4.6"/><circle cx="735.6" cy="132.4" r="6.5"/><circle cx="662.9" cy="122.9" r="2.6"/><circle cx="867.2" cy="112.9" r="3.9"/><circle cx="724.7" cy="84.2" r="3"/><circle cx="771.2" cy="171.1" r="3.5"/><circle cx="698.6" cy="65.5" r="3.4"/><circle cx="830.6" cy="188.9" r="2.9"/><circle cx="710.1" cy="162.8" r="2.9"/><circle cx="765.8" cy="144.3" r="5.4"/><circle cx="716.3" cy="138" r="3.6"/><circle cx="694.1" cy="107.4" r="3.9"/><circle cx="630" cy="171.4" r="2.5"/><circle cx="686.2" cy="148.4" r="2.9"/><circle cx="649.4" cy="164.9" r="3.8"/><circle cx="817.7" cy="68.6" r="3.2"/><circle cx="649" cy="159.1" r="3.2"/><circle cx="707.7" cy="61.8" r="1.6"/><circle cx="847.6" cy="201.8" r="2.8"/><circle cx="636.7" cy="51.5" r="3.9"/><circle cx="823.7" cy="55.9" r="1.5"/><circle cx="748.9" cy="105.5" r="3.3"/><circle cx="670.3" cy="82.3" r="3.7"/><circle cx="720.9" cy="76.4" r="3.8"/><circle cx="822.7" cy="79.8" r="2.5"/><circle cx="666.1" cy="122.1" r="2.8"/><circle cx="670.5" cy="167" r="2.2"/><circle cx="653.9" cy="141.1" r="3.7"/><circle cx="779.9" cy="100.3" r="1.9"/><circle cx="627.8" cy="110.5" r="5.1"/><circle cx="705.6" cy="177.7" r="2.4"/><circle cx="833.1" cy="160.8" r="2.8"/><circle cx="776.5" cy="39.5" r="4"/><circle cx="802.8" cy="190.6" r="2.1"/><circle cx="658.5" cy="8.1" r="2"/><circle cx="838.6" cy="124.9" r="3"/><circle cx="850.6" cy="11.1" r="3.6"/><circle cx="668.4" cy="52.5" r="2.8"/><circle cx="622.8" cy="142.7" r="5.8"/><circle cx="669.7" cy="66.9" r="5.8"/><circle cx="663.6" cy="23.8" r="3.9"/><circle cx="807.3" cy="9.1" r="5.2"/><circle cx="686.9" cy="209.5" r="1.6"/><circle cx="776.4" cy="157.3" r="1.7"/><circle cx="678.5" cy="63.7" r="3.7"/><circle cx="695.6" cy="59.1" r="4.8"/><circle cx="820.6" cy="84.8" r="2.9"/><circle cx="818.3" cy="62.4" r="3.2"/><circle cx="844.8" cy="57.1" r="1.3"/><circle cx="781.3" cy="178" r="3.6"/><circle cx="768" cy="138.7" r="6.5"/><circle cx="775.7" cy="49.1" r="3.2"/><circle cx="800.2" cy="78.9" r="3.3"/><circle cx="780.1" cy="150.9" r="4.5"/><circle cx="789.5" cy="49.4" r="6.5"/><circle cx="653.6" cy="3.8" r="4.7"/><circle cx="707.5" cy="188.6" r="3.9"/><circle cx="640.4" cy="184.3" r="2.5"/><circle cx="793.2" cy="64.4" r="3.4"/><circle cx="661.3" cy="132" r="6.1"/><circle cx="757" cy="79.9" r="2.9"/><circle cx="790.5" cy="206.6" r="2.4"/><circle cx="836.7" cy="187.3" r="3.4"/><circle cx="799.8" cy="81.6" r="2.4"/><circle cx="645.8" cy="98.8" r="1.6"/><circle cx="837.4" cy="80.1" r="4.3"/><circle cx="679.6" cy="199.2" r="3.2"/><circle cx="650.7" cy="74.9" r="2.6"/><circle cx="630.5" cy="55.6" r="4.8"/><circle cx="814.4" cy="71.7" r="2.8"/><circle cx="625.4" cy="175.2" r="3.2"/><circle cx="853.5" cy="55.1" r="2"/><circle cx="717.7" cy="148.3" r="1.6"/><circle cx="624.4" cy="19.2" r="2.4"/><circle cx="666.9" cy="84.4" r="1.9"/><circle cx="855.5" cy="56.8" r="1.3"/><circle cx="809.5" cy="34.1" r="3.3"/><circle cx="870" cy="113" r="2.7"/><circle cx="675.2" cy="61" r="1.3"/><circle cx="641.1" cy="145.3" r="3.6"/><circle cx="755.1" cy="169.6" r="1.8"/><circle cx="655.9" cy="16.1" r="2.8"/><circle cx="759.9" cy="208.7" r="2.5"/><circle cx="691.9" cy="151.3" r="3.6"/><circle cx="767.3" cy="147.8" r="3.9"/><circle cx="625.9" cy="185.6" r="1.3"/><circle cx="780" cy="86" r="1.3"/><circle cx="686.2" cy="176" r="3.9"/><circle cx="774.2" cy="40.4" r="2.4"/><circle cx="638.3" cy="177.8" r="6.2"/><circle cx="649.8" cy="74.5" r="1.8"/><circle cx="791.4" cy="54.3" r="4.4"/><circle cx="647" cy="79.8" r="4.3"/><circle cx="676" cy="15.6" r="4.2"/><circle cx="661.1" cy="126.7" r="2.3"/><circle cx="753.4" cy="20.6" r="3.1"/><circle cx="674" cy="161.6" r="3.7"/><circle cx="770.7" cy="74.3" r="3.4"/><circle cx="649.4" cy="86.6" r="5.6"/><circle cx="846.4" cy="160" r="2.3"/><circle cx="659.2" cy="112.7" r="3.7"/><circle cx="809.8" cy="200.9" r="2.5"/><circle cx="794.8" cy="21.2" r="2.6"/><circle cx="829.1" cy="64.2" r="4.7"/><circle cx="860.7" cy="179.6" r="3.7"/><circle cx="675.6" cy="130" r="1.4"/><circle cx="657.9" cy="170.7" r="4.5"/><circle cx="854" cy="71.3" r="3.1"/><circle cx="665.7" cy="20.4" r="1.5"/><circle cx="820.9" cy="205.7" r="2.8"/><circle cx="805.8" cy="40.3" r="2.3"/><circle cx="650.9" cy="121.4" r="3.6"/><circle cx="709.7" cy="171.1" r="6.5"/><circle cx="833.1" cy="83.5" r="1.3"/><circle cx="634.2" cy="91.2" r="2.4"/><circle cx="699.3" cy="184.6" r="1.3"/><circle cx="653.4" cy="111.6" r="3"/><circle cx="837.8" cy="70.9" r="3.2"/><circle cx="759.9" cy="153.1" r="1.8"/><circle cx="856.2" cy="198.3" r="2.3"/><circle cx="621.7" cy="164.7" r="2.4"/><circle cx="643.4" cy="114.8" r="2.3"/><circle cx="687.4" cy="5.5" r="4.7"/><circle cx="781.5" cy="47.8" r="5.1"/><circle cx="693.1" cy="49.2" r="1.8"/><circle cx="748.8" cy="176.7" r="3.4"/><circle cx="731.4" cy="94.7" r="1.7"/><circle cx="637.8" cy="173.4" r="2.7"/><circle cx="650.6" cy="103.2" r="1.4"/><circle cx="672.1" cy="95.8" r="2.1"/><circle cx="843" cy="186.5" r="3.1"/><circle cx="861.9" cy="115.1" r="4.8"/><circle cx="642.2" cy="112.2" r="1.3"/><circle cx="748.6" cy="110.6" r="2.4"/><circle cx="807.9" cy="51.4" r="1.8"/><circle cx="644.2" cy="118.3" r="3.6"/><circle cx="754.6" cy="23" r="2.7"/><circle cx="807" cy="35.5" r="2.2"/><circle cx="645" cy="15.3" r="3.7"/><circle cx="824.1" cy="126.3" r="3.6"/><circle cx="646.7" cy="9.3" r="2.1"/><circle cx="756.8" cy="27.6" r="3"/><circle cx="812" cy="86.1" r="2.3"/><circle cx="781.9" cy="19.9" r="2"/><circle cx="696.9" cy="160.5" r="2.6"/><circle cx="793.3" cy="71.9" r="4.2"/><circle cx="794.1" cy="207.7" r="1.8"/><circle cx="854.1" cy="118.6" r="3.4"/><circle cx="670.8" cy="13.7" r="4.8"/><circle cx="763.1" cy="132.5" r="4.7"/><circle cx="797.7" cy="140.3" r="1.6"/><circle cx="739.6" cy="74.4" r="6.5"/><circle cx="837.1" cy="164.3" r="1.3"/><circle cx="702.7" cy="16.3" r="3.1"/><circle cx="776.3" cy="201.7" r="2.5"/><circle cx="824.2" cy="119.4" r="2.2"/><circle cx="817.9" cy="44.4" r="3.2"/><circle cx="830.4" cy="6.2" r="4.6"/><circle cx="799.5" cy="146.2" r="3.6"/><circle cx="855.1" cy="152.6" r="5.8"/><circle cx="623.2" cy="71.2" r="1.7"/><circle cx="655.9" cy="164.5" r="3.1"/><circle cx="845" cy="115.2" r="2"/><circle cx="627.6" cy="39.2" r="2.9"/><circle cx="688" cy="166" r="1.5"/><circle cx="695.7" cy="148.8" r="5.2"/><circle cx="822.1" cy="155.5" r="2.4"/><circle cx="667.1" cy="70.6" r="3.5"/><circle cx="821.4" cy="51" r="2.3"/><circle cx="867.6" cy="160.8" r="4.3"/><circle cx="793.5" cy="95.2" r="2.8"/><circle cx="657" cy="14" r="3.2"/><circle cx="750.6" cy="159.6" r="3.1"/><circle cx="765.8" cy="68.7" r="5.2"/><circle cx="685.4" cy="48" r="4.7"/><circle cx="860.5" cy="204.5" r="3.1"/><circle cx="793" cy="206.3" r="2.2"/><circle cx="701.2" cy="145.8" r="4.5"/><circle cx="816.7" cy="32" r="3.9"/><circle cx="791.5" cy="71.6" r="2.4"/><circle cx="715.3" cy="16.4" r="2.8"/><circle cx="688" cy="73.8" r="3.2"/><circle cx="742.5" cy="93.9" r="3"/><circle cx="680.8" cy="75" r="5"/><circle cx="826.8" cy="146.1" r="2.7"/><circle cx="870.4" cy="42.4" r="3.7"/><circle cx="869.2" cy="122.9" r="2.1"/><circle cx="846" cy="97.8" r="2.9"/><circle cx="748.8" cy="59.6" r="4.6"/><circle cx="863.2" cy="181.5" r="2"/><circle cx="709.4" cy="8.5" r="3.5"/><circle cx="811.2" cy="28.9" r="4"/><circle cx="859.5" cy="183.8" r="3.9"/><circle cx="717.7" cy="93.4" r="2.2"/><circle cx="801.6" cy="151.6" r="1.8"/><circle cx="830.1" cy="79.9" r="2.2"/><circle cx="716.6" cy="112.6" r="3"/><circle cx="718.6" cy="8.3" r="2.9"/><circle cx="794.2" cy="148.1" r="1.8"/><circle cx="763.6" cy="73.8" r="6.5"/><circle cx="792.8" cy="155" r="3.6"/><circle cx="826.5" cy="26.3" r="4.6"/><circle cx="682.3" cy="176.3" r="4.8"/><circle cx="795.1" cy="67.7" r="4"/><circle cx="796.3" cy="124.3" r="1.5"/><circle cx="636.2" cy="109.7" r="6.5"/><circle cx="796.5" cy="18.5" r="5.3"/><circle cx="762.5" cy="164.1" r="2.4"/><circle cx="827.4" cy="66.3" r="1.8"/><circle cx="630.3" cy="92.3" r="3.6"/><circle cx="757.4" cy="124.7" r="3.5"/><circle cx="798.2" cy="177.3" r="4"/><circle cx="632.3" cy="106.4" r="3.6"/><circle cx="867.6" cy="33.5" r="2.8"/><circle cx="682.2" cy="203" r="2.6"/><circle cx="678.4" cy="160.8" r="2.2"/><circle cx="866.7" cy="156.5" r="3"/><circle cx="839.6" cy="64.7" r="3.4"/><circle cx="632" cy="174.7" r="3.1"/><circle cx="771.1" cy="173" r="3.5"/><circle cx="723.8" cy="80.7" r="3.5"/><circle cx="854.5" cy="85.5" r="2.7"/><circle cx="707.4" cy="153.2" r="2.7"/><circle cx="775.2" cy="142.3" r="5.5"/><circle cx="838.9" cy="192" r="1.9"/><circle cx="663" cy="90.2" r="1.3"/><circle cx="762.5" cy="70.3" r="2.3"/><circle cx="681.1" cy="172" r="6.5"/><circle cx="846.8" cy="92.8" r="3"/><circle cx="839.2" cy="95.6" r="2.4"/><circle cx="821.2" cy="43.3" r="2.7"/><circle cx="759.7" cy="169.6" r="4.3"/><circle cx="629.2" cy="164.7" r="2.4"/><circle cx="690.5" cy="168.4" r="3.4"/><circle cx="629.1" cy="190.2" r="4.9"/><circle cx="752.4" cy="5.7" r="2.7"/><circle cx="669.3" cy="54.4" r="2.5"/><circle cx="855.5" cy="157.2" r="3.1"/><circle cx="753" cy="204.4" r="6.5"/><circle cx="824.3" cy="195.5" r="5.4"/><circle cx="740.7" cy="38.1" r="1.3"/><circle cx="814" cy="140.4" r="1.3"/><circle cx="803.6" cy="124.8" r="3.3"/><circle cx="680.6" cy="192.1" r="6.4"/><circle cx="718.5" cy="143.2" r="2.7"/><circle cx="863.5" cy="190.2" r="5.5"/><circle cx="850.4" cy="114.7" r="2.7"/><circle cx="868.8" cy="90.3" r="2.7"/><circle cx="677.6" cy="125.2" r="4"/><circle cx="731.3" cy="94" r="1.7"/><circle cx="672.7" cy="18.8" r="4"/><circle cx="647.8" cy="81.5" r="2.9"/><circle cx="658.6" cy="81.3" r="1.8"/><circle cx="722.1" cy="18.1" r="3.3"/><circle cx="792.3" cy="32.9" r="3.8"/><circle cx="735.8" cy="139.9" r="4.3"/><circle cx="788.3" cy="173.1" r="2.5"/><circle cx="722.3" cy="122.1" r="5.2"/><circle cx="788" cy="163.5" r="1.8"/><circle cx="833.1" cy="195.5" r="5.2"/><circle cx="691.2" cy="151.3" r="2.2"/><circle cx="629.3" cy="166.9" r="3.1"/><circle cx="860.1" cy="167.5" r="4.7"/><circle cx="673.8" cy="46.9" r="5"/><circle cx="689.6" cy="26.2" r="3.8"/><circle cx="822.3" cy="12.4" r="3.2"/><circle cx="737.8" cy="50" r="3.1"/><circle cx="858.3" cy="55.2" r="3"/><circle cx="794.2" cy="191" r="3.3"/><circle cx="756.5" cy="121.4" r="2.5"/><circle cx="639.8" cy="101" r="4.1"/><circle cx="741.9" cy="55.8" r="2.7"/><circle cx="747.4" cy="52.2" r="3.5"/><circle cx="716.5" cy="183.8" r="1.4"/><circle cx="726.6" cy="129.6" r="3.7"/><circle cx="672.3" cy="150.5" r="4.4"/><circle cx="826.9" cy="154.3" r="2.8"/><circle cx="704.1" cy="167.1" r="3.1"/><circle cx="677.4" cy="27.5" r="2.5"/><circle cx="638.6" cy="161.4" r="1.7"/><circle cx="780.2" cy="209.2" r="2.7"/><circle cx="775.8" cy="147.7" r="3"/><circle cx="770.8" cy="97.3" r="3.5"/><circle cx="849.8" cy="88.2" r="2.9"/><circle cx="852.4" cy="166.9" r="1.9"/><circle cx="867.7" cy="152.8" r="2.9"/><circle cx="743.1" cy="115" r="3.3"/><circle cx="663" cy="14.1" r="2"/><circle cx="784" cy="158.1" r="2.9"/><circle cx="787.5" cy="53" r="4.3"/><circle cx="642" cy="63.1" r="3.2"/><circle cx="861.4" cy="139.9" r="3"/><circle cx="646.4" cy="3.6" r="1.9"/><circle cx="794.7" cy="54.4" r="5.3"/><circle cx="796.5" cy="208.5" r="2.8"/><circle cx="648.8" cy="62.4" r="2.9"/><circle cx="663.4" cy="128.2" r="2.1"/><circle cx="701.4" cy="136.4" r="5.1"/><circle cx="668.3" cy="113.3" r="3"/><circle cx="668" cy="95.5" r="2.8"/><circle cx="652" cy="78.7" r="4.1"/><circle cx="646.1" cy="155.3" r="4.8"/><circle cx="631.4" cy="46.8" r="2.8"/><circle cx="674.2" cy="124.5" r="2.2"/><circle cx="627.4" cy="28.7" r="4.9"/><circle cx="835.2" cy="210.4" r="2.3"/><circle cx="812.5" cy="55.8" r="6.5"/><circle cx="663.9" cy="102.7" r="3.5"/><circle cx="688.7" cy="145.8" r="6.1"/></g><g fill="url(#c5)"><circle cx="829.2" cy="156.8" r="2.2"/><circle cx="866.3" cy="201.1" r="3.7"/><circle cx="825.8" cy="8.6" r="4.7"/><circle cx="646.3" cy="68.7" r="2.6"/><circle cx="783.4" cy="179.7" r="3.4"/><circle cx="793" cy="49.3" r="2.5"/><circle cx="783.4" cy="47.4" r="2.4"/><circle cx="797.4" cy="147.2" r="3.2"/><circle cx="844.1" cy="69.8" r="5.7"/><circle cx="667.2" cy="159.4" r="1.3"/><circle cx="697.7" cy="133.4" r="2.5"/><circle cx="797.5" cy="163" r="3.7"/><circle cx="793.2" cy="186" r="2.4"/><circle cx="819.1" cy="197.1" r="3.6"/><circle cx="868.4" cy="46.9" r="5.5"/><circle cx="865.1" cy="37.7" r="2.2"/><circle cx="751.8" cy="117.4" r="5.4"/><circle cx="805.5" cy="161.8" r="1.8"/><circle cx="729.6" cy="96" r="3.9"/><circle cx="756.9" cy="171.4" r="2.3"/><circle cx="844.4" cy="192.5" r="4.5"/><circle cx="821.1" cy="49.4" r="2.4"/><circle cx="859.5" cy="127.5" r="3.9"/><circle cx="799.8" cy="41.9" r="2.7"/><circle cx="770.2" cy="114.9" r="2.3"/><circle cx="870.5" cy="151.5" r="3.5"/><circle cx="705.7" cy="165.3" r="1.9"/><circle cx="711.1" cy="14.2" r="2.2"/><circle cx="746.6" cy="16.4" r="5"/><circle cx="791.1" cy="19.1" r="3.4"/><circle cx="682.3" cy="32.8" r="2.7"/><circle cx="797.4" cy="108.4" r="2.4"/><circle cx="677.1" cy="74.8" r="2.9"/><circle cx="821.8" cy="135.3" r="4.7"/><circle cx="760.5" cy="58" r="3.4"/><circle cx="839.5" cy="100.9" r="2.4"/><circle cx="692.3" cy="112.3" r="4.6"/><circle cx="822.3" cy="50.3" r="1.7"/><circle cx="867.3" cy="189.3" r="2.5"/><circle cx="665.1" cy="112.7" r="3.6"/><circle cx="870" cy="154.9" r="2.7"/><circle cx="700.6" cy="61.3" r="3.4"/><circle cx="685.8" cy="36.2" r="2.7"/><circle cx="619.3" cy="183" r="3.3"/><circle cx="792.8" cy="61.5" r="2.5"/><circle cx="848.4" cy="183.6" r="3.8"/><circle cx="676.3" cy="110.6" r="2.5"/><circle cx="711.2" cy="58.7" r="3.8"/><circle cx="707.3" cy="5.7" r="1.3"/><circle cx="626.8" cy="17.1" r="2"/><circle cx="716.3" cy="69.9" r="3.1"/><circle cx="648.1" cy="56.3" r="6.4"/><circle cx="832.4" cy="77.9" r="2.5"/><circle cx="739.2" cy="118.4" r="3.6"/><circle cx="636.5" cy="37.8" r="4.1"/><circle cx="633.2" cy="162.7" r="2.4"/><circle cx="799.3" cy="62.4" r="3.8"/><circle cx="867.7" cy="198.9" r="5"/><circle cx="683.8" cy="26.4" r="4.3"/><circle cx="683.5" cy="184.4" r="4.2"/><circle cx="763.8" cy="209.2" r="2"/><circle cx="642.4" cy="11.5" r="5"/><circle cx="741.4" cy="23.3" r="2.9"/><circle cx="859.5" cy="39.6" r="4.1"/><circle cx="779.5" cy="59.1" r="3.1"/><circle cx="641.6" cy="36.8" r="3.3"/><circle cx="783.5" cy="54.9" r="4.8"/><circle cx="640.7" cy="161.5" r="1.5"/><circle cx="766.6" cy="177.1" r="2.5"/><circle cx="732.3" cy="84.5" r="1.6"/><circle cx="634.2" cy="160.9" r="2.4"/><circle cx="695.7" cy="48" r="2"/><circle cx="846" cy="117.6" r="3.3"/><circle cx="826.6" cy="61.6" r="3.4"/><circle cx="713.9" cy="148.6" r="4.2"/><circle cx="782.6" cy="198" r="2.5"/><circle cx="772.5" cy="208.6" r="3.2"/><circle cx="675.4" cy="165.1" r="4.3"/><circle cx="626.4" cy="40.7" r="2.6"/><circle cx="792.2" cy="36" r="3.1"/><circle cx="701.4" cy="8.7" r="3"/><circle cx="799.9" cy="191.7" r="3.6"/><circle cx="854.3" cy="105.9" r="5.8"/><circle cx="847.2" cy="187.1" r="3.6"/><circle cx="661.5" cy="34.5" r="1.8"/><circle cx="775" cy="24.2" r="4.2"/><circle cx="842.8" cy="74.1" r="3.5"/><circle cx="694" cy="18.6" r="3.4"/><circle cx="864.7" cy="42.6" r="5.1"/><circle cx="685" cy="114.1" r="4.8"/><circle cx="723.5" cy="91.7" r="2"/><circle cx="669.4" cy="141.3" r="3"/><circle cx="788.6" cy="185.7" r="4.5"/><circle cx="753.3" cy="206.7" r="2.8"/><circle cx="752.7" cy="65" r="1.7"/><circle cx="770.3" cy="167.3" r="3.1"/><circle cx="627.4" cy="8.6" r="2"/><circle cx="755.3" cy="112.8" r="2"/><circle cx="699.6" cy="26.3" r="4.6"/><circle cx="661.3" cy="20.9" r="2.9"/><circle cx="632.8" cy="58" r="4.7"/><circle cx="754.9" cy="25" r="4.6"/><circle cx="645.8" cy="16" r="2.4"/><circle cx="620.5" cy="179.3" r="3.1"/><circle cx="725.3" cy="71.7" r="6.2"/><circle cx="865" cy="198.9" r="3.5"/><circle cx="781.9" cy="25.7" r="6.5"/><circle cx="781.3" cy="190.2" r="3.6"/><circle cx="686.3" cy="153.3" r="3.7"/><circle cx="722.1" cy="3.4" r="3.7"/><circle cx="785" cy="93" r="2.1"/><circle cx="831.3" cy="198.7" r="5.7"/><circle cx="693.1" cy="79.3" r="4.6"/><circle cx="656" cy="162.8" r="4.1"/><circle cx="832.2" cy="89.9" r="5.1"/><circle cx="866.1" cy="133.7" r="2.3"/><circle cx="700.1" cy="131.5" r="5"/><circle cx="783.8" cy="89.1" r="1.6"/><circle cx="692.4" cy="147.1" r="4.1"/><circle cx="647.7" cy="12.3" r="1.6"/><circle cx="769.9" cy="107.9" r="6.5"/><circle cx="765.2" cy="180.7" r="2.1"/><circle cx="710.7" cy="129.7" r="1.9"/><circle cx="670.9" cy="99.9" r="3.6"/><circle cx="752.6" cy="9.4" r="2.9"/><circle cx="771.5" cy="55.5" r="5.6"/><circle cx="775.3" cy="146.1" r="1.9"/><circle cx="665.6" cy="26.9" r="5.2"/><circle cx="857.7" cy="43.8" r="5.6"/><circle cx="636.9" cy="74.7" r="6.5"/><circle cx="783" cy="160.4" r="2.1"/><circle cx="850.4" cy="174.2" r="6.1"/><circle cx="677.9" cy="184.3" r="4.7"/><circle cx="755.9" cy="67" r="3.1"/><circle cx="819.7" cy="203.4" r="3.1"/><circle cx="769.9" cy="196" r="3.3"/><circle cx="792.8" cy="60.4" r="1.8"/><circle cx="767.3" cy="122.1" r="2.8"/><circle cx="648.5" cy="38.4" r="3"/><circle cx="847.5" cy="7.9" r="2.5"/><circle cx="736.6" cy="123.6" r="4.6"/><circle cx="713.7" cy="60.5" r="3.1"/><circle cx="807.4" cy="83.2" r="6.5"/><circle cx="670.9" cy="24.2" r="5.7"/><circle cx="651.8" cy="149.6" r="5.8"/><circle cx="651.6" cy="52.4" r="2.4"/><circle cx="621.4" cy="152.9" r="2.7"/><circle cx="709" cy="135.8" r="3.4"/><circle cx="677.2" cy="144.2" r="3.5"/><circle cx="625.1" cy="50.6" r="2.7"/><circle cx="738.4" cy="81.4" r="6.1"/><circle cx="779.9" cy="57.3" r="4.3"/><circle cx="834.9" cy="5.6" r="3.6"/><circle cx="809.8" cy="85" r="3"/><circle cx="763.2" cy="24.2" r="3.2"/><circle cx="759.2" cy="118.7" r="2"/><circle cx="861.5" cy="194.9" r="3.1"/><circle cx="857.1" cy="40.2" r="2.2"/><circle cx="836.1" cy="76" r="3"/><circle cx="864.1" cy="128.5" r="5.3"/><circle cx="649.4" cy="77.6" r="2.5"/><circle cx="754.3" cy="108.8" r="2.7"/><circle cx="817.4" cy="146.6" r="3.1"/><circle cx="733" cy="122.5" r="4.3"/><circle cx="769.1" cy="159.7" r="4.8"/><circle cx="821.5" cy="60.1" r="4.2"/><circle cx="624" cy="196.3" r="2.3"/><circle cx="854.6" cy="132.3" r="2.3"/><circle cx="823.9" cy="204.6" r="3.5"/><circle cx="795.7" cy="186.1" r="2.5"/><circle cx="759.6" cy="151.4" r="3.3"/><circle cx="823.1" cy="61.9" r="2.5"/><circle cx="646.4" cy="52.7" r="4.8"/><circle cx="862" cy="148.7" r="3"/><circle cx="633.6" cy="166.4" r="1.5"/><circle cx="719.5" cy="66.7" r="6.5"/><circle cx="709.7" cy="148.2" r="1.7"/><circle cx="691.2" cy="13.2" r="4.2"/><circle cx="671.3" cy="180.4" r="6.5"/><circle cx="823.7" cy="59.2" r="2.7"/><circle cx="728.2" cy="85.4" r="2.9"/><circle cx="687.9" cy="186.8" r="3.3"/><circle cx="636.2" cy="40.2" r="2.5"/><circle cx="752.6" cy="166" r="2.6"/><circle cx="737.8" cy="47.3" r="2.7"/><circle cx="773.3" cy="62.3" r="2.6"/><circle cx="628.8" cy="168" r="2.6"/><circle cx="765.6" cy="110.9" r="4.1"/><circle cx="864.2" cy="199.9" r="2.9"/><circle cx="672.6" cy="122.2" r="3.3"/><circle cx="844.4" cy="195.8" r="4.5"/><circle cx="697.4" cy="143.3" r="2.3"/><circle cx="629.4" cy="115.3" r="4.3"/><circle cx="639.4" cy="34.6" r="2.4"/><circle cx="709.2" cy="127.9" r="2.8"/><circle cx="706.9" cy="133.9" r="3.4"/><circle cx="688.2" cy="48.1" r="2.9"/><circle cx="706.6" cy="71.3" r="4.2"/><circle cx="769.8" cy="58.5" r="3.7"/><circle cx="761.1" cy="165.9" r="1.6"/><circle cx="868.6" cy="164.3" r="3.4"/><circle cx="670.2" cy="77.8" r="2.6"/><circle cx="857.5" cy="32.9" r="2.7"/><circle cx="828" cy="193.7" r="3.2"/><circle cx="681" cy="116.7" r="4"/><circle cx="672" cy="20.8" r="5.2"/><circle cx="625.2" cy="113.6" r="1.3"/><circle cx="644.9" cy="161.9" r="1.6"/><circle cx="693" cy="52.7" r="4.1"/><circle cx="716.3" cy="66.5" r="2.2"/><circle cx="712.5" cy="5.4" r="4.8"/><circle cx="835.9" cy="138.4" r="1.9"/><circle cx="720" cy="173.4" r="2.5"/><circle cx="722" cy="142.7" r="1.3"/><circle cx="852.2" cy="141.2" r="4.9"/><circle cx="694.3" cy="114.9" r="2.7"/><circle cx="815.9" cy="189.1" r="6"/><circle cx="855.2" cy="184.3" r="2.5"/><circle cx="800.1" cy="164.7" r="2.3"/><circle cx="705.1" cy="138.2" r="4"/><circle cx="776.4" cy="171.5" r="3"/><circle cx="827.4" cy="198.2" r="2"/><circle cx="816" cy="137.7" r="3.3"/><circle cx="687.3" cy="29.6" r="3.8"/><circle cx="759.8" cy="137" r="2.6"/><circle cx="760" cy="196.8" r="3.5"/><circle cx="849.9" cy="192.7" r="2.7"/><circle cx="652" cy="87.1" r="1.8"/><circle cx="800.2" cy="75.1" r="3.5"/><circle cx="669.8" cy="108.5" r="1.7"/><circle cx="627.2" cy="42.1" r="1.4"/><circle cx="863.4" cy="134.2" r="2"/><circle cx="842.7" cy="4.1" r="2.9"/><circle cx="761.1" cy="73.5" r="2.5"/><circle cx="827.6" cy="43" r="4.7"/><circle cx="829.6" cy="57.3" r="6.2"/><circle cx="751.7" cy="110.9" r="3.1"/><circle cx="636.2" cy="158" r="3.5"/><circle cx="762.8" cy="160.7" r="1.3"/><circle cx="764.6" cy="150.4" r="4.3"/><circle cx="643.9" cy="36.8" r="2.6"/><circle cx="763.1" cy="113.5" r="2.2"/><circle cx="660.8" cy="97.4" r="3"/><circle cx="621.3" cy="149" r="1.8"/><circle cx="770.8" cy="186.4" r="3.2"/><circle cx="686.3" cy="193.8" r="5.2"/><circle cx="700.6" cy="79.2" r="3.3"/><circle cx="648.2" cy="29.2" r="3.9"/><circle cx="693.1" cy="50.5" r="1.3"/><circle cx="814.3" cy="32.9" r="2.1"/><circle cx="834.5" cy="189.4" r="3.4"/><circle cx="624.3" cy="179.8" r="4.7"/><circle cx="784.1" cy="192.8" r="4.2"/><circle cx="809.2" cy="66" r="2.1"/><circle cx="726.7" cy="126.2" r="2.7"/><circle cx="794.2" cy="196.9" r="4.8"/><circle cx="743.5" cy="83" r="3.6"/><circle cx="821.7" cy="57.3" r="3.3"/><circle cx="833.8" cy="62.5" r="2.4"/><circle cx="621.1" cy="42.5" r="5.6"/><circle cx="767.1" cy="187" r="2.2"/><circle cx="636.7" cy="173.9" r="3.6"/><circle cx="691.8" cy="14.8" r="2.3"/><circle cx="804.8" cy="75.6" r="2.9"/><circle cx="674.1" cy="87.3" r="2.2"/><circle cx="739.2" cy="155.1" r="4"/><circle cx="656.3" cy="106.5" r="5.2"/><circle cx="622.2" cy="16.5" r="3.5"/><circle cx="859.8" cy="164.3" r="6.4"/><circle cx="849.1" cy="125.3" r="4.6"/><circle cx="670.9" cy="130.1" r="4.4"/><circle cx="718.2" cy="64" r="3.2"/><circle cx="678.7" cy="84.4" r="6.5"/><circle cx="629.6" cy="154.1" r="2.8"/><circle cx="801.6" cy="86.4" r="2.4"/><circle cx="619.2" cy="16.8" r="2.4"/><circle cx="676.6" cy="137.4" r="3"/><circle cx="753.8" cy="97.4" r="2.4"/><circle cx="804.1" cy="62.2" r="4.4"/><circle cx="820.9" cy="67.5" r="2"/><circle cx="652.1" cy="60.9" r="3.3"/><circle cx="735" cy="159" r="5.1"/><circle cx="825.2" cy="75.2" r="4.1"/><circle cx="650.5" cy="7.5" r="4.1"/><circle cx="657.9" cy="140.3" r="4.4"/><circle cx="763.2" cy="172.7" r="4.6"/><circle cx="680.6" cy="12.5" r="5.6"/><circle cx="634.7" cy="51.2" r="4.6"/><circle cx="833.9" cy="53.5" r="5.4"/><circle cx="746.4" cy="117.6" r="3.1"/><circle cx="630.7" cy="48.1" r="2.3"/><circle cx="648.4" cy="69.7" r="3.8"/><circle cx="680.9" cy="24.4" r="2.5"/><circle cx="683.5" cy="37.5" r="2.2"/><circle cx="825.6" cy="55.8" r="3.3"/><circle cx="670" cy="159.7" r="2"/><circle cx="741.9" cy="122.4" r="2.1"/><circle cx="831.4" cy="31.8" r="4.1"/><circle cx="772.2" cy="48.3" r="2.9"/><circle cx="854.1" cy="198.8" r="2.1"/><circle cx="751.9" cy="96.7" r="3.2"/><circle cx="851" cy="202.8" r="5.6"/><circle cx="679" cy="71.6" r="3.9"/><circle cx="784.6" cy="156.6" r="2"/><circle cx="747.5" cy="71.4" r="3.3"/><circle cx="684.9" cy="107" r="5.5"/><circle cx="820.3" cy="47.6" r="2.1"/><circle cx="759.8" cy="160.6" r="2.1"/><circle cx="639.7" cy="76.5" r="3.1"/><circle cx="802.5" cy="178.3" r="3"/><circle cx="757.5" cy="99.5" r="5"/><circle cx="825.1" cy="151.8" r="2.8"/><circle cx="806" cy="126.4" r="1.8"/><circle cx="658.1" cy="46.2" r="3.5"/><circle cx="665.6" cy="92.9" r="1.4"/><circle cx="792.6" cy="89.4" r="6.4"/><circle cx="719.3" cy="131.1" r="3.1"/><circle cx="846.1" cy="194" r="3.3"/><circle cx="744" cy="95.3" r="2.3"/><circle cx="712.9" cy="136.6" r="2.8"/><circle cx="750.1" cy="132.5" r="6.4"/><circle cx="676.1" cy="85.4" r="3.7"/><circle cx="774.9" cy="171.6" r="3.4"/><circle cx="652.4" cy="84.8" r="2.3"/><circle cx="864.6" cy="146" r="6.5"/><circle cx="844" cy="6.7" r="2"/><circle cx="794.2" cy="200.8" r="4.2"/><circle cx="778.7" cy="62.8" r="1.7"/><circle cx="680" cy="150.6" r="2.8"/><circle cx="810.4" cy="78.8" r="2.8"/><circle cx="802" cy="169.9" r="6.5"/><circle cx="693.9" cy="124.3" r="3.6"/><circle cx="681.6" cy="205.9" r="4.2"/><circle cx="628.8" cy="4.5" r="2.7"/><circle cx="784.7" cy="176.3" r="2.7"/><circle cx="750.3" cy="148.3" r="2.5"/><circle cx="854.9" cy="129.3" r="2.3"/><circle cx="842.5" cy="83" r="5.2"/><circle cx="768.9" cy="206.8" r="2.7"/><circle cx="817.7" cy="192.6" r="3.2"/><circle cx="813.9" cy="56" r="3.7"/><circle cx="785.9" cy="173.3" r="2.6"/><circle cx="734.5" cy="7" r="4.4"/><circle cx="648.3" cy="80.2" r="1.3"/><circle cx="653.6" cy="72.4" r="4"/><circle cx="674.5" cy="67.1" r="4.8"/><circle cx="702.5" cy="45.4" r="2.8"/><circle cx="620.2" cy="9.6" r="3.1"/><circle cx="761" cy="121.2" r="1.8"/><circle cx="689.7" cy="10.6" r="4.8"/><circle cx="716.6" cy="71" r="2.9"/><circle cx="724.9" cy="78.8" r="1.3"/><circle cx="764" cy="159.2" r="2.2"/><circle cx="821.1" cy="81.1" r="1.8"/><circle cx="686.3" cy="30.2" r="3.5"/><circle cx="677.7" cy="80.1" r="3.5"/><circle cx="639.6" cy="53.8" r="2"/><circle cx="832.3" cy="139.6" r="3.9"/><circle cx="678.2" cy="74.7" r="1.6"/></g><g fill="url(#c6)"><circle cx="845.9" cy="206.1" r="3.8"/><circle cx="656.1" cy="77" r="5"/><circle cx="844.4" cy="188.4" r="4"/><circle cx="644.4" cy="69.2" r="2.9"/><circle cx="669.3" cy="133.6" r="4.4"/><circle cx="642.8" cy="21.4" r="3.5"/><circle cx="653.7" cy="76.8" r="2.2"/><circle cx="855.8" cy="202.9" r="3.2"/><circle cx="688.7" cy="91.8" r="4.3"/><circle cx="690.3" cy="26.2" r="3.1"/><circle cx="823.1" cy="5.3" r="5.3"/><circle cx="629.8" cy="89.4" r="2.4"/><circle cx="685.7" cy="86.1" r="2.3"/><circle cx="694.7" cy="60" r="5"/><circle cx="835.7" cy="85.1" r="1.6"/><circle cx="656.4" cy="65.7" r="4.5"/><circle cx="712.4" cy="10.2" r="5"/><circle cx="697.3" cy="78.7" r="3.7"/><circle cx="743.3" cy="28.7" r="3.7"/><circle cx="834.8" cy="57.9" r="2.5"/><circle cx="788.8" cy="35.6" r="6"/><circle cx="838.3" cy="117.8" r="6.5"/><circle cx="830.5" cy="14.7" r="6.5"/><circle cx="834.1" cy="3.6" r="2.7"/><circle cx="696.5" cy="80.7" r="2.3"/><circle cx="831.8" cy="187.9" r="2.7"/><circle cx="757.6" cy="207.5" r="3.1"/><circle cx="832.2" cy="120.8" r="4.1"/><circle cx="755.1" cy="137.3" r="4.3"/><circle cx="764.6" cy="142.6" r="2.5"/><circle cx="845.1" cy="51.7" r="2.6"/><circle cx="856.7" cy="200.7" r="2.2"/><circle cx="724.5" cy="204.4" r="5.8"/><circle cx="627.2" cy="13.6" r="3.7"/><circle cx="798.6" cy="104.1" r="2.5"/><circle cx="642.9" cy="84.3" r="1.4"/><circle cx="632.4" cy="16" r="2.5"/><circle cx="769.7" cy="152.1" r="3.3"/><circle cx="636.2" cy="89.6" r="2.2"/><circle cx="827.5" cy="22.4" r="3"/><circle cx="811.4" cy="52.4" r="1.7"/><circle cx="624.4" cy="157.5" r="4"/><circle cx="847.1" cy="68.5" r="2.4"/><circle cx="756.2" cy="146.3" r="3.7"/><circle cx="678.4" cy="39.5" r="5"/><circle cx="749.3" cy="27.7" r="1.3"/><circle cx="647.2" cy="163" r="3.5"/><circle cx="630.3" cy="149.9" r="4"/><circle cx="840.8" cy="97.5" r="3.5"/><circle cx="745.5" cy="104.6" r="5.3"/><circle cx="773.9" cy="171.9" r="1.3"/><circle cx="697" cy="18.7" r="2.8"/><circle cx="839.9" cy="206.5" r="2.7"/><circle cx="694" cy="149.9" r="2.6"/><circle cx="740.6" cy="51" r="3.1"/><circle cx="767.9" cy="76.1" r="3.5"/><circle cx="746.6" cy="89" r="6.5"/><circle cx="833.8" cy="96.8" r="1.9"/><circle cx="837.9" cy="100.3" r="1.5"/><circle cx="632.1" cy="84" r="3"/><circle cx="727.4" cy="114.6" r="2.3"/><circle cx="700.1" cy="17.7" r="4.4"/><circle cx="659.3" cy="87.5" r="3.6"/><circle cx="782.4" cy="94.9" r="2.6"/><circle cx="625.1" cy="6.5" r="4.2"/><circle cx="665.1" cy="48" r="2.9"/><circle cx="674.3" cy="192.6" r="4.9"/><circle cx="701.5" cy="167" r="3.9"/><circle cx="849.4" cy="78.3" r="4.2"/><circle cx="741.9" cy="10.1" r="2.1"/><circle cx="824.6" cy="116.7" r="2.2"/><circle cx="812.9" cy="22.5" r="2.5"/><circle cx="789.6" cy="77.9" r="3.7"/><circle cx="854.1" cy="192.9" r="3.8"/><circle cx="734.7" cy="81.1" r="2.2"/><circle cx="842.3" cy="103.3" r="4.4"/><circle cx="870.9" cy="38.3" r="4.8"/><circle cx="688.1" cy="30.2" r="3.7"/><circle cx="821.3" cy="133.7" r="3.2"/><circle cx="842.8" cy="95.1" r="2.6"/><circle cx="630.8" cy="26.2" r="3.7"/><circle cx="839.9" cy="203.4" r="5"/><circle cx="867.7" cy="142.2" r="4.1"/><circle cx="685.5" cy="205.2" r="5"/><circle cx="677.2" cy="107.7" r="3.7"/><circle cx="658.2" cy="90.4" r="1.5"/><circle cx="692.5" cy="80.4" r="1.5"/><circle cx="664.8" cy="124.7" r="2.7"/><circle cx="649.9" cy="26.8" r="3.1"/><circle cx="792.2" cy="107.4" r="2.4"/><circle cx="686.1" cy="112.8" r="3.6"/><circle cx="843.6" cy="200.8" r="1.9"/><circle cx="760.6" cy="184.7" r="4.5"/><circle cx="642" cy="35.5" r="1.7"/><circle cx="712.4" cy="126" r="3.3"/><circle cx="624.3" cy="37.1" r="5.2"/><circle cx="838.6" cy="76.8" r="4.2"/><circle cx="639.2" cy="89.1" r="2.6"/><circle cx="737.7" cy="40" r="2.1"/><circle cx="734.8" cy="114.3" r="2.1"/><circle cx="635.6" cy="31.5" r="3.1"/><circle cx="804.4" cy="134.3" r="3.2"/><circle cx="659" cy="23.5" r="4.9"/><circle cx="643.5" cy="14.1" r="1.3"/><circle cx="766.3" cy="85.9" r="4.3"/><circle cx="652" cy="160.5" r="3.5"/><circle cx="643.3" cy="48.7" r="6"/><circle cx="672.7" cy="110.3" r="3.9"/><circle cx="649.2" cy="77.1" r="1.4"/><circle cx="870.5" cy="17.7" r="4.6"/><circle cx="634.6" cy="44.4" r="3.9"/><circle cx="813.2" cy="62.4" r="2.3"/><circle cx="736" cy="14.1" r="4"/><circle cx="821.8" cy="53" r="3.3"/><circle cx="762.7" cy="201.6" r="2.8"/><circle cx="818.5" cy="91.1" r="4.3"/><circle cx="815.7" cy="79.1" r="4.2"/><circle cx="692.4" cy="143.6" r="3"/><circle cx="723.5" cy="95.6" r="3.5"/><circle cx="729.2" cy="74.5" r="5.7"/><circle cx="834.3" cy="137.9" r="1.6"/><circle cx="846" cy="188.5" r="4.1"/><circle cx="714.3" cy="80.2" r="3.8"/><circle cx="748.2" cy="143.6" r="1.5"/><circle cx="623.5" cy="159.7" r="4.1"/><circle cx="713.8" cy="78.4" r="2.7"/><circle cx="841.8" cy="53.5" r="3.7"/><circle cx="781.5" cy="196.5" r="1.5"/><circle cx="798.1" cy="94.5" r="2.2"/><circle cx="853.4" cy="42.1" r="3.1"/><circle cx="823.5" cy="124.8" r="3.4"/><circle cx="749.3" cy="21" r="6.4"/><circle cx="841.9" cy="129.2" r="3.7"/><circle cx="728.4" cy="15.4" r="1.7"/><circle cx="790.3" cy="164.5" r="2.6"/><circle cx="849.6" cy="189.3" r="4.1"/><circle cx="841.4" cy="92.9" r="4.5"/><circle cx="821.5" cy="39.4" r="4.2"/><circle cx="697.9" cy="149.6" r="2.1"/><circle cx="740.3" cy="138.9" r="2.3"/><circle cx="800" cy="100.1" r="3"/><circle cx="757.7" cy="131.2" r="4.8"/><circle cx="778.6" cy="188.6" r="2.1"/><circle cx="764.4" cy="192.4" r="1.5"/><circle cx="813.3" cy="146.1" r="5.2"/><circle cx="804" cy="19.4" r="7.6"/><circle cx="850.9" cy="210.2" r="2.7"/><circle cx="741.7" cy="128.9" r="4"/><circle cx="655.1" cy="21.3" r="5.3"/><circle cx="655.7" cy="83.1" r="3.6"/><circle cx="703" cy="171.5" r="4.5"/><circle cx="620" cy="50.7" r="2.9"/><circle cx="713.1" cy="84.4" r="1.4"/><circle cx="718" cy="110.1" r="3.1"/><circle cx="839" cy="63.3" r="4.7"/><circle cx="755.7" cy="94" r="4.8"/><circle cx="838" cy="151.5" r="3.8"/><circle cx="833.5" cy="29.7" r="2.5"/><circle cx="684.4" cy="41.5" r="4.6"/><circle cx="677.7" cy="24.6" r="2.9"/><circle cx="828.3" cy="147" r="3.4"/><circle cx="856.3" cy="210.5" r="4.3"/><circle cx="795.9" cy="98.2" r="2.2"/><circle cx="642.5" cy="169.7" r="5.4"/><circle cx="711.1" cy="60.6" r="2.9"/><circle cx="676.6" cy="52.6" r="5.9"/><circle cx="762.8" cy="65.2" r="5.2"/><circle cx="808.3" cy="124.6" r="3.6"/><circle cx="787.6" cy="76.3" r="1.8"/><circle cx="696.4" cy="131.7" r="3.7"/><circle cx="636.5" cy="163.9" r="2.7"/><circle cx="666.1" cy="39.1" r="2.9"/><circle cx="792.8" cy="101.1" r="3.9"/><circle cx="679" cy="8.9" r="3.7"/><circle cx="626.7" cy="46.4" r="2.9"/><circle cx="631.1" cy="49.4" r="1.7"/><circle cx="765.1" cy="106.9" r="3.8"/><circle cx="828.2" cy="24.9" r="2.6"/><circle cx="733.9" cy="79.6" r="2.1"/><circle cx="702" cy="132.6" r="3.8"/><circle cx="721.7" cy="112.9" r="3.9"/><circle cx="796.8" cy="100.1" r="2.6"/><circle cx="742.7" cy="120" r="3.8"/><circle cx="660" cy="163.8" r="3.8"/><circle cx="678.5" cy="107.5" r="4.4"/><circle cx="850.1" cy="160.9" r="2.1"/><circle cx="847.3" cy="116.9" r="2.4"/><circle cx="706.5" cy="143.6" r="5.2"/><circle cx="766.2" cy="52.8" r="3.2"/><circle cx="700.6" cy="3.8" r="2"/><circle cx="794.6" cy="176.3" r="5.6"/><circle cx="830.2" cy="110.9" r="6.5"/><circle cx="782.3" cy="62.8" r="3.1"/><circle cx="772" cy="62.4" r="3.3"/><circle cx="868.5" cy="192.1" r="3.4"/><circle cx="677" cy="37.1" r="1.7"/><circle cx="620.9" cy="40.6" r="1.4"/><circle cx="698.7" cy="126.5" r="1.3"/><circle cx="764.1" cy="79.9" r="3.5"/><circle cx="846.5" cy="63.7" r="5.7"/><circle cx="798" cy="75.2" r="1.7"/><circle cx="664.7" cy="33.2" r="3.9"/><circle cx="719.3" cy="124.5" r="4.6"/><circle cx="821.6" cy="25.9" r="4.8"/><circle cx="862.2" cy="45.4" r="5.2"/><circle cx="743" cy="84.9" r="1.6"/><circle cx="834" cy="191.3" r="2.1"/><circle cx="776.5" cy="52.5" r="1.7"/><circle cx="666.5" cy="161.4" r="1.8"/><circle cx="736.8" cy="45.9" r="2"/><circle cx="694.7" cy="88.2" r="1.9"/><circle cx="790.6" cy="176.2" r="4.2"/><circle cx="846" cy="124.5" r="2.8"/><circle cx="663.3" cy="108.9" r="3.2"/><circle cx="821.1" cy="54.8" r="1.7"/><circle cx="742.8" cy="125.3" r="2.7"/><circle cx="821.9" cy="30.7" r="1.9"/><circle cx="724.6" cy="18.2" r="2.4"/><circle cx="774.8" cy="99.4" r="3.4"/><circle cx="775.8" cy="94.3" r="4.7"/><circle cx="813.7" cy="130.1" r="3.5"/><circle cx="791.9" cy="93.2" r="2.4"/><circle cx="744.7" cy="4.9" r="5.2"/><circle cx="655.3" cy="154.8" r="3.8"/><circle cx="836.7" cy="143.3" r="2.7"/><circle cx="854.6" cy="207" r="3"/><circle cx="657.5" cy="70.6" r="4.5"/><circle cx="624" cy="14.8" r="3.8"/><circle cx="655.8" cy="43.6" r="3.1"/><circle cx="662.1" cy="49.5" r="1.3"/><circle cx="795.4" cy="49.6" r="3.3"/><circle cx="723.9" cy="136.1" r="3"/><circle cx="635.5" cy="17.4" r="2.1"/><circle cx="660.5" cy="65.9" r="3.7"/><circle cx="752.5" cy="110.1" r="2.4"/><circle cx="812.4" cy="40.8" r="4.1"/><circle cx="688.7" cy="29" r="2.1"/><circle cx="837.2" cy="202.5" r="2.1"/><circle cx="704.1" cy="27.6" r="3.5"/><circle cx="680.1" cy="96" r="6.5"/><circle cx="646.4" cy="61.3" r="2.7"/><circle cx="622.2" cy="181.5" r="3.4"/><circle cx="713.3" cy="64.2" r="5"/><circle cx="689.4" cy="83.1" r="3.1"/><circle cx="653.3" cy="21.3" r="4.4"/><circle cx="676.1" cy="120.9" r="2.3"/><circle cx="708.9" cy="168.7" r="4.5"/><circle cx="767.2" cy="96.4" r="5.6"/><circle cx="666.2" cy="58.1" r="3.7"/><circle cx="674.6" cy="147" r="2"/><circle cx="684.6" cy="23.8" r="3.3"/><circle cx="759.3" cy="60.7" r="4.1"/><circle cx="866.4" cy="124.3" r="3.4"/><circle cx="838.9" cy="17.3" r="5.1"/><circle cx="694.6" cy="28.1" r="1.6"/><circle cx="832.1" cy="182.8" r="6.5"/><circle cx="837.7" cy="96.9" r="2.8"/><circle cx="853.4" cy="48.4" r="1.3"/><circle cx="867.2" cy="129.3" r="5.7"/><circle cx="697.1" cy="50.6" r="2.2"/><circle cx="795.2" cy="79.2" r="4.1"/><circle cx="741.8" cy="34.1" r="3"/><circle cx="677.8" cy="115.2" r="4.4"/><circle cx="687.5" cy="163.8" r="2.6"/><circle cx="640.2" cy="9.5" r="6.5"/><circle cx="804.5" cy="130.3" r="2.9"/><circle cx="842.4" cy="120.1" r="4.4"/></g><g fill="url(#c7)"><circle cx="659.8" cy="79.5" r="2.9"/><circle cx="729.7" cy="16" r="2.6"/><circle cx="645.2" cy="31.5" r="2.4"/><circle cx="838.9" cy="19.1" r="2.7"/><circle cx="657.3" cy="167.4" r="2.7"/><circle cx="751.6" cy="96.5" r="3"/><circle cx="838.1" cy="134.6" r="3.4"/><circle cx="705.3" cy="140.5" r="2.6"/><circle cx="713.8" cy="59" r="3.5"/><circle cx="830.4" cy="49.6" r="3"/><circle cx="854.1" cy="126.9" r="4.1"/><circle cx="739" cy="53" r="1.8"/><circle cx="860" cy="193.1" r="5"/><circle cx="717.3" cy="76.8" r="4.6"/><circle cx="866.8" cy="184.6" r="4.3"/><circle cx="761.4" cy="206.7" r="2.4"/><circle cx="788.1" cy="196.1" r="2.7"/><circle cx="869.6" cy="119.4" r="2.9"/><circle cx="705" cy="53.6" r="2.6"/><circle cx="647.9" cy="38.7" r="2.5"/><circle cx="855.2" cy="149.6" r="2.7"/><circle cx="702.4" cy="10.1" r="2.1"/><circle cx="706.6" cy="118" r="2.3"/><circle cx="636.1" cy="28.5" r="4.3"/><circle cx="778.4" cy="154" r="3.5"/><circle cx="870.3" cy="207.2" r="4.9"/><circle cx="721.4" cy="76.9" r="2.9"/><circle cx="661.8" cy="100.9" r="5.2"/><circle cx="840.5" cy="116.8" r="1.4"/><circle cx="753.2" cy="102.2" r="4.5"/><circle cx="669.9" cy="49.2" r="3.6"/><circle cx="704.6" cy="119.9" r="2.3"/><circle cx="821.5" cy="136" r="2.6"/><circle cx="831" cy="134.2" r="2.9"/><circle cx="764.4" cy="127.1" r="5"/><circle cx="636" cy="161" r="2.7"/><circle cx="843.3" cy="131.8" r="1.3"/><circle cx="853.2" cy="136" r="4.7"/><circle cx="801" cy="93" r="3.1"/><circle cx="711.4" cy="21.1" r="3.4"/><circle cx="734.1" cy="95.7" r="1.5"/><circle cx="654.8" cy="156.6" r="1.6"/><circle cx="621.2" cy="166.9" r="2.5"/><circle cx="719" cy="60.9" r="4.9"/><circle cx="765.5" cy="74.6" r="2.1"/><circle cx="834.2" cy="147.6" r="6.5"/><circle cx="840.1" cy="56.1" r="3.9"/><circle cx="698.4" cy="52.1" r="2.3"/><circle cx="712" cy="124.6" r="2.3"/><circle cx="682.4" cy="24.1" r="2.1"/><circle cx="708.8" cy="79.8" r="1.6"/><circle cx="819.9" cy="144.2" r="2.7"/><circle cx="829.5" cy="54.3" r="2.2"/><circle cx="689.8" cy="109" r="5.9"/><circle cx="730.8" cy="118.1" r="4.4"/><circle cx="789.1" cy="73.2" r="2.9"/><circle cx="752.4" cy="133.2" r="3.2"/><circle cx="676.1" cy="158.2" r="4.1"/><circle cx="778.1" cy="64.6" r="3.2"/><circle cx="660.4" cy="84" r="2.7"/><circle cx="695.2" cy="20.7" r="4"/><circle cx="710.3" cy="126.1" r="3.9"/><circle cx="651.1" cy="65.7" r="3"/><circle cx="732.3" cy="42.5" r="2.1"/><circle cx="729.1" cy="53.9" r="3.6"/><circle cx="709.5" cy="85.9" r="4"/><circle cx="717.3" cy="88.4" r="5.5"/><circle cx="621.5" cy="12.8" r="3.3"/><circle cx="678.8" cy="155.2" r="3.1"/><circle cx="869.3" cy="34.7" r="1.5"/><circle cx="619.3" cy="59.6" r="4.1"/><circle cx="688.7" cy="114" r="2.5"/><circle cx="680.1" cy="110.5" r="2.1"/><circle cx="664.2" cy="164.1" r="3.5"/><circle cx="683" cy="99.8" r="3.5"/><circle cx="845" cy="112.2" r="2.3"/><circle cx="743" cy="52.5" r="2.9"/><circle cx="858.3" cy="131.6" r="1.8"/><circle cx="688.9" cy="131.4" r="2.6"/><circle cx="743" cy="14.8" r="3.5"/><circle cx="870.8" cy="38.2" r="1.9"/><circle cx="775.3" cy="76.8" r="2.5"/><circle cx="743.2" cy="109.2" r="2.4"/><circle cx="845.8" cy="3.5" r="2.3"/><circle cx="636.5" cy="72.9" r="2.7"/><circle cx="829.5" cy="206.7" r="6.5"/><circle cx="675.5" cy="94.5" r="2.2"/><circle cx="671.3" cy="155" r="4.3"/><circle cx="652.2" cy="68.8" r="3.6"/><circle cx="689.1" cy="106.9" r="2.6"/><circle cx="622.2" cy="53.3" r="4.1"/><circle cx="815.1" cy="94.6" r="4.6"/><circle cx="716.1" cy="133.7" r="5"/><circle cx="747.5" cy="94.4" r="4.2"/><circle cx="649.1" cy="29.7" r="2.2"/><circle cx="708.2" cy="76" r="4.5"/><circle cx="701" cy="53.7" r="3.3"/><circle cx="837.8" cy="14.3" r="2.3"/><circle cx="701.3" cy="119.8" r="2"/><circle cx="778.8" cy="49.3" r="1.9"/><circle cx="671.1" cy="36.2" r="6.5"/><circle cx="630" cy="59.1" r="6.2"/><circle cx="782.8" cy="84.8" r="4.1"/><circle cx="830.5" cy="96.6" r="4.3"/><circle cx="654.1" cy="33.2" r="3.1"/><circle cx="774.8" cy="58.9" r="5"/><circle cx="703.2" cy="124.2" r="3.6"/><circle cx="857" cy="3.4" r="4.7"/><circle cx="780" cy="90.5" r="4.6"/><circle cx="670" cy="43.9" r="4.5"/><circle cx="806.4" cy="60.1" r="5.5"/><circle cx="793.8" cy="121.1" r="4.8"/><circle cx="660.8" cy="54.7" r="6.1"/><circle cx="661.9" cy="159.2" r="4.5"/><circle cx="659.1" cy="52.4" r="1.9"/><circle cx="726.5" cy="115.4" r="3.4"/><circle cx="680.3" cy="112.7" r="2"/><circle cx="849.3" cy="5.3" r="2.6"/><circle cx="704.8" cy="98.5" r="2.6"/><circle cx="818.4" cy="14" r="2.8"/><circle cx="827.1" cy="38.7" r="1.9"/><circle cx="637" cy="68.6" r="5.3"/><circle cx="627" cy="52.1" r="2.6"/><circle cx="725.4" cy="12.9" r="2.9"/><circle cx="690.3" cy="78.6" r="3"/><circle cx="722.7" cy="107.9" r="3.4"/><circle cx="858.6" cy="34.5" r="3"/><circle cx="671.9" cy="103.8" r="3.5"/><circle cx="828.5" cy="52.1" r="2.5"/><circle cx="735.3" cy="58.9" r="2.4"/><circle cx="828.7" cy="136.3" r="3.2"/><circle cx="651" cy="47.1" r="3.8"/><circle cx="624.4" cy="39.2" r="3.4"/><circle cx="760.3" cy="107.7" r="4.2"/><circle cx="709.9" cy="113.5" r="2.7"/><circle cx="821.2" cy="88.7" r="3.5"/><circle cx="647.6" cy="47.7" r="2.1"/><circle cx="863.7" cy="34.6" r="1.8"/><circle cx="678.4" cy="29.3" r="1.3"/><circle cx="644" cy="104.4" r="5.7"/><circle cx="862" cy="35.8" r="2.3"/><circle cx="835.9" cy="7.8" r="2.1"/><circle cx="775" cy="114" r="6.5"/><circle cx="835.3" cy="37.5" r="2.1"/><circle cx="827.6" cy="129.3" r="6.5"/><circle cx="818.3" cy="128.3" r="3.2"/><circle cx="790.1" cy="97.3" r="4.2"/><circle cx="697" cy="108.4" r="3.7"/><circle cx="819.5" cy="87.6" r="5.4"/><circle cx="735.8" cy="56.5" r="2.5"/><circle cx="688.7" cy="123.6" r="4.9"/><circle cx="816.4" cy="145.3" r="2.8"/><circle cx="836.7" cy="76.5" r="3.3"/><circle cx="726.6" cy="59.7" r="6.5"/><circle cx="704.6" cy="47.8" r="4"/><circle cx="816.3" cy="140.5" r="3.1"/><circle cx="856.3" cy="145.3" r="5.6"/><circle cx="661.2" cy="33.6" r="2.7"/><circle cx="735.3" cy="123.7" r="2.9"/><circle cx="673.2" cy="145" r="3.7"/><circle cx="828.4" cy="121.2" r="2.3"/><circle cx="682.7" cy="28.4" r="2.8"/><circle cx="719" cy="133.8" r="4.2"/><circle cx="707.4" cy="115.5" r="1.7"/><circle cx="693.8" cy="133.5" r="3.6"/><circle cx="841.5" cy="38.2" r="3.2"/><circle cx="731.7" cy="17.1" r="3"/><circle cx="623.3" cy="27.6" r="4.3"/><circle cx="729.2" cy="29.9" r="3.8"/><circle cx="718.6" cy="24.3" r="6.5"/><circle cx="789" cy="82.3" r="6.5"/><circle cx="687.3" cy="16.1" r="4.7"/><circle cx="708.3" cy="108.4" r="2.1"/><circle cx="797.7" cy="120.8" r="1.6"/><circle cx="789.2" cy="77.6" r="2.6"/><circle cx="780.7" cy="162.8" r="3.5"/><circle cx="707.9" cy="172.1" r="5.8"/><circle cx="854.4" cy="209.5" r="1.7"/><circle cx="821.5" cy="87.4" r="1.4"/><circle cx="777.9" cy="61.9" r="1.7"/><circle cx="830" cy="210.4" r="2.9"/><circle cx="623.2" cy="49" r="2.8"/><circle cx="842.1" cy="10" r="5.6"/><circle cx="721.2" cy="100.6" r="2.9"/><circle cx="694" cy="45.1" r="4.2"/><circle cx="829.9" cy="94.1" r="1.3"/><circle cx="704.3" cy="109.9" r="4"/><circle cx="737.8" cy="20.3" r="5"/></g><g fill="url(#c8)"><circle cx="704.1" cy="32" r="2.1"/><circle cx="650.8" cy="53.9" r="3.8"/><circle cx="727.8" cy="101.5" r="6.5"/><circle cx="833.5" cy="206.3" r="4.5"/><circle cx="836.3" cy="134.9" r="3.1"/><circle cx="669.9" cy="87.6" r="5.5"/><circle cx="827.7" cy="141.3" r="6.5"/><circle cx="772.2" cy="77.9" r="2.2"/><circle cx="832.8" cy="209.1" r="1.7"/><circle cx="798.5" cy="86.3" r="3.2"/><circle cx="835.8" cy="109.4" r="2.2"/><circle cx="680.1" cy="118.9" r="1.9"/><circle cx="719.4" cy="81.9" r="2"/><circle cx="846.8" cy="21.3" r="2.1"/><circle cx="675.9" cy="159" r="3.3"/><circle cx="657.3" cy="35.6" r="3.2"/><circle cx="834.8" cy="99.8" r="2.5"/><circle cx="845.9" cy="47.4" r="1.9"/><circle cx="821.6" cy="55" r="1.6"/><circle cx="692.6" cy="119.2" r="4.3"/><circle cx="850.6" cy="24.1" r="3"/><circle cx="781.5" cy="204.5" r="4.1"/><circle cx="736.8" cy="89.6" r="6.5"/><circle cx="693.3" cy="117.9" r="5"/><circle cx="657.8" cy="37.8" r="2.8"/><circle cx="826" cy="126" r="2.4"/><circle cx="694.4" cy="99" r="1.4"/><circle cx="686.9" cy="97.4" r="3"/><circle cx="704.1" cy="113.9" r="4"/><circle cx="733" cy="13.5" r="6.5"/><circle cx="686.1" cy="93.5" r="2.8"/><circle cx="855" cy="42.1" r="3.3"/><circle cx="705.4" cy="109.5" r="2.5"/><circle cx="714.3" cy="68.4" r="2.5"/><circle cx="645.3" cy="55.7" r="3.7"/><circle cx="828" cy="48.9" r="4.8"/><circle cx="815.5" cy="132" r="5.5"/><circle cx="661.6" cy="138.5" r="4.5"/><circle cx="868.8" cy="27.2" r="1.6"/><circle cx="802.6" cy="94.9" r="5.3"/><circle cx="704.4" cy="54.3" r="2.9"/><circle cx="834.6" cy="97.6" r="2.1"/><circle cx="698.3" cy="113" r="5"/><circle cx="835.5" cy="131.8" r="3.3"/><circle cx="825" cy="208.4" r="2.4"/><circle cx="838" cy="51.4" r="6.3"/><circle cx="737.4" cy="99.8" r="5.1"/><circle cx="846.3" cy="129.6" r="2.4"/><circle cx="709.4" cy="91.6" r="1.3"/><circle cx="810" cy="135" r="6.5"/><circle cx="847.5" cy="37.9" r="2.3"/><circle cx="849" cy="129.8" r="4.5"/><circle cx="778.7" cy="93.5" r="3.7"/><circle cx="660.9" cy="43.4" r="3.9"/><circle cx="812" cy="126.6" r="4.8"/><circle cx="675.3" cy="104.3" r="3.5"/><circle cx="808.2" cy="148.3" r="6.5"/><circle cx="700.9" cy="42.7" r="1.3"/><circle cx="786.1" cy="65.8" r="6.5"/><circle cx="866" cy="137.5" r="4.1"/><circle cx="835.5" cy="31.7" r="2.6"/><circle cx="703.1" cy="83.1" r="4.2"/><circle cx="688.5" cy="108.2" r="1.7"/><circle cx="640.6" cy="39.9" r="3"/><circle cx="713.3" cy="110.3" r="3.2"/><circle cx="630.4" cy="10.2" r="3.2"/><circle cx="727.7" cy="18.3" r="3.4"/><circle cx="726.5" cy="120.9" r="3.2"/><circle cx="770.5" cy="71.4" r="5.2"/><circle cx="658.8" cy="60.6" r="3.4"/><circle cx="670.8" cy="148.6" r="2.3"/><circle cx="645.3" cy="66.1" r="3.6"/><circle cx="848.1" cy="136.5" r="6.5"/><circle cx="750.8" cy="127.5" r="6.5"/><circle cx="686.6" cy="84.8" r="1.5"/><circle cx="827.4" cy="125.3" r="3.6"/><circle cx="720.1" cy="118.1" r="3.5"/><circle cx="631.2" cy="39.8" r="5.3"/><circle cx="678.7" cy="104.3" r="4"/><circle cx="723.5" cy="100" r="4.6"/><circle cx="628.2" cy="161.9" r="4.4"/><circle cx="837.8" cy="36.2" r="1.3"/><circle cx="769.8" cy="179.2" r="4.6"/><circle cx="684.5" cy="131.7" r="4.2"/><circle cx="719.7" cy="113.4" r="2.3"/><circle cx="832.5" cy="126.4" r="6.3"/><circle cx="827.4" cy="49.4" r="3.8"/><circle cx="715" cy="108.5" r="2.8"/><circle cx="687.1" cy="30.9" r="3"/><circle cx="714.5" cy="38.9" r="2.7"/><circle cx="800.4" cy="125.8" r="3.7"/><circle cx="664.3" cy="163" r="2.2"/><circle cx="706.2" cy="52.3" r="2.2"/><circle cx="798.5" cy="176.6" r="4.3"/><circle cx="715.9" cy="48.5" r="3.6"/><circle cx="643.5" cy="24.4" r="3.6"/><circle cx="712.7" cy="104" r="6.5"/><circle cx="841.8" cy="68.1" r="4.5"/><circle cx="824.2" cy="51.5" r="2.2"/><circle cx="693.6" cy="121.1" r="3.9"/><circle cx="852.2" cy="45.2" r="3.8"/><circle cx="798.3" cy="114.6" r="4"/><circle cx="677.8" cy="91.8" r="3.3"/><circle cx="748.5" cy="103.5" r="3.8"/><circle cx="709.2" cy="121.1" r="5.1"/><circle cx="844.7" cy="144.5" r="3.1"/><circle cx="692.4" cy="108.6" r="4"/><circle cx="716.9" cy="125.5" r="1.4"/><circle cx="664.9" cy="167.4" r="3.3"/><circle cx="626.5" cy="11.1" r="2.7"/><circle cx="670.4" cy="115.7" r="2.7"/><circle cx="728.7" cy="23.5" r="4.4"/><circle cx="800.3" cy="129.5" r="3.4"/><circle cx="816.7" cy="131.6" r="4.4"/><circle cx="796.3" cy="114.1" r="3"/><circle cx="778.2" cy="89.3" r="2.4"/><circle cx="620.9" cy="156.8" r="2.8"/><circle cx="632.1" cy="28.2" r="3"/><circle cx="727.9" cy="101.9" r="2.4"/><circle cx="795.1" cy="116.9" r="5.2"/><circle cx="689" cy="19.3" r="6.5"/><circle cx="777.5" cy="73.6" r="2.6"/><circle cx="815.7" cy="125.1" r="2.3"/><circle cx="718.9" cy="61.1" r="4.8"/><circle cx="734.5" cy="27.5" r="6.5"/><circle cx="841.9" cy="98.3" r="3.8"/><circle cx="639.2" cy="16.6" r="2.6"/><circle cx="849.1" cy="20.7" r="1.5"/><circle cx="770.4" cy="91.2" r="6.5"/><circle cx="834.2" cy="19.7" r="6.5"/><circle cx="727" cy="52.9" r="2.3"/><circle cx="729.9" cy="125.3" r="4.2"/><circle cx="834.8" cy="13.7" r="2.5"/><circle cx="701.6" cy="37.1" r="4.8"/><circle cx="849.8" cy="30.2" r="3.1"/><circle cx="709.9" cy="56.7" r="4.2"/><circle cx="827.1" cy="42" r="3.5"/><circle cx="630.7" cy="24.6" r="4.2"/><circle cx="849.2" cy="198" r="5.6"/></g><g fill="url(#c9)"><circle cx="843.8" cy="42.5" r="1.7"/><circle cx="722.7" cy="28.6" r="6.3"/><circle cx="849.2" cy="52.3" r="6.2"/><circle cx="865.2" cy="122.4" r="2.6"/><circle cx="697" cy="83.6" r="3.6"/><circle cx="809.9" cy="105.1" r="2.4"/><circle cx="827.3" cy="115.8" r="3.2"/><circle cx="732.9" cy="50.2" r="5.6"/><circle cx="729.7" cy="88.4" r="3.1"/><circle cx="713.6" cy="26.3" r="2.3"/><circle cx="827.4" cy="109.6" r="6.5"/><circle cx="752.7" cy="164.8" r="3.6"/><circle cx="691.1" cy="137.8" r="6.5"/><circle cx="651.2" cy="41.4" r="5.3"/><circle cx="800.3" cy="106" r="2.4"/><circle cx="851.8" cy="18.7" r="2.6"/><circle cx="834.8" cy="135.5" r="3"/><circle cx="830.4" cy="106.7" r="3.2"/><circle cx="698.3" cy="103.3" r="6.5"/><circle cx="847.9" cy="139.4" r="4.7"/><circle cx="765.3" cy="169.6" r="6.3"/><circle cx="845.8" cy="39.1" r="2.7"/><circle cx="676.2" cy="98" r="3.4"/><circle cx="691.1" cy="92.3" r="3"/><circle cx="781.3" cy="77.7" r="3.1"/><circle cx="851.3" cy="207.5" r="2.1"/><circle cx="829.2" cy="35.2" r="4.4"/><circle cx="858.6" cy="14.4" r="4.8"/><circle cx="826.5" cy="18.4" r="6.5"/><circle cx="730.7" cy="10.2" r="5.2"/><circle cx="716.2" cy="129.9" r="3.1"/><circle cx="702.1" cy="99.3" r="2"/><circle cx="675" cy="99.4" r="3.8"/><circle cx="700.2" cy="45.9" r="2.4"/><circle cx="707.7" cy="84.5" r="5.1"/><circle cx="674.6" cy="151.5" r="4.4"/><circle cx="700" cy="101" r="2.9"/><circle cx="638.3" cy="20.9" r="5.3"/><circle cx="677.5" cy="97.9" r="1.3"/><circle cx="696" cy="32.2" r="3.5"/><circle cx="726.8" cy="118.1" r="3.4"/><circle cx="846.7" cy="32.6" r="3.9"/><circle cx="805.4" cy="144.5" r="5.5"/><circle cx="713.3" cy="46.2" r="1.5"/><circle cx="705.2" cy="78.9" r="3.7"/><circle cx="820.2" cy="113.3" r="3.1"/><circle cx="643.7" cy="29.1" r="3.3"/><circle cx="815.6" cy="122.7" r="2.2"/><circle cx="809.4" cy="103.5" r="1.7"/><circle cx="709.8" cy="95.5" r="3.3"/><circle cx="710" cy="140.7" r="4.9"/><circle cx="697.2" cy="93.1" r="3.9"/><circle cx="843.8" cy="130.5" r="2.2"/><circle cx="685" cy="128.9" r="2"/><circle cx="838.9" cy="43.5" r="1.6"/><circle cx="861.2" cy="7.9" r="1.6"/><circle cx="703.1" cy="85.9" r="2.8"/><circle cx="825.8" cy="92.8" r="4.1"/><circle cx="654.1" cy="25.7" r="3"/><circle cx="855.9" cy="9.5" r="5.9"/><circle cx="796" cy="113.5" r="2.7"/><circle cx="640.7" cy="13.7" r="3.5"/><circle cx="849.8" cy="24.1" r="2.1"/><circle cx="702.7" cy="107.2" r="3.2"/><circle cx="651.6" cy="34.1" r="5.3"/><circle cx="867.6" cy="22.1" r="2.6"/><circle cx="839.7" cy="28" r="3.8"/><circle cx="694" cy="93.6" r="4.9"/><circle cx="839.5" cy="131.3" r="2.4"/><circle cx="686.8" cy="42.1" r="6.5"/><circle cx="739" cy="105.5" r="6.3"/><circle cx="684.1" cy="124.7" r="2.1"/><circle cx="773.7" cy="160.1" r="1.3"/><circle cx="680.1" cy="121.4" r="4.3"/><circle cx="854.3" cy="25.5" r="2.3"/><circle cx="697.7" cy="17" r="2.5"/><circle cx="798.8" cy="124" r="2.2"/><circle cx="840.3" cy="21.3" r="3.2"/><circle cx="706.4" cy="85.9" r="3.5"/><circle cx="833.1" cy="44.4" r="6.5"/><circle cx="647.4" cy="21.1" r="3.4"/><circle cx="635.6" cy="14.4" r="4.1"/><circle cx="722.3" cy="64" r="2.4"/></g><g fill="url(#c10)"><circle cx="778.6" cy="69.6" r="6.5"/><circle cx="863.9" cy="27.5" r="1.4"/><circle cx="696.4" cy="44.5" r="2.7"/><circle cx="729.1" cy="108.8" r="6.5"/><circle cx="852.3" cy="9.1" r="6"/><circle cx="797.8" cy="117.9" r="3.1"/><circle cx="735" cy="36.5" r="4.6"/><circle cx="776.4" cy="71.5" r="1.4"/><circle cx="705.9" cy="90.3" r="3.1"/><circle cx="687.5" cy="126.2" r="2.6"/><circle cx="863.6" cy="5.4" r="3.3"/><circle cx="692.4" cy="87.6" r="3.1"/><circle cx="698.8" cy="94.1" r="3.3"/><circle cx="845" cy="16.4" r="6.5"/><circle cx="804.2" cy="127.2" r="2.2"/><circle cx="858.1" cy="27.7" r="4.4"/><circle cx="637" cy="37.7" r="3.1"/><circle cx="713.6" cy="118.1" r="6.5"/><circle cx="714.9" cy="35.9" r="1.7"/><circle cx="833.9" cy="22.8" r="3.4"/><circle cx="841.2" cy="15" r="3.7"/><circle cx="734.7" cy="45.5" r="3.4"/><circle cx="644.7" cy="45.2" r="2.5"/><circle cx="685.6" cy="126.6" r="2.8"/><circle cx="830.6" cy="98.5" r="4.5"/><circle cx="856.5" cy="144.2" r="4.1"/><circle cx="693.4" cy="104.1" r="2.7"/><circle cx="680.9" cy="132.3" r="3.4"/><circle cx="800.1" cy="117.8" r="1.8"/><circle cx="830.7" cy="115.8" r="4.5"/><circle cx="692.2" cy="37.1" r="6.1"/><circle cx="813" cy="112.5" r="1.7"/><circle cx="693" cy="40" r="3"/><circle cx="819.8" cy="126.8" r="5"/><circle cx="740.6" cy="65" r="10"/><circle cx="781" cy="170" r="7"/><circle cx="810.3" cy="94" r="8.9"/><circle cx="849.7" cy="5.2" r="1.5"/><circle cx="820.3" cy="115.9" r="1.7"/><circle cx="841.3" cy="143.5" r="6.5"/><circle cx="714.1" cy="55.8" r="2.5"/><circle cx="851.2" cy="140.9" r="3.3"/><circle cx="722.6" cy="35.3" r="4"/><circle cx="719.4" cy="33.7" r="3.3"/><circle cx="848.3" cy="142.2" r="2.6"/><circle cx="691.8" cy="133.1" r="1.8"/><circle cx="731.1" cy="54" r="3.9"/><circle cx="832.1" cy="103.7" r="4.3"/><circle cx="697.3" cy="89.9" r="1.7"/><circle cx="802.1" cy="118.3" r="3.3"/><circle cx="701.7" cy="114" r="5.5"/><circle cx="708.2" cy="97.4" r="3.2"/><circle cx="863.3" cy="17.8" r="4.7"/><circle cx="831.3" cy="29.2" r="3.4"/><circle cx="646" cy="40.6" r="4.9"/><circle cx="776.9" cy="66.1" r="3.2"/><circle cx="721.5" cy="49.6" r="4.4"/><circle cx="848.8" cy="42.7" r="3.2"/><circle cx="694.2" cy="90.8" r="2.8"/><circle cx="843.3" cy="139.8" r="1.6"/><circle cx="689.3" cy="42" r="3.9"/><circle cx="821.1" cy="92.6" r="5.4"/><circle cx="752.7" cy="99.2" r="3.4"/><circle cx="867.2" cy="4" r="2.9"/><circle cx="721.7" cy="45.5" r="2.8"/><circle cx="680.6" cy="92.7" r="3.6"/><circle cx="722.2" cy="52" r="3.8"/><circle cx="712.4" cy="44.1" r="3.6"/><circle cx="710.3" cy="94.8" r="3.8"/><circle cx="704.1" cy="97.8" r="3.3"/></g><g fill="url(#c11)"><circle cx="814.2" cy="103.3" r="3.4"/><circle cx="707.4" cy="110.5" r="1.9"/><circle cx="636.7" cy="81.5" r="4.5"/><circle cx="660.7" cy="150" r="9.6"/><circle cx="719" cy="95.4" r="4.5"/><circle cx="769.7" cy="145" r="7"/><circle cx="826.7" cy="33.3" r="6.3"/><circle cx="826.9" cy="137.2" r="2.8"/><circle cx="729.1" cy="40.3" r="2.6"/><circle cx="708.5" cy="36.9" r="6.5"/><circle cx="704.4" cy="102.1" r="2.1"/><circle cx="730.1" cy="27.2" r="4.3"/><circle cx="708.2" cy="52.6" r="1.7"/><circle cx="818.8" cy="96.6" r="3.2"/><circle cx="725.4" cy="34.6" r="2.4"/><circle cx="853.4" cy="23.3" r="3.1"/><circle cx="858.6" cy="18.1" r="3.8"/><circle cx="806.5" cy="110.4" r="4.1"/><circle cx="634.7" cy="7.2" r="6.5"/><circle cx="802.4" cy="107.6" r="2.9"/><circle cx="866.1" cy="24.3" r="4.7"/><circle cx="842.1" cy="46.9" r="4.7"/><circle cx="805.9" cy="103.8" r="4"/><circle cx="861.9" cy="3.9" r="1.6"/><circle cx="847.2" cy="26.9" r="4.5"/><circle cx="704" cy="95.5" r="4.5"/><circle cx="870" cy="10.7" r="2.7"/><circle cx="808.4" cy="122.3" r="4.7"/><circle cx="786.6" cy="74.3" r="2.2"/><circle cx="859.6" cy="20.6" r="1.6"/><circle cx="832.2" cy="35.8" r="3.3"/><circle cx="669.6" cy="29.5" r="7.6"/><circle cx="773.5" cy="84" r="7.6"/><circle cx="838" cy="51" r="6.3"/><circle cx="713.9" cy="98.5" r="6"/><circle cx="791.5" cy="79.6" r="3.3"/><circle cx="842.8" cy="33.7" r="3.8"/></g><g fill="url(#c12)"><circle cx="705.1" cy="39.4" r="5.4"/><circle cx="705.7" cy="102.4" r="2.7"/><circle cx="718" cy="50.5" r="4.4"/><circle cx="805.7" cy="114.3" r="2.3"/><circle cx="839.5" cy="40.9" r="3.2"/><circle cx="709.3" cy="33.3" r="3.4"/><circle cx="818.4" cy="122.7" r="2.6"/><circle cx="840.3" cy="32.8" r="1.4"/><circle cx="813.6" cy="119.9" r="2.8"/><circle cx="848.5" cy="15" r="3.3"/><circle cx="687.4" cy="119.5" r="7"/><circle cx="848" cy="150" r="6.3"/><circle cx="859.6" cy="11.5" r="2.9"/><circle cx="730.3" cy="42.6" r="3.9"/><circle cx="853.4" cy="24" r="3.3"/><circle cx="825.1" cy="98.8" r="5.8"/><circle cx="709.2" cy="47.8" r="5.2"/><circle cx="855.3" cy="31.5" r="4.9"/><circle cx="861.5" cy="18.3" r="2.3"/><circle cx="856.6" cy="12.8" r="2.5"/><circle cx="711.8" cy="45.5" r="2.4"/><circle cx="813" cy="104.6" r="1.4"/><circle cx="728.5" cy="41.6" r="3.8"/><circle cx="800" cy="113.7" r="5"/><circle cx="810.3" cy="116.2" r="4.7"/><circle cx="719.3" cy="56.2" r="3.8"/><circle cx="706.9" cy="92.9" r="3.1"/><circle cx="815.6" cy="106.7" r="2.7"/><circle cx="815.6" cy="116" r="4"/><circle cx="818.4" cy="101.1" r="4.3"/><circle cx="822.9" cy="104.6" r="5.9"/><circle cx="857.4" cy="18.9" r="2.9"/><circle cx="722.6" cy="47.8" r="2.3"/><circle cx="731.5" cy="35.3" r="3.4"/><circle cx="812.2" cy="121.9" r="1.8"/><circle cx="712.3" cy="51.7" r="3.9"/><circle cx="818.7" cy="109.8" r="4.1"/><circle cx="722.5" cy="40.6" r="5.6"/><circle cx="859.4" cy="23" r="2"/><circle cx="716.1" cy="49.7" r="2.2"/><circle cx="853.6" cy="39" r="3.6"/><circle cx="726.7" cy="42.9" r="2.1"/><circle cx="716.4" cy="37.4" r="1.3"/><circle cx="863.8" cy="19.7" r="2.6"/><circle cx="717.4" cy="42.6" r="5.6"/><circle cx="724.9" cy="46.6" r="4.4"/></g></g></g>
<rect x="624.0" y="8.4" width="242" height="197.2" fill="none" stroke="#1f1b1a" stroke-width="0.8"/>
<text x="665.3" y="192" font-size="17.3" fill="#ffffff">CsPbBrI<tspan font-size="10.4" dy="3.2">2</tspan><tspan dy="-3.2">&#8203;</tspan>/PMMA</text>
<text x="824.4" y="191" font-size="17.3" fill="#ffffff">2 μm</text>
<rect x="836" y="196" width="13.8" height="3" fill="#fff"/>
<text x="756" y="243" font-size="16.5" text-anchor="middle" fill="#1a1a1a">(c)</text>
</g>
<g id="e">
<defs><clipPath id="ec"><rect x="336.0" y="290.0" width="238.6" height="197"/></clipPath><filter id="en" x="0" y="0" width="1" height="1" color-interpolation-filters="sRGB"><feTurbulence type="fractalNoise" baseFrequency="0.62" numOctaves="2" seed="5" result="t"/><feColorMatrix in="t" type="matrix" values="0.34 0 0 0 0.544  0.34 0 0 0 0.520  0.34 0 0 0 0.516  0 0 0 0 1"/></filter><filter id="em" x="0" y="0" width="1" height="1" color-interpolation-filters="sRGB"><feTurbulence type="fractalNoise" baseFrequency="0.48" numOctaves="2" seed="10" result="t"/><feColorMatrix in="t" type="matrix" values="0.95 0 0 0 -0.059  0.95 0 0 0 -0.075  0.95 0 0 0 -0.079  0 0 0 0 1"/></filter><filter id="eb" x="-0.5" y="-0.5" width="2" height="2"><feGaussianBlur stdDeviation="0.55"/></filter><radialGradient id="eg"><stop offset="0" stop-color="#1a1615" stop-opacity="0.75"/><stop offset="0.6" stop-color="#1a1615" stop-opacity="0.55"/><stop offset="1" stop-color="#1a1615" stop-opacity="0"/></radialGradient></defs>
<g clip-path="url(#ec)">
<rect x="336.0" y="290.0" width="238.6" height="197" fill="rgb(182, 176, 175)"/>
<rect x="336.0" y="290.0" width="238.6" height="197" filter="url(#en)"/>
<g filter="url(#eb)"><g fill="#262221"><ellipse cx="439.9" cy="481" rx="1.9" ry="1.9" transform="rotate(35 439.9 481)"/><ellipse cx="468.5" cy="343.9" rx="1.8" ry="1.8" transform="rotate(39 468.5 343.9)"/><ellipse cx="352.2" cy="423.4" rx="1.7" ry="1.9" transform="rotate(-6 352.2 423.4)"/><ellipse cx="512.4" cy="422.5" rx="1.4" ry="1.6" transform="rotate(30 512.4 422.5)"/><ellipse cx="559.6" cy="484.4" rx="1.4" ry="1.5" transform="rotate(30 559.6 484.4)"/><ellipse cx="467.9" cy="384.5" rx="2" ry="2.3" transform="rotate(-39 467.9 384.5)"/><ellipse cx="436.4" cy="414.1" rx="1.8" ry="2" transform="rotate(16 436.4 414.1)"/><ellipse cx="432.8" cy="305.3" rx="1.9" ry="1.8" transform="rotate(2 432.8 305.3)"/><ellipse cx="467.9" cy="311.7" rx="1.5" ry="1.9" transform="rotate(17 467.9 311.7)"/><ellipse cx="444.6" cy="421.1" rx="1.8" ry="1.9" transform="rotate(47 444.6 421.1)"/><ellipse cx="431.4" cy="406.8" rx="1.6" ry="1.8" transform="rotate(-7 431.4 406.8)"/><ellipse cx="423.7" cy="372.3" rx="1.5" ry="1.6" transform="rotate(-51 423.7 372.3)"/><ellipse cx="543.1" cy="389.5" rx="1.4" ry="1.8" transform="rotate(-38 543.1 389.5)"/><ellipse cx="571.3" cy="436.6" rx="2" ry="2.4" transform="rotate(-10 571.3 436.6)"/><ellipse cx="401.9" cy="386.2" rx="1.7" ry="2" transform="rotate(-44 401.9 386.2)"/><ellipse cx="353" cy="472.3" rx="1.3" ry="1.7" transform="rotate(16 353 472.3)"/><ellipse cx="480.4" cy="401.6" rx="1.4" ry="1.9" transform="rotate(-41 480.4 401.6)"/><ellipse cx="398.4" cy="352.7" rx="1.6" ry="2.2" transform="rotate(47 398.4 352.7)"/><ellipse cx="340.2" cy="485.9" rx="2.2" ry="2.6" transform="rotate(-12 340.2 485.9)"/><ellipse cx="374.3" cy="326.5" rx="1.4" ry="1.7" transform="rotate(8 374.3 326.5)"/><ellipse cx="380.2" cy="340.5" rx="1.7" ry="2.2" transform="rotate(32 380.2 340.5)"/><ellipse cx="476.1" cy="338.6" rx="1.3" ry="1.8" transform="rotate(-9 476.1 338.6)"/><ellipse cx="397.7" cy="321" rx="1.5" ry="1.9" transform="rotate(18 397.7 321)"/><ellipse cx="444.2" cy="324.4" rx="1.4" ry="1.7" transform="rotate(-8 444.2 324.4)"/><ellipse cx="559.3" cy="457" rx="1.3" ry="1.5" transform="rotate(32 559.3 457)"/><ellipse cx="372.9" cy="345.7" rx="1.4" ry="1.6" transform="rotate(-17 372.9 345.7)"/><ellipse cx="392.3" cy="394.7" rx="2" ry="2.4" transform="rotate(35 392.3 394.7)"/><ellipse cx="377" cy="455.5" rx="1.4" ry="1.7" transform="rotate(0 377 455.5)"/><ellipse cx="447.4" cy="377.3" rx="1.6" ry="2.2" transform="rotate(13 447.4 377.3)"/><ellipse cx="563.5" cy="418.4" rx="1.4" ry="1.7" transform="rotate(2 563.5 418.4)"/><ellipse cx="347.9" cy="311.1" rx="1.4" ry="1.7" transform="rotate(38 347.9 311.1)"/><ellipse cx="422.1" cy="311" rx="1.7" ry="2.1" transform="rotate(-58 422.1 311)"/><ellipse cx="496.2" cy="450.8" rx="1.4" ry="1.8" transform="rotate(18 496.2 450.8)"/><ellipse cx="529.7" cy="401.1" rx="1.3" ry="1.6" transform="rotate(-6 529.7 401.1)"/><ellipse cx="533.3" cy="397.7" rx="1.8" ry="1.8" transform="rotate(-41 533.3 397.7)"/><ellipse cx="340.8" cy="400.5" rx="1.6" ry="1.9" transform="rotate(24 340.8 400.5)"/><ellipse cx="452.2" cy="432.5" rx="2" ry="2.4" transform="rotate(-32 452.2 432.5)"/><ellipse cx="432.9" cy="435.7" rx="1.4" ry="1.8" transform="rotate(-7 432.9 435.7)"/><ellipse cx="362.8" cy="481.9" rx="1.4" ry="1.6" transform="rotate(-48 362.8 481.9)"/><ellipse cx="362" cy="292.6" rx="1.4" ry="1.4" transform="rotate(-41 362 292.6)"/><ellipse cx="437.9" cy="433" rx="1.5" ry="1.8" transform="rotate(56 437.9 433)"/><ellipse cx="564.7" cy="443.1" rx="1.5" ry="1.6" transform="rotate(-35 564.7 443.1)"/><ellipse cx="434.7" cy="371.3" rx="1.3" ry="1.5" transform="rotate(49 434.7 371.3)"/><ellipse cx="342.4" cy="431.6" rx="1.4" ry="1.7" transform="rotate(1 342.4 431.6)"/><ellipse cx="522.4" cy="411.8" rx="1.3" ry="1.7" transform="rotate(-59 522.4 411.8)"/><ellipse cx="387.6" cy="420.6" rx="1.5" ry="1.5" transform="rotate(55 387.6 420.6)"/><ellipse cx="446.9" cy="345" rx="1.5" ry="1.6" transform="rotate(-45 446.9 345)"/><ellipse cx="549.4" cy="454.7" rx="1.6" ry="1.9" transform="rotate(51 549.4 454.7)"/><ellipse cx="446.5" cy="406.7" rx="1.4" ry="1.7" transform="rotate(-3 446.5 406.7)"/><ellipse cx="514.4" cy="403.6" rx="1.7" ry="2.1" transform="rotate(-3 514.4 403.6)"/><ellipse cx="571.6" cy="444.4" rx="2" ry="2.4" transform="rotate(17 571.6 444.4)"/><ellipse cx="409.6" cy="329" rx="1.9" ry="2.6" transform="rotate(-39 409.6 329)"/><ellipse cx="490.6" cy="405.1" rx="1.4" ry="1.8" transform="rotate(58 490.6 405.1)"/><ellipse cx="529.6" cy="418.5" rx="1.4" ry="1.7" transform="rotate(17 529.6 418.5)"/><ellipse cx="386" cy="311.5" rx="1.9" ry="2.3" transform="rotate(12 386 311.5)"/><ellipse cx="437.5" cy="452.1" rx="1.3" ry="1.8" transform="rotate(59 437.5 452.1)"/><ellipse cx="374.6" cy="364.1" rx="1.8" ry="2.6" transform="rotate(-1 374.6 364.1)"/><ellipse cx="357" cy="441.3" rx="2.1" ry="2.3" transform="rotate(-3 357 441.3)"/><ellipse cx="421.8" cy="355.5" rx="1.6" ry="1.9" transform="rotate(-55 421.8 355.5)"/><ellipse cx="562.5" cy="413" rx="1.4" ry="1.7" transform="rotate(-11 562.5 413)"/><ellipse cx="540.9" cy="433.1" rx="1.9" ry="2.2" transform="rotate(-30 540.9 433.1)"/></g><path d="M527.5,448.5h0M404.6,301.5h0M413.9,448.2h0M372.3,427.2h0M446.7,334.3h0M362.3,426h0M427,430.1h0M505.7,456.3h0M461.7,341.3h0M337.6,329.1h0M463.6,352.6h0M348.9,299.4h0M478.5,433.3h0M352.5,328.5h0M455.7,398.1h0M387.8,372.4h0M516.8,451.5h0M461,326.9h0M415.6,373.9h0M498.4,444.7h0M441.4,304.1h0M561.1,388.9h0M472.1,402.6h0M510.8,484.5h0M356.8,448.6h0M458.9,304.3h0M415.7,404.7h0M387.3,483.6h0M397.4,305h0M469.6,298.6h0M352.7,359.1h0M367,332.2h0M381.8,373.5h0M521.2,399.6h0M393.6,417.8h0M366.5,359.9h0M409.5,385.8h0M563.3,401.2h0M339.6,333.8h0M460,311h0M463.3,299h0M417.2,319.4h0M432.9,337.9h0M505.3,429.2h0M383.8,365.6h0M402.3,449.9h0M359.6,359.3h0M372.7,433.2h0M341,386.5h0M416.2,313.7h0M337.4,357h0M569.1,399.7h0M339.7,405.5h0M371,453.5h0M444.7,432.2h0M469.6,438.6h0M346,381.2h0M408,316.7h0M362.5,322.6h0M467.1,409h0M549.4,433.8h0M534.6,427.9h0M399.6,441.4h0M392.5,321.6h0M339.4,296.4h0M426.8,423.8h0M344,391.5h0M418.2,296.4h0M436.6,359.4h0M459.5,452.8h0M424.5,484.9h0M449.8,446.5h0M375.2,466.7h0M365.4,380.8h0M564.8,465.1h0M384.4,407.6h0M350.3,437.5h0M349.6,394.4h0M369,395.1h0M552.9,418.7h0M371.7,311.3h0M342.3,412.7h0M469.2,417.3h0M405.7,469.3h0M387.5,324.7h0M386.4,444h0M528.4,443.2h0M353.7,482.9h0M374.7,399.3h0M341.4,324.5h0M504.4,483.9h0M448,293.1h0M539.9,443.7h0M380.7,426.6h0M517.4,428h0M539.6,420.6h0M397.3,313.4h0M549.2,447.1h0M340,437h0M525.1,468.7h0M377.5,417.4h0M439.3,310.1h0M430,387.3h0M417.8,453.4h0M355.2,368.9h0M545.6,483.6h0M454.5,369.5h0M417.6,308.7h0M479.9,379.7h0" stroke="#33302f" stroke-width="2.7" stroke-linecap="round" fill="none"/><path d="M433.6,299.8h0M573.4,418.2h0M453.6,423h0M390.8,465.6h0M456.1,376.2h0M457,389.7h0M340.4,473h0M558.6,399.5h0M426.1,446.7h0M412.1,369.4h0M402.9,378.2h0M346.2,320.1h0M385.1,300.5h0M449.9,453.5h0M467.7,422.1h0M398.9,300.1h0M384.7,433.9h0M382.8,354.1h0M378.6,291h0M485,389.9h0M425.4,361.5h0M402.6,335.7h0M465.1,377.2h0M434,447.2h0M395.9,465h0M512.4,430.1h0M455.3,478.2h0M425.3,297.8h0M394.7,452h0M557.4,450.4h0M399.6,405h0M531.2,478.2h0M376,392.2h0M429.7,380.3h0M345.9,421.7h0M464.4,439.9h0M498.3,403.6h0M438.5,291.2h0M418.1,386.4h0M517.6,416.5h0M478.8,420.2h0M454.8,315.6h0M521.7,459.7h0M411.5,401.4h0M420.8,379.9h0M539.3,396.4h0M459.3,402.3h0M450.9,384.1h0M405,402.8h0M522.3,444h0M523.1,485.8h0M345.1,482.4h0M556.6,437.3h0M353.9,408.7h0M349.4,367.2h0M398.6,420.8h0M366,414.4h0M407,310.5h0M382.5,395.7h0M461.2,476.4h0M460.4,293.4h0M398.7,367h0M342.7,302.9h0M352,318.5h0M413.6,396.2h0M446,382.7h0M414,380.8h0M429.4,418.8h0M382.7,323.1h0M402.3,428.2h0" stroke="#5e5958" stroke-width="2.0" stroke-linecap="round" fill="none"/></g>
<rect x="484" y="290.0" width="90.6" height="94" fill="rgb(106, 102, 101)"/>
<rect x="484" y="290.0" width="90.6" height="94" filter="url(#em)"/>
<ellipse cx="531" cy="336" rx="23" ry="21" fill="url(#eg)"/>
</g>
<path d="M529.4,317.6L523,337.7M531.2,318.2L524.8,338.3" stroke="#cfcbca" stroke-width="0.55" fill="none"/>
<path d="M505.3,321L516.9,325.7" stroke="#fff" stroke-width="1.5" fill="none"/><path d="M523.9,328.6L515.6,328.8L518.1,322.7Z" fill="#fff"/>
<path d="M547,338.3L534,333" stroke="#fff" stroke-width="1.5" fill="none"/><path d="M527,330.1L535.3,329.9L532.8,336Z" fill="#fff"/>
<text x="519.4" y="312" font-size="17" fill="#fff">2.98 A</text>
<text x="529" y="373.6" font-size="17" fill="#fff">5 nm</text>
<rect x="532" y="377" width="31.6" height="3.4" fill="#fff"/>
<rect x="371.4" y="457" width="128.8" height="18.6" fill="#b4aead"/>
<text x="374" y="472" font-size="17" fill="#1a1a1a">MAPbBr<tspan font-size="10.2" dy="3.2">3</tspan><tspan dy="-3.2">&#8203;</tspan>/PMMA</text>
<text x="521" y="469" font-size="17" fill="#1a1a1a">0.2 μm</text>
<rect x="527.4" y="474" width="42.6" height="4" fill="#161211"/>
<text x="464.7" y="523" font-size="16.5" text-anchor="middle" fill="#1a1a1a">(e)</text>
</g>
<g id="f">
<defs><clipPath id="fc"><rect x="621.4" y="289.4" width="244.8" height="195.6"/></clipPath><filter id="fn" x="0" y="0" width="1" height="1" color-interpolation-filters="sRGB"><feTurbulence type="fractalNoise" baseFrequency="0.62" numOctaves="2" seed="9" result="t"/><feColorMatrix in="t" type="matrix" values="0.34 0 0 0 0.571  0.34 0 0 0 0.548  0.34 0 0 0 0.544  0 0 0 0 1"/></filter><filter id="fm" x="0" y="0" width="1" height="1" color-interpolation-filters="sRGB"><feTurbulence type="fractalNoise" baseFrequency="0.48" numOctaves="2" seed="14" result="t"/><feColorMatrix in="t" type="matrix" values="0.95 0 0 0 -0.083  0.95 0 0 0 -0.099  0.95 0 0 0 -0.102  0 0 0 0 1"/></filter><filter id="fb" x="-0.5" y="-0.5" width="2" height="2"><feGaussianBlur stdDeviation="0.55"/></filter><radialGradient id="fg"><stop offset="0" stop-color="#1a1615" stop-opacity="0.75"/><stop offset="0.6" stop-color="#1a1615" stop-opacity="0.55"/><stop offset="1" stop-color="#1a1615" stop-opacity="0"/></radialGradient></defs>
<g clip-path="url(#fc)">
<rect x="621.4" y="289.4" width="244.8" height="195.6" fill="rgb(189, 183, 182)"/>
<rect x="621.4" y="289.4" width="244.8" height="195.6" filter="url(#fn)"/>
<g filter="url(#fb)"><g fill="#262221"><ellipse cx="768.8" cy="440.9" rx="1.5" ry="1.5" transform="rotate(45 768.8 440.9)"/><ellipse cx="623.8" cy="451.2" rx="2" ry="2.3" transform="rotate(-48 623.8 451.2)"/><ellipse cx="812.4" cy="481.6" rx="2.2" ry="2.3" transform="rotate(41 812.4 481.6)"/><ellipse cx="637.5" cy="314.9" rx="2" ry="2.1" transform="rotate(-24 637.5 314.9)"/><ellipse cx="687.3" cy="323.2" rx="1.4" ry="1.7" transform="rotate(-42 687.3 323.2)"/><ellipse cx="624.2" cy="325.1" rx="1.4" ry="1.7" transform="rotate(-46 624.2 325.1)"/><ellipse cx="842" cy="407.1" rx="1.3" ry="1.5" transform="rotate(47 842 407.1)"/><ellipse cx="769.5" cy="401.1" rx="1.5" ry="1.7" transform="rotate(17 769.5 401.1)"/><ellipse cx="653.7" cy="432" rx="1.5" ry="1.8" transform="rotate(7 653.7 432)"/><ellipse cx="698" cy="332.7" rx="1.5" ry="1.8" transform="rotate(-53 698 332.7)"/><ellipse cx="796.1" cy="482.9" rx="1.3" ry="1.4" transform="rotate(-22 796.1 482.9)"/><ellipse cx="828.6" cy="408.3" rx="1.4" ry="1.5" transform="rotate(-11 828.6 408.3)"/><ellipse cx="654.7" cy="342.6" rx="1.3" ry="1.6" transform="rotate(-21 654.7 342.6)"/><ellipse cx="712.3" cy="377.4" rx="1.8" ry="2" transform="rotate(8 712.3 377.4)"/><ellipse cx="700.9" cy="415.3" rx="1.3" ry="1.7" transform="rotate(-53 700.9 415.3)"/><ellipse cx="650.9" cy="406" rx="1.7" ry="1.8" transform="rotate(23 650.9 406)"/><ellipse cx="723.8" cy="399.6" rx="1.6" ry="1.8" transform="rotate(21 723.8 399.6)"/><ellipse cx="850.2" cy="480.5" rx="1.8" ry="2.2" transform="rotate(43 850.2 480.5)"/><ellipse cx="664.4" cy="305" rx="1.3" ry="1.8" transform="rotate(-4 664.4 305)"/><ellipse cx="748.2" cy="443.6" rx="2" ry="2.3" transform="rotate(34 748.2 443.6)"/><ellipse cx="700.8" cy="445" rx="1.4" ry="1.6" transform="rotate(-29 700.8 445)"/><ellipse cx="735.3" cy="361.8" rx="1.8" ry="2.4" transform="rotate(-11 735.3 361.8)"/><ellipse cx="746.4" cy="421" rx="1.5" ry="1.9" transform="rotate(37 746.4 421)"/><ellipse cx="753.5" cy="483.1" rx="1.7" ry="1.7" transform="rotate(47 753.5 483.1)"/><ellipse cx="679" cy="432.3" rx="1.9" ry="2.2" transform="rotate(-13 679 432.3)"/><ellipse cx="669.7" cy="349.1" rx="1.6" ry="1.8" transform="rotate(-17 669.7 349.1)"/><ellipse cx="749.3" cy="459.8" rx="2" ry="2.3" transform="rotate(-51 749.3 459.8)"/><ellipse cx="672.1" cy="399" rx="1.3" ry="1.7" transform="rotate(-13 672.1 399)"/><ellipse cx="647.3" cy="296" rx="1.7" ry="2.2" transform="rotate(-55 647.3 296)"/><ellipse cx="710.4" cy="454.9" rx="1.3" ry="1.7" transform="rotate(29 710.4 454.9)"/><ellipse cx="660" cy="317.9" rx="1.5" ry="1.7" transform="rotate(-5 660 317.9)"/><ellipse cx="702.7" cy="304.1" rx="1.4" ry="1.7" transform="rotate(-13 702.7 304.1)"/><ellipse cx="680.4" cy="426" rx="1.5" ry="1.6" transform="rotate(-11 680.4 426)"/><ellipse cx="666.4" cy="472.2" rx="1.3" ry="1.6" transform="rotate(-18 666.4 472.2)"/><ellipse cx="760.4" cy="312.2" rx="1.4" ry="1.5" transform="rotate(35 760.4 312.2)"/><ellipse cx="727" cy="376.2" rx="1.7" ry="2.2" transform="rotate(-27 727 376.2)"/><ellipse cx="656.1" cy="459.6" rx="1.6" ry="2.2" transform="rotate(-17 656.1 459.6)"/><ellipse cx="777.5" cy="393.8" rx="1.5" ry="1.6" transform="rotate(-42 777.5 393.8)"/><ellipse cx="658.6" cy="338.6" rx="1.4" ry="1.7" transform="rotate(8 658.6 338.6)"/><ellipse cx="675.6" cy="375.8" rx="1.5" ry="1.6" transform="rotate(21 675.6 375.8)"/><ellipse cx="713.5" cy="419.6" rx="1.5" ry="1.6" transform="rotate(32 713.5 419.6)"/><ellipse cx="625.9" cy="403.1" rx="1.4" ry="1.6" transform="rotate(-33 625.9 403.1)"/><ellipse cx="712.4" cy="429.7" rx="1.8" ry="2.1" transform="rotate(-52 712.4 429.7)"/><ellipse cx="679.8" cy="386" rx="1.5" ry="1.8" transform="rotate(37 679.8 386)"/><ellipse cx="648.6" cy="446.7" rx="1.3" ry="1.7" transform="rotate(53 648.6 446.7)"/><ellipse cx="710.5" cy="365.3" rx="1.4" ry="1.6" transform="rotate(-41 710.5 365.3)"/><ellipse cx="760.9" cy="295.4" rx="1.6" ry="2.1" transform="rotate(-31 760.9 295.4)"/><ellipse cx="823.2" cy="445.9" rx="1.4" ry="1.7" transform="rotate(-12 823.2 445.9)"/><ellipse cx="667.7" cy="334.8" rx="1.4" ry="1.4" transform="rotate(-45 667.7 334.8)"/><ellipse cx="759" cy="414.3" rx="1.7" ry="2" transform="rotate(-21 759 414.3)"/><ellipse cx="684.7" cy="442.9" rx="1.5" ry="2.2" transform="rotate(18 684.7 442.9)"/><ellipse cx="738.6" cy="367.6" rx="1.6" ry="2.1" transform="rotate(34 738.6 367.6)"/><ellipse cx="821.8" cy="386.9" rx="1.8" ry="2" transform="rotate(8 821.8 386.9)"/><ellipse cx="741.8" cy="360.1" rx="1.4" ry="1.6" transform="rotate(-37 741.8 360.1)"/><ellipse cx="707.3" cy="449.2" rx="1.5" ry="1.5" transform="rotate(17 707.3 449.2)"/><ellipse cx="753.3" cy="439.3" rx="1.5" ry="1.6" transform="rotate(-4 753.3 439.3)"/><ellipse cx="697.1" cy="380.2" rx="1.7" ry="1.8" transform="rotate(-48 697.1 380.2)"/><ellipse cx="721.9" cy="328.6" rx="1.9" ry="2.2" transform="rotate(-36 721.9 328.6)"/><ellipse cx="795.7" cy="475.3" rx="1.6" ry="1.8" transform="rotate(-43 795.7 475.3)"/><ellipse cx="847.2" cy="399.5" rx="1.4" ry="1.4" transform="rotate(-9 847.2 399.5)"/><ellipse cx="742.7" cy="387.8" rx="1.6" ry="2.2" transform="rotate(-12 742.7 387.8)"/><ellipse cx="743.5" cy="314.8" rx="1.8" ry="2" transform="rotate(0 743.5 314.8)"/><ellipse cx="682.8" cy="332.5" rx="1.8" ry="2.2" transform="rotate(12 682.8 332.5)"/><ellipse cx="748.9" cy="469.2" rx="1.6" ry="2" transform="rotate(-20 748.9 469.2)"/><ellipse cx="717.3" cy="453.1" rx="1.4" ry="1.6" transform="rotate(3 717.3 453.1)"/><ellipse cx="720.5" cy="407.2" rx="1.5" ry="1.9" transform="rotate(-30 720.5 407.2)"/><ellipse cx="850.5" cy="447.6" rx="2" ry="2" transform="rotate(-45 850.5 447.6)"/><ellipse cx="696.2" cy="338.7" rx="1.6" ry="2.1" transform="rotate(49 696.2 338.7)"/><ellipse cx="677.9" cy="341" rx="1.7" ry="2.1" transform="rotate(-34 677.9 341)"/><ellipse cx="715.7" cy="355.3" rx="1.5" ry="1.5" transform="rotate(25 715.7 355.3)"/><ellipse cx="699.2" cy="313" rx="1.8" ry="1.9" transform="rotate(25 699.2 313)"/><ellipse cx="678.8" cy="363.1" rx="1.4" ry="1.8" transform="rotate(-27 678.8 363.1)"/><ellipse cx="688.7" cy="345.7" rx="1.9" ry="2.1" transform="rotate(-10 688.7 345.7)"/><ellipse cx="716.3" cy="346.5" rx="1.4" ry="1.6" transform="rotate(57 716.3 346.5)"/><ellipse cx="691.1" cy="363" rx="1.6" ry="2.1" transform="rotate(59 691.1 363)"/><ellipse cx="813.1" cy="422.1" rx="1.5" ry="1.9" transform="rotate(37 813.1 422.1)"/><ellipse cx="717.4" cy="375.6" rx="1.5" ry="1.8" transform="rotate(0 717.4 375.6)"/><ellipse cx="629.5" cy="299" rx="1.6" ry="2.2" transform="rotate(41 629.5 299)"/><ellipse cx="837.3" cy="402.1" rx="1.5" ry="1.8" transform="rotate(57 837.3 402.1)"/><ellipse cx="647.7" cy="370.1" rx="1.5" ry="1.8" transform="rotate(-21 647.7 370.1)"/><ellipse cx="839.2" cy="413.4" rx="1.6" ry="1.9" transform="rotate(32 839.2 413.4)"/></g><path d="M712.3,407.7h0M654.6,334.2h0M848.5,438.1h0M668.4,405.8h0M753.5,409.8h0M773.7,389.2h0M760.5,356.6h0M721.2,417.1h0M800.4,454h0M675.2,403h0M747.9,356.4h0M743.9,400.5h0M853.7,387.4h0M712,397.6h0M759.2,302.2h0M720.5,316.7h0M652.7,372.2h0M719.5,426.9h0M649.6,465.8h0M698.5,389.3h0M732.8,449h0M786,423.6h0M745.6,411.5h0M825.7,438.1h0M812.1,393.6h0M753.5,310.7h0M733.3,391.2h0M764.8,369.6h0M643.8,475.3h0M792.8,410.9h0M744.6,428.4h0M653.2,483.5h0M622.7,395.5h0M684.1,353.6h0M752.3,415h0M791.3,423h0M679.6,445.5h0M692.9,371.7h0M844.4,429.6h0M633.5,348.8h0M637.4,376h0M741.8,302.8h0M682.1,308.9h0M770.3,418.2h0M787.6,406.9h0M816.4,386.9h0M830.4,422.8h0M740.7,329.9h0M643.9,354.8h0M852.2,441.7h0M697.4,438.8h0M713,477.5h0M836.6,482.2h0M813,429.8h0M749.3,389.7h0M691.1,300.6h0M656.5,368.5h0M833.9,405.9h0M656.6,291.1h0M628.3,310.7h0M705.2,380.6h0M822.9,429.4h0M721.4,450.1h0M800.6,436.7h0M662.6,426.4h0M773.4,435.4h0M656.1,410.5h0M669.6,375.2h0M753.7,421.5h0M740.7,455.6h0M835.7,467.7h0M645.6,318.9h0M855.6,393.6h0M779,436.5h0M758.5,403.8h0M738,321.8h0M631,478.3h0M647.7,397.2h0M669.9,464.4h0M756.6,430.6h0M667.3,342.5h0M730.8,366.6h0M731.1,311.3h0M799.4,414.3h0M678.1,335.9h0M652.9,348.4h0M791.4,387.9h0M737.2,472.9h0M628.1,381.9h0M742.3,334.6h0M647.7,455.6h0M818.2,461.9h0M768,448.3h0M636,435.5h0M641.9,362h0M677.4,468.9h0M821.3,398.4h0M765,409.1h0M864.2,392.2h0" stroke="#33302f" stroke-width="2.7" stroke-linecap="round" fill="none"/><path d="M844.7,457h0M728.6,384.3h0M773.8,441.8h0M785.7,445.3h0M714,301h0M804.1,424.6h0M747.7,293.3h0M741.5,479.6h0M679.8,438.3h0M737.9,297.2h0M673.8,423.9h0M663.6,446.5h0M751.8,351.8h0M707.4,420.6h0M643,417.8h0M624.2,415.4h0M636.1,388h0M817.5,418.7h0M636.9,365.5h0M656.9,389.5h0M644.4,437.6h0M790.8,479.9h0M734.4,333.1h0M689.6,356.1h0M854.4,405.4h0M649,343.4h0M691.4,435.1h0M631.7,443.6h0M686.7,432.9h0M649.4,330.3h0M735.2,342.3h0M688.8,452.9h0M747.6,377.7h0M718.5,432.9h0M740.9,347.6h0M769.4,377.5h0M810.9,417.2h0M682,413.4h0M718.5,479.3h0M666.9,353.7h0M682.5,381.7h0M705.3,321.2h0M721.2,383h0M637.4,329h0M715.6,338.5h0M638.5,350.8h0M737.6,439.3h0M715.6,315h0M690.1,417.2h0M809.5,440.2h0M696.7,411.7h0M737.9,416.7h0M681.6,403.2h0M766.6,478.9h0M682.2,321.6h0M726.9,432.5h0M671,313.5h0M674.9,296.2h0M689,410.9h0M819.1,483.4h0M763.7,336.4h0M698.1,294.1h0M697.3,305.7h0M750.7,365.4h0M656,354.1h0M625.6,479.3h0M735.3,379.8h0M748.3,342.2h0M632.3,395.8h0M678.2,371.2h0" stroke="#5e5958" stroke-width="2.0" stroke-linecap="round" fill="none"/></g>
<rect x="771.6" y="289.4" width="94.6" height="93.6" fill="rgb(100, 96, 95)"/>
<rect x="771.6" y="289.4" width="94.6" height="93.6" filter="url(#fm)"/>
<ellipse cx="812" cy="340" rx="40" ry="38" fill="url(#fg)"/>
</g>
<path d="M824.4,318.4L799.7,346.6M825.4,319.3L800.7,347.5M826.4,320.2L801.7,348.4" stroke="#e2dedd" stroke-opacity="0.7" stroke-width="0.45" fill="none"/>
<path d="M790,317.1L802.5,328.3" stroke="#fff" stroke-width="1.5" fill="none"/><path d="M808.9,334L800.2,330.9L804.8,325.7Z" fill="#fff"/>
<path d="M830.4,351.4L819.1,342.9" stroke="#fff" stroke-width="1.5" fill="none"/><path d="M812.2,337.8L821.2,340.1L817,345.8Z" fill="#fff"/>
<text x="812" y="312.4" font-size="17" fill="#fff">3.51 A</text>
<text x="826" y="372" font-size="17" fill="#fff">5 nm</text>
<rect x="832" y="377.4" width="25" height="3.2" fill="#fff"/>
<rect x="665" y="456.4" width="129.6" height="19.2" fill="#b9b3b2"/>
<text x="667.4" y="472" font-size="17" fill="#1a1a1a">CsPbBrI<tspan font-size="10.2" dy="3.2">2</tspan><tspan dy="-3.2">&#8203;</tspan>/PMMA</text>
<text x="811.6" y="468" font-size="17" fill="#1a1a1a">0.2 μm</text>
<rect x="817.6" y="472.4" width="43.4" height="3.8" fill="#161211"/>
<text x="754.4" y="523" font-size="16.5" text-anchor="middle" fill="#1a1a1a">(f)</text>
</g>
</g>
</svg>
</body></html>
